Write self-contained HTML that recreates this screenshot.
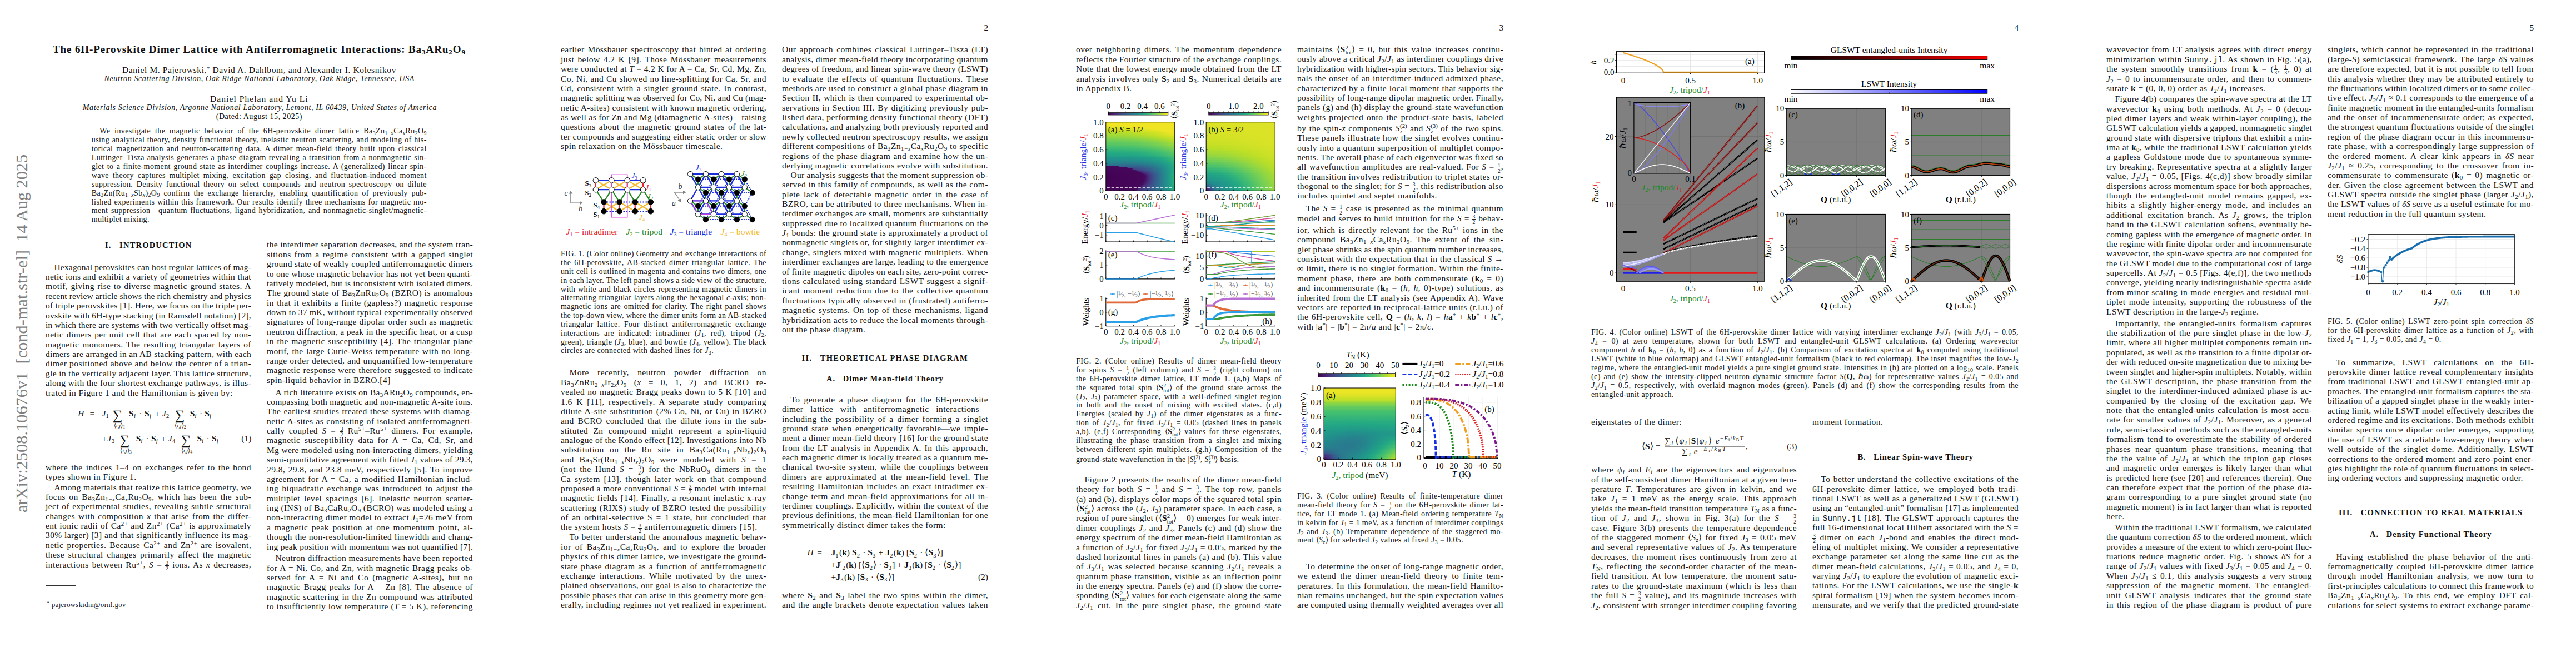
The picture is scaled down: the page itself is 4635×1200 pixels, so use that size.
<!DOCTYPE html>
<html><head><meta charset="utf-8"><title>paper</title><style>
html,body{margin:0;padding:0;background:#fff;}
body{width:4635px;height:1200px;position:relative;overflow:hidden;font-family:"Liberation Serif",serif;color:#111;}
.t{position:absolute;white-space:nowrap;line-height:20px;height:20px;}
.j{text-align:justify;text-align-last:justify;}
.t sub,.t sup{font-size:70%;line-height:0;vertical-align:baseline;position:relative;}
.t sub{top:0.28em;}
.t sup{top:-0.42em;}
.fr{display:inline-block;text-indent:0;font-size:62%;line-height:0.95em;vertical-align:-0.55em;text-align:center;text-align-last:center;letter-spacing:0;}
.fr .fn{display:block;border-bottom:0.07em solid #222;padding:0 0.1em;}
.fr .fd{display:block;}
.ss{display:inline-flex;flex-direction:column;font-size:70%;line-height:0.9;position:relative;top:-0.5em;letter-spacing:0;text-indent:0;vertical-align:baseline;}
.ss span{display:block;}
.tt{font-family:"Liberation Mono",monospace;font-size:92%;letter-spacing:0;}
.pg{position:absolute;top:0;width:927px;height:1200px;}

.c{position:absolute;white-space:nowrap;line-height:20px;height:20px;text-align:center;}
</style></head>
<body>
<div style="position:absolute;left:1989.8px;top:219.70px;width:124.0px;height:2.59px;background:linear-gradient(90deg,#f1e525 0.0%,#f1e525 2.5%,#f1e525 5.0%,#f1e525 7.5%,#f1e525 10.0%,#f1e525 12.5%,#f1e525 15.0%,#f0e525 17.5%,#f0e525 20.0%,#f0e525 22.5%,#f0e525 25.0%,#f0e525 27.5%,#f0e525 30.0%,#f0e525 32.5%,#f0e525 35.0%,#f0e525 37.5%,#f0e525 40.0%,#f0e525 42.5%,#f0e525 45.0%,#f0e525 47.5%,#f0e525 50.0%,#f0e525 52.5%,#f0e525 55.0%,#f0e525 57.5%,#f0e525 60.0%,#f0e525 62.5%,#f0e525 65.0%,#f0e525 67.5%,#f0e525 70.0%,#f0e525 72.5%,#f0e525 75.0%,#f0e525 77.5%,#f0e525 80.0%,#f0e525 82.5%,#f0e525 85.0%,#f0e525 87.5%,#f0e525 90.0%,#f0e525 92.5%,#f0e525 95.0%,#f0e525 97.5%,#f0e525 100.0%)"></div>
<div style="position:absolute;left:1989.8px;top:221.69px;width:124.0px;height:2.59px;background:linear-gradient(90deg,#f1e525 0.0%,#f1e525 2.5%,#f1e525 5.0%,#f1e525 7.5%,#f1e525 10.0%,#f1e525 12.5%,#f1e525 15.0%,#f0e525 17.5%,#f0e525 20.0%,#f0e525 22.5%,#f0e525 25.0%,#f0e525 27.5%,#f0e525 30.0%,#f0e525 32.5%,#f0e525 35.0%,#f0e525 37.5%,#f0e525 40.0%,#f0e525 42.5%,#f0e525 45.0%,#f0e525 47.5%,#f0e525 50.0%,#f0e525 52.5%,#f0e525 55.0%,#f0e525 57.5%,#f0e525 60.0%,#f0e525 62.5%,#f0e525 65.0%,#f0e525 67.5%,#f0e525 70.0%,#f0e525 72.5%,#f0e525 75.0%,#f0e525 77.5%,#f0e525 80.0%,#f0e525 82.5%,#f0e525 85.0%,#f0e525 87.5%,#f0e525 90.0%,#f0e525 92.5%,#f0e525 95.0%,#f0e525 97.5%,#f0e525 100.0%)"></div>
<div style="position:absolute;left:1989.8px;top:223.69px;width:124.0px;height:2.59px;background:linear-gradient(90deg,#f1e525 0.0%,#f1e525 2.5%,#f1e525 5.0%,#f1e525 7.5%,#f1e525 10.0%,#f1e525 12.5%,#f0e525 15.0%,#f0e525 17.5%,#f0e525 20.0%,#f0e525 22.5%,#f0e525 25.0%,#f0e525 27.5%,#f0e525 30.0%,#f0e525 32.5%,#f0e525 35.0%,#f0e525 37.5%,#f0e525 40.0%,#f0e525 42.5%,#f0e525 45.0%,#f0e525 47.5%,#f0e525 50.0%,#f0e525 52.5%,#f0e525 55.0%,#f0e525 57.5%,#f0e525 60.0%,#f0e525 62.5%,#f0e525 65.0%,#f0e525 67.5%,#f0e525 70.0%,#f0e525 72.5%,#f0e525 75.0%,#f0e525 77.5%,#f0e525 80.0%,#f0e525 82.5%,#f0e525 85.0%,#f0e525 87.5%,#f0e525 90.0%,#f0e525 92.5%,#f0e525 95.0%,#f0e525 97.5%,#f0e525 100.0%)"></div>
<div style="position:absolute;left:1989.8px;top:225.68px;width:124.0px;height:2.59px;background:linear-gradient(90deg,#e8e425 0.0%,#e8e425 2.5%,#e8e425 5.0%,#e8e425 7.5%,#e9e425 10.0%,#e9e425 12.5%,#e9e525 15.0%,#eae525 17.5%,#eae525 20.0%,#ebe525 22.5%,#ebe525 25.0%,#ece525 27.5%,#ede525 30.0%,#eee525 32.5%,#efe525 35.0%,#f0e525 37.5%,#f0e525 40.0%,#f0e525 42.5%,#f0e525 45.0%,#f0e525 47.5%,#f0e525 50.0%,#f0e525 52.5%,#f0e525 55.0%,#f0e525 57.5%,#f0e525 60.0%,#f0e525 62.5%,#f0e525 65.0%,#f0e525 67.5%,#f0e525 70.0%,#f0e525 72.5%,#f0e525 75.0%,#f0e525 77.5%,#f0e525 80.0%,#f0e525 82.5%,#f0e525 85.0%,#f0e525 87.5%,#f0e525 90.0%,#f0e525 92.5%,#f0e525 95.0%,#f0e525 97.5%,#f0e525 100.0%)"></div>
<div style="position:absolute;left:1989.8px;top:227.67px;width:124.0px;height:2.59px;background:linear-gradient(90deg,#dfe325 0.0%,#dfe325 2.5%,#dfe325 5.0%,#e0e325 7.5%,#e0e325 10.0%,#e0e325 12.5%,#e1e325 15.0%,#e1e425 17.5%,#e2e425 20.0%,#e2e425 22.5%,#e3e425 25.0%,#e4e425 27.5%,#e4e425 30.0%,#e5e425 32.5%,#e6e425 35.0%,#e7e425 37.5%,#e8e425 40.0%,#eae525 42.5%,#ebe525 45.0%,#ece525 47.5%,#eee525 50.0%,#efe525 52.5%,#f0e525 55.0%,#f0e525 57.5%,#f0e525 60.0%,#f0e525 62.5%,#f0e525 65.0%,#f0e525 67.5%,#f0e525 70.0%,#f0e525 72.5%,#f0e525 75.0%,#f0e525 77.5%,#f0e525 80.0%,#f0e525 82.5%,#f0e525 85.0%,#f0e525 87.5%,#f0e525 90.0%,#f0e525 92.5%,#f0e525 95.0%,#f0e525 97.5%,#f0e525 100.0%)"></div>
<div style="position:absolute;left:1989.8px;top:229.67px;width:124.0px;height:2.59px;background:linear-gradient(90deg,#d7e226 0.0%,#d7e226 2.5%,#d7e226 5.0%,#d7e226 7.5%,#d7e226 10.0%,#d7e226 12.5%,#d8e226 15.0%,#d8e226 17.5%,#d9e226 20.0%,#d9e326 22.5%,#dae326 25.0%,#dbe326 27.5%,#dce326 30.0%,#dde326 32.5%,#dee325 35.0%,#dfe325 37.5%,#e0e325 40.0%,#e1e325 42.5%,#e2e425 45.0%,#e4e425 47.5%,#e5e425 50.0%,#e6e425 52.5%,#e8e425 55.0%,#eae525 57.5%,#ebe525 60.0%,#ede525 62.5%,#efe525 65.0%,#f0e525 67.5%,#f0e525 70.0%,#f0e525 72.5%,#f0e525 75.0%,#f0e525 77.5%,#f0e525 80.0%,#f0e525 82.5%,#f0e525 85.0%,#f0e525 87.5%,#f0e525 90.0%,#f0e525 92.5%,#f0e525 95.0%,#f0e525 97.5%,#f0e525 100.0%)"></div>
<div style="position:absolute;left:1989.8px;top:231.66px;width:124.0px;height:2.59px;background:linear-gradient(90deg,#cee126 0.0%,#cee126 2.5%,#cee126 5.0%,#cee126 7.5%,#cee126 10.0%,#cfe126 12.5%,#cfe126 15.0%,#d0e126 17.5%,#d0e126 20.0%,#d1e126 22.5%,#d1e226 25.0%,#d2e226 27.5%,#d3e226 30.0%,#d4e226 32.5%,#d5e226 35.0%,#d6e226 37.5%,#d7e226 40.0%,#d8e226 42.5%,#dae326 45.0%,#dbe326 47.5%,#dce326 50.0%,#dee325 52.5%,#e0e325 55.0%,#e1e425 57.5%,#e3e425 60.0%,#e5e425 62.5%,#e7e425 65.0%,#e9e425 67.5%,#ebe525 70.0%,#ede525 72.5%,#efe525 75.0%,#f0e525 77.5%,#f0e525 80.0%,#f0e525 82.5%,#f0e525 85.0%,#f0e525 87.5%,#f0e525 90.0%,#f0e525 92.5%,#f0e525 95.0%,#f0e525 97.5%,#f0e525 100.0%)"></div>
<div style="position:absolute;left:1989.8px;top:233.65px;width:124.0px;height:2.59px;background:linear-gradient(90deg,#c5e026 0.0%,#c5e026 2.5%,#c5e026 5.0%,#c5e026 7.5%,#c6e026 10.0%,#c6e026 12.5%,#c6e026 15.0%,#c7e026 17.5%,#c7e026 20.0%,#c8e026 22.5%,#c9e026 25.0%,#c9e126 27.5%,#cae126 30.0%,#cbe126 32.5%,#cce126 35.0%,#cde126 37.5%,#cee126 40.0%,#d0e126 42.5%,#d1e126 45.0%,#d2e226 47.5%,#d4e226 50.0%,#d5e226 52.5%,#d7e226 55.0%,#d9e226 57.5%,#dae326 60.0%,#dce326 62.5%,#dee325 65.0%,#e0e325 67.5%,#e2e425 70.0%,#e5e425 72.5%,#e7e425 75.0%,#e9e525 77.5%,#ece525 80.0%,#efe525 82.5%,#f0e525 85.0%,#f0e525 87.5%,#f0e525 90.0%,#f0e525 92.5%,#f0e525 95.0%,#f0e525 97.5%,#f0e525 100.0%)"></div>
<div style="position:absolute;left:1989.8px;top:235.65px;width:124.0px;height:2.59px;background:linear-gradient(90deg,#bcdf27 0.0%,#bcdf27 2.5%,#bcdf27 5.0%,#bcdf26 7.5%,#bddf26 10.0%,#bddf26 12.5%,#bddf26 15.0%,#bedf26 17.5%,#bedf26 20.0%,#bfdf26 22.5%,#c0df26 25.0%,#c1df26 27.5%,#c1e026 30.0%,#c2e026 32.5%,#c3e026 35.0%,#c4e026 37.5%,#c6e026 40.0%,#c7e026 42.5%,#c8e026 45.0%,#cae126 47.5%,#cbe126 50.0%,#cde126 52.5%,#cee126 55.0%,#d0e126 57.5%,#d2e226 60.0%,#d4e226 62.5%,#d6e226 65.0%,#d8e226 67.5%,#dae326 70.0%,#dce326 72.5%,#dfe325 75.0%,#e1e425 77.5%,#e4e425 80.0%,#e6e425 82.5%,#e9e525 85.0%,#ece525 87.5%,#efe525 90.0%,#f0e525 92.5%,#f0e525 95.0%,#f0e525 97.5%,#f0e525 100.0%)"></div>
<div style="position:absolute;left:1989.8px;top:237.64px;width:124.0px;height:2.59px;background:linear-gradient(90deg,#b3dd2d 0.0%,#b3dd2d 2.5%,#b3dd2d 5.0%,#b3dd2c 7.5%,#b3dd2c 10.0%,#b4dd2c 12.5%,#b4dd2c 15.0%,#b5dd2b 17.5%,#b5dd2b 20.0%,#b6dd2b 22.5%,#b7de2a 25.0%,#b7de2a 27.5%,#b8de29 30.0%,#b9de28 32.5%,#bade28 35.0%,#bbdf27 37.5%,#bddf26 40.0%,#bedf26 42.5%,#bfdf26 45.0%,#c1df26 47.5%,#c2e026 50.0%,#c4e026 52.5%,#c6e026 55.0%,#c7e026 57.5%,#c9e126 60.0%,#cbe126 62.5%,#cde126 65.0%,#cfe126 67.5%,#d2e226 70.0%,#d4e226 72.5%,#d6e226 75.0%,#d9e226 77.5%,#dbe326 80.0%,#dee325 82.5%,#e1e325 85.0%,#e4e425 87.5%,#e7e425 90.0%,#eae525 92.5%,#ede525 95.0%,#f0e525 97.5%,#efe525 100.0%)"></div>
<div style="position:absolute;left:1989.8px;top:239.64px;width:124.0px;height:2.59px;background:linear-gradient(90deg,#a9db33 0.0%,#a9db33 2.5%,#a9db33 5.0%,#aadb32 7.5%,#aadb32 10.0%,#aadb32 12.5%,#abdb32 15.0%,#abdb31 17.5%,#acdb31 20.0%,#acdc31 22.5%,#addc30 25.0%,#aedc30 27.5%,#afdc2f 30.0%,#b0dc2e 32.5%,#b1dc2e 35.0%,#b2dd2d 37.5%,#b3dd2c 40.0%,#b5dd2b 42.5%,#b6de2a 45.0%,#b8de29 47.5%,#b9de28 50.0%,#bbdf27 52.5%,#bddf26 55.0%,#bfdf26 57.5%,#c0df26 60.0%,#c2e026 62.5%,#c5e026 65.0%,#c7e026 67.5%,#c9e026 70.0%,#cbe126 72.5%,#cee126 75.0%,#d0e126 77.5%,#d3e226 80.0%,#d6e226 82.5%,#d9e226 85.0%,#dbe326 87.5%,#dfe325 90.0%,#e2e425 92.5%,#e5e425 95.0%,#e8e425 97.5%,#ece525 100.0%)"></div>
<div style="position:absolute;left:1989.8px;top:241.63px;width:124.0px;height:2.59px;background:linear-gradient(90deg,#a0d939 0.0%,#a0d939 2.5%,#a0d939 5.0%,#a0d939 7.5%,#a0d938 10.0%,#a1d938 12.5%,#a1d938 15.0%,#a2d938 17.5%,#a2d937 20.0%,#a3da37 22.5%,#a4da36 25.0%,#a5da36 27.5%,#a5da35 30.0%,#a6da34 32.5%,#a8db34 35.0%,#a9db33 37.5%,#aadb32 40.0%,#abdb31 42.5%,#addc30 45.0%,#aedc2f 47.5%,#b0dc2e 50.0%,#b2dd2d 52.5%,#b4dd2c 55.0%,#b5dd2b 57.5%,#b7de2a 60.0%,#bade28 62.5%,#bcdf27 65.0%,#bedf26 67.5%,#c0df26 70.0%,#c3e026 72.5%,#c5e026 75.0%,#c8e026 77.5%,#cae126 80.0%,#cde126 82.5%,#d0e126 85.0%,#d3e226 87.5%,#d6e226 90.0%,#dae326 92.5%,#dde326 95.0%,#e0e325 97.5%,#e4e425 100.0%)"></div>
<div style="position:absolute;left:1989.8px;top:243.62px;width:124.0px;height:2.59px;background:linear-gradient(90deg,#96d73f 0.0%,#96d73f 2.5%,#96d73f 5.0%,#97d73f 7.5%,#97d73f 10.0%,#97d73e 12.5%,#98d73e 15.0%,#98d73e 17.5%,#99d73d 20.0%,#99d83d 22.5%,#9ad83c 25.0%,#9bd83c 27.5%,#9cd83b 30.0%,#9dd83b 32.5%,#9ed93a 35.0%,#9fd939 37.5%,#a1d938 40.0%,#a2d937 42.5%,#a3da36 45.0%,#a5da35 47.5%,#a7da34 50.0%,#a8db33 52.5%,#aadb32 55.0%,#acdb31 57.5%,#aedc30 60.0%,#b0dc2e 62.5%,#b3dd2d 65.0%,#b5dd2b 67.5%,#b7de2a 70.0%,#bade28 72.5%,#bddf26 75.0%,#bfdf26 77.5%,#c2e026 80.0%,#c5e026 82.5%,#c8e026 85.0%,#cbe126 87.5%,#cee126 90.0%,#d1e226 92.5%,#d5e226 95.0%,#d8e226 97.5%,#dce326 100.0%)"></div>
<div style="position:absolute;left:1989.8px;top:245.62px;width:124.0px;height:2.59px;background:linear-gradient(90deg,#8dd545 0.0%,#8dd545 2.5%,#8dd545 5.0%,#8dd545 7.5%,#8dd545 10.0%,#8ed544 12.5%,#8ed544 15.0%,#8fd544 17.5%,#8fd543 20.0%,#90d643 22.5%,#91d643 25.0%,#91d642 27.5%,#92d641 30.0%,#93d641 32.5%,#95d740 35.0%,#96d73f 37.5%,#97d73e 40.0%,#98d73d 42.5%,#9ad83d 45.0%,#9bd83c 47.5%,#9dd83a 50.0%,#9fd939 52.5%,#a1d938 55.0%,#a3da37 57.5%,#a5da35 60.0%,#a7da34 62.5%,#a9db33 65.0%,#acdb31 67.5%,#aedc2f 70.0%,#b1dc2e 72.5%,#b4dd2c 75.0%,#b6de2a 77.5%,#b9de28 80.0%,#bcdf26 82.5%,#bfdf26 85.0%,#c3e026 87.5%,#c6e026 90.0%,#c9e126 92.5%,#cde126 95.0%,#d0e126 97.5%,#d4e226 100.0%)"></div>
<div style="position:absolute;left:1989.8px;top:247.61px;width:124.0px;height:2.59px;background:linear-gradient(90deg,#83d34b 0.0%,#83d34b 2.5%,#83d34b 5.0%,#83d34b 7.5%,#83d34b 10.0%,#84d34b 12.5%,#84d34a 15.0%,#85d34a 17.5%,#85d34a 20.0%,#86d449 22.5%,#87d449 25.0%,#88d448 27.5%,#89d448 30.0%,#8ad447 32.5%,#8bd546 35.0%,#8cd545 37.5%,#8dd545 40.0%,#8fd544 42.5%,#90d643 45.0%,#92d642 47.5%,#94d641 50.0%,#95d73f 52.5%,#97d73e 55.0%,#99d83d 57.5%,#9bd83c 60.0%,#9ed83a 62.5%,#a0d939 65.0%,#a2d937 67.5%,#a5da35 70.0%,#a8db34 72.5%,#aadb32 75.0%,#addc30 77.5%,#b0dc2e 80.0%,#b3dd2c 82.5%,#b7de2a 85.0%,#bade28 87.5%,#bddf26 90.0%,#c1df26 92.5%,#c4e026 95.0%,#c8e026 97.5%,#cce126 100.0%)"></div>
<div style="position:absolute;left:1989.8px;top:249.60px;width:124.0px;height:2.59px;background:linear-gradient(90deg,#79d151 0.0%,#79d151 2.5%,#79d151 5.0%,#7ad151 7.5%,#7ad151 10.0%,#7ad151 12.5%,#7bd151 15.0%,#7bd150 17.5%,#7cd150 20.0%,#7cd14f 22.5%,#7dd24f 25.0%,#7ed24e 27.5%,#7fd24e 30.0%,#80d24d 32.5%,#81d24c 35.0%,#82d34c 37.5%,#84d34b 40.0%,#85d34a 42.5%,#87d449 45.0%,#88d448 47.5%,#8ad447 50.0%,#8cd546 52.5%,#8ed544 55.0%,#90d643 57.5%,#92d642 60.0%,#94d640 62.5%,#97d73f 65.0%,#99d73d 67.5%,#9cd83b 70.0%,#9ed93a 72.5%,#a1d938 75.0%,#a4da36 77.5%,#a7da34 80.0%,#aadb32 82.5%,#aedc30 85.0%,#b1dd2e 87.5%,#b5dd2b 90.0%,#b8de29 92.5%,#bcdf26 95.0%,#c0df26 97.5%,#c4e026 100.0%)"></div>
<div style="position:absolute;left:1989.8px;top:251.60px;width:124.0px;height:2.59px;background:linear-gradient(90deg,#71ce56 0.0%,#71ce56 2.5%,#71ce56 5.0%,#72ce56 7.5%,#72ce56 10.0%,#72ce56 12.5%,#72ce55 15.0%,#73cf55 17.5%,#73cf55 20.0%,#74cf54 22.5%,#75cf54 25.0%,#75cf54 27.5%,#76d053 30.0%,#77d053 32.5%,#78d052 35.0%,#79d152 37.5%,#7ad151 40.0%,#7bd150 42.5%,#7dd24f 45.0%,#7fd24e 47.5%,#80d24d 50.0%,#82d34c 52.5%,#84d34b 55.0%,#86d449 57.5%,#88d448 60.0%,#8bd446 62.5%,#8dd545 65.0%,#90d643 67.5%,#92d641 70.0%,#95d740 72.5%,#98d73e 75.0%,#9bd83c 77.5%,#9ed93a 80.0%,#a1d938 82.5%,#a5da36 85.0%,#a8db33 87.5%,#acdb31 90.0%,#b0dc2f 92.5%,#b4dd2c 95.0%,#b8de29 97.5%,#bcdf27 100.0%)"></div>
<div style="position:absolute;left:1989.8px;top:253.59px;width:124.0px;height:2.59px;background:linear-gradient(90deg,#69cb5b 0.0%,#69cb5b 2.5%,#69cb5b 5.0%,#6acc5a 7.5%,#6acc5a 10.0%,#6acc5a 12.5%,#6acc5a 15.0%,#6bcc5a 17.5%,#6bcc59 20.0%,#6ccc59 22.5%,#6dcd59 25.0%,#6dcd58 27.5%,#6ecd58 30.0%,#6fcd57 32.5%,#70ce57 35.0%,#71ce56 37.5%,#72ce56 40.0%,#73cf55 42.5%,#74cf54 45.0%,#76d053 47.5%,#77d053 50.0%,#79d152 52.5%,#7ad151 55.0%,#7cd24f 57.5%,#7fd24e 60.0%,#81d24c 62.5%,#83d34b 65.0%,#86d449 67.5%,#89d448 70.0%,#8cd546 72.5%,#8fd544 75.0%,#92d642 77.5%,#95d740 80.0%,#98d73e 82.5%,#9cd83b 85.0%,#9fd939 87.5%,#a3da37 90.0%,#a7da34 92.5%,#abdb32 95.0%,#afdc2f 97.5%,#b3dd2c 100.0%)"></div>
<div style="position:absolute;left:1989.8px;top:255.58px;width:124.0px;height:2.59px;background:linear-gradient(90deg,#61c95f 0.0%,#61c95f 2.5%,#61c95f 5.0%,#61c95f 7.5%,#62c95f 10.0%,#62c95f 12.5%,#62c95f 15.0%,#63c95e 17.5%,#63c95e 20.0%,#64ca5e 22.5%,#65ca5d 25.0%,#65ca5d 27.5%,#66ca5c 30.0%,#67cb5c 32.5%,#68cb5b 35.0%,#69cb5b 37.5%,#6acc5a 40.0%,#6bcc5a 42.5%,#6ccc59 45.0%,#6ecd58 47.5%,#6fcd57 50.0%,#71ce56 52.5%,#72ce55 55.0%,#74cf54 57.5%,#76d053 60.0%,#78d052 62.5%,#7ad151 65.0%,#7cd24f 67.5%,#7fd24e 70.0%,#82d34c 72.5%,#85d34a 75.0%,#88d448 77.5%,#8cd546 80.0%,#8fd544 82.5%,#93d641 85.0%,#96d73f 87.5%,#9ad83c 90.0%,#9ed93a 92.5%,#a2d937 95.0%,#a7da34 97.5%,#abdb32 100.0%)"></div>
<div style="position:absolute;left:1989.8px;top:257.58px;width:124.0px;height:2.59px;background:linear-gradient(90deg,#59c664 0.0%,#59c664 2.5%,#59c664 5.0%,#59c664 7.5%,#5ac664 10.0%,#5ac663 12.5%,#5ac663 15.0%,#5bc763 17.5%,#5bc763 20.0%,#5cc762 22.5%,#5cc762 25.0%,#5dc762 27.5%,#5ec861 30.0%,#5fc861 32.5%,#60c860 35.0%,#61c960 37.5%,#62c95f 40.0%,#63c95e 42.5%,#64ca5d 45.0%,#66ca5d 47.5%,#67cb5c 50.0%,#69cb5b 52.5%,#6acc5a 55.0%,#6ccc59 57.5%,#6ecd58 60.0%,#70ce57 62.5%,#72ce56 65.0%,#74cf54 67.5%,#76d053 70.0%,#79d152 72.5%,#7cd150 75.0%,#7fd24e 77.5%,#82d34c 80.0%,#86d34a 82.5%,#89d447 85.0%,#8dd545 87.5%,#91d642 90.0%,#95d740 92.5%,#99d83d 95.0%,#9ed93a 97.5%,#a2d937 100.0%)"></div>
<div style="position:absolute;left:1989.8px;top:259.57px;width:124.0px;height:2.59px;background:linear-gradient(90deg,#51c369 0.0%,#51c369 2.5%,#51c369 5.0%,#51c368 7.5%,#51c368 10.0%,#52c468 12.5%,#52c468 15.0%,#52c468 17.5%,#53c467 20.0%,#53c467 22.5%,#54c467 25.0%,#55c566 27.5%,#56c566 30.0%,#56c565 32.5%,#57c565 35.0%,#58c664 37.5%,#5ac664 40.0%,#5bc763 42.5%,#5cc762 45.0%,#5dc761 47.5%,#5fc861 50.0%,#60c860 52.5%,#62c95f 55.0%,#64ca5e 57.5%,#66ca5d 60.0%,#68cb5b 62.5%,#6acc5a 65.0%,#6ccc59 67.5%,#6ecd58 70.0%,#71ce56 72.5%,#73cf55 75.0%,#76d053 77.5%,#79d152 80.0%,#7cd150 82.5%,#80d24d 85.0%,#84d34b 87.5%,#88d448 90.0%,#8cd545 92.5%,#91d642 95.0%,#95d740 97.5%,#9ad83c 100.0%)"></div>
<div style="position:absolute;left:1989.8px;top:261.56px;width:124.0px;height:2.59px;background:linear-gradient(90deg,#48c06d 0.0%,#48c06d 2.5%,#49c16d 5.0%,#49c16d 7.5%,#49c16d 10.0%,#49c16d 12.5%,#4ac16d 15.0%,#4ac16d 17.5%,#4bc16c 20.0%,#4bc16c 22.5%,#4cc26c 25.0%,#4cc26b 27.5%,#4dc26b 30.0%,#4ec26a 32.5%,#4fc36a 35.0%,#50c369 37.5%,#51c368 40.0%,#52c468 42.5%,#54c467 45.0%,#55c566 47.5%,#57c565 50.0%,#58c664 52.5%,#5ac663 55.0%,#5cc762 57.5%,#5ec861 60.0%,#60c860 62.5%,#62c95f 65.0%,#64ca5e 67.5%,#66ca5c 70.0%,#69cb5b 72.5%,#6ccc59 75.0%,#6ecd58 77.5%,#71ce56 80.0%,#74cf54 82.5%,#77d053 85.0%,#7bd151 87.5%,#7fd24e 90.0%,#83d34b 92.5%,#88d448 95.0%,#8dd545 97.5%,#91d642 100.0%)"></div>
<div style="position:absolute;left:1989.8px;top:263.56px;width:124.0px;height:2.59px;background:linear-gradient(90deg,#42bd71 0.0%,#42bd71 2.5%,#42bd71 5.0%,#42bd71 7.5%,#42be71 10.0%,#42be71 12.5%,#42be71 15.0%,#42be71 17.5%,#43be71 20.0%,#43be71 22.5%,#44bf70 25.0%,#44bf70 27.5%,#45bf70 30.0%,#46c06f 32.5%,#47c06f 35.0%,#48c06e 37.5%,#49c16d 40.0%,#4ac16d 42.5%,#4bc16c 45.0%,#4dc26b 47.5%,#4ec26a 50.0%,#50c369 52.5%,#52c468 55.0%,#53c467 57.5%,#55c566 60.0%,#57c565 62.5%,#5ac664 65.0%,#5cc762 67.5%,#5ec861 70.0%,#61c95f 72.5%,#64ca5e 75.0%,#66ca5c 77.5%,#69cb5b 80.0%,#6ccc59 82.5%,#70ce57 85.0%,#73cf55 87.5%,#77d053 90.0%,#7ad151 92.5%,#7fd24e 95.0%,#84d34b 97.5%,#89d447 100.0%)"></div>
<div style="position:absolute;left:1989.8px;top:265.55px;width:124.0px;height:2.59px;background:linear-gradient(90deg,#3cba75 0.0%,#3cba75 2.5%,#3cba75 5.0%,#3cba75 7.5%,#3cba74 10.0%,#3dba74 12.5%,#3dba74 15.0%,#3dba74 17.5%,#3dbb74 20.0%,#3ebb74 22.5%,#3ebb73 25.0%,#3fbb73 27.5%,#3fbc73 30.0%,#40bc73 32.5%,#40bc72 35.0%,#41bd72 37.5%,#42bd71 40.0%,#42be71 42.5%,#43be70 45.0%,#44bf70 47.5%,#46c06f 50.0%,#47c06e 52.5%,#49c16d 55.0%,#4bc16c 57.5%,#4dc26b 60.0%,#4fc36a 62.5%,#51c368 65.0%,#54c467 67.5%,#56c566 70.0%,#59c664 72.5%,#5bc763 75.0%,#5ec861 77.5%,#61c95f 80.0%,#65ca5d 82.5%,#68cb5b 85.0%,#6bcc59 87.5%,#6fcd57 90.0%,#73cf55 92.5%,#77d053 95.0%,#7bd150 97.5%,#80d24d 100.0%)"></div>
<div style="position:absolute;left:1989.8px;top:267.55px;width:124.0px;height:2.59px;background:linear-gradient(90deg,#37b678 0.0%,#37b678 2.5%,#37b678 5.0%,#37b678 7.5%,#37b678 10.0%,#37b678 12.5%,#37b677 15.0%,#38b777 17.5%,#38b777 20.0%,#38b777 22.5%,#39b777 25.0%,#39b876 27.5%,#3ab876 30.0%,#3ab876 32.5%,#3bb975 35.0%,#3bb975 37.5%,#3cba75 40.0%,#3dba74 42.5%,#3ebb74 45.0%,#3fbb73 47.5%,#40bc73 50.0%,#41bd72 52.5%,#42bd71 55.0%,#43be71 57.5%,#44bf70 60.0%,#46c06f 62.5%,#49c16d 65.0%,#4bc16c 67.5%,#4ec26a 70.0%,#50c369 72.5%,#53c467 75.0%,#56c566 77.5%,#59c664 80.0%,#5dc762 82.5%,#60c860 85.0%,#64ca5e 87.5%,#68cb5c 90.0%,#6bcc59 92.5%,#70ce57 95.0%,#74cf55 97.5%,#78d052 100.0%)"></div>
<div style="position:absolute;left:1989.8px;top:269.54px;width:124.0px;height:2.59px;background:linear-gradient(90deg,#31b27b 0.0%,#31b27b 2.5%,#31b27b 5.0%,#31b27b 7.5%,#32b27b 10.0%,#32b37b 12.5%,#32b37b 15.0%,#32b37b 17.5%,#32b37a 20.0%,#33b37a 22.5%,#33b47a 25.0%,#34b47a 27.5%,#34b479 30.0%,#35b579 32.5%,#35b579 35.0%,#36b578 37.5%,#36b678 40.0%,#37b678 42.5%,#38b777 45.0%,#39b877 47.5%,#3ab876 50.0%,#3bb975 52.5%,#3cba75 55.0%,#3dba74 57.5%,#3fbb73 60.0%,#40bc72 62.5%,#41bd71 65.0%,#43be71 67.5%,#45bf6f 70.0%,#48c06e 72.5%,#4bc16c 75.0%,#4ec26a 77.5%,#51c368 80.0%,#55c566 82.5%,#58c664 85.0%,#5cc762 87.5%,#60c860 90.0%,#64ca5e 92.5%,#68cb5b 95.0%,#6dcd59 97.5%,#71ce56 100.0%)"></div>
<div style="position:absolute;left:1989.8px;top:271.53px;width:124.0px;height:2.59px;background:linear-gradient(90deg,#2caf7e 0.0%,#2caf7e 2.5%,#2caf7e 5.0%,#2caf7e 7.5%,#2caf7e 10.0%,#2caf7e 12.5%,#2caf7e 15.0%,#2caf7e 17.5%,#2daf7e 20.0%,#2daf7d 22.5%,#2db07d 25.0%,#2eb07d 27.5%,#2eb07d 30.0%,#2fb17c 32.5%,#2fb17c 35.0%,#30b17c 37.5%,#31b27b 40.0%,#31b27b 42.5%,#32b37a 45.0%,#33b47a 47.5%,#34b479 50.0%,#35b579 52.5%,#36b678 55.0%,#38b777 57.5%,#39b876 60.0%,#3ab976 62.5%,#3cba75 65.0%,#3ebb74 67.5%,#3fbc73 70.0%,#41bd72 72.5%,#43be71 75.0%,#46c06f 77.5%,#49c16d 80.0%,#4dc26b 82.5%,#50c369 85.0%,#54c467 87.5%,#58c664 90.0%,#5dc762 92.5%,#61c95f 95.0%,#66ca5d 97.5%,#6acc5a 100.0%)"></div>
<div style="position:absolute;left:1989.8px;top:273.53px;width:124.0px;height:2.59px;background:linear-gradient(90deg,#26ab82 0.0%,#26ab82 2.5%,#26ab82 5.0%,#26ab82 7.5%,#26ab82 10.0%,#26ab81 12.5%,#27ab81 15.0%,#27ab81 17.5%,#27ab81 20.0%,#27ac81 22.5%,#28ac81 25.0%,#28ac80 27.5%,#28ac80 30.0%,#29ad80 32.5%,#2aad80 35.0%,#2aae7f 37.5%,#2bae7f 40.0%,#2cae7e 42.5%,#2caf7e 45.0%,#2db07d 47.5%,#2eb07d 50.0%,#2fb17c 52.5%,#31b27b 55.0%,#32b37b 57.5%,#33b47a 60.0%,#35b579 62.5%,#36b678 65.0%,#38b777 67.5%,#3ab876 70.0%,#3cb975 72.5%,#3ebb74 75.0%,#40bc73 77.5%,#42be71 80.0%,#44bf70 82.5%,#48c06e 85.0%,#4cc26b 87.5%,#51c369 90.0%,#55c566 92.5%,#5ac664 95.0%,#5ec861 97.5%,#63c95e 100.0%)"></div>
<div style="position:absolute;left:1989.8px;top:275.52px;width:124.0px;height:2.59px;background:linear-gradient(90deg,#22a784 0.0%,#22a784 2.5%,#22a784 5.0%,#22a784 7.5%,#22a784 10.0%,#22a784 12.5%,#22a784 15.0%,#22a784 17.5%,#22a784 20.0%,#22a884 22.5%,#22a884 25.0%,#22a884 27.5%,#23a884 30.0%,#23a983 32.5%,#24a983 35.0%,#24a983 37.5%,#25aa82 40.0%,#26aa82 42.5%,#26ab81 45.0%,#27ac81 47.5%,#28ac80 50.0%,#29ad80 52.5%,#2bae7f 55.0%,#2caf7e 57.5%,#2db07d 60.0%,#2fb17c 62.5%,#30b27c 65.0%,#32b37b 67.5%,#34b479 70.0%,#36b578 72.5%,#38b777 75.0%,#3ab876 77.5%,#3dba74 80.0%,#3fbc73 82.5%,#42bd71 85.0%,#44bf70 87.5%,#49c16d 90.0%,#4dc26b 92.5%,#52c468 95.0%,#57c565 97.5%,#5dc762 100.0%)"></div>
<div style="position:absolute;left:1989.8px;top:277.51px;width:124.0px;height:2.59px;background:linear-gradient(90deg,#22a386 0.0%,#22a386 2.5%,#22a386 5.0%,#22a386 7.5%,#22a386 10.0%,#22a386 12.5%,#22a386 15.0%,#22a386 17.5%,#22a386 20.0%,#22a486 22.5%,#22a485 25.0%,#22a485 27.5%,#22a485 30.0%,#22a585 32.5%,#22a585 35.0%,#22a585 37.5%,#22a685 40.0%,#22a685 42.5%,#22a784 45.0%,#22a784 47.5%,#22a884 50.0%,#23a983 52.5%,#24aa83 55.0%,#26ab82 57.5%,#27ac81 60.0%,#29ad80 62.5%,#2aae7f 65.0%,#2caf7e 67.5%,#2eb07d 70.0%,#30b27c 72.5%,#32b37a 75.0%,#35b579 77.5%,#37b678 80.0%,#3ab876 82.5%,#3cba75 85.0%,#3fbc73 87.5%,#42be71 90.0%,#46c06f 92.5%,#4bc16c 95.0%,#50c369 97.5%,#56c566 100.0%)"></div>
<div style="position:absolute;left:1989.8px;top:279.51px;width:124.0px;height:2.59px;background:linear-gradient(90deg,#229f87 0.0%,#229f87 2.5%,#229f87 5.0%,#229f87 7.5%,#229f87 10.0%,#229f87 12.5%,#229f87 15.0%,#229f87 17.5%,#229f87 20.0%,#229f87 22.5%,#22a087 25.0%,#22a087 27.5%,#22a087 30.0%,#22a087 32.5%,#22a187 35.0%,#22a186 37.5%,#22a186 40.0%,#22a286 42.5%,#22a286 45.0%,#22a386 47.5%,#22a485 50.0%,#22a585 52.5%,#22a585 55.0%,#22a685 57.5%,#22a784 60.0%,#23a884 62.5%,#24aa83 65.0%,#26ab82 67.5%,#28ac80 70.0%,#2aae7f 72.5%,#2daf7e 75.0%,#2fb17c 77.5%,#32b37b 80.0%,#34b479 82.5%,#37b678 85.0%,#3ab876 87.5%,#3dba74 90.0%,#40bd72 92.5%,#44bf70 95.0%,#49c16d 97.5%,#4fc36a 100.0%)"></div>
<div style="position:absolute;left:1989.8px;top:281.50px;width:124.0px;height:2.59px;background:linear-gradient(90deg,#219b89 0.0%,#219b89 2.5%,#219b89 5.0%,#219b89 7.5%,#219b89 10.0%,#219b89 12.5%,#219b89 15.0%,#219b89 17.5%,#219b89 20.0%,#219b88 22.5%,#219b88 25.0%,#219b88 27.5%,#219c88 30.0%,#219c88 32.5%,#219c88 35.0%,#229d88 37.5%,#229d88 40.0%,#229d88 42.5%,#229e87 45.0%,#229f87 47.5%,#229f87 50.0%,#22a087 52.5%,#22a186 55.0%,#22a286 57.5%,#22a386 60.0%,#22a485 62.5%,#22a585 65.0%,#22a784 67.5%,#22a884 70.0%,#24aa83 72.5%,#27ab81 75.0%,#29ad80 77.5%,#2caf7e 80.0%,#2fb17c 82.5%,#32b37b 85.0%,#35b579 87.5%,#38b777 90.0%,#3cb975 92.5%,#3fbc73 95.0%,#43be71 97.5%,#49c16d 100.0%)"></div>
<div style="position:absolute;left:1989.8px;top:283.49px;width:124.0px;height:2.59px;background:linear-gradient(90deg,#21968a 0.0%,#21968a 2.5%,#21968a 5.0%,#21968a 7.5%,#21968a 10.0%,#21968a 12.5%,#21978a 15.0%,#21978a 17.5%,#21978a 20.0%,#21978a 22.5%,#21978a 25.0%,#21978a 27.5%,#21978a 30.0%,#21978a 32.5%,#21988a 35.0%,#21988a 37.5%,#219889 40.0%,#219989 42.5%,#219989 45.0%,#219a89 47.5%,#219b89 50.0%,#219b88 52.5%,#219c88 55.0%,#229d88 57.5%,#229e87 60.0%,#22a087 62.5%,#22a187 65.0%,#22a286 67.5%,#22a485 70.0%,#22a585 72.5%,#22a784 75.0%,#23a983 77.5%,#26ab82 80.0%,#29ad80 82.5%,#2caf7e 85.0%,#30b17c 87.5%,#33b47a 90.0%,#37b678 92.5%,#3bb975 95.0%,#3fbb73 97.5%,#43be71 100.0%)"></div>
<div style="position:absolute;left:1989.8px;top:285.49px;width:124.0px;height:2.59px;background:linear-gradient(90deg,#21928c 0.0%,#21928c 2.5%,#21928c 5.0%,#21928c 7.5%,#21928c 10.0%,#21928c 12.5%,#21928c 15.0%,#21928c 17.5%,#21928c 20.0%,#21928c 22.5%,#21928c 25.0%,#21928c 27.5%,#21928c 30.0%,#21928b 32.5%,#21938b 35.0%,#21938b 37.5%,#21938b 40.0%,#21948b 42.5%,#21948b 45.0%,#21958b 47.5%,#21968a 50.0%,#21968a 52.5%,#21978a 55.0%,#219889 57.5%,#219a89 60.0%,#219b89 62.5%,#219c88 65.0%,#229e88 67.5%,#229f87 70.0%,#22a186 72.5%,#22a386 75.0%,#22a585 77.5%,#22a784 80.0%,#24a983 82.5%,#27ab81 85.0%,#2bae7f 87.5%,#2eb07d 90.0%,#32b37a 92.5%,#36b678 95.0%,#3bb976 97.5%,#3fbc73 100.0%)"></div>
<div style="position:absolute;left:1989.8px;top:287.48px;width:124.0px;height:2.59px;background:linear-gradient(90deg,#228d8c 0.0%,#228d8c 2.5%,#228d8c 5.0%,#228d8c 7.5%,#228d8c 10.0%,#228d8c 12.5%,#228d8c 15.0%,#228d8c 17.5%,#228d8c 20.0%,#228d8c 22.5%,#228d8c 25.0%,#228d8c 27.5%,#228d8c 30.0%,#228d8c 32.5%,#228d8c 35.0%,#228e8c 37.5%,#228e8c 40.0%,#228e8c 42.5%,#228f8c 45.0%,#21908c 47.5%,#21908c 50.0%,#21918c 52.5%,#21928c 55.0%,#21938b 57.5%,#21958b 60.0%,#21968a 62.5%,#21978a 65.0%,#219989 67.5%,#219b89 70.0%,#229d88 72.5%,#229f87 75.0%,#22a187 77.5%,#22a386 80.0%,#22a585 82.5%,#22a884 85.0%,#25aa82 87.5%,#29ad80 90.0%,#2eb07d 92.5%,#32b37b 95.0%,#37b678 97.5%,#3bb975 100.0%)"></div>
<div style="position:absolute;left:1989.8px;top:289.47px;width:124.0px;height:2.59px;background:linear-gradient(90deg,#24888d 0.0%,#24888d 2.5%,#24888d 5.0%,#24888d 7.5%,#24888d 10.0%,#24888d 12.5%,#24888d 15.0%,#24888d 17.5%,#24878d 20.0%,#24878d 22.5%,#25878d 25.0%,#25878d 27.5%,#25878d 30.0%,#25878d 32.5%,#24878d 35.0%,#24888d 37.5%,#24888d 40.0%,#24888d 42.5%,#24898d 45.0%,#248a8d 47.5%,#238a8d 50.0%,#238b8c 52.5%,#238d8c 55.0%,#228e8c 57.5%,#228f8c 60.0%,#21918c 62.5%,#21928c 65.0%,#21948b 67.5%,#21968a 70.0%,#21988a 72.5%,#219a89 75.0%,#219c88 77.5%,#229f87 80.0%,#22a186 82.5%,#22a485 85.0%,#22a784 87.5%,#25aa82 90.0%,#29ad80 92.5%,#2eb07d 95.0%,#33b37a 97.5%,#38b777 100.0%)"></div>
<div style="position:absolute;left:1989.8px;top:291.47px;width:124.0px;height:2.59px;background:linear-gradient(90deg,#26838d 0.0%,#26838d 2.5%,#26838d 5.0%,#26838d 7.5%,#26838d 10.0%,#26828d 12.5%,#26828d 15.0%,#26828d 17.5%,#27828d 20.0%,#27818d 22.5%,#27818d 25.0%,#27818d 27.5%,#27818d 30.0%,#27818d 32.5%,#27818d 35.0%,#27818d 37.5%,#27828d 40.0%,#26828d 42.5%,#26838d 45.0%,#26838d 47.5%,#26848d 50.0%,#25858d 52.5%,#25868d 55.0%,#24888d 57.5%,#24898d 60.0%,#238b8c 62.5%,#228d8c 65.0%,#228f8c 67.5%,#21918c 70.0%,#21938b 72.5%,#21968a 75.0%,#21988a 77.5%,#219b89 80.0%,#229e88 82.5%,#22a087 85.0%,#22a386 87.5%,#22a784 90.0%,#25aa82 92.5%,#2aad7f 95.0%,#2fb17c 97.5%,#34b479 100.0%)"></div>
<div style="position:absolute;left:1989.8px;top:293.46px;width:124.0px;height:2.59px;background:linear-gradient(90deg,#287e8e 0.0%,#287d8e 2.5%,#287d8e 5.0%,#287d8e 7.5%,#287d8e 10.0%,#287d8e 12.5%,#287c8e 15.0%,#297c8e 17.5%,#297b8e 20.0%,#297b8e 22.5%,#297b8e 25.0%,#297a8e 27.5%,#297a8e 30.0%,#297a8e 32.5%,#297a8e 35.0%,#297a8e 37.5%,#297b8e 40.0%,#297b8e 42.5%,#297c8e 45.0%,#287c8e 47.5%,#287d8e 50.0%,#287e8d 52.5%,#27808d 55.0%,#27818d 57.5%,#26838d 60.0%,#25858d 62.5%,#25878d 65.0%,#24898d 67.5%,#238c8c 70.0%,#228e8c 72.5%,#21918c 75.0%,#21948b 77.5%,#21978a 80.0%,#219a89 82.5%,#229d88 85.0%,#22a087 87.5%,#22a486 90.0%,#22a784 92.5%,#26ab82 95.0%,#2caf7e 97.5%,#32b37b 100.0%)"></div>
<div style="position:absolute;left:1989.8px;top:295.45px;width:124.0px;height:2.59px;background:linear-gradient(90deg,#2a778e 0.0%,#2a778e 2.5%,#2a778e 5.0%,#2a778e 7.5%,#2b778e 10.0%,#2b768e 12.5%,#2b768e 15.0%,#2b758e 17.5%,#2c758e 20.0%,#2c748e 22.5%,#2c748e 25.0%,#2c738e 27.5%,#2c738e 30.0%,#2c738e 32.5%,#2c728e 35.0%,#2c738e 37.5%,#2c738e 40.0%,#2c738e 42.5%,#2c748e 45.0%,#2b758e 47.5%,#2b768e 50.0%,#2a778e 52.5%,#2a798e 55.0%,#297a8e 57.5%,#287c8e 60.0%,#287e8d 62.5%,#27818d 65.0%,#26838d 67.5%,#25868d 70.0%,#24898d 72.5%,#238c8c 75.0%,#228f8c 77.5%,#21938b 80.0%,#21968a 82.5%,#219989 85.0%,#229d88 87.5%,#22a187 90.0%,#22a585 92.5%,#23a983 95.0%,#29ad80 97.5%,#2fb17c 100.0%)"></div>
<div style="position:absolute;left:1989.8px;top:297.45px;width:124.0px;height:2.59px;background:linear-gradient(90deg,#2d708e 0.0%,#2d708e 2.5%,#2d708e 5.0%,#2e708e 7.5%,#2e6f8e 10.0%,#2e6f8e 12.5%,#2e6e8e 15.0%,#2f6d8e 17.5%,#2f6d8e 20.0%,#2f6c8e 22.5%,#306b8d 25.0%,#306b8d 27.5%,#306a8d 30.0%,#306a8d 32.5%,#306a8d 35.0%,#306a8d 37.5%,#306a8d 40.0%,#306b8d 42.5%,#306b8d 45.0%,#2f6c8e 47.5%,#2f6e8e 50.0%,#2e6f8e 52.5%,#2d718e 55.0%,#2c738e 57.5%,#2b758e 60.0%,#2a788e 62.5%,#297a8e 65.0%,#287d8e 67.5%,#27808d 70.0%,#26838d 72.5%,#25878d 75.0%,#238b8d 77.5%,#228e8c 80.0%,#21928c 82.5%,#21968a 85.0%,#219a89 87.5%,#229e87 90.0%,#22a286 92.5%,#22a784 95.0%,#27ab81 97.5%,#2db07d 100.0%)"></div>
<div style="position:absolute;left:1989.8px;top:299.44px;width:124.0px;height:2.59px;background:linear-gradient(90deg,#45085a 0.0%,#45085a 2.5%,#45085a 5.0%,#45085a 7.5%,#45085a 10.0%,#45085a 12.5%,#45085a 15.0%,#45085b 17.5%,#34628d 20.0%,#34628d 22.5%,#34618d 25.0%,#34618d 27.5%,#34608d 30.0%,#35608d 32.5%,#35608d 35.0%,#35608d 37.5%,#34608d 40.0%,#34618d 42.5%,#34628d 45.0%,#33638d 47.5%,#32658d 50.0%,#32678d 52.5%,#31698d 55.0%,#306b8d 57.5%,#2f6e8e 60.0%,#2d708e 62.5%,#2c738e 65.0%,#2b778e 67.5%,#297a8e 70.0%,#287e8e 72.5%,#26828d 75.0%,#25868d 77.5%,#238a8d 80.0%,#228f8c 82.5%,#21938b 85.0%,#21978a 87.5%,#219c88 90.0%,#22a087 92.5%,#22a585 95.0%,#25aa82 97.5%,#2caf7e 100.0%)"></div>
<div style="position:absolute;left:1989.8px;top:301.44px;width:124.0px;height:2.59px;background:linear-gradient(90deg,#45075a 0.0%,#45075a 2.5%,#45075a 5.0%,#45075a 7.5%,#45075a 10.0%,#45075a 12.5%,#45075a 15.0%,#45075a 17.5%,#45075a 20.0%,#45085a 22.5%,#45085a 25.0%,#45085a 27.5%,#45085b 30.0%,#3b528a 32.5%,#3b538a 35.0%,#3a538a 37.5%,#3a548b 40.0%,#39558b 42.5%,#39578b 45.0%,#38588c 47.5%,#375a8c 50.0%,#365d8d 52.5%,#35608d 55.0%,#33628d 57.5%,#32668d 60.0%,#31698d 62.5%,#2f6c8e 65.0%,#2d708e 67.5%,#2c748e 70.0%,#2a798e 72.5%,#287d8e 75.0%,#27828d 77.5%,#25868d 80.0%,#238b8c 82.5%,#21908c 85.0%,#21958b 87.5%,#219a89 90.0%,#229f87 92.5%,#22a485 95.0%,#23a983 97.5%,#2bae7f 100.0%)"></div>
<div style="position:absolute;left:1989.8px;top:303.43px;width:124.0px;height:2.59px;background:linear-gradient(90deg,#450659 0.0%,#450659 2.5%,#450659 5.0%,#450659 7.5%,#450659 10.0%,#450659 12.5%,#450759 15.0%,#450759 17.5%,#450759 20.0%,#45075a 22.5%,#45075a 25.0%,#45075a 27.5%,#45075a 30.0%,#45085a 32.5%,#45085a 35.0%,#45085b 37.5%,#414487 40.0%,#404788 42.5%,#3f4988 45.0%,#3e4c89 47.5%,#3c4e89 50.0%,#3b528a 52.5%,#39558b 55.0%,#38598c 57.5%,#365d8d 60.0%,#34618d 62.5%,#32658d 65.0%,#306a8d 67.5%,#2e6e8e 70.0%,#2c738e 72.5%,#2a788e 75.0%,#287d8e 77.5%,#26838d 80.0%,#24888d 82.5%,#228e8c 85.0%,#21938b 87.5%,#219889 90.0%,#229e88 92.5%,#22a386 95.0%,#23a884 97.5%,#2bae7f 100.0%)"></div>
<div style="position:absolute;left:1989.8px;top:305.42px;width:124.0px;height:2.59px;background:linear-gradient(90deg,#450558 0.0%,#450558 2.5%,#450558 5.0%,#450658 7.5%,#450658 10.0%,#450658 12.5%,#450659 15.0%,#450659 17.5%,#450659 20.0%,#450659 22.5%,#450659 25.0%,#450759 27.5%,#450759 30.0%,#45075a 32.5%,#45075a 35.0%,#45075a 37.5%,#45085a 40.0%,#45085b 42.5%,#44367f 45.0%,#433b82 47.5%,#424085 50.0%,#414587 52.5%,#3f4a88 55.0%,#3c4e89 57.5%,#3a538a 60.0%,#38598c 62.5%,#355e8d 65.0%,#33638d 67.5%,#31698d 70.0%,#2e6e8e 72.5%,#2c748e 75.0%,#297a8e 77.5%,#27808d 80.0%,#25868d 82.5%,#238c8c 85.0%,#21928c 87.5%,#21978a 90.0%,#229d88 92.5%,#22a386 95.0%,#23a884 97.5%,#2bae7f 100.0%)"></div>
<div style="position:absolute;left:1989.8px;top:307.42px;width:124.0px;height:2.59px;background:linear-gradient(90deg,#440558 0.0%,#440558 2.5%,#440558 5.0%,#440558 7.5%,#440558 10.0%,#440558 12.5%,#440558 15.0%,#440558 17.5%,#450558 20.0%,#450658 22.5%,#450659 25.0%,#450659 27.5%,#450659 30.0%,#450759 32.5%,#450759 35.0%,#45075a 37.5%,#45075a 40.0%,#45075a 42.5%,#45085a 45.0%,#482475 47.5%,#462d7a 50.0%,#44357e 52.5%,#433c83 55.0%,#414387 57.5%,#3e4a88 60.0%,#3c508a 62.5%,#39578b 65.0%,#365d8d 67.5%,#33638d 70.0%,#306a8d 72.5%,#2d708e 75.0%,#2b768e 77.5%,#287d8e 80.0%,#26838d 82.5%,#248a8d 85.0%,#21918c 87.5%,#21978a 90.0%,#229d88 92.5%,#22a386 95.0%,#23a983 97.5%,#2caf7e 100.0%)"></div>
<div style="position:absolute;left:1989.8px;top:309.41px;width:124.0px;height:2.59px;background:linear-gradient(90deg,#440457 0.0%,#440457 2.5%,#440457 5.0%,#440457 7.5%,#440457 10.0%,#440457 12.5%,#440557 15.0%,#440557 17.5%,#440558 20.0%,#440558 22.5%,#440558 25.0%,#450658 27.5%,#450659 30.0%,#450659 32.5%,#450659 35.0%,#450759 37.5%,#450759 40.0%,#45075a 42.5%,#45075a 45.0%,#45085a 47.5%,#45085b 50.0%,#482273 52.5%,#462d7a 55.0%,#44367f 57.5%,#423f84 60.0%,#3f4888 62.5%,#3c4f8a 65.0%,#39578b 67.5%,#355f8d 70.0%,#32668d 72.5%,#2f6d8e 75.0%,#2c748e 77.5%,#297b8e 80.0%,#26828d 82.5%,#24898d 85.0%,#21908c 87.5%,#21968a 90.0%,#229d88 92.5%,#22a386 95.0%,#24aa83 97.5%,#2eb07d 100.0%)"></div>
<div style="position:absolute;left:1989.8px;top:311.40px;width:124.0px;height:2.59px;background:linear-gradient(90deg,#440356 0.0%,#440356 2.5%,#440356 5.0%,#440356 7.5%,#440456 10.0%,#440457 12.5%,#440457 15.0%,#440457 17.5%,#440457 20.0%,#440557 22.5%,#440558 25.0%,#440558 27.5%,#450558 30.0%,#450658 32.5%,#450659 35.0%,#450659 37.5%,#450659 40.0%,#450759 42.5%,#45075a 45.0%,#45075a 47.5%,#45085a 50.0%,#45085b 52.5%,#471c6e 55.0%,#472978 57.5%,#44357e 60.0%,#423f84 62.5%,#3f4988 65.0%,#3b528a 67.5%,#375a8c 70.0%,#33628d 72.5%,#306a8d 75.0%,#2d728e 77.5%,#29798e 80.0%,#27818d 82.5%,#24888d 85.0%,#21908c 87.5%,#21978a 90.0%,#229d88 92.5%,#22a485 95.0%,#26ab82 97.5%,#2fb17c 100.0%)"></div>
<div style="position:absolute;left:1989.8px;top:313.40px;width:124.0px;height:2.59px;background:linear-gradient(90deg,#440355 0.0%,#440355 2.5%,#440356 5.0%,#440356 7.5%,#440356 10.0%,#440356 12.5%,#440356 15.0%,#440457 17.5%,#440457 20.0%,#440457 22.5%,#440457 25.0%,#440558 27.5%,#440558 30.0%,#440558 32.5%,#450658 35.0%,#450659 37.5%,#450659 40.0%,#450759 42.5%,#450759 45.0%,#45075a 47.5%,#45075a 50.0%,#45085a 52.5%,#450b5d 55.0%,#471d6f 57.5%,#462c79 60.0%,#443880 62.5%,#414487 65.0%,#3d4e89 67.5%,#39578b 70.0%,#35608d 72.5%,#31688d 75.0%,#2d708e 77.5%,#2a788e 80.0%,#27808d 82.5%,#24888d 85.0%,#21908c 87.5%,#21978a 90.0%,#229e88 92.5%,#22a585 95.0%,#27ab81 97.5%,#31b27b 100.0%)"></div>
<div style="position:absolute;left:1989.8px;top:315.39px;width:124.0px;height:2.59px;background:linear-gradient(90deg,#440255 0.0%,#440255 2.5%,#440255 5.0%,#440255 7.5%,#440255 10.0%,#440356 12.5%,#440356 15.0%,#440356 17.5%,#440456 20.0%,#440457 22.5%,#440457 25.0%,#440557 27.5%,#440558 30.0%,#440558 32.5%,#450558 35.0%,#450658 37.5%,#450659 40.0%,#450659 42.5%,#450759 45.0%,#45075a 47.5%,#45075a 50.0%,#45085a 52.5%,#45085b 55.0%,#461466 57.5%,#482576 60.0%,#45337d 62.5%,#424085 65.0%,#3e4b89 67.5%,#3a558b 70.0%,#355e8d 72.5%,#31678d 75.0%,#2e708e 77.5%,#2a788e 80.0%,#27808d 82.5%,#24888d 85.0%,#21908c 87.5%,#21978a 90.0%,#229e87 92.5%,#22a585 95.0%,#28ac80 97.5%,#32b37b 100.0%)"></div>
<div style="position:absolute;left:1989.8px;top:317.38px;width:124.0px;height:2.59px;background:linear-gradient(90deg,#440154 0.0%,#440154 2.5%,#440255 5.0%,#440255 7.5%,#440255 10.0%,#440355 12.5%,#440356 15.0%,#440356 17.5%,#440456 20.0%,#440457 22.5%,#440457 25.0%,#440457 27.5%,#440558 30.0%,#440558 32.5%,#450558 35.0%,#450658 37.5%,#450659 40.0%,#450659 42.5%,#450759 45.0%,#45075a 47.5%,#45075a 50.0%,#45085a 52.5%,#45085a 55.0%,#461062 57.5%,#482273 60.0%,#45317c 62.5%,#423e84 65.0%,#3e4a88 67.5%,#3a548b 70.0%,#355e8d 72.5%,#32678d 75.0%,#2e6f8e 77.5%,#2a788e 80.0%,#27808d 82.5%,#24888d 85.0%,#21908c 87.5%,#21978a 90.0%,#229e87 92.5%,#22a585 95.0%,#28ac80 97.5%,#32b37a 100.0%)"></div>
<div style="position:absolute;left:1989.8px;top:319.38px;width:124.0px;height:2.59px;background:linear-gradient(90deg,#440154 0.0%,#440154 2.5%,#440255 5.0%,#440255 7.5%,#440255 10.0%,#440356 12.5%,#440356 15.0%,#440356 17.5%,#440456 20.0%,#440457 22.5%,#440457 25.0%,#440457 27.5%,#440558 30.0%,#440558 32.5%,#450558 35.0%,#450658 37.5%,#450659 40.0%,#450659 42.5%,#450759 45.0%,#45075a 47.5%,#45075a 50.0%,#45085a 52.5%,#45085a 55.0%,#461163 57.5%,#482374 60.0%,#45317c 62.5%,#423f84 65.0%,#3e4a88 67.5%,#3a548b 70.0%,#355e8d 72.5%,#32678d 75.0%,#2e6f8e 77.5%,#2a788e 80.0%,#27808d 82.5%,#24888d 85.0%,#21908c 87.5%,#21978a 90.0%,#229e87 92.5%,#22a585 95.0%,#28ac80 97.5%,#32b37a 100.0%)"></div>
<div style="position:absolute;left:1989.8px;top:321.37px;width:124.0px;height:2.59px;background:linear-gradient(90deg,#440255 0.0%,#440255 2.5%,#440255 5.0%,#440255 7.5%,#440255 10.0%,#440356 12.5%,#440356 15.0%,#440356 17.5%,#440456 20.0%,#440457 22.5%,#440457 25.0%,#440557 27.5%,#440558 30.0%,#440558 32.5%,#450558 35.0%,#450658 37.5%,#450659 40.0%,#450659 42.5%,#450759 45.0%,#45075a 47.5%,#45075a 50.0%,#45085a 52.5%,#45085b 55.0%,#461365 57.5%,#482475 60.0%,#45327d 62.5%,#423f84 65.0%,#3e4b88 67.5%,#3a558b 70.0%,#355e8d 72.5%,#31678d 75.0%,#2e708e 77.5%,#2a788e 80.0%,#27808d 82.5%,#24888d 85.0%,#21908c 87.5%,#21978a 90.0%,#229e87 92.5%,#22a585 95.0%,#28ac80 97.5%,#32b37b 100.0%)"></div>
<div style="position:absolute;left:1989.8px;top:323.36px;width:124.0px;height:2.59px;background:linear-gradient(90deg,#440255 0.0%,#440255 2.5%,#440255 5.0%,#440255 7.5%,#440356 10.0%,#440356 12.5%,#440356 15.0%,#440356 17.5%,#440457 20.0%,#440457 22.5%,#440457 25.0%,#440557 27.5%,#440558 30.0%,#440558 32.5%,#450558 35.0%,#450659 37.5%,#450659 40.0%,#450659 42.5%,#450759 45.0%,#45075a 47.5%,#45075a 50.0%,#45085a 52.5%,#45085b 55.0%,#461668 57.5%,#472777 60.0%,#44347e 62.5%,#424185 65.0%,#3e4c89 67.5%,#39558b 70.0%,#355f8d 72.5%,#31678d 75.0%,#2e708e 77.5%,#2a788e 80.0%,#27808d 82.5%,#24888d 85.0%,#21908c 87.5%,#21978a 90.0%,#229e87 92.5%,#22a585 95.0%,#28ac81 97.5%,#32b37b 100.0%)"></div>
<div style="position:absolute;left:1989.8px;top:325.36px;width:124.0px;height:2.59px;background:linear-gradient(90deg,#440255 0.0%,#440255 2.5%,#440355 5.0%,#440356 7.5%,#440356 10.0%,#440356 12.5%,#440356 15.0%,#440456 17.5%,#440457 20.0%,#440457 22.5%,#440457 25.0%,#440557 27.5%,#440558 30.0%,#440558 32.5%,#450658 35.0%,#450659 37.5%,#450659 40.0%,#450659 42.5%,#450759 45.0%,#45075a 47.5%,#45075a 50.0%,#45085a 52.5%,#45075a 55.0%,#471b6d 57.5%,#472a78 60.0%,#443780 62.5%,#414386 65.0%,#3d4d89 67.5%,#39568b 70.0%,#35608d 72.5%,#31688d 75.0%,#2d708e 77.5%,#2a788e 80.0%,#27808d 82.5%,#24888d 85.0%,#21908c 87.5%,#21978a 90.0%,#229e88 92.5%,#22a585 95.0%,#27ac81 97.5%,#31b27b 100.0%)"></div>
<div style="position:absolute;left:1989.8px;top:327.35px;width:124.0px;height:2.59px;background:linear-gradient(90deg,#440356 0.0%,#440356 2.5%,#440356 5.0%,#440356 7.5%,#440356 10.0%,#440356 12.5%,#440456 15.0%,#440457 17.5%,#440457 20.0%,#440457 22.5%,#440557 25.0%,#440558 27.5%,#440558 30.0%,#450558 32.5%,#450658 35.0%,#450659 37.5%,#450659 40.0%,#450759 42.5%,#45075a 45.0%,#45075a 47.5%,#45075a 50.0%,#45085a 52.5%,#461062 55.0%,#482072 57.5%,#462e7b 60.0%,#433a81 62.5%,#404587 65.0%,#3c4f89 67.5%,#38588b 70.0%,#34618d 72.5%,#31698d 75.0%,#2d718e 77.5%,#2a798e 80.0%,#27808d 82.5%,#24888d 85.0%,#21908c 87.5%,#21978a 90.0%,#229e88 92.5%,#22a485 95.0%,#27ab81 97.5%,#31b27b 100.0%)"></div>
<div style="position:absolute;left:1989.8px;top:329.35px;width:124.0px;height:2.59px;background:linear-gradient(90deg,#440356 0.0%,#440356 2.5%,#440356 5.0%,#440356 7.5%,#440356 10.0%,#440456 12.5%,#440457 15.0%,#440457 17.5%,#440457 20.0%,#440457 22.5%,#440558 25.0%,#440558 27.5%,#440558 30.0%,#450658 32.5%,#450659 35.0%,#450659 37.5%,#450659 40.0%,#450759 42.5%,#45075a 45.0%,#45075a 47.5%,#45085a 50.0%,#45085a 52.5%,#47186a 55.0%,#472676 57.5%,#45327d 60.0%,#423d83 62.5%,#3f4888 65.0%,#3b518a 67.5%,#37598c 70.0%,#34628d 72.5%,#306a8d 75.0%,#2d718e 77.5%,#2a798e 80.0%,#27818d 82.5%,#24888d 85.0%,#21908c 87.5%,#21978a 90.0%,#229d88 92.5%,#22a485 95.0%,#26ab82 97.5%,#30b17c 100.0%)"></div>
<div style="position:absolute;left:1989.8px;top:331.34px;width:124.0px;height:2.59px;background:linear-gradient(90deg,#440356 0.0%,#440356 2.5%,#440456 5.0%,#440456 7.5%,#440457 10.0%,#440457 12.5%,#440457 15.0%,#440457 17.5%,#440457 20.0%,#440558 22.5%,#440558 25.0%,#440558 27.5%,#450558 30.0%,#450658 32.5%,#450659 35.0%,#450659 37.5%,#450759 40.0%,#45075a 42.5%,#45075a 45.0%,#45075a 47.5%,#45085a 50.0%,#45085b 52.5%,#482072 55.0%,#462c7a 57.5%,#443780 60.0%,#424286 62.5%,#3e4a88 65.0%,#3a538a 67.5%,#375b8c 70.0%,#33638d 72.5%,#306b8d 75.0%,#2d728e 77.5%,#297a8e 80.0%,#27818d 82.5%,#24888d 85.0%,#21908c 87.5%,#21978a 90.0%,#229d88 92.5%,#22a485 95.0%,#25aa82 97.5%,#2fb17c 100.0%)"></div>
<div style="position:absolute;left:1989.8px;top:333.33px;width:124.0px;height:2.59px;background:linear-gradient(90deg,#440457 0.0%,#440457 2.5%,#440457 5.0%,#440457 7.5%,#440457 10.0%,#440457 12.5%,#440457 15.0%,#440557 17.5%,#440558 20.0%,#440558 22.5%,#440558 25.0%,#450558 27.5%,#450658 30.0%,#450659 32.5%,#450659 35.0%,#450659 37.5%,#450759 40.0%,#45075a 42.5%,#45075a 45.0%,#45085a 47.5%,#45085a 50.0%,#471c6e 52.5%,#472877 55.0%,#45337d 57.5%,#433c83 60.0%,#404687 62.5%,#3d4e89 65.0%,#39558b 67.5%,#365d8d 70.0%,#32658d 72.5%,#2f6c8e 75.0%,#2c738e 77.5%,#297a8e 80.0%,#27828d 82.5%,#24898d 85.0%,#21908c 87.5%,#21968a 90.0%,#229d88 92.5%,#22a386 95.0%,#25aa82 97.5%,#2eb07d 100.0%)"></div>
<div style="position:absolute;left:1989.8px;top:335.33px;width:124.0px;height:2.59px;background:linear-gradient(90deg,#440457 0.0%,#440457 2.5%,#440457 5.0%,#440457 7.5%,#440457 10.0%,#440557 12.5%,#440557 15.0%,#440558 17.5%,#440558 20.0%,#440558 22.5%,#450558 25.0%,#450658 27.5%,#450659 30.0%,#450659 32.5%,#450659 35.0%,#450759 37.5%,#45075a 40.0%,#45075a 42.5%,#45075a 45.0%,#45085a 47.5%,#45085b 50.0%,#472776 52.5%,#45307c 55.0%,#433981 57.5%,#414286 60.0%,#3f4988 62.5%,#3b518a 65.0%,#38588c 67.5%,#35608d 70.0%,#32678d 72.5%,#2f6d8e 75.0%,#2c748e 77.5%,#297b8e 80.0%,#26828d 82.5%,#24898d 85.0%,#21908c 87.5%,#21968a 90.0%,#229d88 92.5%,#22a386 95.0%,#24a983 97.5%,#2db07d 100.0%)"></div>
<div style="position:absolute;left:1989.8px;top:337.32px;width:124.0px;height:2.59px;background:linear-gradient(90deg,#440457 0.0%,#440557 2.5%,#440557 5.0%,#440557 7.5%,#440557 10.0%,#440558 12.5%,#440558 15.0%,#440558 17.5%,#440558 20.0%,#450558 22.5%,#450658 25.0%,#450659 27.5%,#450659 30.0%,#450659 32.5%,#450759 35.0%,#45075a 37.5%,#45075a 40.0%,#45075a 42.5%,#45085a 45.0%,#45085a 47.5%,#472777 50.0%,#452f7b 52.5%,#443780 55.0%,#423f84 57.5%,#404788 60.0%,#3d4d89 62.5%,#3a548b 65.0%,#375b8c 67.5%,#34628d 70.0%,#31688d 72.5%,#2e6f8e 75.0%,#2b768e 77.5%,#287c8e 80.0%,#26838d 82.5%,#248a8d 85.0%,#21908c 87.5%,#21978a 90.0%,#229d88 92.5%,#22a386 95.0%,#24a983 97.5%,#2daf7e 100.0%)"></div>
<div style="position:absolute;left:1989.8px;top:339.31px;width:124.0px;height:2.59px;background:linear-gradient(90deg,#440558 0.0%,#440558 2.5%,#440558 5.0%,#440558 7.5%,#440558 10.0%,#440558 12.5%,#440558 15.0%,#450558 17.5%,#450658 20.0%,#450658 22.5%,#450659 25.0%,#450659 27.5%,#450659 30.0%,#450759 32.5%,#450759 35.0%,#45075a 37.5%,#45075a 40.0%,#45085a 42.5%,#45085a 45.0%,#472978 47.5%,#45317c 50.0%,#443880 52.5%,#423f84 55.0%,#404587 57.5%,#3e4b89 60.0%,#3b528a 62.5%,#38588b 65.0%,#355e8d 67.5%,#33648d 70.0%,#306b8d 72.5%,#2d718e 75.0%,#2a778e 77.5%,#287d8e 80.0%,#26848d 82.5%,#238a8d 85.0%,#21918c 87.5%,#21978a 90.0%,#229d88 92.5%,#22a386 95.0%,#23a983 97.5%,#2caf7e 100.0%)"></div>
<div style="position:absolute;left:1989.8px;top:341.31px;width:124.0px;height:2.59px;background:linear-gradient(90deg,#440558 0.0%,#440558 2.5%,#440558 5.0%,#440558 7.5%,#450558 10.0%,#450558 12.5%,#450658 15.0%,#450658 17.5%,#450659 20.0%,#450659 22.5%,#450659 25.0%,#450659 27.5%,#450759 30.0%,#45075a 32.5%,#45075a 35.0%,#45075a 37.5%,#45085a 40.0%,#45085a 42.5%,#462d7a 45.0%,#44347e 47.5%,#433a81 50.0%,#424085 52.5%,#404687 55.0%,#3e4b89 57.5%,#3c508a 60.0%,#39568b 62.5%,#375c8c 65.0%,#34618d 67.5%,#31678d 70.0%,#2f6d8e 72.5%,#2c738e 75.0%,#2a798e 77.5%,#287f8d 80.0%,#25858d 82.5%,#238b8c 85.0%,#21918c 87.5%,#21978a 90.0%,#229d88 92.5%,#22a386 95.0%,#23a983 97.5%,#2cae7e 100.0%)"></div>
<div style="position:absolute;left:2170.2px;top:219.70px;width:124.0px;height:3.69px;background:linear-gradient(90deg,#dce326 0.0%,#dce326 4.2%,#dce326 8.3%,#dce326 12.5%,#dce326 16.7%,#dce326 20.8%,#dce326 25.0%,#dce326 29.2%,#dce326 33.3%,#dce326 37.5%,#dce326 41.7%,#dce326 45.8%,#dce326 50.0%,#dce326 54.2%,#dce326 58.3%,#dce326 62.5%,#dce326 66.7%,#dce326 70.8%,#dce326 75.0%,#dde326 79.2%,#dde326 83.3%,#dde326 87.5%,#dde326 91.7%,#dde326 95.8%,#dde326 100.0%)"></div>
<div style="position:absolute;left:2170.2px;top:222.79px;width:124.0px;height:3.69px;background:linear-gradient(90deg,#dbe326 0.0%,#dbe326 4.2%,#dbe326 8.3%,#dbe326 12.5%,#dbe326 16.7%,#dbe326 20.8%,#dbe326 25.0%,#dce326 29.2%,#dce326 33.3%,#dce326 37.5%,#dce326 41.7%,#dce326 45.8%,#dce326 50.0%,#dce326 54.2%,#dce326 58.3%,#dce326 62.5%,#dce326 66.7%,#dce326 70.8%,#dce326 75.0%,#dce326 79.2%,#dce326 83.3%,#dce326 87.5%,#dde326 91.7%,#dde326 95.8%,#dde326 100.0%)"></div>
<div style="position:absolute;left:2170.2px;top:225.88px;width:124.0px;height:3.69px;background:linear-gradient(90deg,#dbe326 0.0%,#dbe326 4.2%,#dbe326 8.3%,#dbe326 12.5%,#dbe326 16.7%,#dbe326 20.8%,#dbe326 25.0%,#dbe326 29.2%,#dbe326 33.3%,#dbe326 37.5%,#dbe326 41.7%,#dbe326 45.8%,#dce326 50.0%,#dce326 54.2%,#dce326 58.3%,#dce326 62.5%,#dce326 66.7%,#dce326 70.8%,#dce326 75.0%,#dce326 79.2%,#dce326 83.3%,#dce326 87.5%,#dce326 91.7%,#dce326 95.8%,#dde326 100.0%)"></div>
<div style="position:absolute;left:2170.2px;top:228.97px;width:124.0px;height:3.69px;background:linear-gradient(90deg,#dae326 0.0%,#dae326 4.2%,#dae326 8.3%,#dae326 12.5%,#dae326 16.7%,#dae326 20.8%,#dae326 25.0%,#dbe326 29.2%,#dbe326 33.3%,#dbe326 37.5%,#dbe326 41.7%,#dbe326 45.8%,#dbe326 50.0%,#dbe326 54.2%,#dbe326 58.3%,#dbe326 62.5%,#dce326 66.7%,#dce326 70.8%,#dce326 75.0%,#dce326 79.2%,#dce326 83.3%,#dce326 87.5%,#dce326 91.7%,#dce326 95.8%,#dce326 100.0%)"></div>
<div style="position:absolute;left:2170.2px;top:232.06px;width:124.0px;height:3.69px;background:linear-gradient(90deg,#d9e326 0.0%,#d9e326 4.2%,#d9e326 8.3%,#d9e326 12.5%,#d9e326 16.7%,#dae326 20.8%,#dae326 25.0%,#dae326 29.2%,#dae326 33.3%,#dae326 37.5%,#dae326 41.7%,#dae326 45.8%,#dbe326 50.0%,#dbe326 54.2%,#dbe326 58.3%,#dbe326 62.5%,#dbe326 66.7%,#dbe326 70.8%,#dbe326 75.0%,#dce326 79.2%,#dce326 83.3%,#dce326 87.5%,#dce326 91.7%,#dce326 95.8%,#dce326 100.0%)"></div>
<div style="position:absolute;left:2170.2px;top:235.15px;width:124.0px;height:3.69px;background:linear-gradient(90deg,#d8e226 0.0%,#d8e226 4.2%,#d8e226 8.3%,#d8e226 12.5%,#d8e226 16.7%,#d9e226 20.8%,#d9e226 25.0%,#d9e226 29.2%,#d9e326 33.3%,#d9e326 37.5%,#d9e326 41.7%,#dae326 45.8%,#dae326 50.0%,#dae326 54.2%,#dae326 58.3%,#dae326 62.5%,#dbe326 66.7%,#dbe326 70.8%,#dbe326 75.0%,#dbe326 79.2%,#dbe326 83.3%,#dce326 87.5%,#dce326 91.7%,#dce326 95.8%,#dce326 100.0%)"></div>
<div style="position:absolute;left:2170.2px;top:238.24px;width:124.0px;height:3.69px;background:linear-gradient(90deg,#d7e226 0.0%,#d7e226 4.2%,#d7e226 8.3%,#d7e226 12.5%,#d7e226 16.7%,#d7e226 20.8%,#d8e226 25.0%,#d8e226 29.2%,#d8e226 33.3%,#d8e226 37.5%,#d8e226 41.7%,#d9e226 45.8%,#d9e226 50.0%,#d9e326 54.2%,#d9e326 58.3%,#dae326 62.5%,#dae326 66.7%,#dae326 70.8%,#dbe326 75.0%,#dbe326 79.2%,#dbe326 83.3%,#dbe326 87.5%,#dbe326 91.7%,#dce326 95.8%,#dce326 100.0%)"></div>
<div style="position:absolute;left:2170.2px;top:241.33px;width:124.0px;height:3.69px;background:linear-gradient(90deg,#d5e226 0.0%,#d5e226 4.2%,#d5e226 8.3%,#d6e226 12.5%,#d6e226 16.7%,#d6e226 20.8%,#d6e226 25.0%,#d6e226 29.2%,#d7e226 33.3%,#d7e226 37.5%,#d7e226 41.7%,#d8e226 45.8%,#d8e226 50.0%,#d8e226 54.2%,#d9e226 58.3%,#d9e226 62.5%,#d9e326 66.7%,#dae326 70.8%,#dae326 75.0%,#dae326 79.2%,#dae326 83.3%,#dbe326 87.5%,#dbe326 91.7%,#dbe326 95.8%,#dbe326 100.0%)"></div>
<div style="position:absolute;left:2170.2px;top:244.42px;width:124.0px;height:3.69px;background:linear-gradient(90deg,#d3e226 0.0%,#d4e226 4.2%,#d4e226 8.3%,#d4e226 12.5%,#d4e226 16.7%,#d4e226 20.8%,#d4e226 25.0%,#d5e226 29.2%,#d5e226 33.3%,#d5e226 37.5%,#d6e226 41.7%,#d6e226 45.8%,#d7e226 50.0%,#d7e226 54.2%,#d7e226 58.3%,#d8e226 62.5%,#d8e226 66.7%,#d9e226 70.8%,#d9e326 75.0%,#d9e326 79.2%,#dae326 83.3%,#dae326 87.5%,#dae326 91.7%,#dbe326 95.8%,#dbe326 100.0%)"></div>
<div style="position:absolute;left:2170.2px;top:247.51px;width:124.0px;height:3.69px;background:linear-gradient(90deg,#d1e226 0.0%,#d1e226 4.2%,#d1e226 8.3%,#d1e226 12.5%,#d2e226 16.7%,#d2e226 20.8%,#d2e226 25.0%,#d3e226 29.2%,#d3e226 33.3%,#d3e226 37.5%,#d4e226 41.7%,#d4e226 45.8%,#d5e226 50.0%,#d6e226 54.2%,#d6e226 58.3%,#d7e226 62.5%,#d7e226 66.7%,#d8e226 70.8%,#d8e226 75.0%,#d9e226 79.2%,#d9e226 83.3%,#d9e326 87.5%,#dae326 91.7%,#dae326 95.8%,#dbe326 100.0%)"></div>
<div style="position:absolute;left:2170.2px;top:250.60px;width:124.0px;height:3.69px;background:linear-gradient(90deg,#cee126 0.0%,#cee126 4.2%,#cfe126 8.3%,#cfe126 12.5%,#cfe126 16.7%,#cfe126 20.8%,#d0e126 25.0%,#d0e126 29.2%,#d1e126 33.3%,#d1e226 37.5%,#d2e226 41.7%,#d2e226 45.8%,#d3e226 50.0%,#d4e226 54.2%,#d4e226 58.3%,#d5e226 62.5%,#d6e226 66.7%,#d6e226 70.8%,#d7e226 75.0%,#d7e226 79.2%,#d8e226 83.3%,#d9e226 87.5%,#d9e326 91.7%,#dae326 95.8%,#dae326 100.0%)"></div>
<div style="position:absolute;left:2170.2px;top:253.69px;width:124.0px;height:3.69px;background:linear-gradient(90deg,#cbe126 0.0%,#cbe126 4.2%,#cbe126 8.3%,#cbe126 12.5%,#cce126 16.7%,#cce126 20.8%,#cde126 25.0%,#cde126 29.2%,#cee126 33.3%,#cfe126 37.5%,#cfe126 41.7%,#d0e126 45.8%,#d1e126 50.0%,#d2e226 54.2%,#d2e226 58.3%,#d3e226 62.5%,#d4e226 66.7%,#d5e226 70.8%,#d6e226 75.0%,#d6e226 79.2%,#d7e226 83.3%,#d8e226 87.5%,#d8e226 91.7%,#d9e226 95.8%,#d9e326 100.0%)"></div>
<div style="position:absolute;left:2170.2px;top:256.78px;width:124.0px;height:3.69px;background:linear-gradient(90deg,#c7e026 0.0%,#c7e026 4.2%,#c7e026 8.3%,#c8e026 12.5%,#c8e026 16.7%,#c8e026 20.8%,#c9e126 25.0%,#cae126 29.2%,#cbe126 33.3%,#cbe126 37.5%,#cce126 41.7%,#cde126 45.8%,#cee126 50.0%,#cfe126 54.2%,#d0e126 58.3%,#d1e226 62.5%,#d2e226 66.7%,#d3e226 70.8%,#d4e226 75.0%,#d5e226 79.2%,#d6e226 83.3%,#d6e226 87.5%,#d7e226 91.7%,#d8e226 95.8%,#d8e226 100.0%)"></div>
<div style="position:absolute;left:2170.2px;top:259.87px;width:124.0px;height:3.69px;background:linear-gradient(90deg,#c2e026 0.0%,#c2e026 4.2%,#c3e026 8.3%,#c3e026 12.5%,#c4e026 16.7%,#c4e026 20.8%,#c5e026 25.0%,#c6e026 29.2%,#c7e026 33.3%,#c8e026 37.5%,#c9e026 41.7%,#cae126 45.8%,#cbe126 50.0%,#cce126 54.2%,#cde126 58.3%,#cfe126 62.5%,#d0e126 66.7%,#d1e126 70.8%,#d2e226 75.0%,#d3e226 79.2%,#d4e226 83.3%,#d5e226 87.5%,#d6e226 91.7%,#d7e226 95.8%,#d7e226 100.0%)"></div>
<div style="position:absolute;left:2170.2px;top:262.96px;width:124.0px;height:3.69px;background:linear-gradient(90deg,#bddf26 0.0%,#bddf26 4.2%,#bddf26 8.3%,#bedf26 12.5%,#bedf26 16.7%,#bfdf26 20.8%,#c0df26 25.0%,#c1e026 29.2%,#c2e026 33.3%,#c3e026 37.5%,#c5e026 41.7%,#c6e026 45.8%,#c7e026 50.0%,#c9e026 54.2%,#cae126 58.3%,#cce126 62.5%,#cde126 66.7%,#cee126 70.8%,#d0e126 75.0%,#d1e126 79.2%,#d2e226 83.3%,#d3e226 87.5%,#d4e226 91.7%,#d5e226 95.8%,#d6e226 100.0%)"></div>
<div style="position:absolute;left:2170.2px;top:266.05px;width:124.0px;height:3.69px;background:linear-gradient(90deg,#b7de2a 0.0%,#b7de2a 4.2%,#b7de2a 8.3%,#b8de2a 12.5%,#b8de29 16.7%,#b9de28 20.8%,#bade28 25.0%,#bcdf27 29.2%,#bddf26 33.3%,#bedf26 37.5%,#c0df26 41.7%,#c2e026 45.8%,#c3e026 50.0%,#c5e026 54.2%,#c7e026 58.3%,#c8e026 62.5%,#cae126 66.7%,#cce126 70.8%,#cde126 75.0%,#cfe126 79.2%,#d0e126 83.3%,#d1e226 87.5%,#d3e226 91.7%,#d4e226 95.8%,#d5e226 100.0%)"></div>
<div style="position:absolute;left:2170.2px;top:269.14px;width:124.0px;height:3.69px;background:linear-gradient(90deg,#afdc2f 0.0%,#afdc2f 4.2%,#b0dc2f 8.3%,#b0dc2e 12.5%,#b1dd2e 16.7%,#b2dd2d 20.8%,#b4dd2c 25.0%,#b5dd2b 29.2%,#b7de2a 33.3%,#b8de29 37.5%,#bade28 41.7%,#bcdf26 45.8%,#bedf26 50.0%,#c0df26 54.2%,#c2e026 58.3%,#c4e026 62.5%,#c6e026 66.7%,#c8e026 70.8%,#cae126 75.0%,#cce126 79.2%,#cee126 83.3%,#cfe126 87.5%,#d1e126 91.7%,#d2e226 95.8%,#d4e226 100.0%)"></div>
<div style="position:absolute;left:2170.2px;top:272.23px;width:124.0px;height:3.69px;background:linear-gradient(90deg,#a7da34 0.0%,#a7da34 4.2%,#a7da34 8.3%,#a8db33 12.5%,#a9db33 16.7%,#aadb32 20.8%,#acdb31 25.0%,#aedc30 29.2%,#b0dc2f 33.3%,#b2dd2d 37.5%,#b4dd2c 41.7%,#b6de2a 45.8%,#b9de29 50.0%,#bbdf27 54.2%,#bedf26 58.3%,#c0df26 62.5%,#c2e026 66.7%,#c5e026 70.8%,#c7e026 75.0%,#c9e126 79.2%,#cbe126 83.3%,#cde126 87.5%,#cfe126 91.7%,#d0e126 95.8%,#d2e226 100.0%)"></div>
<div style="position:absolute;left:2170.2px;top:275.32px;width:124.0px;height:3.69px;background:linear-gradient(90deg,#9dd83a 0.0%,#9ed83a 4.2%,#9ed93a 8.3%,#9fd939 12.5%,#a0d939 16.7%,#a2d938 20.8%,#a3da36 25.0%,#a5da35 29.2%,#a8db34 33.3%,#aadb32 37.5%,#addc30 41.7%,#b0dc2f 45.8%,#b2dd2d 50.0%,#b5dd2b 54.2%,#b8de29 58.3%,#bbdf27 62.5%,#bedf26 66.7%,#c1df26 70.8%,#c3e026 75.0%,#c6e026 79.2%,#c8e026 83.3%,#cae126 87.5%,#cce126 91.7%,#cee126 95.8%,#d0e126 100.0%)"></div>
<div style="position:absolute;left:2170.2px;top:278.41px;width:124.0px;height:3.69px;background:linear-gradient(90deg,#93d641 0.0%,#93d641 4.2%,#94d640 8.3%,#95d740 12.5%,#96d73f 16.7%,#98d73e 20.8%,#9ad83c 25.0%,#9cd83b 29.2%,#9fd939 33.3%,#a2d937 37.5%,#a5da35 41.7%,#a8db33 45.8%,#abdb31 50.0%,#afdc2f 54.2%,#b2dd2d 58.3%,#b5dd2b 62.5%,#b9de29 66.7%,#bcdf27 70.8%,#bfdf26 75.0%,#c2e026 79.2%,#c5e026 83.3%,#c7e026 87.5%,#cae126 91.7%,#cce126 95.8%,#cee126 100.0%)"></div>
<div style="position:absolute;left:2170.2px;top:281.50px;width:124.0px;height:3.69px;background:linear-gradient(90deg,#87d448 0.0%,#88d448 4.2%,#88d448 8.3%,#8ad447 12.5%,#8bd546 16.7%,#8dd545 20.8%,#90d543 25.0%,#92d641 29.2%,#95d73f 33.3%,#99d73d 37.5%,#9cd83b 41.7%,#a0d939 45.8%,#a4da36 50.0%,#a7da34 54.2%,#abdb31 58.3%,#afdc2f 62.5%,#b3dd2c 66.7%,#b7de2a 70.8%,#bade28 75.0%,#bedf26 79.2%,#c1df26 83.3%,#c4e026 87.5%,#c7e026 91.7%,#c9e126 95.8%,#cce126 100.0%)"></div>
<div style="position:absolute;left:2170.2px;top:284.59px;width:124.0px;height:3.69px;background:linear-gradient(90deg,#7bd150 0.0%,#7bd150 4.2%,#7cd150 8.3%,#7dd24f 12.5%,#7fd24e 16.7%,#81d34c 20.8%,#84d34a 25.0%,#87d448 29.2%,#8bd446 33.3%,#8fd544 37.5%,#93d641 41.7%,#97d73f 45.8%,#9bd83c 50.0%,#a0d939 54.2%,#a4da36 58.3%,#a8db33 62.5%,#addc30 66.7%,#b1dc2e 70.8%,#b5dd2b 75.0%,#b9de29 79.2%,#bddf26 83.3%,#c0df26 87.5%,#c3e026 91.7%,#c6e026 95.8%,#c9e126 100.0%)"></div>
<div style="position:absolute;left:2170.2px;top:287.68px;width:124.0px;height:3.69px;background:linear-gradient(90deg,#70ce57 0.0%,#70ce57 4.2%,#71ce56 8.3%,#72ce56 12.5%,#74cf55 16.7%,#76d053 20.8%,#78d052 25.0%,#7bd150 29.2%,#7fd24e 33.3%,#84d34b 37.5%,#88d448 41.7%,#8dd545 45.8%,#92d642 50.0%,#97d73e 54.2%,#9cd83b 58.3%,#a1d938 62.5%,#a6da35 66.7%,#abdb32 70.8%,#afdc2f 75.0%,#b4dd2c 79.2%,#b8de29 83.3%,#bcdf26 87.5%,#c0df26 91.7%,#c3e026 95.8%,#c6e026 100.0%)"></div>
<div style="position:absolute;left:2170.2px;top:290.77px;width:124.0px;height:3.69px;background:linear-gradient(90deg,#64ca5e 0.0%,#64ca5d 4.2%,#65ca5d 8.3%,#67cb5c 12.5%,#68cb5b 16.7%,#6bcc5a 20.8%,#6ecd58 25.0%,#71ce56 29.2%,#74cf54 33.3%,#78d052 37.5%,#7dd24f 41.7%,#83d34c 45.8%,#88d448 50.0%,#8ed544 54.2%,#93d641 58.3%,#99d83d 62.5%,#9fd939 66.7%,#a4da36 70.8%,#a9db33 75.0%,#afdc2f 79.2%,#b3dd2c 83.3%,#b8de29 87.5%,#bcdf27 91.7%,#c0df26 95.8%,#c3e026 100.0%)"></div>
<div style="position:absolute;left:2170.2px;top:293.86px;width:124.0px;height:3.69px;background:linear-gradient(90deg,#58c665 0.0%,#58c664 4.2%,#59c664 8.3%,#5bc763 12.5%,#5dc762 16.7%,#5fc860 20.8%,#62c95f 25.0%,#66ca5c 29.2%,#6acc5a 33.3%,#6ecd58 37.5%,#73cf55 41.7%,#78d052 45.8%,#7ed24f 50.0%,#84d34b 54.2%,#8ad446 58.3%,#91d642 62.5%,#97d73e 66.7%,#9dd83a 70.8%,#a3da37 75.0%,#a9db33 79.2%,#aedc30 83.3%,#b3dd2c 87.5%,#b8de29 91.7%,#bcdf26 95.8%,#c0df26 100.0%)"></div>
<div style="position:absolute;left:2170.2px;top:296.95px;width:124.0px;height:3.69px;background:linear-gradient(90deg,#4bc16c 0.0%,#4bc16c 4.2%,#4cc26b 8.3%,#4ec26a 12.5%,#50c369 16.7%,#53c467 20.8%,#57c565 25.0%,#5bc763 29.2%,#5fc860 33.3%,#64ca5e 37.5%,#69cb5b 41.7%,#6fcd57 45.8%,#74cf54 50.0%,#7ad151 54.2%,#81d24c 58.3%,#88d448 62.5%,#8fd543 66.7%,#96d73f 70.8%,#9cd83b 75.0%,#a3da37 79.2%,#a9db33 83.3%,#aedc2f 87.5%,#b4dd2c 91.7%,#b9de29 95.8%,#bddf26 100.0%)"></div>
<div style="position:absolute;left:2170.2px;top:300.04px;width:124.0px;height:3.69px;background:linear-gradient(90deg,#40bc72 0.0%,#40bc72 4.2%,#41bd72 8.3%,#42be71 12.5%,#44bf70 16.7%,#47c06e 20.8%,#4bc16c 25.0%,#4fc36a 29.2%,#54c467 33.3%,#59c664 37.5%,#5fc860 41.7%,#65ca5d 45.8%,#6bcc59 50.0%,#71ce56 54.2%,#78d052 58.3%,#7fd24e 62.5%,#87d449 66.7%,#8ed544 70.8%,#96d73f 75.0%,#9dd83b 79.2%,#a3da37 83.3%,#a9db33 87.5%,#afdc2f 91.7%,#b5dd2b 95.8%,#bade28 100.0%)"></div>
<div style="position:absolute;left:2170.2px;top:303.13px;width:124.0px;height:3.69px;background:linear-gradient(90deg,#37b677 0.0%,#38b777 4.2%,#38b777 8.3%,#3ab876 12.5%,#3bb975 16.7%,#3ebb74 20.8%,#40bd72 25.0%,#43bf70 29.2%,#49c16d 33.3%,#4ec26a 37.5%,#55c566 41.7%,#5bc763 45.8%,#62c95f 50.0%,#69cb5b 54.2%,#70ce57 58.3%,#77d053 62.5%,#7ed24e 66.7%,#87d449 70.8%,#8fd544 75.0%,#96d73f 79.2%,#9dd83a 83.3%,#a4da36 87.5%,#abdb32 91.7%,#b1dc2e 95.8%,#b6de2a 100.0%)"></div>
<div style="position:absolute;left:2170.2px;top:306.22px;width:124.0px;height:3.69px;background:linear-gradient(90deg,#2fb17d 0.0%,#2fb17c 4.2%,#30b17c 8.3%,#31b27b 12.5%,#33b47a 16.7%,#36b578 20.8%,#38b777 25.0%,#3cb975 29.2%,#40bc73 33.3%,#44bf70 37.5%,#4ac16c 41.7%,#51c368 45.8%,#59c664 50.0%,#60c860 54.2%,#68cb5c 58.3%,#6fcd57 62.5%,#77d053 66.7%,#7fd24e 70.8%,#87d448 75.0%,#90d643 79.2%,#98d73e 83.3%,#9fd939 87.5%,#a6da35 91.7%,#addc31 95.8%,#b3dd2d 100.0%)"></div>
<div style="position:absolute;left:2170.2px;top:309.31px;width:124.0px;height:3.69px;background:linear-gradient(90deg,#26ab82 0.0%,#26ab81 4.2%,#27ac81 8.3%,#29ad80 12.5%,#2bae7f 16.7%,#2eb07d 20.8%,#31b27b 25.0%,#34b479 29.2%,#38b777 33.3%,#3dba74 37.5%,#41bd72 41.7%,#47c06e 45.8%,#4fc369 50.0%,#57c565 54.2%,#60c860 58.3%,#68cb5b 62.5%,#70ce57 66.7%,#78d052 70.8%,#80d24d 75.0%,#89d447 79.2%,#92d642 83.3%,#9ad83c 87.5%,#a2d938 91.7%,#a9db33 95.8%,#afdc2f 100.0%)"></div>
<div style="position:absolute;left:2170.2px;top:312.40px;width:124.0px;height:3.69px;background:linear-gradient(90deg,#22a585 0.0%,#22a585 4.2%,#22a685 8.3%,#22a784 12.5%,#23a984 16.7%,#26aa82 20.8%,#29ad80 25.0%,#2daf7e 29.2%,#31b27b 33.3%,#36b578 37.5%,#3bb975 41.7%,#40bc72 45.8%,#46c06f 50.0%,#4fc36a 54.2%,#58c665 58.3%,#60c860 62.5%,#69cb5b 66.7%,#71ce56 70.8%,#7ad151 75.0%,#83d34b 79.2%,#8cd545 83.3%,#95d740 87.5%,#9dd83b 91.7%,#a5da36 95.8%,#abdb31 100.0%)"></div>
<div style="position:absolute;left:2170.2px;top:315.49px;width:124.0px;height:3.69px;background:linear-gradient(90deg,#229f87 0.0%,#22a087 4.2%,#22a087 8.3%,#22a286 12.5%,#22a386 16.7%,#22a585 20.8%,#22a884 25.0%,#26ab82 29.2%,#2aae7f 33.3%,#2fb17c 37.5%,#35b579 41.7%,#3ab876 45.8%,#40bc72 50.0%,#47c06e 54.2%,#50c369 58.3%,#59c664 62.5%,#63c95e 66.7%,#6ccc59 70.8%,#74cf54 75.0%,#7dd24f 79.2%,#87d449 83.3%,#90d643 87.5%,#99d73d 91.7%,#a1d938 95.8%,#a8db33 100.0%)"></div>
<div style="position:absolute;left:2170.2px;top:318.58px;width:124.0px;height:3.69px;background:linear-gradient(90deg,#219a89 0.0%,#219a89 4.2%,#219b88 8.3%,#229d88 12.5%,#229e87 16.7%,#22a087 20.8%,#22a386 25.0%,#22a685 29.2%,#24a983 33.3%,#29ad80 37.5%,#2fb17c 41.7%,#35b579 45.8%,#3bb975 50.0%,#41bd72 54.2%,#49c16d 58.3%,#53c467 62.5%,#5dc762 66.7%,#66ca5c 70.8%,#6fcd57 75.0%,#78d052 79.2%,#82d34c 83.3%,#8cd546 87.5%,#95d740 91.7%,#9dd83a 95.8%,#a5da35 100.0%)"></div>
<div style="position:absolute;left:2170.2px;top:321.67px;width:124.0px;height:3.69px;background:linear-gradient(90deg,#21958b 0.0%,#21958a 4.2%,#21968a 8.3%,#21988a 12.5%,#219a89 16.7%,#219c88 20.8%,#229f87 25.0%,#22a286 29.2%,#22a585 33.3%,#24a983 37.5%,#29ad80 41.7%,#30b17c 45.8%,#36b678 50.0%,#3cba74 54.2%,#43be71 58.3%,#4dc26b 62.5%,#57c565 66.7%,#61c95f 70.8%,#6acc5a 75.0%,#74cf55 79.2%,#7dd24f 83.3%,#87d448 87.5%,#91d642 91.7%,#9ad83d 95.8%,#a2d937 100.0%)"></div>
<div style="position:absolute;left:2170.2px;top:324.76px;width:124.0px;height:3.69px;background:linear-gradient(90deg,#228f8c 0.0%,#22908c 4.2%,#21918c 8.3%,#21938b 12.5%,#21958a 16.7%,#21988a 20.8%,#219b89 25.0%,#229e87 29.2%,#22a286 33.3%,#22a685 37.5%,#25aa82 41.7%,#2bae7f 45.8%,#32b37b 50.0%,#38b777 54.2%,#3fbc73 58.3%,#47c06e 62.5%,#52c468 66.7%,#5cc762 70.8%,#66ca5c 75.0%,#70ce57 79.2%,#79d152 83.3%,#84d34b 87.5%,#8ed544 91.7%,#97d73e 95.8%,#9fd939 100.0%)"></div>
<div style="position:absolute;left:2170.2px;top:327.85px;width:124.0px;height:3.69px;background:linear-gradient(90deg,#25858d 0.0%,#25878d 4.2%,#238a8d 8.3%,#228e8c 12.5%,#21928c 16.7%,#21948b 20.8%,#21978a 25.0%,#219b89 29.2%,#229f87 33.3%,#22a386 37.5%,#22a784 41.7%,#27ab81 45.8%,#2eb07d 50.0%,#35b579 54.2%,#3cba75 58.3%,#43be71 62.5%,#4ec26b 66.7%,#58c664 70.8%,#63c95e 75.0%,#6dcd59 79.2%,#76d053 83.3%,#80d24d 87.5%,#8bd446 91.7%,#94d640 95.8%,#9dd83a 100.0%)"></div>
<div style="position:absolute;left:2170.2px;top:330.94px;width:124.0px;height:3.69px;background:linear-gradient(90deg,#2c748e 0.0%,#2a778e 4.2%,#27808d 8.3%,#24888d 12.5%,#228d8c 16.7%,#21918c 20.8%,#21958b 25.0%,#21988a 29.2%,#219c88 33.3%,#22a087 37.5%,#22a585 41.7%,#24a983 45.8%,#2bae7f 50.0%,#32b37b 54.2%,#39b876 58.3%,#41bd72 62.5%,#4ac16d 66.7%,#55c566 70.8%,#60c860 75.0%,#6acc5a 79.2%,#74cf55 83.3%,#7ed24f 87.5%,#88d448 91.7%,#92d642 95.8%,#9bd83c 100.0%)"></div>
<div style="position:absolute;left:2170.2px;top:334.03px;width:124.0px;height:3.69px;background:linear-gradient(90deg,#38588b 0.0%,#34608d 4.2%,#2d718e 8.3%,#27808d 12.5%,#24898d 16.7%,#228f8c 20.8%,#21928c 25.0%,#21968a 29.2%,#219a89 33.3%,#229e87 37.5%,#22a386 41.7%,#22a784 45.8%,#28ac80 50.0%,#30b17c 54.2%,#37b677 58.3%,#3fbb73 62.5%,#47c06e 66.7%,#52c468 70.8%,#5dc761 75.0%,#68cb5b 79.2%,#72ce56 83.3%,#7bd150 87.5%,#86d449 91.7%,#90d643 95.8%,#9ad83d 100.0%)"></div>
<div style="position:absolute;left:2170.2px;top:337.12px;width:124.0px;height:3.69px;background:linear-gradient(90deg,#45337e 0.0%,#414386 4.2%,#35608d 8.3%,#2a788e 12.5%,#25868d 16.7%,#238d8c 20.8%,#21918c 25.0%,#21958b 29.2%,#219989 33.3%,#229d88 37.5%,#22a286 41.7%,#22a685 45.8%,#27ab81 50.0%,#2eb07d 54.2%,#36b578 58.3%,#3dbb74 62.5%,#45bf6f 66.7%,#51c369 70.8%,#5cc762 75.0%,#66ca5c 79.2%,#70ce56 83.3%,#7ad151 87.5%,#85d34a 91.7%,#8fd543 95.8%,#99d73d 100.0%)"></div>
<div style="position:absolute;left:2170.2px;top:340.21px;width:124.0px;height:3.69px;background:linear-gradient(90deg,#461567 0.0%,#472b79 4.2%,#3a538a 8.3%,#2c728e 12.5%,#26848d 16.7%,#238b8c 20.8%,#21908c 25.0%,#21948b 29.2%,#21988a 33.3%,#219c88 37.5%,#22a186 41.7%,#22a685 45.8%,#26ab82 50.0%,#2eb07d 54.2%,#35b579 58.3%,#3dba74 62.5%,#44bf70 66.7%,#50c369 70.8%,#5bc763 75.0%,#66ca5d 79.2%,#70ce57 83.3%,#79d151 87.5%,#84d34a 91.7%,#8fd544 95.8%,#98d73e 100.0%)"></div>
<div style="position:absolute;left:1994.3px;top:202.5px;width:107.5px;height:4.5px;background:linear-gradient(90deg,#440154 0%,#482475 10%,#414487 20%,#355f8d 30%,#2a788e 40%,#21918c 50%,#22a884 60%,#44bf70 70%,#7ad151 80%,#bddf26 90%,#fde725 100%)"></div>
<div style="position:absolute;left:2174.7px;top:202.5px;width:107.5px;height:4.5px;background:linear-gradient(90deg,#440154 0%,#482475 10%,#414487 20%,#355f8d 30%,#2a788e 40%,#21918c 50%,#22a884 60%,#44bf70 70%,#7ad151 80%,#bddf26 90%,#fde725 100%)"></div><div style="position:absolute;left:2382.0px;top:698.00px;width:129.3px;height:2.89px;background:linear-gradient(90deg,#eae525 0.0%,#eae525 2.8%,#eae525 5.6%,#eae525 8.3%,#eae525 11.1%,#eae525 13.9%,#eae525 16.7%,#eae525 19.4%,#eae525 22.2%,#eae525 25.0%,#eae525 27.8%,#eae525 30.6%,#eae525 33.3%,#eae525 36.1%,#eae525 38.9%,#eae525 41.7%,#eae525 44.4%,#eae525 47.2%,#eae525 50.0%,#eae525 52.8%,#eae525 55.6%,#eae525 58.3%,#eae525 61.1%,#eae525 63.9%,#eae525 66.7%,#eae525 69.4%,#eae525 72.2%,#eae525 75.0%,#eae525 77.8%,#eae525 80.6%,#eae525 83.3%,#eae525 86.1%,#eae525 88.9%,#eae525 91.7%,#eae525 94.4%,#eae525 97.2%,#eae525 100.0%)"></div>
<div style="position:absolute;left:2382.0px;top:700.29px;width:129.3px;height:2.89px;background:linear-gradient(90deg,#eae525 0.0%,#eae525 2.8%,#eae525 5.6%,#eae525 8.3%,#eae525 11.1%,#eae525 13.9%,#eae525 16.7%,#eae525 19.4%,#eae525 22.2%,#eae525 25.0%,#eae525 27.8%,#eae525 30.6%,#eae525 33.3%,#eae525 36.1%,#eae525 38.9%,#eae525 41.7%,#eae525 44.4%,#eae525 47.2%,#eae525 50.0%,#eae525 52.8%,#eae525 55.6%,#eae525 58.3%,#eae525 61.1%,#eae525 63.9%,#eae525 66.7%,#eae525 69.4%,#eae525 72.2%,#eae525 75.0%,#eae525 77.8%,#eae525 80.6%,#eae525 83.3%,#eae525 86.1%,#eae525 88.9%,#eae525 91.7%,#eae525 94.4%,#eae525 97.2%,#eae525 100.0%)"></div>
<div style="position:absolute;left:2382.0px;top:702.58px;width:129.3px;height:2.89px;background:linear-gradient(90deg,#eae525 0.0%,#eae525 2.8%,#eae525 5.6%,#eae525 8.3%,#eae525 11.1%,#eae525 13.9%,#eae525 16.7%,#eae525 19.4%,#eae525 22.2%,#eae525 25.0%,#eae525 27.8%,#eae525 30.6%,#eae525 33.3%,#eae525 36.1%,#eae525 38.9%,#eae525 41.7%,#eae525 44.4%,#eae525 47.2%,#eae525 50.0%,#eae525 52.8%,#eae525 55.6%,#eae525 58.3%,#eae525 61.1%,#eae525 63.9%,#eae525 66.7%,#eae525 69.4%,#eae525 72.2%,#eae525 75.0%,#eae525 77.8%,#eae525 80.6%,#eae525 83.3%,#eae525 86.1%,#eae525 88.9%,#eae525 91.7%,#eae525 94.4%,#eae525 97.2%,#eae525 100.0%)"></div>
<div style="position:absolute;left:2382.0px;top:704.86px;width:129.3px;height:2.89px;background:linear-gradient(90deg,#eae525 0.0%,#eae525 2.8%,#eae525 5.6%,#eae525 8.3%,#eae525 11.1%,#eae525 13.9%,#eae525 16.7%,#eae525 19.4%,#eae525 22.2%,#eae525 25.0%,#eae525 27.8%,#eae525 30.6%,#eae525 33.3%,#eae525 36.1%,#eae525 38.9%,#eae525 41.7%,#eae525 44.4%,#eae525 47.2%,#eae525 50.0%,#eae525 52.8%,#eae525 55.6%,#eae525 58.3%,#eae525 61.1%,#eae525 63.9%,#eae525 66.7%,#eae525 69.4%,#eae525 72.2%,#eae525 75.0%,#eae525 77.8%,#eae525 80.6%,#eae525 83.3%,#eae525 86.1%,#eae525 88.9%,#eae525 91.7%,#eae525 94.4%,#eae525 97.2%,#eae525 100.0%)"></div>
<div style="position:absolute;left:2382.0px;top:707.15px;width:129.3px;height:2.89px;background:linear-gradient(90deg,#e6e425 0.0%,#e6e425 2.8%,#e6e425 5.6%,#e6e425 8.3%,#e6e425 11.1%,#e6e425 13.9%,#e6e425 16.7%,#e6e425 19.4%,#e6e425 22.2%,#e6e425 25.0%,#e6e425 27.8%,#e6e425 30.6%,#e6e425 33.3%,#e6e425 36.1%,#e6e425 38.9%,#e6e425 41.7%,#e6e425 44.4%,#e6e425 47.2%,#e6e425 50.0%,#e6e425 52.8%,#e6e425 55.6%,#e6e425 58.3%,#e6e425 61.1%,#e6e425 63.9%,#e6e425 66.7%,#e6e425 69.4%,#e6e425 72.2%,#e6e425 75.0%,#e6e425 77.8%,#e6e425 80.6%,#e6e425 83.3%,#e6e425 86.1%,#e6e425 88.9%,#e6e425 91.7%,#e6e425 94.4%,#e6e425 97.2%,#e6e425 100.0%)"></div>
<div style="position:absolute;left:2382.0px;top:709.44px;width:129.3px;height:2.89px;background:linear-gradient(90deg,#dfe325 0.0%,#dfe325 2.8%,#dfe325 5.6%,#dfe325 8.3%,#dfe325 11.1%,#dfe325 13.9%,#dfe325 16.7%,#dfe325 19.4%,#dfe325 22.2%,#dfe325 25.0%,#dfe325 27.8%,#dfe325 30.6%,#dfe325 33.3%,#dfe325 36.1%,#dfe325 38.9%,#dfe325 41.7%,#dfe325 44.4%,#dfe325 47.2%,#dfe325 50.0%,#dfe325 52.8%,#dfe325 55.6%,#dfe325 58.3%,#dfe325 61.1%,#dfe325 63.9%,#dfe325 66.7%,#dfe325 69.4%,#dfe325 72.2%,#dfe325 75.0%,#dfe325 77.8%,#dfe325 80.6%,#dfe325 83.3%,#dfe325 86.1%,#dfe325 88.9%,#dfe325 91.7%,#dfe325 94.4%,#dfe325 97.2%,#dfe325 100.0%)"></div>
<div style="position:absolute;left:2382.0px;top:711.73px;width:129.3px;height:2.89px;background:linear-gradient(90deg,#d7e226 0.0%,#d7e226 2.8%,#d7e226 5.6%,#d7e226 8.3%,#d7e226 11.1%,#d7e226 13.9%,#d7e226 16.7%,#d7e226 19.4%,#d7e226 22.2%,#d7e226 25.0%,#d7e226 27.8%,#d7e226 30.6%,#d7e226 33.3%,#d7e226 36.1%,#d7e226 38.9%,#d7e226 41.7%,#d7e226 44.4%,#d7e226 47.2%,#d7e226 50.0%,#d7e226 52.8%,#d7e226 55.6%,#d7e226 58.3%,#d7e226 61.1%,#d7e226 63.9%,#d7e226 66.7%,#d7e226 69.4%,#d7e226 72.2%,#d7e226 75.0%,#d7e226 77.8%,#d7e226 80.6%,#d7e226 83.3%,#d7e226 86.1%,#d7e226 88.9%,#d7e226 91.7%,#d7e226 94.4%,#d7e226 97.2%,#d7e226 100.0%)"></div>
<div style="position:absolute;left:2382.0px;top:714.01px;width:129.3px;height:2.89px;background:linear-gradient(90deg,#cfe126 0.0%,#cfe126 2.8%,#cfe126 5.6%,#cfe126 8.3%,#cfe126 11.1%,#cfe126 13.9%,#cfe126 16.7%,#cfe126 19.4%,#cfe126 22.2%,#cfe126 25.0%,#cfe126 27.8%,#cfe126 30.6%,#cfe126 33.3%,#cfe126 36.1%,#cfe126 38.9%,#cfe126 41.7%,#cfe126 44.4%,#cfe126 47.2%,#cfe126 50.0%,#cfe126 52.8%,#cfe126 55.6%,#cfe126 58.3%,#cfe126 61.1%,#cfe126 63.9%,#cfe126 66.7%,#cfe126 69.4%,#cfe126 72.2%,#cfe126 75.0%,#cfe126 77.8%,#cfe126 80.6%,#cfe126 83.3%,#cfe126 86.1%,#cfe126 88.9%,#cfe126 91.7%,#cfe126 94.4%,#cfe126 97.2%,#cfe126 100.0%)"></div>
<div style="position:absolute;left:2382.0px;top:716.30px;width:129.3px;height:2.89px;background:linear-gradient(90deg,#c4e026 0.0%,#c4e026 2.8%,#c4e026 5.6%,#c4e026 8.3%,#c4e026 11.1%,#c4e026 13.9%,#c4e026 16.7%,#c4e026 19.4%,#c4e026 22.2%,#c4e026 25.0%,#c4e026 27.8%,#c4e026 30.6%,#c4e026 33.3%,#c4e026 36.1%,#c4e026 38.9%,#c4e026 41.7%,#c4e026 44.4%,#c4e026 47.2%,#c4e026 50.0%,#c4e026 52.8%,#c4e026 55.6%,#c4e026 58.3%,#c4e026 61.1%,#c4e026 63.9%,#c4e026 66.7%,#c4e026 69.4%,#c4e026 72.2%,#c4e026 75.0%,#c4e026 77.8%,#c4e026 80.6%,#c4e026 83.3%,#c4e026 86.1%,#c4e026 88.9%,#c4e026 91.7%,#c4e026 94.4%,#c4e026 97.2%,#c4e026 100.0%)"></div>
<div style="position:absolute;left:2382.0px;top:718.59px;width:129.3px;height:2.89px;background:linear-gradient(90deg,#b6de2a 0.0%,#b6de2a 2.8%,#b6de2a 5.6%,#b6de2a 8.3%,#b6de2a 11.1%,#b6de2a 13.9%,#b6de2a 16.7%,#b6de2a 19.4%,#b6de2a 22.2%,#b6de2a 25.0%,#b6de2a 27.8%,#b6de2a 30.6%,#b6de2a 33.3%,#b6de2a 36.1%,#b6de2a 38.9%,#b6de2a 41.7%,#b6de2a 44.4%,#b6de2a 47.2%,#b6de2a 50.0%,#b6de2a 52.8%,#b6de2a 55.6%,#b6de2a 58.3%,#b6de2a 61.1%,#b6de2a 63.9%,#b6de2a 66.7%,#b6de2a 69.4%,#b6de2a 72.2%,#b6de2a 75.0%,#b6de2a 77.8%,#b6de2a 80.6%,#b6de2a 83.3%,#b6de2a 86.1%,#b6de2a 88.9%,#b6de2a 91.7%,#b6de2a 94.4%,#b6de2a 97.2%,#b6de2a 100.0%)"></div>
<div style="position:absolute;left:2382.0px;top:720.88px;width:129.3px;height:2.89px;background:linear-gradient(90deg,#a7da34 0.0%,#a7da34 2.8%,#a7da34 5.6%,#a7da34 8.3%,#a7da34 11.1%,#a7da34 13.9%,#a7da34 16.7%,#a7da34 19.4%,#a7da34 22.2%,#a7da34 25.0%,#a7da34 27.8%,#a7da34 30.6%,#a7da34 33.3%,#a7da34 36.1%,#a7da34 38.9%,#a7da34 41.7%,#a7da34 44.4%,#a7da34 47.2%,#a7da34 50.0%,#a7da34 52.8%,#a7da34 55.6%,#a7da34 58.3%,#a7da34 61.1%,#a7da34 63.9%,#a7da34 66.7%,#a7da34 69.4%,#a7da34 72.2%,#a7da34 75.0%,#a7da34 77.8%,#a7da34 80.6%,#a7da34 83.3%,#a7da34 86.1%,#a7da34 88.9%,#a7da34 91.7%,#a7da34 94.4%,#a7da34 97.2%,#a7da34 100.0%)"></div>
<div style="position:absolute;left:2382.0px;top:723.16px;width:129.3px;height:2.89px;background:linear-gradient(90deg,#97d73e 0.0%,#97d73e 2.8%,#97d73e 5.6%,#97d73e 8.3%,#97d73e 11.1%,#97d73e 13.9%,#97d73e 16.7%,#97d73e 19.4%,#97d73e 22.2%,#97d73e 25.0%,#97d73e 27.8%,#97d73e 30.6%,#97d73e 33.3%,#97d73e 36.1%,#97d73e 38.9%,#97d73e 41.7%,#97d73e 44.4%,#97d73e 47.2%,#97d73e 50.0%,#97d73e 52.8%,#97d73e 55.6%,#97d73e 58.3%,#97d73e 61.1%,#97d73e 63.9%,#97d73e 66.7%,#97d73e 69.4%,#97d73e 72.2%,#97d73e 75.0%,#97d73e 77.8%,#97d73e 80.6%,#97d73e 83.3%,#97d73e 86.1%,#97d73e 88.9%,#97d73e 91.7%,#97d73e 94.4%,#97d73e 97.2%,#97d73e 100.0%)"></div>
<div style="position:absolute;left:2382.0px;top:725.45px;width:129.3px;height:2.89px;background:linear-gradient(90deg,#87d449 0.0%,#87d449 2.8%,#86d449 5.6%,#86d449 8.3%,#86d449 11.1%,#86d449 13.9%,#86d449 16.7%,#86d449 19.4%,#86d449 22.2%,#86d449 25.0%,#86d449 27.8%,#86d449 30.6%,#86d449 33.3%,#86d449 36.1%,#86d449 38.9%,#86d449 41.7%,#86d449 44.4%,#86d449 47.2%,#86d449 50.0%,#86d449 52.8%,#86d449 55.6%,#86d449 58.3%,#86d449 61.1%,#86d449 63.9%,#86d449 66.7%,#86d449 69.4%,#86d449 72.2%,#86d449 75.0%,#86d449 77.8%,#86d449 80.6%,#86d449 83.3%,#87d449 86.1%,#87d449 88.9%,#87d449 91.7%,#87d449 94.4%,#87d449 97.2%,#87d449 100.0%)"></div>
<div style="position:absolute;left:2382.0px;top:727.74px;width:129.3px;height:2.89px;background:linear-gradient(90deg,#77d053 0.0%,#77d053 2.8%,#77d053 5.6%,#77d053 8.3%,#77d053 11.1%,#77d053 13.9%,#77d053 16.7%,#77d053 19.4%,#77d053 22.2%,#77d053 25.0%,#77d053 27.8%,#77d053 30.6%,#77d053 33.3%,#77d053 36.1%,#77d053 38.9%,#77d053 41.7%,#77d053 44.4%,#77d053 47.2%,#77d053 50.0%,#77d053 52.8%,#77d053 55.6%,#77d053 58.3%,#77d053 61.1%,#77d053 63.9%,#77d053 66.7%,#77d053 69.4%,#77d053 72.2%,#77d053 75.0%,#77d053 77.8%,#77d053 80.6%,#77d053 83.3%,#77d053 86.1%,#77d053 88.9%,#77d053 91.7%,#77d053 94.4%,#77d053 97.2%,#77d053 100.0%)"></div>
<div style="position:absolute;left:2382.0px;top:730.02px;width:129.3px;height:2.89px;background:linear-gradient(90deg,#6acc5a 0.0%,#6acc5a 2.8%,#6acc5a 5.6%,#6acc5a 8.3%,#6acc5a 11.1%,#6acc5a 13.9%,#6acc5a 16.7%,#6acc5a 19.4%,#6acc5a 22.2%,#6acc5a 25.0%,#6acc5a 27.8%,#6acc5a 30.6%,#6acc5a 33.3%,#6acc5a 36.1%,#6acc5a 38.9%,#6acc5a 41.7%,#6acc5a 44.4%,#6acc5a 47.2%,#6acc5a 50.0%,#6acc5a 52.8%,#6acc5a 55.6%,#6acc5a 58.3%,#6acc5a 61.1%,#6acc5a 63.9%,#6acc5a 66.7%,#6acc5a 69.4%,#6acc5a 72.2%,#6acc5a 75.0%,#6acc5a 77.8%,#6acc5a 80.6%,#6acc5a 83.3%,#6acc5a 86.1%,#6acc5a 88.9%,#6acc5a 91.7%,#6acc5a 94.4%,#6acc5a 97.2%,#6acc5a 100.0%)"></div>
<div style="position:absolute;left:2382.0px;top:732.31px;width:129.3px;height:2.89px;background:linear-gradient(90deg,#5fc861 0.0%,#5fc861 2.8%,#5fc861 5.6%,#5fc861 8.3%,#5fc861 11.1%,#5fc861 13.9%,#5fc861 16.7%,#5fc861 19.4%,#5fc861 22.2%,#5fc861 25.0%,#5fc861 27.8%,#5fc861 30.6%,#5fc861 33.3%,#5fc861 36.1%,#5fc861 38.9%,#5fc861 41.7%,#5fc861 44.4%,#5fc861 47.2%,#5fc861 50.0%,#5fc861 52.8%,#5fc861 55.6%,#5fc861 58.3%,#5fc861 61.1%,#5fc861 63.9%,#5fc861 66.7%,#5fc861 69.4%,#5fc861 72.2%,#5fc861 75.0%,#5fc861 77.8%,#5fc861 80.6%,#5fc861 83.3%,#5fc861 86.1%,#5fc861 88.9%,#5fc861 91.7%,#5fc861 94.4%,#5fc861 97.2%,#5fc861 100.0%)"></div>
<div style="position:absolute;left:2382.0px;top:734.60px;width:129.3px;height:2.89px;background:linear-gradient(90deg,#55c566 0.0%,#55c566 2.8%,#55c566 5.6%,#55c566 8.3%,#55c566 11.1%,#55c566 13.9%,#55c566 16.7%,#55c566 19.4%,#55c566 22.2%,#55c566 25.0%,#55c566 27.8%,#55c566 30.6%,#55c566 33.3%,#55c566 36.1%,#55c566 38.9%,#55c566 41.7%,#55c566 44.4%,#55c566 47.2%,#55c566 50.0%,#55c566 52.8%,#55c566 55.6%,#55c566 58.3%,#55c566 61.1%,#55c566 63.9%,#55c566 66.7%,#55c566 69.4%,#55c566 72.2%,#55c566 75.0%,#55c566 77.8%,#55c566 80.6%,#55c566 83.3%,#55c566 86.1%,#55c566 88.9%,#55c566 91.7%,#55c566 94.4%,#55c566 97.2%,#55c566 100.0%)"></div>
<div style="position:absolute;left:2382.0px;top:736.89px;width:129.3px;height:2.89px;background:linear-gradient(90deg,#4dc26b 0.0%,#4dc26b 2.8%,#4dc26b 5.6%,#4dc26b 8.3%,#4dc26b 11.1%,#4dc26b 13.9%,#4dc26b 16.7%,#4dc26b 19.4%,#4dc26b 22.2%,#4dc26b 25.0%,#4dc26b 27.8%,#4dc26b 30.6%,#4dc26b 33.3%,#4dc26b 36.1%,#4dc26b 38.9%,#4dc26b 41.7%,#4dc26b 44.4%,#4dc26b 47.2%,#4dc26b 50.0%,#4dc26b 52.8%,#4dc26b 55.6%,#4dc26b 58.3%,#4dc26b 61.1%,#4dc26b 63.9%,#4dc26b 66.7%,#4dc26b 69.4%,#4dc26b 72.2%,#4dc26b 75.0%,#4dc26b 77.8%,#4dc26b 80.6%,#4dc26b 83.3%,#4dc26b 86.1%,#4dc26b 88.9%,#4dc26b 91.7%,#4dc26b 94.4%,#4dc26b 97.2%,#4dc26b 100.0%)"></div>
<div style="position:absolute;left:2382.0px;top:739.17px;width:129.3px;height:2.89px;background:linear-gradient(90deg,#47c06e 0.0%,#47c06e 2.8%,#47c06e 5.6%,#47c06e 8.3%,#47c06e 11.1%,#47c06e 13.9%,#47c06e 16.7%,#47c06e 19.4%,#47c06e 22.2%,#47c06e 25.0%,#47c06e 27.8%,#47c06e 30.6%,#47c06e 33.3%,#47c06e 36.1%,#47c06e 38.9%,#47c06e 41.7%,#47c06e 44.4%,#47c06e 47.2%,#47c06e 50.0%,#47c06e 52.8%,#47c06e 55.6%,#47c06e 58.3%,#47c06e 61.1%,#47c06e 63.9%,#47c06e 66.7%,#47c06e 69.4%,#47c06e 72.2%,#47c06e 75.0%,#47c06e 77.8%,#47c06e 80.6%,#47c06e 83.3%,#47c06e 86.1%,#47c06e 88.9%,#47c06e 91.7%,#47c06e 94.4%,#47c06e 97.2%,#47c06e 100.0%)"></div>
<div style="position:absolute;left:2382.0px;top:741.46px;width:129.3px;height:2.89px;background:linear-gradient(90deg,#42be71 0.0%,#42be71 2.8%,#42be71 5.6%,#42be71 8.3%,#42be71 11.1%,#42be71 13.9%,#42be71 16.7%,#42be71 19.4%,#42be71 22.2%,#42be71 25.0%,#42be71 27.8%,#42be71 30.6%,#42be71 33.3%,#42be71 36.1%,#42be71 38.9%,#42be71 41.7%,#42be71 44.4%,#42be71 47.2%,#42be71 50.0%,#42be71 52.8%,#42be71 55.6%,#42be71 58.3%,#42be71 61.1%,#42be71 63.9%,#42be71 66.7%,#42be71 69.4%,#42be71 72.2%,#42be71 75.0%,#42be71 77.8%,#42be71 80.6%,#42be71 83.3%,#42be71 86.1%,#42be71 88.9%,#42be71 91.7%,#42be71 94.4%,#42be71 97.2%,#42be71 100.0%)"></div>
<div style="position:absolute;left:2382.0px;top:743.75px;width:129.3px;height:2.89px;background:linear-gradient(90deg,#3fbb73 0.0%,#3fbb73 2.8%,#3fbb73 5.6%,#3fbb73 8.3%,#3fbb73 11.1%,#3fbb73 13.9%,#3fbb73 16.7%,#3fbb73 19.4%,#3ebb73 22.2%,#3ebb73 25.0%,#3ebb73 27.8%,#3ebb73 30.6%,#3ebb73 33.3%,#3ebb73 36.1%,#3ebb73 38.9%,#3ebb73 41.7%,#3ebb73 44.4%,#3ebb73 47.2%,#3ebb73 50.0%,#3ebb73 52.8%,#3ebb73 55.6%,#3ebb73 58.3%,#3ebb73 61.1%,#3ebb73 63.9%,#3ebb73 66.7%,#3fbb73 69.4%,#3fbb73 72.2%,#3fbb73 75.0%,#3fbb73 77.8%,#3fbb73 80.6%,#3fbb73 83.3%,#3fbb73 86.1%,#3fbb73 88.9%,#3fbb73 91.7%,#3fbb73 94.4%,#3fbb73 97.2%,#3fbb73 100.0%)"></div>
<div style="position:absolute;left:2382.0px;top:746.04px;width:129.3px;height:2.89px;background:linear-gradient(90deg,#3bb975 0.0%,#3bb975 2.8%,#3bb975 5.6%,#3bb975 8.3%,#3bb975 11.1%,#3bb975 13.9%,#3bb975 16.7%,#3bb975 19.4%,#3bb975 22.2%,#3bb975 25.0%,#3bb975 27.8%,#3bb975 30.6%,#3bb975 33.3%,#3bb975 36.1%,#3bb975 38.9%,#3bb975 41.7%,#3bb975 44.4%,#3bb975 47.2%,#3bb975 50.0%,#3bb975 52.8%,#3bb975 55.6%,#3bb975 58.3%,#3bb975 61.1%,#3bb975 63.9%,#3bb975 66.7%,#3bb975 69.4%,#3bb975 72.2%,#3bb975 75.0%,#3bb975 77.8%,#3bb975 80.6%,#3bb975 83.3%,#3bb975 86.1%,#3bb975 88.9%,#3bb975 91.7%,#3bb975 94.4%,#3bb975 97.2%,#3bb975 100.0%)"></div>
<div style="position:absolute;left:2382.0px;top:748.33px;width:129.3px;height:2.89px;background:linear-gradient(90deg,#38b777 0.0%,#38b777 2.8%,#37b777 5.6%,#37b777 8.3%,#37b777 11.1%,#37b677 13.9%,#37b677 16.7%,#37b677 19.4%,#37b677 22.2%,#37b677 25.0%,#37b677 27.8%,#37b677 30.6%,#37b678 33.3%,#37b678 36.1%,#37b678 38.9%,#37b678 41.7%,#37b678 44.4%,#37b678 47.2%,#37b678 50.0%,#37b678 52.8%,#37b678 55.6%,#37b678 58.3%,#37b677 61.1%,#37b677 63.9%,#37b677 66.7%,#37b677 69.4%,#37b677 72.2%,#37b677 75.0%,#37b677 77.8%,#37b777 80.6%,#37b777 83.3%,#37b777 86.1%,#38b777 88.9%,#38b777 91.7%,#38b777 94.4%,#38b777 97.2%,#38b777 100.0%)"></div>
<div style="position:absolute;left:2382.0px;top:750.61px;width:129.3px;height:2.89px;background:linear-gradient(90deg,#34b479 0.0%,#34b479 2.8%,#34b479 5.6%,#34b479 8.3%,#34b479 11.1%,#34b479 13.9%,#34b47a 16.7%,#34b47a 19.4%,#34b47a 22.2%,#34b47a 25.0%,#34b47a 27.8%,#34b47a 30.6%,#34b47a 33.3%,#34b47a 36.1%,#34b47a 38.9%,#34b47a 41.7%,#34b47a 44.4%,#34b47a 47.2%,#34b47a 50.0%,#34b47a 52.8%,#34b47a 55.6%,#34b47a 58.3%,#34b47a 61.1%,#34b47a 63.9%,#34b47a 66.7%,#34b47a 69.4%,#34b47a 72.2%,#34b479 75.0%,#34b479 77.8%,#34b479 80.6%,#34b479 83.3%,#34b479 86.1%,#34b479 88.9%,#34b479 91.7%,#34b479 94.4%,#34b479 97.2%,#34b479 100.0%)"></div>
<div style="position:absolute;left:2382.0px;top:752.90px;width:129.3px;height:2.89px;background:linear-gradient(90deg,#31b27b 0.0%,#31b27b 2.8%,#31b27b 5.6%,#30b27b 8.3%,#30b27c 11.1%,#30b27c 13.9%,#30b27c 16.7%,#30b27c 19.4%,#30b27c 22.2%,#30b27c 25.0%,#30b27c 27.8%,#30b17c 30.6%,#30b17c 33.3%,#30b17c 36.1%,#30b17c 38.9%,#30b17c 41.7%,#30b17c 44.4%,#30b17c 47.2%,#30b17c 50.0%,#30b17c 52.8%,#30b17c 55.6%,#30b17c 58.3%,#30b17c 61.1%,#30b27c 63.9%,#30b27c 66.7%,#30b27c 69.4%,#30b27c 72.2%,#30b27c 75.0%,#30b27c 77.8%,#30b27c 80.6%,#30b27b 83.3%,#31b27b 86.1%,#31b27b 88.9%,#31b27b 91.7%,#31b27b 94.4%,#31b27b 97.2%,#31b27b 100.0%)"></div>
<div style="position:absolute;left:2382.0px;top:755.19px;width:129.3px;height:2.89px;background:linear-gradient(90deg,#2db07d 0.0%,#2db07d 2.8%,#2daf7e 5.6%,#2daf7e 8.3%,#2daf7e 11.1%,#2daf7e 13.9%,#2daf7e 16.7%,#2daf7e 19.4%,#2daf7e 22.2%,#2caf7e 25.0%,#2caf7e 27.8%,#2caf7e 30.6%,#2caf7e 33.3%,#2caf7e 36.1%,#2caf7e 38.9%,#2caf7e 41.7%,#2caf7e 44.4%,#2caf7e 47.2%,#2caf7e 50.0%,#2caf7e 52.8%,#2caf7e 55.6%,#2caf7e 58.3%,#2caf7e 61.1%,#2caf7e 63.9%,#2daf7e 66.7%,#2daf7e 69.4%,#2daf7e 72.2%,#2daf7e 75.0%,#2daf7e 77.8%,#2daf7e 80.6%,#2daf7e 83.3%,#2daf7d 86.1%,#2db07d 88.9%,#2db07d 91.7%,#2db07d 94.4%,#2db07d 97.2%,#2db07d 100.0%)"></div>
<div style="position:absolute;left:2382.0px;top:757.48px;width:129.3px;height:2.89px;background:linear-gradient(90deg,#2aad7f 0.0%,#2aad7f 2.8%,#2aad80 5.6%,#29ad80 8.3%,#29ad80 11.1%,#29ad80 13.9%,#29ad80 16.7%,#29ad80 19.4%,#29ad80 22.2%,#29ad80 25.0%,#29ac80 27.8%,#29ac80 30.6%,#28ac80 33.3%,#28ac80 36.1%,#28ac80 38.9%,#28ac80 41.7%,#28ac80 44.4%,#28ac80 47.2%,#28ac80 50.0%,#28ac80 52.8%,#28ac80 55.6%,#28ac80 58.3%,#29ac80 61.1%,#29ad80 63.9%,#29ad80 66.7%,#29ad80 69.4%,#29ad80 72.2%,#29ad80 75.0%,#29ad80 77.8%,#29ad80 80.6%,#2aad80 83.3%,#2aad80 86.1%,#2aad7f 88.9%,#2aad7f 91.7%,#2aad7f 94.4%,#2aad7f 97.2%,#2aad7f 100.0%)"></div>
<div style="position:absolute;left:2382.0px;top:759.76px;width:129.3px;height:2.89px;background:linear-gradient(90deg,#26ab81 0.0%,#26ab82 2.8%,#26ab82 5.6%,#26ab82 8.3%,#26ab82 11.1%,#26aa82 13.9%,#25aa82 16.7%,#25aa82 19.4%,#25aa82 22.2%,#25aa82 25.0%,#25aa82 27.8%,#25aa82 30.6%,#25aa83 33.3%,#24aa83 36.1%,#24aa83 38.9%,#24aa83 41.7%,#24aa83 44.4%,#24aa83 47.2%,#24aa83 50.0%,#24aa83 52.8%,#24aa83 55.6%,#25aa82 58.3%,#25aa82 61.1%,#25aa82 63.9%,#25aa82 66.7%,#25aa82 69.4%,#25aa82 72.2%,#26aa82 75.0%,#26ab82 77.8%,#26ab82 80.6%,#26ab82 83.3%,#26ab82 86.1%,#26ab81 88.9%,#26ab81 91.7%,#26ab81 94.4%,#27ab81 97.2%,#27ab81 100.0%)"></div>
<div style="position:absolute;left:2382.0px;top:762.05px;width:129.3px;height:2.89px;background:linear-gradient(90deg,#23a983 0.0%,#23a984 2.8%,#23a884 5.6%,#22a884 8.3%,#22a884 11.1%,#22a884 13.9%,#22a884 16.7%,#22a884 19.4%,#22a884 22.2%,#22a784 25.0%,#22a784 27.8%,#22a784 30.6%,#22a784 33.3%,#22a784 36.1%,#22a784 38.9%,#22a784 41.7%,#22a784 44.4%,#22a784 47.2%,#22a784 50.0%,#22a784 52.8%,#22a784 55.6%,#22a784 58.3%,#22a784 61.1%,#22a784 63.9%,#22a784 66.7%,#22a884 69.4%,#22a884 72.2%,#22a884 75.0%,#22a884 77.8%,#22a884 80.6%,#23a884 83.3%,#23a884 86.1%,#23a983 88.9%,#23a983 91.7%,#23a983 94.4%,#23a983 97.2%,#23a983 100.0%)"></div>
<div style="position:absolute;left:2382.0px;top:764.34px;width:129.3px;height:2.89px;background:linear-gradient(90deg,#22a685 0.0%,#22a685 2.8%,#22a685 5.6%,#22a685 8.3%,#22a685 11.1%,#22a685 13.9%,#22a585 16.7%,#22a585 19.4%,#22a585 22.2%,#22a585 25.0%,#22a485 27.8%,#22a485 30.6%,#22a485 33.3%,#22a485 36.1%,#22a485 38.9%,#22a485 41.7%,#22a485 44.4%,#22a485 47.2%,#22a485 50.0%,#22a485 52.8%,#22a485 55.6%,#22a485 58.3%,#22a485 61.1%,#22a585 63.9%,#22a585 66.7%,#22a585 69.4%,#22a585 72.2%,#22a585 75.0%,#22a685 77.8%,#22a685 80.6%,#22a685 83.3%,#22a685 86.1%,#22a685 88.9%,#22a685 91.7%,#22a785 94.4%,#22a784 97.2%,#22a784 100.0%)"></div>
<div style="position:absolute;left:2382.0px;top:766.62px;width:129.3px;height:2.89px;background:linear-gradient(90deg,#22a485 0.0%,#22a485 2.8%,#22a486 5.6%,#22a386 8.3%,#22a386 11.1%,#22a386 13.9%,#22a386 16.7%,#22a286 19.4%,#22a286 22.2%,#22a286 25.0%,#22a286 27.8%,#22a186 30.6%,#22a186 33.3%,#22a186 36.1%,#22a187 38.9%,#22a187 41.7%,#22a187 44.4%,#22a187 47.2%,#22a187 50.0%,#22a186 52.8%,#22a186 55.6%,#22a186 58.3%,#22a186 61.1%,#22a286 63.9%,#22a286 66.7%,#22a286 69.4%,#22a386 72.2%,#22a386 75.0%,#22a386 77.8%,#22a386 80.6%,#22a486 83.3%,#22a485 86.1%,#22a485 88.9%,#22a485 91.7%,#22a485 94.4%,#22a485 97.2%,#22a485 100.0%)"></div>
<div style="position:absolute;left:2382.0px;top:768.91px;width:129.3px;height:2.89px;background:linear-gradient(90deg,#22a286 0.0%,#22a286 2.8%,#22a186 5.6%,#22a186 8.3%,#22a187 11.1%,#22a087 13.9%,#22a087 16.7%,#22a087 19.4%,#229f87 22.2%,#229f87 25.0%,#229f87 27.8%,#229e87 30.6%,#229e87 33.3%,#229e88 36.1%,#229e88 38.9%,#229d88 41.7%,#229d88 44.4%,#229d88 47.2%,#229e88 50.0%,#229e88 52.8%,#229e88 55.6%,#229e87 58.3%,#229e87 61.1%,#229f87 63.9%,#229f87 66.7%,#229f87 69.4%,#22a087 72.2%,#22a087 75.0%,#22a187 77.8%,#22a186 80.6%,#22a186 83.3%,#22a186 86.1%,#22a286 88.9%,#22a286 91.7%,#22a286 94.4%,#22a286 97.2%,#22a286 100.0%)"></div>
<div style="position:absolute;left:2382.0px;top:771.20px;width:129.3px;height:2.89px;background:linear-gradient(90deg,#229f87 0.0%,#229f87 2.8%,#229f87 5.6%,#229e87 8.3%,#229e87 11.1%,#229e88 13.9%,#229d88 16.7%,#229d88 19.4%,#219c88 22.2%,#219c88 25.0%,#219b88 27.8%,#219b89 30.6%,#219b89 33.3%,#219a89 36.1%,#219a89 38.9%,#219a89 41.7%,#219a89 44.4%,#219a89 47.2%,#219a89 50.0%,#219a89 52.8%,#219b89 55.6%,#219b89 58.3%,#219b88 61.1%,#219c88 63.9%,#219c88 66.7%,#229d88 69.4%,#229d88 72.2%,#229d88 75.0%,#229e88 77.8%,#229e87 80.6%,#229f87 83.3%,#229f87 86.1%,#229f87 88.9%,#22a087 91.7%,#22a087 94.4%,#22a087 97.2%,#22a087 100.0%)"></div>
<div style="position:absolute;left:2382.0px;top:773.49px;width:129.3px;height:2.89px;background:linear-gradient(90deg,#229d88 0.0%,#229d88 2.8%,#219c88 5.6%,#219c88 8.3%,#219b88 11.1%,#219b89 13.9%,#219a89 16.7%,#219a89 19.4%,#219989 22.2%,#219989 25.0%,#21988a 27.8%,#21988a 30.6%,#21978a 33.3%,#21978a 36.1%,#21978a 38.9%,#21968a 41.7%,#21968a 44.4%,#21968a 47.2%,#21978a 50.0%,#21978a 52.8%,#21978a 55.6%,#21988a 58.3%,#21988a 61.1%,#219889 63.9%,#219989 66.7%,#219a89 69.4%,#219a89 72.2%,#219b89 75.0%,#219b88 77.8%,#219c88 80.6%,#219c88 83.3%,#229d88 86.1%,#229d88 88.9%,#229d88 91.7%,#229e88 94.4%,#229e88 97.2%,#229e87 100.0%)"></div>
<div style="position:absolute;left:2382.0px;top:775.77px;width:129.3px;height:2.89px;background:linear-gradient(90deg,#219b89 0.0%,#219a89 2.8%,#219a89 5.6%,#219989 8.3%,#219989 11.1%,#21988a 13.9%,#21978a 16.7%,#21978a 19.4%,#21968a 22.2%,#21958a 25.0%,#21958b 27.8%,#21948b 30.6%,#21948b 33.3%,#21938b 36.1%,#21938b 38.9%,#21938b 41.7%,#21938b 44.4%,#21938b 47.2%,#21938b 50.0%,#21938b 52.8%,#21948b 55.6%,#21948b 58.3%,#21958b 61.1%,#21958b 63.9%,#21968a 66.7%,#21978a 69.4%,#21978a 72.2%,#21988a 75.0%,#219989 77.8%,#219989 80.6%,#219a89 83.3%,#219a89 86.1%,#219b89 88.9%,#219b89 91.7%,#219b88 94.4%,#219c88 97.2%,#219c88 100.0%)"></div>
<div style="position:absolute;left:2382.0px;top:778.06px;width:129.3px;height:2.89px;background:linear-gradient(90deg,#219889 0.0%,#21988a 2.8%,#21978a 5.6%,#21978a 8.3%,#21968a 11.1%,#21958a 13.9%,#21958b 16.7%,#21948b 19.4%,#21938b 22.2%,#21928c 25.0%,#21918c 27.8%,#21918c 30.6%,#21908c 33.3%,#228f8c 36.1%,#228f8c 38.9%,#228f8c 41.7%,#228f8c 44.4%,#228f8c 47.2%,#228f8c 50.0%,#228f8c 52.8%,#21908c 55.6%,#21908c 58.3%,#21918c 61.1%,#21928c 63.9%,#21938b 66.7%,#21938b 69.4%,#21948b 72.2%,#21958b 75.0%,#21968a 77.8%,#21978a 80.6%,#21978a 83.3%,#21988a 86.1%,#219889 88.9%,#219989 91.7%,#219989 94.4%,#219989 97.2%,#219a89 100.0%)"></div>
<div style="position:absolute;left:2382.0px;top:780.35px;width:129.3px;height:2.89px;background:linear-gradient(90deg,#21968a 0.0%,#21968a 2.8%,#21958b 5.6%,#21948b 8.3%,#21938b 11.1%,#21938b 13.9%,#21928c 16.7%,#21918c 19.4%,#21908c 22.2%,#228f8c 25.0%,#228e8c 27.8%,#228d8c 30.6%,#238c8c 33.3%,#238c8c 36.1%,#238b8c 38.9%,#238b8d 41.7%,#238b8d 44.4%,#238b8d 47.2%,#238b8c 50.0%,#238b8c 52.8%,#238c8c 55.6%,#238d8c 58.3%,#228e8c 61.1%,#228f8c 63.9%,#22908c 66.7%,#21918c 69.4%,#21928c 72.2%,#21938b 75.0%,#21938b 77.8%,#21948b 80.6%,#21958b 83.3%,#21968a 86.1%,#21968a 88.9%,#21978a 91.7%,#21988a 94.4%,#21988a 97.2%,#219889 100.0%)"></div>
<div style="position:absolute;left:2382.0px;top:782.64px;width:129.3px;height:2.89px;background:linear-gradient(90deg,#21948b 0.0%,#21938b 2.8%,#21938b 5.6%,#21928c 8.3%,#21918c 11.1%,#21908c 13.9%,#228f8c 16.7%,#228e8c 19.4%,#238d8c 22.2%,#238c8c 25.0%,#238b8d 27.8%,#248a8d 30.6%,#24898d 33.3%,#24888d 36.1%,#24888d 38.9%,#24888d 41.7%,#24888d 44.4%,#24888d 47.2%,#24888d 50.0%,#24898d 52.8%,#248a8d 55.6%,#238b8c 58.3%,#238c8c 61.1%,#228e8c 63.9%,#228f8c 66.7%,#21908c 69.4%,#21928c 72.2%,#21938b 75.0%,#21948b 77.8%,#21968a 80.6%,#21978a 83.3%,#21988a 86.1%,#219989 88.9%,#219a89 91.7%,#219b89 94.4%,#219b88 97.2%,#219c88 100.0%)"></div>
<div style="position:absolute;left:2382.0px;top:784.92px;width:129.3px;height:2.89px;background:linear-gradient(90deg,#21928c 0.0%,#21918c 2.8%,#21908c 5.6%,#228f8c 8.3%,#228e8c 11.1%,#228d8c 13.9%,#238c8c 16.7%,#238b8c 19.4%,#248a8d 22.2%,#24898d 25.0%,#24878d 27.8%,#25878d 30.6%,#25868d 33.3%,#25858d 36.1%,#25858d 38.9%,#25858d 41.7%,#25858d 44.4%,#25858d 47.2%,#25868d 50.0%,#25878d 52.8%,#24888d 55.6%,#24898d 58.3%,#238b8c 61.1%,#238d8c 63.9%,#228e8c 66.7%,#21908c 69.4%,#21928c 72.2%,#21948b 75.0%,#21958b 77.8%,#21978a 80.6%,#219889 83.3%,#219a89 86.1%,#219b88 88.9%,#229d88 91.7%,#229e88 94.4%,#229f87 97.2%,#22a087 100.0%)"></div>
<div style="position:absolute;left:2382.0px;top:787.21px;width:129.3px;height:2.89px;background:linear-gradient(90deg,#22908c 0.0%,#228f8c 2.8%,#228e8c 5.6%,#238d8c 8.3%,#238c8c 11.1%,#238a8d 13.9%,#24898d 16.7%,#24888d 19.4%,#25878d 22.2%,#25868d 25.0%,#25858d 27.8%,#26848d 30.6%,#26838d 33.3%,#26828d 36.1%,#26828d 38.9%,#26828d 41.7%,#26828d 44.4%,#26838d 47.2%,#26848d 50.0%,#25858d 52.8%,#25868d 55.6%,#24888d 58.3%,#248a8d 61.1%,#238c8c 63.9%,#228e8c 66.7%,#21908c 69.4%,#21928c 72.2%,#21948b 75.0%,#21968a 77.8%,#219889 80.6%,#219a89 83.3%,#219c88 86.1%,#229e88 88.9%,#229f87 91.7%,#22a186 94.4%,#22a286 97.2%,#22a485 100.0%)"></div>
<div style="position:absolute;left:2382.0px;top:789.50px;width:129.3px;height:2.89px;background:linear-gradient(90deg,#228d8c 0.0%,#238c8c 2.8%,#238b8c 5.6%,#238a8d 8.3%,#24898d 11.1%,#24888d 13.9%,#25878d 16.7%,#25858d 19.4%,#26848d 22.2%,#26838d 25.0%,#26828d 27.8%,#27818d 30.6%,#27808d 33.3%,#27808d 36.1%,#27808d 38.9%,#27808d 41.7%,#27808d 44.4%,#27818d 47.2%,#26828d 50.0%,#26838d 52.8%,#25858d 55.6%,#25878d 58.3%,#24898d 61.1%,#238b8c 63.9%,#228e8c 66.7%,#21908c 69.4%,#21938b 72.2%,#21958b 75.0%,#21988a 77.8%,#219a89 80.6%,#219c88 83.3%,#229e87 86.1%,#22a087 88.9%,#22a286 91.7%,#22a485 94.4%,#22a685 97.2%,#22a884 100.0%)"></div>
<div style="position:absolute;left:2382.0px;top:791.79px;width:129.3px;height:2.89px;background:linear-gradient(90deg,#238b8c 0.0%,#238a8d 2.8%,#24898d 5.6%,#24888d 8.3%,#25878d 11.1%,#25868d 13.9%,#26848d 16.7%,#26838d 19.4%,#26828d 22.2%,#27818d 25.0%,#27808d 27.8%,#287f8d 30.6%,#287e8e 33.3%,#287e8e 36.1%,#287e8e 38.9%,#287e8e 41.7%,#287e8d 44.4%,#277f8d 47.2%,#27818d 50.0%,#26828d 52.8%,#26848d 55.6%,#25868d 58.3%,#24898d 61.1%,#238b8c 63.9%,#228e8c 66.7%,#21918c 69.4%,#21948b 72.2%,#21968a 75.0%,#219989 77.8%,#219c88 80.6%,#229e87 83.3%,#22a187 86.1%,#22a386 88.9%,#22a585 91.7%,#22a884 94.4%,#25aa82 97.2%,#28ac81 100.0%)"></div>
<div style="position:absolute;left:2382.0px;top:794.08px;width:129.3px;height:2.89px;background:linear-gradient(90deg,#24898d 0.0%,#24888d 2.8%,#25878d 5.6%,#25868d 8.3%,#25858d 11.1%,#26848d 13.9%,#26828d 16.7%,#27818d 19.4%,#27808d 22.2%,#287f8d 25.0%,#287e8e 27.8%,#287d8e 30.6%,#287c8e 33.3%,#297c8e 36.1%,#297c8e 38.9%,#287c8e 41.7%,#287d8e 44.4%,#287e8e 47.2%,#27808d 50.0%,#27818d 52.8%,#26848d 55.6%,#25868d 58.3%,#24898d 61.1%,#238c8c 63.9%,#228f8c 66.7%,#21928c 69.4%,#21958b 72.2%,#21988a 75.0%,#219b89 77.8%,#229d88 80.6%,#22a087 83.3%,#22a386 86.1%,#22a685 88.9%,#23a984 91.7%,#27ab81 94.4%,#2aae7f 97.2%,#2eb07d 100.0%)"></div>
<div style="position:absolute;left:2382.0px;top:796.36px;width:129.3px;height:2.89px;background:linear-gradient(90deg,#24878d 0.0%,#25868d 2.8%,#25858d 5.6%,#26848d 8.3%,#26838d 11.1%,#26828d 13.9%,#27818d 16.7%,#277f8d 19.4%,#287e8e 22.2%,#287d8e 25.0%,#287c8e 27.8%,#297b8e 30.6%,#297b8e 33.3%,#297b8e 36.1%,#297b8e 38.9%,#297b8e 41.7%,#287c8e 44.4%,#287e8e 47.2%,#277f8d 50.0%,#27818d 52.8%,#26838d 55.6%,#25868d 58.3%,#24898d 61.1%,#238c8c 63.9%,#228f8c 66.7%,#21938b 69.4%,#21968a 72.2%,#219989 75.0%,#219c88 77.8%,#22a087 80.6%,#22a386 83.3%,#22a685 86.1%,#23a983 88.9%,#28ac81 91.7%,#2caf7e 94.4%,#30b27c 97.2%,#34b479 100.0%)"></div>
<div style="position:absolute;left:2382.0px;top:798.65px;width:129.3px;height:2.89px;background:linear-gradient(90deg,#25858d 0.0%,#26848d 2.8%,#26838d 5.6%,#26828d 8.3%,#27818d 11.1%,#27808d 13.9%,#277f8d 16.7%,#287e8e 19.4%,#287d8e 22.2%,#297c8e 25.0%,#297b8e 27.8%,#297a8e 30.6%,#297a8e 33.3%,#297a8e 36.1%,#297a8e 38.9%,#297b8e 41.7%,#297c8e 44.4%,#287d8e 47.2%,#277f8d 50.0%,#27818d 52.8%,#26848d 55.6%,#25878d 58.3%,#248a8d 61.1%,#228d8c 63.9%,#21918c 66.7%,#21948b 69.4%,#21978a 72.2%,#219b89 75.0%,#229e87 77.8%,#22a286 80.6%,#22a585 83.3%,#23a983 86.1%,#28ac81 88.9%,#2daf7e 91.7%,#31b27b 94.4%,#36b678 97.2%,#3bb975 100.0%)"></div>
<div style="position:absolute;left:2382.0px;top:800.94px;width:129.3px;height:2.89px;background:linear-gradient(90deg,#26838d 0.0%,#26828d 2.8%,#27818d 5.6%,#27808d 8.3%,#277f8d 11.1%,#287f8d 13.9%,#287e8e 16.7%,#287d8e 19.4%,#297c8e 22.2%,#297b8e 25.0%,#297a8e 27.8%,#297a8e 30.6%,#297a8e 33.3%,#297a8e 36.1%,#297a8e 38.9%,#297b8e 41.7%,#287c8e 44.4%,#287e8e 47.2%,#27808d 50.0%,#26828d 52.8%,#25858d 55.6%,#24888d 58.3%,#238b8c 61.1%,#228f8c 63.9%,#21928c 66.7%,#21968a 69.4%,#219989 72.2%,#229d88 75.0%,#22a187 77.8%,#22a485 80.6%,#22a884 83.3%,#27ac81 86.1%,#2daf7e 88.9%,#32b37b 91.7%,#37b678 94.4%,#3cba75 97.2%,#41bd72 100.0%)"></div>
<div style="position:absolute;left:2382.0px;top:803.23px;width:129.3px;height:2.89px;background:linear-gradient(90deg,#27808d 0.0%,#277f8d 2.8%,#287f8d 5.6%,#287e8e 8.3%,#287e8e 11.1%,#287d8e 13.9%,#287c8e 16.7%,#297c8e 19.4%,#297b8e 22.2%,#297b8e 25.0%,#297a8e 27.8%,#297a8e 30.6%,#297a8e 33.3%,#297a8e 36.1%,#297b8e 38.9%,#297c8e 41.7%,#287d8e 44.4%,#287f8d 47.2%,#27818d 50.0%,#26838d 52.8%,#25868d 55.6%,#24898d 58.3%,#238d8c 61.1%,#21908c 63.9%,#21948b 66.7%,#21988a 69.4%,#219b88 72.2%,#229f87 75.0%,#22a386 77.8%,#22a784 80.6%,#26ab81 83.3%,#2caf7e 86.1%,#32b37b 88.9%,#37b677 91.7%,#3dba74 94.4%,#42be71 97.2%,#4ac16c 100.0%)"></div>
<div style="position:absolute;left:2382.0px;top:805.51px;width:129.3px;height:2.89px;background:linear-gradient(90deg,#287c8e 0.0%,#297c8e 2.8%,#297b8e 5.6%,#297b8e 8.3%,#297b8e 11.1%,#297b8e 13.9%,#297b8e 16.7%,#297b8e 19.4%,#297b8e 22.2%,#297a8e 25.0%,#297a8e 27.8%,#297a8e 30.6%,#297a8e 33.3%,#297b8e 36.1%,#297c8e 38.9%,#287d8e 41.7%,#287e8d 44.4%,#27808d 47.2%,#26828d 50.0%,#25858d 52.8%,#24888d 55.6%,#238b8c 58.3%,#228f8c 61.1%,#21938b 63.9%,#21968a 66.7%,#219a89 69.4%,#229e88 72.2%,#22a286 75.0%,#22a685 77.8%,#25aa82 80.6%,#2bae7f 83.3%,#31b27b 86.1%,#37b678 88.9%,#3dba74 91.7%,#43be71 94.4%,#4cc26c 97.2%,#55c566 100.0%)"></div>
<div style="position:absolute;left:2382.0px;top:807.80px;width:129.3px;height:2.89px;background:linear-gradient(90deg,#2b778e 0.0%,#2b768e 2.8%,#2b768e 5.6%,#2b778e 8.3%,#2a788e 11.1%,#2a788e 13.9%,#2a798e 16.7%,#297a8e 19.4%,#297a8e 22.2%,#297a8e 25.0%,#297a8e 27.8%,#297b8e 30.6%,#297b8e 33.3%,#297c8e 36.1%,#287d8e 38.9%,#287e8e 41.7%,#27808d 44.4%,#26828d 47.2%,#26848d 50.0%,#25878d 52.8%,#238a8d 55.6%,#228e8c 58.3%,#21918c 61.1%,#21958b 63.9%,#219989 66.7%,#219c88 69.4%,#22a187 72.2%,#22a585 75.0%,#23a983 77.8%,#29ad80 80.6%,#30b17c 83.3%,#36b678 86.1%,#3cba75 88.9%,#43be71 91.7%,#4cc26c 94.4%,#56c566 97.2%,#60c860 100.0%)"></div>
<div style="position:absolute;left:2382.0px;top:810.09px;width:129.3px;height:2.89px;background:linear-gradient(90deg,#2e6e8e 0.0%,#2e6e8e 2.8%,#2e6f8e 5.6%,#2d718e 8.3%,#2c738e 11.1%,#2b758e 13.9%,#2b768e 16.7%,#2a788e 19.4%,#2a798e 22.2%,#297a8e 25.0%,#297b8e 27.8%,#297b8e 30.6%,#297c8e 33.3%,#287d8e 36.1%,#287e8d 38.9%,#27808d 41.7%,#27828d 44.4%,#26848d 47.2%,#25868d 50.0%,#24898d 52.8%,#238d8c 55.6%,#21908c 58.3%,#21948b 61.1%,#21978a 63.9%,#219b88 66.7%,#229f87 69.4%,#22a386 72.2%,#22a884 75.0%,#28ac81 77.8%,#2eb07d 80.6%,#35b579 83.3%,#3bb975 86.1%,#42be71 88.9%,#4bc16c 91.7%,#56c566 94.4%,#60c860 97.2%,#6bcc59 100.0%)"></div>
<div style="position:absolute;left:2382.0px;top:812.38px;width:129.3px;height:2.89px;background:linear-gradient(90deg,#33638d 0.0%,#33648d 2.8%,#32658d 5.6%,#31688d 8.3%,#2f6c8e 11.1%,#2e708e 13.9%,#2c738e 16.7%,#2b768e 19.4%,#2a788e 22.2%,#297a8e 25.0%,#297b8e 27.8%,#287c8e 30.6%,#287d8e 33.3%,#287f8d 36.1%,#27808d 38.9%,#26828d 41.7%,#26848d 44.4%,#25868d 47.2%,#24898d 50.0%,#238c8c 52.8%,#228f8c 55.6%,#21938b 58.3%,#21968a 61.1%,#219a89 63.9%,#229e88 66.7%,#22a286 69.4%,#22a685 72.2%,#26ab82 75.0%,#2caf7e 77.8%,#33b47a 80.6%,#3ab876 83.3%,#41bd72 86.1%,#4ac16d 88.9%,#55c566 91.7%,#60c860 94.4%,#6bcc5a 97.2%,#77d053 100.0%)"></div>
<div style="position:absolute;left:2382.0px;top:814.66px;width:129.3px;height:2.89px;background:linear-gradient(90deg,#3a558b 0.0%,#39568b 2.8%,#38598c 5.6%,#355e8d 8.3%,#33648d 11.1%,#306a8d 13.9%,#2e6f8e 16.7%,#2c738e 19.4%,#2b778e 22.2%,#2a798e 25.0%,#297b8e 27.8%,#287d8e 30.6%,#287f8d 33.3%,#27808d 36.1%,#26828d 38.9%,#26848d 41.7%,#25868d 44.4%,#24888d 47.2%,#238b8c 50.0%,#228e8c 52.8%,#21928c 55.6%,#21958b 58.3%,#219989 61.1%,#229d88 63.9%,#22a187 66.7%,#22a585 69.4%,#24a983 72.2%,#2bae7f 75.0%,#31b27b 77.8%,#38b777 80.6%,#3fbc73 83.3%,#48c06e 86.1%,#53c467 88.9%,#5fc861 91.7%,#6acc5a 94.4%,#76d053 97.2%,#84d34a 100.0%)"></div>
<div style="position:absolute;left:2382.0px;top:816.95px;width:129.3px;height:2.89px;background:linear-gradient(90deg,#414487 0.0%,#404687 2.8%,#3e4a88 5.6%,#3b528a 8.3%,#375a8c 11.1%,#33638d 13.9%,#306a8d 16.7%,#2d708e 19.4%,#2b758e 22.2%,#2a798e 25.0%,#297c8e 27.8%,#287e8e 30.6%,#27808d 33.3%,#27828d 36.1%,#26848d 38.9%,#25868d 41.7%,#24888d 44.4%,#238b8c 47.2%,#228e8c 50.0%,#21918c 52.8%,#21948b 55.6%,#21988a 58.3%,#219c88 61.1%,#22a087 63.9%,#22a486 66.7%,#22a884 69.4%,#29ac80 72.2%,#2fb17c 75.0%,#36b678 77.8%,#3dba74 80.6%,#45bf70 83.3%,#51c369 86.1%,#5cc762 88.9%,#68cb5b 91.7%,#75cf54 94.4%,#83d34b 97.2%,#93d641 100.0%)"></div>
<div style="position:absolute;left:2382.0px;top:819.24px;width:129.3px;height:2.89px;background:linear-gradient(90deg,#45317c 0.0%,#45337e 2.8%,#433b82 5.6%,#404587 8.3%,#3c508a 11.1%,#375b8c 13.9%,#32658d 16.7%,#2f6d8e 19.4%,#2c738e 22.2%,#2a788e 25.0%,#297c8e 27.8%,#287f8d 30.6%,#27818d 33.3%,#26838d 36.1%,#25868d 38.9%,#24888d 41.7%,#238a8d 44.4%,#228d8c 47.2%,#21908c 50.0%,#21948b 52.8%,#21978a 55.6%,#219b89 58.3%,#229e87 61.1%,#22a286 63.9%,#22a784 66.7%,#26ab81 69.4%,#2db07d 72.2%,#34b479 75.0%,#3bb975 77.8%,#43be71 80.6%,#4ec26b 83.3%,#5ac664 86.1%,#66ca5c 88.9%,#73cf55 91.7%,#81d24d 94.4%,#91d642 97.2%,#a2d937 100.0%)"></div>
<div style="position:absolute;left:2382.0px;top:821.52px;width:129.3px;height:2.89px;background:linear-gradient(90deg,#482173 0.0%,#482575 2.8%,#462d7a 5.6%,#433a81 8.3%,#3f4888 11.1%,#39558b 13.9%,#34618d 16.7%,#306b8d 19.4%,#2d728e 22.2%,#2a788e 25.0%,#287c8e 27.8%,#27808d 30.6%,#26828d 33.3%,#25858d 36.1%,#24878d 38.9%,#248a8d 41.7%,#238d8c 44.4%,#21908c 47.2%,#21938b 50.0%,#21968a 52.8%,#219989 55.6%,#229d88 58.3%,#22a186 61.1%,#22a585 63.9%,#24aa83 66.7%,#2bae7f 69.4%,#32b37b 72.2%,#39b876 75.0%,#40bd72 77.8%,#4ac16c 80.6%,#57c565 83.3%,#63c95e 86.1%,#70ce57 88.9%,#7ed24f 91.7%,#8fd544 94.4%,#a0d939 97.2%,#b1dd2e 100.0%)"></div>
<div style="position:absolute;left:2382.0px;top:823.81px;width:129.3px;height:2.89px;background:linear-gradient(90deg,#47186a 0.0%,#471c6d 2.8%,#482676 5.6%,#45347e 8.3%,#414487 11.1%,#3b528a 13.9%,#355f8d 16.7%,#306a8d 19.4%,#2d728e 22.2%,#2a788e 25.0%,#287d8e 27.8%,#27818d 30.6%,#26848d 33.3%,#25878d 36.1%,#24898d 38.9%,#238c8c 41.7%,#228f8c 44.4%,#21928c 47.2%,#21958b 50.0%,#219889 52.8%,#219c88 55.6%,#22a087 58.3%,#22a485 61.1%,#22a884 63.9%,#29ad80 66.7%,#30b17c 69.4%,#37b678 72.2%,#3ebb73 75.0%,#47c06e 77.8%,#53c467 80.6%,#60c860 83.3%,#6dcd59 86.1%,#7ad151 88.9%,#8bd546 91.7%,#9dd83b 94.4%,#afdc2f 97.2%,#c1df26 100.0%)"></div>
<div style="position:absolute;left:2372px;top:671.7px;width:138.5px;height:6.8px;background:linear-gradient(90deg,#440154 0%,#482475 10%,#414487 20%,#355f8d 30%,#2a788e 40%,#21918c 50%,#22a884 60%,#44bf70 70%,#7ad151 80%,#bddf26 90%,#fde725 100%)"></div><div style="position:absolute;left:3222.5px;top:100.6px;width:353.2px;height:6.8px;background:linear-gradient(90deg,#000 0%,#400000 25%,#800000 50%,#c00000 75%,#ff0000 100%)"></div>
<div style="position:absolute;left:3222.5px;top:161.4px;width:353.2px;height:6.8px;background:linear-gradient(90deg,#fff 0%,#c0c0ff 25%,#8080ff 50%,#4040ff 75%,#0000ff 100%)"></div><svg style="position:absolute;left:0;top:0;overflow:visible" width="4635" height="1200"><line x1="1071.9" y1="324.4" x2="1100.3" y2="341.2" stroke="#f5b82a" stroke-width="2.2" stroke-linecap="butt"/>
<line x1="1071.9" y1="341.2" x2="1100.3" y2="324.4" stroke="#f5b82a" stroke-width="2.2" stroke-linecap="butt"/>
<line x1="1086.5" y1="363.5" x2="1114.6" y2="380.2" stroke="#f5b82a" stroke-width="2.2" stroke-linecap="butt"/>
<line x1="1086.5" y1="380.2" x2="1114.6" y2="363.5" stroke="#f5b82a" stroke-width="2.2" stroke-linecap="butt"/>
<line x1="1100.3" y1="324.4" x2="1128.7" y2="341.2" stroke="#f5b82a" stroke-width="2.2" stroke-linecap="butt"/>
<line x1="1100.3" y1="341.2" x2="1128.7" y2="324.4" stroke="#f5b82a" stroke-width="2.2" stroke-linecap="butt"/>
<line x1="1114.6" y1="363.5" x2="1142.7" y2="380.2" stroke="#f5b82a" stroke-width="2.2" stroke-linecap="butt"/>
<line x1="1114.6" y1="380.2" x2="1142.7" y2="363.5" stroke="#f5b82a" stroke-width="2.2" stroke-linecap="butt"/>
<line x1="1128.7" y1="324.4" x2="1157.1" y2="341.2" stroke="#f5b82a" stroke-width="2.2" stroke-linecap="butt"/>
<line x1="1128.7" y1="341.2" x2="1157.1" y2="324.4" stroke="#f5b82a" stroke-width="2.2" stroke-linecap="butt"/>
<line x1="1142.7" y1="363.5" x2="1170.8" y2="380.2" stroke="#f5b82a" stroke-width="2.2" stroke-linecap="butt"/>
<line x1="1142.7" y1="380.2" x2="1170.8" y2="363.5" stroke="#f5b82a" stroke-width="2.2" stroke-linecap="butt"/>
<line x1="1071.9" y1="324.4" x2="1157.1" y2="324.4" stroke="#1b2be0" stroke-width="2.2" stroke-linecap="butt"/>
<line x1="1071.9" y1="341.2" x2="1157.1" y2="341.2" stroke="#1b2be0" stroke-width="2.2" stroke-linecap="butt"/>
<line x1="1086.5" y1="363.5" x2="1170.8" y2="363.5" stroke="#1b2be0" stroke-width="2.2" stroke-dasharray="2.5,2.5" stroke-linecap="butt"/>
<line x1="1086.5" y1="380.2" x2="1170.8" y2="380.2" stroke="#1b2be0" stroke-width="2.2" stroke-dasharray="2.5,2.5" stroke-linecap="butt"/>
<line x1="1071.9" y1="324.4" x2="1071.9" y2="341.2" stroke="#e8202a" stroke-width="2.2" stroke-linecap="butt"/>
<line x1="1086.5" y1="363.5" x2="1086.5" y2="380.2" stroke="#e8202a" stroke-width="2.2" stroke-linecap="butt"/>
<line x1="1100.3" y1="324.4" x2="1100.3" y2="341.2" stroke="#e8202a" stroke-width="2.2" stroke-linecap="butt"/>
<line x1="1114.6" y1="363.5" x2="1114.6" y2="380.2" stroke="#e8202a" stroke-width="2.2" stroke-linecap="butt"/>
<line x1="1128.7" y1="324.4" x2="1128.7" y2="341.2" stroke="#e8202a" stroke-width="2.2" stroke-linecap="butt"/>
<line x1="1142.7" y1="363.5" x2="1142.7" y2="380.2" stroke="#e8202a" stroke-width="2.2" stroke-linecap="butt"/>
<line x1="1157.1" y1="324.4" x2="1157.1" y2="341.2" stroke="#e8202a" stroke-width="2.2" stroke-linecap="butt"/>
<line x1="1170.8" y1="363.5" x2="1170.8" y2="380.2" stroke="#e8202a" stroke-width="2.2" stroke-linecap="butt"/>
<polyline points="1071.9,341.2 1086.5,363.5 1100.3,341.2 1114.6,363.5 1128.7,341.2 1142.7,363.5 1157.1,341.2 1170.8,363.5" fill="none" stroke="#1e8a1e" stroke-width="2.2" stroke-linecap="butt" stroke-linejoin="round"/>
<rect x="1100.2" y="314.3" width="28.6" height="76.5" fill="none" stroke="#e040e8" stroke-width="1.4"/>
<circle cx="1071.9" cy="324.4" r="4.8" fill="#fff" stroke="#000" stroke-width="1"/>
<circle cx="1071.9" cy="341.2" r="4.8" fill="#fff" stroke="#000" stroke-width="1"/>
<circle cx="1086.5" cy="363.5" r="4.8" fill="#000" stroke="#000" stroke-width="1"/>
<circle cx="1086.5" cy="380.2" r="4.8" fill="#000" stroke="#000" stroke-width="1"/>
<circle cx="1100.3" cy="324.4" r="4.8" fill="#fff" stroke="#000" stroke-width="1"/>
<circle cx="1100.3" cy="341.2" r="4.8" fill="#fff" stroke="#000" stroke-width="1"/>
<circle cx="1114.6" cy="363.5" r="4.8" fill="#000" stroke="#000" stroke-width="1"/>
<circle cx="1114.6" cy="380.2" r="4.8" fill="#000" stroke="#000" stroke-width="1"/>
<circle cx="1128.7" cy="324.4" r="4.8" fill="#fff" stroke="#000" stroke-width="1"/>
<circle cx="1128.7" cy="341.2" r="4.8" fill="#fff" stroke="#000" stroke-width="1"/>
<circle cx="1142.7" cy="363.5" r="4.8" fill="#000" stroke="#000" stroke-width="1"/>
<circle cx="1142.7" cy="380.2" r="4.8" fill="#000" stroke="#000" stroke-width="1"/>
<circle cx="1157.1" cy="324.4" r="4.8" fill="#fff" stroke="#000" stroke-width="1"/>
<circle cx="1157.1" cy="341.2" r="4.8" fill="#fff" stroke="#000" stroke-width="1"/>
<circle cx="1170.8" cy="363.5" r="4.8" fill="#000" stroke="#000" stroke-width="1"/>
<circle cx="1170.8" cy="380.2" r="4.8" fill="#000" stroke="#000" stroke-width="1"/>
<text x="1052.5" y="333.5" font-size="12.5" text-anchor="start" fill="#000" font-family="Liberation Serif"><tspan font-weight="bold">S</tspan><tspan dy="3" font-size="9">3</tspan></text>
<text x="1052.5" y="350.5" font-size="12.5" text-anchor="start" fill="#000" font-family="Liberation Serif"><tspan font-weight="bold">S</tspan><tspan dy="3" font-size="9">2</tspan></text>
<text x="1067.5" y="372.5" font-size="12.5" text-anchor="start" fill="#000" font-family="Liberation Serif"><tspan font-weight="bold">S</tspan><tspan dy="3" font-size="9">4</tspan></text>
<text x="1067.5" y="389.5" font-size="12.5" text-anchor="start" fill="#000" font-family="Liberation Serif"><tspan font-weight="bold">S</tspan><tspan dy="3" font-size="9">1</tspan></text>
<text x="1136.5" y="319.5" font-size="13" text-anchor="start" fill="#1b2be0" font-family="Liberation Serif"><tspan font-style="italic">J</tspan><tspan dy="3" font-size="9">3</tspan></text>
<text x="1161.5" y="341" font-size="13" text-anchor="start" fill="#e8202a" font-family="Liberation Serif"><tspan font-style="italic">J</tspan><tspan dy="3" font-size="9">1</tspan></text>
<text x="1165" y="356.5" font-size="13" text-anchor="start" fill="#1e8a1e" font-family="Liberation Serif"><tspan font-style="italic">J</tspan><tspan dy="3" font-size="9">2</tspan></text>
<text x="1150" y="395" font-size="13" text-anchor="start" fill="#f5b82a" font-family="Liberation Serif"><tspan font-style="italic">J</tspan><tspan dy="3" font-size="9">4</tspan></text>
<line x1="1026.9" y1="365.1" x2="1026.9" y2="347" stroke="#808080" stroke-width="1.3" stroke-linecap="butt"/>
<polygon points="1023.6,348.5 1030.2,348.5 1026.9,343.2" fill="#808080"/>
<line x1="1026.9" y1="365.1" x2="1044.5" y2="365.1" stroke="#808080" stroke-width="1.3" stroke-linecap="butt"/>
<polygon points="1043,361.8 1043,368.4 1048.3,365.1" fill="#808080"/>
<text x="1015.5" y="352" font-size="14" text-anchor="start" fill="#333" font-family="Liberation Serif" style="font-style:italic">c</text>
<text x="1041" y="380" font-size="14" text-anchor="start" fill="#333" font-family="Liberation Serif" style="font-style:italic">b</text>
<line x1="1256" y1="322.6" x2="1339.8" y2="322.6" stroke="#1b2be0" stroke-width="2.0" stroke-dasharray="2,2" stroke-linecap="butt"/>
<line x1="1256" y1="322.6" x2="1269.9" y2="346.7" stroke="#1b2be0" stroke-width="2.0" stroke-dasharray="2,2" stroke-linecap="butt"/>
<line x1="1284" y1="322.6" x2="1297.9" y2="346.7" stroke="#1b2be0" stroke-width="2.0" stroke-dasharray="2,2" stroke-linecap="butt"/>
<line x1="1284" y1="322.6" x2="1269.9" y2="346.7" stroke="#1b2be0" stroke-width="2.0" stroke-dasharray="2,2" stroke-linecap="butt"/>
<line x1="1311.9" y1="322.6" x2="1325.8" y2="346.7" stroke="#1b2be0" stroke-width="2.0" stroke-dasharray="2,2" stroke-linecap="butt"/>
<line x1="1311.9" y1="322.6" x2="1297.9" y2="346.7" stroke="#1b2be0" stroke-width="2.0" stroke-dasharray="2,2" stroke-linecap="butt"/>
<line x1="1339.8" y1="322.6" x2="1353.8" y2="346.7" stroke="#1b2be0" stroke-width="2.0" stroke-dasharray="2,2" stroke-linecap="butt"/>
<line x1="1339.8" y1="322.6" x2="1325.8" y2="346.7" stroke="#1b2be0" stroke-width="2.0" stroke-dasharray="2,2" stroke-linecap="butt"/>
<line x1="1269.9" y1="346.7" x2="1353.8" y2="346.7" stroke="#1b2be0" stroke-width="2.0" stroke-dasharray="2,2" stroke-linecap="butt"/>
<line x1="1269.9" y1="346.7" x2="1256" y2="370.8" stroke="#1b2be0" stroke-width="2.0" stroke-dasharray="2,2" stroke-linecap="butt"/>
<line x1="1269.9" y1="346.7" x2="1284" y2="370.8" stroke="#1b2be0" stroke-width="2.0" stroke-dasharray="2,2" stroke-linecap="butt"/>
<line x1="1297.9" y1="346.7" x2="1284" y2="370.8" stroke="#1b2be0" stroke-width="2.0" stroke-dasharray="2,2" stroke-linecap="butt"/>
<line x1="1297.9" y1="346.7" x2="1311.9" y2="370.8" stroke="#1b2be0" stroke-width="2.0" stroke-dasharray="2,2" stroke-linecap="butt"/>
<line x1="1325.8" y1="346.7" x2="1311.9" y2="370.8" stroke="#1b2be0" stroke-width="2.0" stroke-dasharray="2,2" stroke-linecap="butt"/>
<line x1="1325.8" y1="346.7" x2="1339.8" y2="370.8" stroke="#1b2be0" stroke-width="2.0" stroke-dasharray="2,2" stroke-linecap="butt"/>
<line x1="1353.8" y1="346.7" x2="1339.8" y2="370.8" stroke="#1b2be0" stroke-width="2.0" stroke-dasharray="2,2" stroke-linecap="butt"/>
<line x1="1256" y1="370.8" x2="1339.8" y2="370.8" stroke="#1b2be0" stroke-width="2.0" stroke-dasharray="2,2" stroke-linecap="butt"/>
<line x1="1256" y1="370.8" x2="1269.9" y2="395" stroke="#1b2be0" stroke-width="2.0" stroke-dasharray="2,2" stroke-linecap="butt"/>
<line x1="1284" y1="370.8" x2="1297.9" y2="395" stroke="#1b2be0" stroke-width="2.0" stroke-dasharray="2,2" stroke-linecap="butt"/>
<line x1="1284" y1="370.8" x2="1269.9" y2="395" stroke="#1b2be0" stroke-width="2.0" stroke-dasharray="2,2" stroke-linecap="butt"/>
<line x1="1311.9" y1="370.8" x2="1325.8" y2="395" stroke="#1b2be0" stroke-width="2.0" stroke-dasharray="2,2" stroke-linecap="butt"/>
<line x1="1311.9" y1="370.8" x2="1297.9" y2="395" stroke="#1b2be0" stroke-width="2.0" stroke-dasharray="2,2" stroke-linecap="butt"/>
<line x1="1339.8" y1="370.8" x2="1353.8" y2="395" stroke="#1b2be0" stroke-width="2.0" stroke-dasharray="2,2" stroke-linecap="butt"/>
<line x1="1339.8" y1="370.8" x2="1325.8" y2="395" stroke="#1b2be0" stroke-width="2.0" stroke-dasharray="2,2" stroke-linecap="butt"/>
<line x1="1269.9" y1="395" x2="1353.8" y2="395" stroke="#1b2be0" stroke-width="2.0" stroke-dasharray="2,2" stroke-linecap="butt"/>
<polyline points="1242.0,313.1 1256.0,322.6 1270.0,313.1 1284.0,322.6 1297.9,313.1 1311.9,322.6 1325.8,313.1 1339.8,322.6" fill="none" stroke="#1e8a1e" stroke-width="2.0" stroke-linecap="butt" stroke-linejoin="round"/>
<line x1="1256" y1="322.6" x2="1256" y2="337" stroke="#1e8a1e" stroke-width="2.0" stroke-linecap="butt"/>
<line x1="1284" y1="322.6" x2="1284" y2="337" stroke="#1e8a1e" stroke-width="2.0" stroke-linecap="butt"/>
<line x1="1311.9" y1="322.6" x2="1311.9" y2="337" stroke="#1e8a1e" stroke-width="2.0" stroke-linecap="butt"/>
<line x1="1339.8" y1="322.6" x2="1339.8" y2="337" stroke="#1e8a1e" stroke-width="2.0" stroke-linecap="butt"/>
<polyline points="1256.0,337.0 1269.9,346.7 1284.0,337.0 1297.9,346.7 1311.9,337.0 1325.8,346.7 1339.8,337.0 1353.8,346.7" fill="none" stroke="#1e8a1e" stroke-width="2.0" stroke-linecap="butt" stroke-linejoin="round"/>
<line x1="1269.9" y1="346.7" x2="1269.9" y2="361.4" stroke="#1e8a1e" stroke-width="2.0" stroke-linecap="butt"/>
<line x1="1297.9" y1="346.7" x2="1297.9" y2="361.4" stroke="#1e8a1e" stroke-width="2.0" stroke-linecap="butt"/>
<line x1="1325.8" y1="346.7" x2="1325.8" y2="361.4" stroke="#1e8a1e" stroke-width="2.0" stroke-linecap="butt"/>
<polyline points="1242.0,361.4 1256.0,370.8 1270.0,361.4 1284.0,370.8 1297.9,361.4 1311.9,370.8 1325.8,361.4 1339.8,370.8" fill="none" stroke="#1e8a1e" stroke-width="2.0" stroke-linecap="butt" stroke-linejoin="round"/>
<line x1="1256" y1="370.8" x2="1256" y2="385.5" stroke="#1e8a1e" stroke-width="2.0" stroke-linecap="butt"/>
<line x1="1284" y1="370.8" x2="1284" y2="385.5" stroke="#1e8a1e" stroke-width="2.0" stroke-linecap="butt"/>
<line x1="1311.9" y1="370.8" x2="1311.9" y2="385.5" stroke="#1e8a1e" stroke-width="2.0" stroke-linecap="butt"/>
<line x1="1339.8" y1="370.8" x2="1339.8" y2="385.5" stroke="#1e8a1e" stroke-width="2.0" stroke-linecap="butt"/>
<polyline points="1256.0,385.5 1269.9,395.0 1284.0,385.5 1297.9,395.0 1311.9,385.5 1325.8,395.0 1339.8,385.5 1353.8,395.0" fill="none" stroke="#1e8a1e" stroke-width="2.0" stroke-linecap="butt" stroke-linejoin="round"/>
<line x1="1242" y1="313.1" x2="1325.8" y2="313.1" stroke="#1b2be0" stroke-width="2.4" stroke-linecap="butt"/>
<line x1="1242" y1="313.1" x2="1256" y2="337" stroke="#1b2be0" stroke-width="2.4" stroke-linecap="butt"/>
<line x1="1270" y1="313.1" x2="1284" y2="337" stroke="#1b2be0" stroke-width="2.4" stroke-linecap="butt"/>
<line x1="1270" y1="313.1" x2="1256" y2="337" stroke="#1b2be0" stroke-width="2.4" stroke-linecap="butt"/>
<line x1="1297.9" y1="313.1" x2="1311.9" y2="337" stroke="#1b2be0" stroke-width="2.4" stroke-linecap="butt"/>
<line x1="1297.9" y1="313.1" x2="1284" y2="337" stroke="#1b2be0" stroke-width="2.4" stroke-linecap="butt"/>
<line x1="1325.8" y1="313.1" x2="1339.8" y2="337" stroke="#1b2be0" stroke-width="2.4" stroke-linecap="butt"/>
<line x1="1325.8" y1="313.1" x2="1311.9" y2="337" stroke="#1b2be0" stroke-width="2.4" stroke-linecap="butt"/>
<line x1="1256" y1="337" x2="1339.8" y2="337" stroke="#1b2be0" stroke-width="2.4" stroke-linecap="butt"/>
<line x1="1256" y1="337" x2="1242" y2="361.4" stroke="#1b2be0" stroke-width="2.4" stroke-linecap="butt"/>
<line x1="1256" y1="337" x2="1270" y2="361.4" stroke="#1b2be0" stroke-width="2.4" stroke-linecap="butt"/>
<line x1="1284" y1="337" x2="1270" y2="361.4" stroke="#1b2be0" stroke-width="2.4" stroke-linecap="butt"/>
<line x1="1284" y1="337" x2="1297.9" y2="361.4" stroke="#1b2be0" stroke-width="2.4" stroke-linecap="butt"/>
<line x1="1311.9" y1="337" x2="1297.9" y2="361.4" stroke="#1b2be0" stroke-width="2.4" stroke-linecap="butt"/>
<line x1="1311.9" y1="337" x2="1325.8" y2="361.4" stroke="#1b2be0" stroke-width="2.4" stroke-linecap="butt"/>
<line x1="1339.8" y1="337" x2="1325.8" y2="361.4" stroke="#1b2be0" stroke-width="2.4" stroke-linecap="butt"/>
<line x1="1242" y1="361.4" x2="1325.8" y2="361.4" stroke="#1b2be0" stroke-width="2.4" stroke-linecap="butt"/>
<line x1="1242" y1="361.4" x2="1256" y2="385.5" stroke="#1b2be0" stroke-width="2.4" stroke-linecap="butt"/>
<line x1="1270" y1="361.4" x2="1284" y2="385.5" stroke="#1b2be0" stroke-width="2.4" stroke-linecap="butt"/>
<line x1="1270" y1="361.4" x2="1256" y2="385.5" stroke="#1b2be0" stroke-width="2.4" stroke-linecap="butt"/>
<line x1="1297.9" y1="361.4" x2="1311.9" y2="385.5" stroke="#1b2be0" stroke-width="2.4" stroke-linecap="butt"/>
<line x1="1297.9" y1="361.4" x2="1284" y2="385.5" stroke="#1b2be0" stroke-width="2.4" stroke-linecap="butt"/>
<line x1="1325.8" y1="361.4" x2="1339.8" y2="385.5" stroke="#1b2be0" stroke-width="2.4" stroke-linecap="butt"/>
<line x1="1325.8" y1="361.4" x2="1311.9" y2="385.5" stroke="#1b2be0" stroke-width="2.4" stroke-linecap="butt"/>
<line x1="1256" y1="385.5" x2="1339.8" y2="385.5" stroke="#1b2be0" stroke-width="2.4" stroke-linecap="butt"/>
<polygon points="1242,361.4 1269.9,361.4 1283.9,385.5 1256,385.5" fill="none" stroke="#c040e0" stroke-width="1.6"/>
<circle cx="1256" cy="322.6" r="4.7" fill="#000" stroke="#000" stroke-width="0.8"/>
<circle cx="1284" cy="322.6" r="4.7" fill="#000" stroke="#000" stroke-width="0.8"/>
<circle cx="1311.9" cy="322.6" r="4.7" fill="#000" stroke="#000" stroke-width="0.8"/>
<circle cx="1339.8" cy="322.6" r="4.7" fill="#000" stroke="#000" stroke-width="0.8"/>
<circle cx="1269.9" cy="346.7" r="4.7" fill="#000" stroke="#000" stroke-width="0.8"/>
<circle cx="1297.9" cy="346.7" r="4.7" fill="#000" stroke="#000" stroke-width="0.8"/>
<circle cx="1325.8" cy="346.7" r="4.7" fill="#000" stroke="#000" stroke-width="0.8"/>
<circle cx="1353.8" cy="346.7" r="4.7" fill="#000" stroke="#000" stroke-width="0.8"/>
<circle cx="1256" cy="370.8" r="4.7" fill="#000" stroke="#000" stroke-width="0.8"/>
<circle cx="1284" cy="370.8" r="4.7" fill="#000" stroke="#000" stroke-width="0.8"/>
<circle cx="1311.9" cy="370.8" r="4.7" fill="#000" stroke="#000" stroke-width="0.8"/>
<circle cx="1339.8" cy="370.8" r="4.7" fill="#000" stroke="#000" stroke-width="0.8"/>
<circle cx="1269.9" cy="395" r="4.7" fill="#000" stroke="#000" stroke-width="0.8"/>
<circle cx="1297.9" cy="395" r="4.7" fill="#000" stroke="#000" stroke-width="0.8"/>
<circle cx="1325.8" cy="395" r="4.7" fill="#000" stroke="#000" stroke-width="0.8"/>
<circle cx="1353.8" cy="395" r="4.7" fill="#000" stroke="#000" stroke-width="0.8"/>
<circle cx="1242" cy="313.1" r="4.7" fill="#fff" stroke="#000" stroke-width="0.9"/>
<circle cx="1270" cy="313.1" r="4.7" fill="#fff" stroke="#000" stroke-width="0.9"/>
<circle cx="1297.9" cy="313.1" r="4.7" fill="#fff" stroke="#000" stroke-width="0.9"/>
<circle cx="1325.8" cy="313.1" r="4.7" fill="#fff" stroke="#000" stroke-width="0.9"/>
<circle cx="1256" cy="337" r="4.7" fill="#fff" stroke="#000" stroke-width="0.9"/>
<circle cx="1284" cy="337" r="4.7" fill="#fff" stroke="#000" stroke-width="0.9"/>
<circle cx="1311.9" cy="337" r="4.7" fill="#fff" stroke="#000" stroke-width="0.9"/>
<circle cx="1339.8" cy="337" r="4.7" fill="#fff" stroke="#000" stroke-width="0.9"/>
<circle cx="1242" cy="361.4" r="4.7" fill="#fff" stroke="#000" stroke-width="0.9"/>
<circle cx="1270" cy="361.4" r="4.7" fill="#fff" stroke="#000" stroke-width="0.9"/>
<circle cx="1297.9" cy="361.4" r="4.7" fill="#fff" stroke="#000" stroke-width="0.9"/>
<circle cx="1325.8" cy="361.4" r="4.7" fill="#fff" stroke="#000" stroke-width="0.9"/>
<circle cx="1256" cy="385.5" r="4.7" fill="#fff" stroke="#000" stroke-width="0.9"/>
<circle cx="1284" cy="385.5" r="4.7" fill="#fff" stroke="#000" stroke-width="0.9"/>
<circle cx="1311.9" cy="385.5" r="4.7" fill="#fff" stroke="#000" stroke-width="0.9"/>
<circle cx="1339.8" cy="385.5" r="4.7" fill="#fff" stroke="#000" stroke-width="0.9"/>
<text x="1252" y="305" font-size="13" text-anchor="start" fill="#1b2be0" font-family="Liberation Serif"><tspan font-style="italic">J</tspan><tspan dy="3" font-size="9">3</tspan></text>
<text x="1334" y="315.5" font-size="13" text-anchor="start" fill="#1e8a1e" font-family="Liberation Serif"><tspan font-style="italic">J</tspan><tspan dy="3" font-size="9">2</tspan></text>
<line x1="1213.5" y1="346" x2="1230" y2="346" stroke="#808080" stroke-width="1.3" stroke-linecap="butt"/>
<polygon points="1229,342.8 1229,349.2 1234.5,346" fill="#808080"/>
<line x1="1213.5" y1="346" x2="1223" y2="360" stroke="#808080" stroke-width="1.3" stroke-linecap="butt"/>
<polygon points="1219.5,360.5 1225.5,357.5 1225.5,364.5" fill="#808080"/>
<text x="1220.5" y="340" font-size="14" text-anchor="start" fill="#333" font-family="Liberation Serif" style="font-style:italic">b</text>
<text x="1209" y="369.5" font-size="14" text-anchor="start" fill="#333" font-family="Liberation Serif" style="font-style:italic">a</text>
<text x="1018.5" y="421.5" font-size="15.5" text-anchor="start" fill="#e8202a" font-family="Liberation Serif"><tspan font-style="italic">J</tspan><tspan dy="3" font-size="10">1</tspan><tspan dy="-3"> = intradimer</tspan></text>
<text x="1126.5" y="421.5" font-size="15.5" text-anchor="start" fill="#1e8a1e" font-family="Liberation Serif"><tspan font-style="italic">J</tspan><tspan dy="3" font-size="10">2</tspan><tspan dy="-3"> = tripod</tspan></text>
<text x="1205.5" y="421.5" font-size="15.5" text-anchor="start" fill="#1b2be0" font-family="Liberation Serif"><tspan font-style="italic">J</tspan><tspan dy="3" font-size="10">3</tspan><tspan dy="-3"> = triangle</tspan></text>
<text x="1296.5" y="421.5" font-size="15.5" text-anchor="start" fill="#f5b82a" font-family="Liberation Serif"><tspan font-style="italic">J</tspan><tspan dy="3" font-size="10">4</tspan><tspan dy="-3"> = bowtie</tspan></text><rect x="1989.8" y="219.7" width="124" height="123.6" fill="none" stroke="#000" stroke-width="1.0"/>
<line x1="1991.8" y1="337" x2="2111.8" y2="337" stroke="#fff" stroke-width="1.4" stroke-dasharray="5,3" stroke-linecap="butt"/>
<line x1="1989.8" y1="343.3" x2="1992.3" y2="343.3" stroke="#000" stroke-width="1" stroke-linecap="butt"/>
<text x="1985.8" y="348.3" font-size="15" text-anchor="end" fill="#000" font-family="Liberation Serif">0</text>
<line x1="1989.8" y1="343.3" x2="1989.8" y2="340.8" stroke="#000" stroke-width="1" stroke-linecap="butt"/>
<text x="1989.8" y="358.8" font-size="15" text-anchor="middle" fill="#000" font-family="Liberation Serif">0</text>
<line x1="1989.8" y1="318.6" x2="1992.3" y2="318.6" stroke="#000" stroke-width="1" stroke-linecap="butt"/>
<text x="1985.8" y="323.6" font-size="15" text-anchor="end" fill="#000" font-family="Liberation Serif">0.2</text>
<line x1="2014.6" y1="343.3" x2="2014.6" y2="340.8" stroke="#000" stroke-width="1" stroke-linecap="butt"/>
<text x="2014.6" y="358.8" font-size="15" text-anchor="middle" fill="#000" font-family="Liberation Serif">0.2</text>
<line x1="1989.8" y1="293.9" x2="1992.3" y2="293.9" stroke="#000" stroke-width="1" stroke-linecap="butt"/>
<text x="1985.8" y="298.9" font-size="15" text-anchor="end" fill="#000" font-family="Liberation Serif">0.4</text>
<line x1="2039.4" y1="343.3" x2="2039.4" y2="340.8" stroke="#000" stroke-width="1" stroke-linecap="butt"/>
<text x="2039.4" y="358.8" font-size="15" text-anchor="middle" fill="#000" font-family="Liberation Serif">0.4</text>
<line x1="1989.8" y1="269.1" x2="1992.3" y2="269.1" stroke="#000" stroke-width="1" stroke-linecap="butt"/>
<text x="1985.8" y="274.1" font-size="15" text-anchor="end" fill="#000" font-family="Liberation Serif">0.6</text>
<line x1="2064.2" y1="343.3" x2="2064.2" y2="340.8" stroke="#000" stroke-width="1" stroke-linecap="butt"/>
<text x="2064.2" y="358.8" font-size="15" text-anchor="middle" fill="#000" font-family="Liberation Serif">0.6</text>
<line x1="1989.8" y1="244.4" x2="1992.3" y2="244.4" stroke="#000" stroke-width="1" stroke-linecap="butt"/>
<text x="1985.8" y="249.4" font-size="15" text-anchor="end" fill="#000" font-family="Liberation Serif">0.8</text>
<line x1="2089" y1="343.3" x2="2089" y2="340.8" stroke="#000" stroke-width="1" stroke-linecap="butt"/>
<text x="2089" y="358.8" font-size="15" text-anchor="middle" fill="#000" font-family="Liberation Serif">0.8</text>
<line x1="1989.8" y1="219.7" x2="1992.3" y2="219.7" stroke="#000" stroke-width="1" stroke-linecap="butt"/>
<text x="1985.8" y="224.7" font-size="15" text-anchor="end" fill="#000" font-family="Liberation Serif">1.0</text>
<line x1="2113.8" y1="343.3" x2="2113.8" y2="340.8" stroke="#000" stroke-width="1" stroke-linecap="butt"/>
<text x="2113.8" y="358.8" font-size="15" text-anchor="middle" fill="#000" font-family="Liberation Serif">1.0</text>
<text x="1993.8" y="237.5" font-size="15" text-anchor="start" fill="#000" font-family="Liberation Serif">(a) <tspan font-style="italic">S</tspan> = 1/2</text>
<text x="2051.8" y="372.5" font-size="15.5" text-anchor="middle" fill="#1e8a1e" font-family="Liberation Serif"><tspan font-style="italic">J</tspan><tspan dy="3" font-size="10">2</tspan><tspan dy="-3">, tripod/</tspan><tspan fill="#e8202a" font-style="italic">J</tspan><tspan dy="3" font-size="10" fill="#e8202a">1</tspan></text>
<text x="1953.8" y="282" font-size="15.5" text-anchor="middle" fill="#1b2be0" font-family="Liberation Serif" transform="rotate(-90 1953.8 282)"><tspan font-style="italic">J</tspan><tspan dy="3" font-size="10">3</tspan><tspan dy="-3">, triangle/</tspan><tspan fill="#e8202a" font-style="italic">J</tspan><tspan dy="3" font-size="10" fill="#e8202a">1</tspan></text>
<rect x="1994.3" y="202.5" width="107.5" height="4.5" fill="none" stroke="#000" stroke-width="0.8"/>
<text x="1994.3" y="196" font-size="15" text-anchor="middle" fill="#000" font-family="Liberation Serif">0</text>
<text x="2025" y="196" font-size="15" text-anchor="middle" fill="#000" font-family="Liberation Serif">0.2</text>
<text x="2055.7" y="196" font-size="15" text-anchor="middle" fill="#000" font-family="Liberation Serif">0.4</text>
<text x="2086.4" y="196" font-size="15" text-anchor="middle" fill="#000" font-family="Liberation Serif">0.6</text>
<line x1="1994.3" y1="202.5" x2="1994.3" y2="200.5" stroke="#000" stroke-width="0.8" stroke-linecap="butt"/>
<line x1="2009.7" y1="202.5" x2="2009.7" y2="200.5" stroke="#000" stroke-width="0.8" stroke-linecap="butt"/>
<line x1="2025" y1="202.5" x2="2025" y2="200.5" stroke="#000" stroke-width="0.8" stroke-linecap="butt"/>
<line x1="2040.4" y1="202.5" x2="2040.4" y2="200.5" stroke="#000" stroke-width="0.8" stroke-linecap="butt"/>
<line x1="2055.7" y1="202.5" x2="2055.7" y2="200.5" stroke="#000" stroke-width="0.8" stroke-linecap="butt"/>
<line x1="2071.1" y1="202.5" x2="2071.1" y2="200.5" stroke="#000" stroke-width="0.8" stroke-linecap="butt"/>
<line x1="2086.4" y1="202.5" x2="2086.4" y2="200.5" stroke="#000" stroke-width="0.8" stroke-linecap="butt"/>
<line x1="2101.8" y1="202.5" x2="2101.8" y2="200.5" stroke="#000" stroke-width="0.8" stroke-linecap="butt"/>
<text x="2117.8" y="197" font-size="14.5" text-anchor="middle" fill="#000" font-family="Liberation Serif" transform="rotate(-90 2117.8 197)">⟨<tspan font-weight="bold">S</tspan><tspan dy="3" font-size="9">tot</tspan><tspan dy="-8" font-size="9">2</tspan><tspan dy="5">⟩</tspan></text>
<rect x="2170.2" y="219.7" width="124" height="123.6" fill="none" stroke="#000" stroke-width="1.0"/>
<line x1="2172.2" y1="337" x2="2292.2" y2="337" stroke="#fff" stroke-width="1.4" stroke-dasharray="5,3" stroke-linecap="butt"/>
<line x1="2170.2" y1="343.3" x2="2172.7" y2="343.3" stroke="#000" stroke-width="1" stroke-linecap="butt"/>
<text x="2166.2" y="348.3" font-size="15" text-anchor="end" fill="#000" font-family="Liberation Serif">0</text>
<line x1="2170.2" y1="343.3" x2="2170.2" y2="340.8" stroke="#000" stroke-width="1" stroke-linecap="butt"/>
<text x="2170.2" y="358.8" font-size="15" text-anchor="middle" fill="#000" font-family="Liberation Serif">0</text>
<line x1="2170.2" y1="318.6" x2="2172.7" y2="318.6" stroke="#000" stroke-width="1" stroke-linecap="butt"/>
<text x="2166.2" y="323.6" font-size="15" text-anchor="end" fill="#000" font-family="Liberation Serif">0.2</text>
<line x1="2195" y1="343.3" x2="2195" y2="340.8" stroke="#000" stroke-width="1" stroke-linecap="butt"/>
<text x="2195" y="358.8" font-size="15" text-anchor="middle" fill="#000" font-family="Liberation Serif">0.2</text>
<line x1="2170.2" y1="293.9" x2="2172.7" y2="293.9" stroke="#000" stroke-width="1" stroke-linecap="butt"/>
<text x="2166.2" y="298.9" font-size="15" text-anchor="end" fill="#000" font-family="Liberation Serif">0.4</text>
<line x1="2219.8" y1="343.3" x2="2219.8" y2="340.8" stroke="#000" stroke-width="1" stroke-linecap="butt"/>
<text x="2219.8" y="358.8" font-size="15" text-anchor="middle" fill="#000" font-family="Liberation Serif">0.4</text>
<line x1="2170.2" y1="269.1" x2="2172.7" y2="269.1" stroke="#000" stroke-width="1" stroke-linecap="butt"/>
<text x="2166.2" y="274.1" font-size="15" text-anchor="end" fill="#000" font-family="Liberation Serif">0.6</text>
<line x1="2244.6" y1="343.3" x2="2244.6" y2="340.8" stroke="#000" stroke-width="1" stroke-linecap="butt"/>
<text x="2244.6" y="358.8" font-size="15" text-anchor="middle" fill="#000" font-family="Liberation Serif">0.6</text>
<line x1="2170.2" y1="244.4" x2="2172.7" y2="244.4" stroke="#000" stroke-width="1" stroke-linecap="butt"/>
<text x="2166.2" y="249.4" font-size="15" text-anchor="end" fill="#000" font-family="Liberation Serif">0.8</text>
<line x1="2269.4" y1="343.3" x2="2269.4" y2="340.8" stroke="#000" stroke-width="1" stroke-linecap="butt"/>
<text x="2269.4" y="358.8" font-size="15" text-anchor="middle" fill="#000" font-family="Liberation Serif">0.8</text>
<line x1="2170.2" y1="219.7" x2="2172.7" y2="219.7" stroke="#000" stroke-width="1" stroke-linecap="butt"/>
<text x="2166.2" y="224.7" font-size="15" text-anchor="end" fill="#000" font-family="Liberation Serif">1.0</text>
<line x1="2294.2" y1="343.3" x2="2294.2" y2="340.8" stroke="#000" stroke-width="1" stroke-linecap="butt"/>
<text x="2294.2" y="358.8" font-size="15" text-anchor="middle" fill="#000" font-family="Liberation Serif">1.0</text>
<text x="2174.2" y="237.5" font-size="15" text-anchor="start" fill="#000" font-family="Liberation Serif">(b) <tspan font-style="italic">S</tspan> = 3/2</text>
<text x="2232.2" y="372.5" font-size="15.5" text-anchor="middle" fill="#1e8a1e" font-family="Liberation Serif"><tspan font-style="italic">J</tspan><tspan dy="3" font-size="10">2</tspan><tspan dy="-3">, tripod/</tspan><tspan fill="#e8202a" font-style="italic">J</tspan><tspan dy="3" font-size="10" fill="#e8202a">1</tspan></text>
<text x="2134.2" y="282" font-size="15.5" text-anchor="middle" fill="#1b2be0" font-family="Liberation Serif" transform="rotate(-90 2134.2 282)"><tspan font-style="italic">J</tspan><tspan dy="3" font-size="10">3</tspan><tspan dy="-3">, triangle/</tspan><tspan fill="#e8202a" font-style="italic">J</tspan><tspan dy="3" font-size="10" fill="#e8202a">1</tspan></text>
<rect x="2174.7" y="202.5" width="107.5" height="4.5" fill="none" stroke="#000" stroke-width="0.8"/>
<text x="2174.7" y="196" font-size="15" text-anchor="middle" fill="#000" font-family="Liberation Serif">0</text>
<text x="2219.5" y="196" font-size="15" text-anchor="middle" fill="#000" font-family="Liberation Serif">1.0</text>
<text x="2264.3" y="196" font-size="15" text-anchor="middle" fill="#000" font-family="Liberation Serif">2.0</text>
<line x1="2174.7" y1="202.5" x2="2174.7" y2="200.5" stroke="#000" stroke-width="0.8" stroke-linecap="butt"/>
<line x1="2183.7" y1="202.5" x2="2183.7" y2="200.5" stroke="#000" stroke-width="0.8" stroke-linecap="butt"/>
<line x1="2192.6" y1="202.5" x2="2192.6" y2="200.5" stroke="#000" stroke-width="0.8" stroke-linecap="butt"/>
<line x1="2201.6" y1="202.5" x2="2201.6" y2="200.5" stroke="#000" stroke-width="0.8" stroke-linecap="butt"/>
<line x1="2210.5" y1="202.5" x2="2210.5" y2="200.5" stroke="#000" stroke-width="0.8" stroke-linecap="butt"/>
<line x1="2219.5" y1="202.5" x2="2219.5" y2="200.5" stroke="#000" stroke-width="0.8" stroke-linecap="butt"/>
<line x1="2228.4" y1="202.5" x2="2228.4" y2="200.5" stroke="#000" stroke-width="0.8" stroke-linecap="butt"/>
<line x1="2237.4" y1="202.5" x2="2237.4" y2="200.5" stroke="#000" stroke-width="0.8" stroke-linecap="butt"/>
<line x1="2246.4" y1="202.5" x2="2246.4" y2="200.5" stroke="#000" stroke-width="0.8" stroke-linecap="butt"/>
<line x1="2255.3" y1="202.5" x2="2255.3" y2="200.5" stroke="#000" stroke-width="0.8" stroke-linecap="butt"/>
<line x1="2264.3" y1="202.5" x2="2264.3" y2="200.5" stroke="#000" stroke-width="0.8" stroke-linecap="butt"/>
<line x1="2273.2" y1="202.5" x2="2273.2" y2="200.5" stroke="#000" stroke-width="0.8" stroke-linecap="butt"/>
<line x1="2282.2" y1="202.5" x2="2282.2" y2="200.5" stroke="#000" stroke-width="0.8" stroke-linecap="butt"/>
<text x="2298.2" y="197" font-size="14.5" text-anchor="middle" fill="#000" font-family="Liberation Serif" transform="rotate(-90 2298.2 197)">⟨<tspan font-weight="bold">S</tspan><tspan dy="3" font-size="9">tot</tspan><tspan dy="-8" font-size="9">2</tspan><tspan dy="5">⟩</tspan></text>
<line x1="1989.8" y1="383.6" x2="1989.8" y2="435.1" stroke="#000" stroke-width="1.1" stroke-linecap="butt"/>
<line x1="1989.8" y1="435.1" x2="2113.8" y2="435.1" stroke="#000" stroke-width="1.1" stroke-linecap="butt"/>
<line x1="1989.8" y1="435.1" x2="1989.8" y2="432.6" stroke="#000" stroke-width="1" stroke-linecap="butt"/>
<line x1="2014.6" y1="435.1" x2="2014.6" y2="432.6" stroke="#000" stroke-width="1" stroke-linecap="butt"/>
<line x1="2039.4" y1="435.1" x2="2039.4" y2="432.6" stroke="#000" stroke-width="1" stroke-linecap="butt"/>
<line x1="2064.2" y1="435.1" x2="2064.2" y2="432.6" stroke="#000" stroke-width="1" stroke-linecap="butt"/>
<line x1="2089" y1="435.1" x2="2089" y2="432.6" stroke="#000" stroke-width="1" stroke-linecap="butt"/>
<line x1="2113.8" y1="435.1" x2="2113.8" y2="432.6" stroke="#000" stroke-width="1" stroke-linecap="butt"/>
<line x1="1989.8" y1="388.6" x2="1992.3" y2="388.6" stroke="#000" stroke-width="1" stroke-linecap="butt"/>
<text x="1985.8" y="393.6" font-size="15" text-anchor="end" fill="#000" font-family="Liberation Serif">1</text>
<line x1="1989.8" y1="405.7" x2="1992.3" y2="405.7" stroke="#000" stroke-width="1" stroke-linecap="butt"/>
<text x="1985.8" y="410.7" font-size="15" text-anchor="end" fill="#000" font-family="Liberation Serif">0</text>
<line x1="1989.8" y1="422.8" x2="1992.3" y2="422.8" stroke="#000" stroke-width="1" stroke-linecap="butt"/>
<text x="1985.8" y="427.8" font-size="15" text-anchor="end" fill="#000" font-family="Liberation Serif">−1</text>
<polyline points="1989.8,401.4 1992.9,401.4 1996.0,401.4 1999.1,401.4 2002.2,401.4 2005.3,401.4 2008.4,401.4 2011.5,401.4 2014.6,401.4 2017.7,401.4 2020.8,401.4 2023.9,401.4 2027.0,401.4 2030.1,401.4 2033.2,401.4 2036.3,401.4 2039.4,401.4 2042.5,401.4 2045.6,401.4 2048.7,401.4 2051.8,401.4 2054.9,401.4 2058.0,401.4 2061.1,401.4 2064.2,401.4 2067.3,401.4 2070.4,401.4 2073.5,401.4 2076.6,401.4 2079.7,401.4 2082.8,401.4 2085.9,401.4 2089.0,401.4 2092.1,401.4 2095.2,401.4 2098.3,401.4 2101.4,401.4 2104.5,401.4 2107.6,401.4 2110.7,401.4 2113.8,401.4" fill="none" stroke="#3a9a3a" stroke-width="1.5" stroke-linecap="butt" stroke-linejoin="round"/>
<polyline points="1989.8,401.4 1992.9,401.4 1996.0,401.4 1999.1,401.4 2002.2,401.4 2005.3,401.4 2008.4,401.4 2011.5,401.4 2014.6,401.4 2017.7,401.4 2020.8,401.4 2023.9,401.4 2027.0,401.4 2030.1,401.4 2033.2,401.4 2036.3,401.4 2039.4,401.4 2042.5,401.4 2045.6,401.2 2048.7,400.5 2051.8,399.9 2054.9,399.2 2058.0,398.6 2061.1,397.9 2064.2,397.3 2067.3,396.6 2070.4,396.0 2073.5,395.3 2076.6,394.7 2079.7,394.0 2082.8,393.4 2085.9,392.7 2089.0,392.1 2092.1,391.4 2095.2,390.8 2098.3,390.1 2101.4,389.5 2104.5,388.8 2107.6,388.2 2110.7,387.5 2113.8,386.9" fill="none" stroke="#b86fd6" stroke-width="1.5" stroke-linecap="butt" stroke-linejoin="round"/>
<polyline points="1989.8,418.5 1992.9,418.5 1996.0,418.5 1999.1,418.5 2002.2,418.5 2005.3,418.5 2008.4,418.5 2011.5,418.5 2014.6,418.5 2017.7,418.5 2020.8,418.5 2023.9,418.5 2027.0,418.5 2030.1,418.5 2033.2,418.5 2036.3,418.5 2039.4,418.5 2042.5,418.5 2045.6,418.8 2048.7,419.6 2051.8,420.4 2054.9,421.1 2058.0,421.9 2061.1,422.6 2064.2,423.4 2067.3,424.2 2070.4,424.9 2073.5,425.7 2076.6,426.5 2079.7,427.2 2082.8,428.0 2085.9,428.8 2089.0,429.5 2092.1,430.3 2095.2,431.0 2098.3,431.8 2101.4,432.6 2104.5,433.3 2107.6,434.1 2110.7,434.9 2113.8,435.6" fill="none" stroke="#2aa0e8" stroke-width="1.5" stroke-linecap="butt" stroke-linejoin="round"/>
<text x="1993.8" y="396.6" font-size="15" text-anchor="start" fill="#000" font-family="Liberation Serif">(c)</text>
<line x1="1989.8" y1="450.4" x2="1989.8" y2="501.9" stroke="#000" stroke-width="1.1" stroke-linecap="butt"/>
<line x1="1989.8" y1="501.9" x2="2113.8" y2="501.9" stroke="#000" stroke-width="1.1" stroke-linecap="butt"/>
<line x1="1989.8" y1="501.9" x2="1989.8" y2="499.4" stroke="#000" stroke-width="1" stroke-linecap="butt"/>
<line x1="2014.6" y1="501.9" x2="2014.6" y2="499.4" stroke="#000" stroke-width="1" stroke-linecap="butt"/>
<line x1="2039.4" y1="501.9" x2="2039.4" y2="499.4" stroke="#000" stroke-width="1" stroke-linecap="butt"/>
<line x1="2064.2" y1="501.9" x2="2064.2" y2="499.4" stroke="#000" stroke-width="1" stroke-linecap="butt"/>
<line x1="2089" y1="501.9" x2="2089" y2="499.4" stroke="#000" stroke-width="1" stroke-linecap="butt"/>
<line x1="2113.8" y1="501.9" x2="2113.8" y2="499.4" stroke="#000" stroke-width="1" stroke-linecap="butt"/>
<line x1="1989.8" y1="451.9" x2="1992.3" y2="451.9" stroke="#000" stroke-width="1" stroke-linecap="butt"/>
<text x="1985.8" y="456.9" font-size="15" text-anchor="end" fill="#000" font-family="Liberation Serif">2</text>
<line x1="1989.8" y1="476.9" x2="1992.3" y2="476.9" stroke="#000" stroke-width="1" stroke-linecap="butt"/>
<text x="1985.8" y="481.9" font-size="15" text-anchor="end" fill="#000" font-family="Liberation Serif">1</text>
<line x1="1989.8" y1="501.9" x2="1992.3" y2="501.9" stroke="#000" stroke-width="1" stroke-linecap="butt"/>
<text x="1985.8" y="506.9" font-size="15" text-anchor="end" fill="#000" font-family="Liberation Serif">0</text>
<polyline points="1989.8,451.9 1992.9,451.9 1996.0,451.9 1999.1,451.9 2002.2,451.9 2005.3,451.9 2008.4,451.9 2011.5,451.9 2014.6,451.9 2017.7,451.9 2020.8,451.9 2023.9,451.9 2027.0,451.9 2030.1,451.9 2033.2,451.9 2036.3,451.9 2039.4,451.9 2042.5,451.9 2045.6,451.9 2048.7,451.9 2051.8,451.9 2054.9,451.9 2058.0,451.9 2061.1,451.9 2064.2,451.9 2067.3,451.9 2070.4,451.9 2073.5,451.9 2076.6,451.9 2079.7,451.9 2082.8,451.9 2085.9,451.9 2089.0,451.9 2092.1,451.9 2095.2,451.9 2098.3,451.9 2101.4,451.9 2104.5,451.9 2107.6,451.9 2110.7,451.9 2113.8,451.9" fill="none" stroke="#3a9a3a" stroke-width="1.5" stroke-linecap="butt" stroke-linejoin="round"/>
<polyline points="1989.8,451.9 1992.9,451.9 1996.0,451.9 1999.1,451.9 2002.2,451.9 2005.3,451.9 2008.4,451.9 2011.5,451.9 2014.6,451.9 2017.7,451.9 2020.8,451.9 2023.9,451.9 2027.0,451.9 2030.1,451.9 2033.2,451.9 2036.3,451.9 2039.4,451.9 2042.5,451.9 2045.6,452.6 2048.7,454.3 2051.8,455.8 2054.9,457.1 2058.0,458.3 2061.1,459.4 2064.2,460.3 2067.3,461.1 2070.4,461.9 2073.5,462.6 2076.6,463.2 2079.7,463.7 2082.8,464.2 2085.9,464.6 2089.0,465.0 2092.1,465.3 2095.2,465.6 2098.3,465.9 2101.4,466.1 2104.5,466.4 2107.6,466.6 2110.7,466.7 2113.8,466.9" fill="none" stroke="#b86fd6" stroke-width="1.5" stroke-linecap="butt" stroke-linejoin="round"/>
<polyline points="1989.8,501.9 1992.9,501.9 1996.0,501.9 1999.1,501.9 2002.2,501.9 2005.3,501.9 2008.4,501.9 2011.5,501.9 2014.6,501.9 2017.7,501.9 2020.8,501.9 2023.9,501.9 2027.0,501.9 2030.1,501.9 2033.2,501.9 2036.3,501.9 2039.4,501.9 2042.5,501.9 2045.6,501.3 2048.7,499.8 2051.8,498.5 2054.9,497.3 2058.0,496.1 2061.1,495.1 2064.2,494.1 2067.3,493.3 2070.4,492.5 2073.5,491.7 2076.6,491.0 2079.7,490.4 2082.8,489.8 2085.9,489.3 2089.0,488.8 2092.1,488.3 2095.2,487.9 2098.3,487.5 2101.4,487.2 2104.5,486.9 2107.6,486.6 2110.7,486.3 2113.8,486.0" fill="none" stroke="#2aa0e8" stroke-width="1.5" stroke-linecap="butt" stroke-linejoin="round"/>
<polyline points="1989.8,501.2 2044.3,501.2" fill="none" stroke="#1f6fb0" stroke-width="2.2" stroke-linecap="butt" stroke-linejoin="round"/>
<text x="1993.8" y="463.4" font-size="15" text-anchor="start" fill="#000" font-family="Liberation Serif">(e)</text>
<line x1="1989.8" y1="535.6" x2="1989.8" y2="586.6" stroke="#000" stroke-width="1.1" stroke-linecap="butt"/>
<line x1="1989.8" y1="586.6" x2="2113.8" y2="586.6" stroke="#000" stroke-width="1.1" stroke-linecap="butt"/>
<line x1="1989.8" y1="586.6" x2="1989.8" y2="584.1" stroke="#000" stroke-width="1" stroke-linecap="butt"/>
<line x1="2014.6" y1="586.6" x2="2014.6" y2="584.1" stroke="#000" stroke-width="1" stroke-linecap="butt"/>
<line x1="2039.4" y1="586.6" x2="2039.4" y2="584.1" stroke="#000" stroke-width="1" stroke-linecap="butt"/>
<line x1="2064.2" y1="586.6" x2="2064.2" y2="584.1" stroke="#000" stroke-width="1" stroke-linecap="butt"/>
<line x1="2089" y1="586.6" x2="2089" y2="584.1" stroke="#000" stroke-width="1" stroke-linecap="butt"/>
<line x1="2113.8" y1="586.6" x2="2113.8" y2="584.1" stroke="#000" stroke-width="1" stroke-linecap="butt"/>
<line x1="1989.8" y1="537.3" x2="1992.3" y2="537.3" stroke="#000" stroke-width="1" stroke-linecap="butt"/>
<text x="1985.8" y="542.3" font-size="15" text-anchor="end" fill="#000" font-family="Liberation Serif">1</text>
<line x1="1989.8" y1="561.9" x2="1992.3" y2="561.9" stroke="#000" stroke-width="1" stroke-linecap="butt"/>
<text x="1985.8" y="566.9" font-size="15" text-anchor="end" fill="#000" font-family="Liberation Serif">0</text>
<line x1="1989.8" y1="586.5" x2="1992.3" y2="586.5" stroke="#000" stroke-width="1" stroke-linecap="butt"/>
<text x="1985.8" y="591.5" font-size="15" text-anchor="end" fill="#000" font-family="Liberation Serif">−1</text>
<polyline points="1989.8,544.4 1992.9,544.4 1996.0,544.4 1999.1,544.4 2002.2,544.4 2005.3,544.4 2008.4,544.4 2011.5,544.4 2014.6,544.4 2017.7,544.4 2020.8,544.4 2023.9,544.4 2027.0,544.4 2030.1,544.4 2033.2,544.4 2036.3,544.4 2039.4,544.4 2042.5,544.4 2045.6,543.5 2048.7,541.6 2051.8,540.4 2054.9,539.6 2058.0,539.1 2061.1,538.7 2064.2,538.5 2067.3,538.3 2070.4,538.2 2073.5,538.2 2076.6,538.1 2079.7,538.1 2082.8,538.1 2085.9,538.1 2089.0,538.1 2092.1,538.0 2095.2,538.0 2098.3,538.0 2101.4,538.0 2104.5,538.0 2107.6,538.0 2110.7,538.0 2113.8,538.0" fill="none" stroke="#e06a38" stroke-width="3.6" stroke-linecap="butt" stroke-linejoin="round"/>
<polyline points="1989.8,579.4 1992.9,579.4 1996.0,579.4 1999.1,579.4 2002.2,579.4 2005.3,579.4 2008.4,579.4 2011.5,579.4 2014.6,579.4 2017.7,579.4 2020.8,579.4 2023.9,579.4 2027.0,579.4 2030.1,579.4 2033.2,579.4 2036.3,579.4 2039.4,579.4 2042.5,579.4 2045.6,578.8 2048.7,577.4 2051.8,576.2 2054.9,575.1 2058.0,574.1 2061.1,573.3 2064.2,572.5 2067.3,571.8 2070.4,571.2 2073.5,570.6 2076.6,570.2 2079.7,569.7 2082.8,569.3 2085.9,569.0 2089.0,568.7 2092.1,568.4 2095.2,568.1 2098.3,567.9 2101.4,567.7 2104.5,567.5 2107.6,567.4 2110.7,567.2 2113.8,567.1" fill="none" stroke="#2aa0e8" stroke-width="4.2" stroke-linecap="butt" stroke-linejoin="round"/>
<text x="1993.8" y="566" font-size="15" text-anchor="start" fill="#000" font-family="Liberation Serif">(g)</text>
<text x="1989.8" y="602" font-size="15" text-anchor="middle" fill="#000" font-family="Liberation Serif">0</text>
<text x="2014.6" y="602" font-size="15" text-anchor="middle" fill="#000" font-family="Liberation Serif">0.2</text>
<text x="2039.4" y="602" font-size="15" text-anchor="middle" fill="#000" font-family="Liberation Serif">0.4</text>
<text x="2064.2" y="602" font-size="15" text-anchor="middle" fill="#000" font-family="Liberation Serif">0.6</text>
<text x="2089" y="602" font-size="15" text-anchor="middle" fill="#000" font-family="Liberation Serif">0.8</text>
<text x="2113.8" y="602" font-size="15" text-anchor="middle" fill="#000" font-family="Liberation Serif">1.0</text>
<text x="2051.8" y="617.5" font-size="15.5" text-anchor="middle" fill="#1e8a1e" font-family="Liberation Serif"><tspan font-style="italic">J</tspan><tspan dy="3" font-size="10">2</tspan><tspan dy="-3">, tripod/</tspan><tspan fill="#e8202a" font-style="italic">J</tspan><tspan dy="3" font-size="10" fill="#e8202a">1</tspan></text>
<text x="1956.8" y="409" font-size="15.5" text-anchor="middle" fill="#000" font-family="Liberation Serif" transform="rotate(-90 1956.8 409)">Energy/<tspan fill="#e8202a" font-style="italic">J</tspan><tspan dy="3" font-size="10" fill="#e8202a">1</tspan></text>
<text x="1959.8" y="476" font-size="15" text-anchor="middle" fill="#000" font-family="Liberation Serif" transform="rotate(-90 1959.8 476)">⟨<tspan font-weight="bold">S</tspan><tspan dy="3" font-size="9">tot</tspan><tspan dy="-8" font-size="9">2</tspan><tspan dy="5">⟩</tspan></text>
<text x="1958.8" y="561" font-size="15.5" text-anchor="middle" fill="#000" font-family="Liberation Serif" transform="rotate(-90 1958.8 561)">Weights</text>
<text x="2170.2" y="602" font-size="15" text-anchor="middle" fill="#000" font-family="Liberation Serif">0</text>
<text x="2195" y="602" font-size="15" text-anchor="middle" fill="#000" font-family="Liberation Serif">0.2</text>
<text x="2219.8" y="602" font-size="15" text-anchor="middle" fill="#000" font-family="Liberation Serif">0.4</text>
<text x="2244.6" y="602" font-size="15" text-anchor="middle" fill="#000" font-family="Liberation Serif">0.6</text>
<text x="2269.4" y="602" font-size="15" text-anchor="middle" fill="#000" font-family="Liberation Serif">0.8</text>
<text x="2294.2" y="602" font-size="15" text-anchor="middle" fill="#000" font-family="Liberation Serif">1.0</text>
<text x="2232.2" y="617.5" font-size="15.5" text-anchor="middle" fill="#1e8a1e" font-family="Liberation Serif"><tspan font-style="italic">J</tspan><tspan dy="3" font-size="10">2</tspan><tspan dy="-3">, tripod/</tspan><tspan fill="#e8202a" font-style="italic">J</tspan><tspan dy="3" font-size="10" fill="#e8202a">1</tspan></text>
<text x="2137.2" y="409" font-size="15.5" text-anchor="middle" fill="#000" font-family="Liberation Serif" transform="rotate(-90 2137.2 409)">Energy/<tspan fill="#e8202a" font-style="italic">J</tspan><tspan dy="3" font-size="10" fill="#e8202a">1</tspan></text>
<text x="2140.2" y="476" font-size="15" text-anchor="middle" fill="#000" font-family="Liberation Serif" transform="rotate(-90 2140.2 476)">⟨<tspan font-weight="bold">S</tspan><tspan dy="3" font-size="9">tot</tspan><tspan dy="-8" font-size="9">2</tspan><tspan dy="5">⟩</tspan></text>
<text x="2139.2" y="561" font-size="15.5" text-anchor="middle" fill="#000" font-family="Liberation Serif" transform="rotate(-90 2139.2 561)">Weights</text>
<line x1="1998" y1="529" x2="2006" y2="529" stroke="#2aa0e8" stroke-width="1.3" stroke-linecap="butt"/>
<circle cx="2002" cy="529" r="1.3" fill="#2aa0e8" stroke="#2aa0e8" stroke-width="0.5"/>
<text x="2009" y="533" font-size="12.5" text-anchor="start" fill="#555" font-family="Liberation Serif">|<tspan font-size="9" dy="-3">1</tspan><tspan dy="3">⁄</tspan><tspan font-size="9" dy="2">2</tspan><tspan dy="-2">, −</tspan><tspan font-size="9" dy="-3">1</tspan><tspan dy="3">⁄</tspan><tspan font-size="9" dy="2">2</tspan><tspan dy="-2">⟩</tspan></text>
<line x1="2057" y1="529" x2="2065" y2="529" stroke="#e06a38" stroke-width="1.3" stroke-linecap="butt"/>
<circle cx="2061" cy="529" r="1.3" fill="#e06a38" stroke="#e06a38" stroke-width="0.5"/>
<text x="2069" y="533" font-size="12.5" text-anchor="start" fill="#555" font-family="Liberation Serif">|−<tspan font-size="9" dy="-3">1</tspan><tspan dy="3">⁄</tspan><tspan font-size="9" dy="2">2</tspan><tspan dy="-2">, </tspan><tspan font-size="9" dy="-3">1</tspan><tspan dy="3">⁄</tspan><tspan font-size="9" dy="2">2</tspan><tspan dy="-2">⟩</tspan></text>
<line x1="2170.2" y1="383.6" x2="2170.2" y2="435.1" stroke="#000" stroke-width="1.1" stroke-linecap="butt"/>
<line x1="2170.2" y1="435.1" x2="2294.2" y2="435.1" stroke="#000" stroke-width="1.1" stroke-linecap="butt"/>
<line x1="2170.2" y1="435.1" x2="2170.2" y2="432.6" stroke="#000" stroke-width="1" stroke-linecap="butt"/>
<line x1="2195" y1="435.1" x2="2195" y2="432.6" stroke="#000" stroke-width="1" stroke-linecap="butt"/>
<line x1="2219.8" y1="435.1" x2="2219.8" y2="432.6" stroke="#000" stroke-width="1" stroke-linecap="butt"/>
<line x1="2244.6" y1="435.1" x2="2244.6" y2="432.6" stroke="#000" stroke-width="1" stroke-linecap="butt"/>
<line x1="2269.4" y1="435.1" x2="2269.4" y2="432.6" stroke="#000" stroke-width="1" stroke-linecap="butt"/>
<line x1="2294.2" y1="435.1" x2="2294.2" y2="432.6" stroke="#000" stroke-width="1" stroke-linecap="butt"/>
<line x1="2170.2" y1="388.2" x2="2172.7" y2="388.2" stroke="#000" stroke-width="1" stroke-linecap="butt"/>
<text x="2166.2" y="393.2" font-size="15" text-anchor="end" fill="#000" font-family="Liberation Serif">10</text>
<line x1="2170.2" y1="405.7" x2="2172.7" y2="405.7" stroke="#000" stroke-width="1" stroke-linecap="butt"/>
<text x="2166.2" y="410.7" font-size="15" text-anchor="end" fill="#000" font-family="Liberation Serif">0</text>
<line x1="2170.2" y1="423.2" x2="2172.7" y2="423.2" stroke="#000" stroke-width="1" stroke-linecap="butt"/>
<text x="2166.2" y="428.2" font-size="15" text-anchor="end" fill="#000" font-family="Liberation Serif">−10</text>
<polyline points="2170.2,401.3 2173.3,401.3 2176.4,401.3 2179.5,401.3 2182.6,401.3 2185.7,401.3 2188.8,401.3 2191.9,401.0 2195.0,400.7 2198.1,400.4 2201.2,400.0 2204.3,399.6 2207.4,399.2 2210.5,398.9 2213.6,398.5 2216.7,398.1 2219.8,397.7 2222.9,397.3 2226.0,396.9 2229.1,396.5 2232.2,396.0 2235.3,395.6 2238.4,395.2 2241.5,394.8 2244.6,394.4 2247.7,393.9 2250.8,393.5 2253.9,393.1 2257.0,392.7 2260.1,392.2 2263.2,391.8 2266.3,391.3 2269.4,390.9 2272.5,390.5 2275.6,390.0 2278.7,389.6 2281.8,389.1 2284.9,388.7 2288.0,388.2 2291.1,387.8 2294.2,387.3" fill="none" stroke="#6f9a2a" stroke-width="1.4" stroke-linecap="butt" stroke-linejoin="round"/>
<polyline points="2170.2,401.3 2173.3,401.3 2176.4,401.3 2179.5,401.3 2182.6,401.3 2185.7,401.3 2188.8,401.3 2191.9,401.3 2195.0,401.3 2198.1,401.1 2201.2,400.9 2204.3,400.6 2207.4,400.4 2210.5,400.1 2213.6,399.9 2216.7,399.6 2219.8,399.3 2222.9,399.0 2226.0,398.7 2229.1,398.5 2232.2,398.2 2235.3,397.9 2238.4,397.6 2241.5,397.3 2244.6,397.0 2247.7,396.7 2250.8,396.4 2253.9,396.1 2257.0,395.8 2260.1,395.5 2263.2,395.2 2266.3,394.9 2269.4,394.6 2272.5,394.3 2275.6,393.9 2278.7,393.6 2281.8,393.3 2284.9,393.0 2288.0,392.7 2291.1,392.4 2294.2,392.1" fill="none" stroke="#d04aa0" stroke-width="1.4" stroke-linecap="butt" stroke-linejoin="round"/>
<polyline points="2170.2,401.3 2173.3,401.3 2176.4,401.3 2179.5,401.3 2182.6,401.3 2185.7,401.3 2188.8,401.3 2191.9,401.3 2195.0,401.3 2198.1,401.3 2201.2,401.3 2204.3,401.2 2207.4,401.1 2210.5,400.9 2213.6,400.8 2216.7,400.6 2219.8,400.4 2222.9,400.3 2226.0,400.1 2229.1,399.9 2232.2,399.8 2235.3,399.6 2238.4,399.4 2241.5,399.2 2244.6,399.1 2247.7,398.9 2250.8,398.7 2253.9,398.5 2257.0,398.3 2260.1,398.1 2263.2,398.0 2266.3,397.8 2269.4,397.6 2272.5,397.4 2275.6,397.2 2278.7,397.0 2281.8,396.8 2284.9,396.6 2288.0,396.5 2291.1,396.3 2294.2,396.1" fill="none" stroke="#3b7ad8" stroke-width="1.4" stroke-linecap="butt" stroke-linejoin="round"/>
<polyline points="2170.2,407.4 2173.3,407.4 2176.4,407.4 2179.5,407.4 2182.6,407.4 2185.7,407.3 2188.8,407.0 2191.9,406.8 2195.0,406.6 2198.1,406.4 2201.2,406.1 2204.3,405.9 2207.4,405.6 2210.5,405.4 2213.6,405.1 2216.7,404.8 2219.8,404.6 2222.9,404.3 2226.0,404.0 2229.1,403.8 2232.2,403.5 2235.3,403.2 2238.4,403.0 2241.5,402.7 2244.6,402.4 2247.7,402.1 2250.8,401.9 2253.9,401.6 2257.0,401.3 2260.1,401.0 2263.2,400.7 2266.3,400.4 2269.4,400.1 2272.5,399.9 2275.6,399.6 2278.7,399.3 2281.8,399.0 2284.9,398.7 2288.0,398.4 2291.1,398.1 2294.2,397.8" fill="none" stroke="#1aa09a" stroke-width="1.4" stroke-linecap="butt" stroke-linejoin="round"/>
<polyline points="2170.2,401.3 2173.3,401.3 2176.4,401.3 2179.5,401.3 2182.6,401.3 2185.7,401.3 2188.8,401.3 2191.9,401.3 2195.0,401.3 2198.1,401.3 2201.2,401.3 2204.3,401.3 2207.4,401.3 2210.5,401.3 2213.6,401.3 2216.7,401.3 2219.8,401.3 2222.9,401.3 2226.0,401.3 2229.1,401.3 2232.2,401.3 2235.3,401.3 2238.4,401.3 2241.5,401.3 2244.6,401.3 2247.7,401.3 2250.8,401.3 2253.9,401.3 2257.0,401.3 2260.1,401.3 2263.2,401.3 2266.3,401.3 2269.4,401.3 2272.5,401.3 2275.6,401.3 2278.7,401.3 2281.8,401.3 2284.9,401.3 2288.0,401.3 2291.1,401.3 2294.2,401.3" fill="none" stroke="#3a9a3a" stroke-width="1.4" stroke-linecap="butt" stroke-linejoin="round"/>
<polyline points="2170.2,407.4 2173.3,407.3 2176.4,407.1 2179.5,406.9 2182.6,406.8 2185.7,406.6 2188.8,406.4 2191.9,406.2 2195.0,406.1 2198.1,405.9 2201.2,405.7 2204.3,405.7 2207.4,405.7 2210.5,405.7 2213.6,405.7 2216.7,405.7 2219.8,405.7 2222.9,405.7 2226.0,405.7 2229.1,405.7 2232.2,405.7 2235.3,405.7 2238.4,405.7 2241.5,405.7 2244.6,405.7 2247.7,405.7 2250.8,405.7 2253.9,405.7 2257.0,405.7 2260.1,405.7 2263.2,405.7 2266.3,405.7 2269.4,405.7 2272.5,405.7 2275.6,405.7 2278.7,405.7 2281.8,405.7 2284.9,405.7 2288.0,405.7 2291.1,405.7 2294.2,405.7" fill="none" stroke="#d8902a" stroke-width="1.6" stroke-linecap="butt" stroke-linejoin="round"/>
<polyline points="2170.2,407.4 2173.3,407.4 2176.4,407.4 2179.5,407.4 2182.6,407.4 2185.7,407.5 2188.8,407.6 2191.9,407.7 2195.0,407.8 2198.1,407.9 2201.2,408.1 2204.3,408.2 2207.4,408.3 2210.5,408.4 2213.6,408.5 2216.7,408.6 2219.8,408.8 2222.9,408.9 2226.0,409.0 2229.1,409.1 2232.2,409.2 2235.3,409.4 2238.4,409.5 2241.5,409.6 2244.6,409.7 2247.7,409.9 2250.8,410.0 2253.9,410.1 2257.0,410.3 2260.1,410.4 2263.2,410.5 2266.3,410.6 2269.4,410.8 2272.5,410.9 2275.6,411.0 2278.7,411.2 2281.8,411.3 2284.9,411.4 2288.0,411.6 2291.1,411.7 2294.2,411.8" fill="none" stroke="#1aa09a" stroke-width="1.4" stroke-linecap="butt" stroke-linejoin="round"/>
<polyline points="2170.2,410.1 2173.3,410.1 2176.4,410.1 2179.5,410.1 2182.6,410.1 2185.7,410.1 2188.8,410.1 2191.9,410.1 2195.0,410.1 2198.1,410.1 2201.2,410.2 2204.3,410.3 2207.4,410.4 2210.5,410.5 2213.6,410.5 2216.7,410.6 2219.8,410.7 2222.9,410.8 2226.0,410.9 2229.1,411.0 2232.2,411.1 2235.3,411.2 2238.4,411.3 2241.5,411.4 2244.6,411.5 2247.7,411.6 2250.8,411.7 2253.9,411.8 2257.0,411.8 2260.1,411.9 2263.2,412.0 2266.3,412.1 2269.4,412.2 2272.5,412.3 2275.6,412.4 2278.7,412.5 2281.8,412.6 2284.9,412.7 2288.0,412.8 2291.1,412.9 2294.2,413.1" fill="none" stroke="#b86fd6" stroke-width="1.4" stroke-linecap="butt" stroke-linejoin="round"/>
<polyline points="2170.2,410.1 2173.3,410.1 2176.4,410.1 2179.5,410.1 2182.6,410.1 2185.7,410.3 2188.8,410.5 2191.9,410.8 2195.0,411.1 2198.1,411.4 2201.2,411.7 2204.3,412.0 2207.4,412.2 2210.5,412.6 2213.6,412.9 2216.7,413.2 2219.8,413.5 2222.9,413.8 2226.0,414.1 2229.1,414.4 2232.2,414.7 2235.3,415.1 2238.4,415.4 2241.5,415.7 2244.6,416.0 2247.7,416.4 2250.8,416.7 2253.9,417.0 2257.0,417.4 2260.1,417.7 2263.2,418.0 2266.3,418.4 2269.4,418.7 2272.5,419.0 2275.6,419.4 2278.7,419.7 2281.8,420.1 2284.9,420.4 2288.0,420.8 2291.1,421.1 2294.2,421.4" fill="none" stroke="#3a9a3a" stroke-width="1.4" stroke-linecap="butt" stroke-linejoin="round"/>
<polyline points="2170.2,411.8 2173.3,411.8 2176.4,411.8 2179.5,411.8 2182.6,412.2 2185.7,412.7 2188.8,413.2 2191.9,413.7 2195.0,414.2 2198.1,414.7 2201.2,415.2 2204.3,415.8 2207.4,416.3 2210.5,416.8 2213.6,417.4 2216.7,417.9 2219.8,418.5 2222.9,419.0 2226.0,419.6 2229.1,420.1 2232.2,420.7 2235.3,421.2 2238.4,421.8 2241.5,422.3 2244.6,422.9 2247.7,423.4 2250.8,424.0 2253.9,424.6 2257.0,425.1 2260.1,425.7 2263.2,426.3 2266.3,426.8 2269.4,427.4 2272.5,428.0 2275.6,428.5 2278.7,429.1 2281.8,429.7 2284.9,430.2 2288.0,430.8 2291.1,431.4 2294.2,431.9" fill="none" stroke="#2aa0e8" stroke-width="1.5" stroke-linecap="butt" stroke-linejoin="round"/>
<text x="2174.2" y="396.6" font-size="15" text-anchor="start" fill="#000" font-family="Liberation Serif">(d)</text>
<line x1="2170.2" y1="450.4" x2="2170.2" y2="501.9" stroke="#000" stroke-width="1.1" stroke-linecap="butt"/>
<line x1="2170.2" y1="501.9" x2="2294.2" y2="501.9" stroke="#000" stroke-width="1.1" stroke-linecap="butt"/>
<line x1="2170.2" y1="501.9" x2="2170.2" y2="499.4" stroke="#000" stroke-width="1" stroke-linecap="butt"/>
<line x1="2195" y1="501.9" x2="2195" y2="499.4" stroke="#000" stroke-width="1" stroke-linecap="butt"/>
<line x1="2219.8" y1="501.9" x2="2219.8" y2="499.4" stroke="#000" stroke-width="1" stroke-linecap="butt"/>
<line x1="2244.6" y1="501.9" x2="2244.6" y2="499.4" stroke="#000" stroke-width="1" stroke-linecap="butt"/>
<line x1="2269.4" y1="501.9" x2="2269.4" y2="499.4" stroke="#000" stroke-width="1" stroke-linecap="butt"/>
<line x1="2294.2" y1="501.9" x2="2294.2" y2="499.4" stroke="#000" stroke-width="1" stroke-linecap="butt"/>
<line x1="2170.2" y1="460.7" x2="2172.7" y2="460.7" stroke="#000" stroke-width="1" stroke-linecap="butt"/>
<text x="2166.2" y="465.7" font-size="15" text-anchor="end" fill="#000" font-family="Liberation Serif">10</text>
<line x1="2170.2" y1="481.3" x2="2172.7" y2="481.3" stroke="#000" stroke-width="1" stroke-linecap="butt"/>
<text x="2166.2" y="486.3" font-size="15" text-anchor="end" fill="#000" font-family="Liberation Serif">5</text>
<line x1="2170.2" y1="501.9" x2="2172.7" y2="501.9" stroke="#000" stroke-width="1" stroke-linecap="butt"/>
<text x="2166.2" y="506.9" font-size="15" text-anchor="end" fill="#000" font-family="Liberation Serif">0</text>
<polyline points="2170.2,452.5 2252.0,452.5 2252.0,473.1 2253.3,472.2 2294.2,471.0" fill="none" stroke="#2aa0e8" stroke-width="1.5" stroke-linecap="butt" stroke-linejoin="round"/>
<polyline points="2252.0,452.5 2294.2,452.5" fill="none" stroke="#a8c820" stroke-width="1.5" stroke-linecap="butt" stroke-linejoin="round"/>
<polyline points="2170.2,452.5 2173.3,452.5 2176.4,452.5 2179.5,452.5 2182.6,452.5 2185.7,452.5 2188.8,452.5 2191.9,452.5 2195.0,452.5 2198.1,452.5 2201.2,452.5 2204.3,452.5 2207.4,452.5 2210.5,453.0 2213.6,453.5 2216.7,453.8 2219.8,454.2 2222.9,454.5 2226.0,454.9 2229.1,455.2 2232.2,455.5 2235.3,455.8 2238.4,456.1 2241.5,456.4 2244.6,456.6 2247.7,456.9 2250.8,457.2 2253.9,457.5 2257.0,457.7 2260.1,458.0 2263.2,458.2 2266.3,458.5 2269.4,458.8 2272.5,459.0 2275.6,459.3 2278.7,459.5 2281.8,459.7 2284.9,460.0 2288.0,460.2 2291.1,460.5 2294.2,460.7" fill="none" stroke="#3b7ad8" stroke-width="1.4" stroke-linecap="butt" stroke-linejoin="round"/>
<polyline points="2170.2,452.5 2173.3,452.5 2176.4,452.5 2179.5,452.5 2182.6,452.5 2185.7,452.5 2188.8,452.5 2191.9,452.5 2195.0,452.5 2198.1,452.5 2201.2,452.5 2204.3,452.5 2207.4,452.5 2210.5,454.8 2213.6,456.0 2216.7,457.0 2219.8,457.8 2222.9,458.6 2226.0,459.3 2229.1,460.0 2232.2,460.6 2235.3,461.2 2238.4,461.8 2241.5,462.3 2244.6,462.9 2247.7,463.4 2250.8,463.9 2253.9,464.4 2257.0,464.8 2260.1,465.3 2263.2,465.7 2266.3,466.2 2269.4,466.6 2272.5,467.0 2275.6,467.4 2278.7,467.8 2281.8,468.2 2284.9,468.6 2288.0,469.0 2291.1,469.4 2294.2,469.8" fill="none" stroke="#d04aa0" stroke-width="1.4" stroke-linecap="butt" stroke-linejoin="round"/>
<polyline points="2170.2,452.7 2173.3,452.8 2176.4,452.9 2179.5,453.0 2182.6,453.1 2185.7,453.3 2188.8,453.5 2191.9,453.8 2195.0,454.2 2198.1,454.7 2201.2,455.2 2204.3,455.9 2207.4,456.8 2210.5,457.8 2213.6,459.0 2216.7,460.4 2219.8,461.9 2222.9,463.6 2226.0,465.4 2229.1,467.3 2232.2,469.2 2235.3,471.1 2238.4,472.8 2241.5,474.4 2244.6,475.9 2247.7,477.2 2250.8,478.2 2253.9,479.2 2257.0,479.9 2260.1,480.5 2263.2,481.0 2266.3,481.4 2269.4,481.8 2272.5,482.0 2275.6,482.2 2278.7,482.4 2281.8,482.5 2284.9,482.6 2288.0,482.7 2291.1,482.7 2294.2,482.8" fill="none" stroke="#6f9a2a" stroke-width="1.4" stroke-linecap="butt" stroke-linejoin="round"/>
<polyline points="2170.2,477.2 2173.3,477.2 2176.4,477.3 2179.5,477.4 2182.6,477.5 2185.7,477.7 2188.8,478.1 2191.9,478.6 2195.0,479.2 2198.1,479.9 2201.2,480.6 2204.3,481.4 2207.4,482.0 2210.5,482.3 2213.6,482.3 2216.7,482.0 2219.8,481.4 2222.9,480.7 2226.0,479.8 2229.1,478.9 2232.2,478.1 2235.3,477.3 2238.4,476.7 2241.5,476.3 2244.6,475.9 2247.7,475.6 2250.8,475.4 2253.9,475.2 2257.0,475.1 2260.1,474.9 2263.2,474.8 2266.3,474.6 2269.4,474.5 2272.5,474.4 2275.6,474.2 2278.7,474.1 2281.8,474.0 2284.9,473.8 2288.0,473.7 2291.1,473.6 2294.2,473.4" fill="none" stroke="#1aa09a" stroke-width="1.4" stroke-linecap="butt" stroke-linejoin="round"/>
<polyline points="2170.2,477.2 2173.3,477.2 2176.4,477.2 2179.5,477.2 2182.6,477.2 2185.7,477.3 2188.8,477.3 2191.9,477.4 2195.0,477.5 2198.1,477.7 2201.2,477.9 2204.3,478.2 2207.4,478.5 2210.5,478.8 2213.6,479.0 2216.7,479.0 2219.8,478.9 2222.9,478.7 2226.0,478.4 2229.1,478.0 2232.2,477.6 2235.3,477.1 2238.4,476.7 2241.5,476.3 2244.6,476.0 2247.7,475.7 2250.8,475.5 2253.9,475.2 2257.0,475.1 2260.1,474.9 2263.2,474.7 2266.3,474.6 2269.4,474.4 2272.5,474.2 2275.6,474.1 2278.7,473.9 2281.8,473.8 2284.9,473.6 2288.0,473.5 2291.1,473.3 2294.2,473.2" fill="none" stroke="#d8902a" stroke-width="1.4" stroke-linecap="butt" stroke-linejoin="round"/>
<polyline points="2170.2,477.2 2173.3,477.0 2176.4,476.9 2179.5,476.7 2182.6,476.6 2185.7,476.4 2188.8,476.3 2191.9,476.1 2195.0,475.9 2198.1,475.8 2201.2,475.6 2204.3,475.5 2207.4,475.3 2210.5,475.2 2213.6,475.0 2216.7,474.9 2219.8,474.7 2222.9,474.6 2226.0,474.4 2229.1,474.2 2232.2,474.1 2235.3,473.9 2238.4,473.8 2241.5,473.6 2244.6,473.5 2247.7,473.3 2250.8,473.2 2253.9,473.0 2257.0,472.9 2260.1,472.7 2263.2,472.5 2266.3,472.4 2269.4,472.2 2272.5,472.1 2275.6,471.9 2278.7,471.8 2281.8,471.6 2284.9,471.5 2288.0,471.3 2291.1,471.2 2294.2,471.0" fill="none" stroke="#3a9a3a" stroke-width="1.4" stroke-linecap="butt" stroke-linejoin="round"/>
<polyline points="2170.2,493.7 2173.3,493.7 2176.4,493.7 2179.5,493.7 2182.6,493.7 2185.7,492.6 2188.8,491.6 2191.9,490.6 2195.0,489.8 2198.1,489.0 2201.2,488.2 2204.3,487.5 2207.4,486.8 2210.5,486.2 2213.6,485.7 2216.7,485.1 2219.8,484.6 2222.9,484.2 2226.0,483.8 2229.1,483.4 2232.2,483.0 2235.3,482.7 2238.4,482.3 2241.5,482.0 2244.6,481.8 2247.7,481.5 2250.8,481.3 2253.9,481.0 2257.0,480.8 2260.1,480.6 2263.2,480.4 2266.3,480.3 2269.4,480.1 2272.5,480.0 2275.6,479.8 2278.7,479.7 2281.8,479.6 2284.9,479.5 2288.0,479.4 2291.1,479.3 2294.2,479.2" fill="none" stroke="#b86fd6" stroke-width="1.4" stroke-linecap="butt" stroke-linejoin="round"/>
<polyline points="2170.2,493.7 2173.3,493.7 2176.4,493.7 2179.5,493.7 2182.6,493.7 2185.7,493.7 2188.8,493.7 2191.9,492.9 2195.0,492.2 2198.1,491.6 2201.2,491.0 2204.3,490.4 2207.4,489.9 2210.5,489.4 2213.6,489.0 2216.7,488.6 2219.8,488.2 2222.9,487.8 2226.0,487.5 2229.1,487.2 2232.2,486.9 2235.3,486.6 2238.4,486.4 2241.5,486.1 2244.6,485.9 2247.7,485.7 2250.8,485.5 2253.9,485.3 2257.0,485.2 2260.1,485.0 2263.2,484.9 2266.3,484.7 2269.4,484.6 2272.5,484.5 2275.6,484.4 2278.7,484.3 2281.8,484.2 2284.9,484.1 2288.0,484.0 2291.1,484.0 2294.2,483.9" fill="none" stroke="#3a9a3a" stroke-width="1.4" stroke-linecap="butt" stroke-linejoin="round"/>
<polyline points="2170.2,501.9 2173.3,501.9 2176.4,501.9 2179.5,501.1 2182.6,500.4 2185.7,499.8 2188.8,499.2 2191.9,498.7 2195.0,498.2 2198.1,497.7 2201.2,497.3 2204.3,496.9 2207.4,496.5 2210.5,496.2 2213.6,495.9 2216.7,495.6 2219.8,495.4 2222.9,495.1 2226.0,494.9 2229.1,494.7 2232.2,494.5 2235.3,494.4 2238.4,494.2 2241.5,494.1 2244.6,493.9 2247.7,493.8 2250.8,493.7 2253.9,493.6 2257.0,493.5 2260.1,493.4 2263.2,493.3 2266.3,493.3 2269.4,493.2 2272.5,493.1 2275.6,493.1 2278.7,493.0 2281.8,493.0 2284.9,492.9 2288.0,492.9 2291.1,492.9 2294.2,492.8" fill="none" stroke="#2aa0e8" stroke-width="1.4" stroke-linecap="butt" stroke-linejoin="round"/>
<text x="2174.2" y="463.4" font-size="15" text-anchor="start" fill="#000" font-family="Liberation Serif">(f)</text>
<line x1="2170.2" y1="535.6" x2="2170.2" y2="586.6" stroke="#000" stroke-width="1.1" stroke-linecap="butt"/>
<line x1="2170.2" y1="586.6" x2="2294.2" y2="586.6" stroke="#000" stroke-width="1.1" stroke-linecap="butt"/>
<line x1="2170.2" y1="586.6" x2="2170.2" y2="584.1" stroke="#000" stroke-width="1" stroke-linecap="butt"/>
<line x1="2195" y1="586.6" x2="2195" y2="584.1" stroke="#000" stroke-width="1" stroke-linecap="butt"/>
<line x1="2219.8" y1="586.6" x2="2219.8" y2="584.1" stroke="#000" stroke-width="1" stroke-linecap="butt"/>
<line x1="2244.6" y1="586.6" x2="2244.6" y2="584.1" stroke="#000" stroke-width="1" stroke-linecap="butt"/>
<line x1="2269.4" y1="586.6" x2="2269.4" y2="584.1" stroke="#000" stroke-width="1" stroke-linecap="butt"/>
<line x1="2294.2" y1="586.6" x2="2294.2" y2="584.1" stroke="#000" stroke-width="1" stroke-linecap="butt"/>
<line x1="2170.2" y1="537.3" x2="2172.7" y2="537.3" stroke="#000" stroke-width="1" stroke-linecap="butt"/>
<text x="2166.2" y="542.3" font-size="15" text-anchor="end" fill="#000" font-family="Liberation Serif">1</text>
<line x1="2170.2" y1="561.9" x2="2172.7" y2="561.9" stroke="#000" stroke-width="1" stroke-linecap="butt"/>
<text x="2166.2" y="566.9" font-size="15" text-anchor="end" fill="#000" font-family="Liberation Serif">0</text>
<line x1="2170.2" y1="586.5" x2="2172.7" y2="586.5" stroke="#000" stroke-width="1" stroke-linecap="butt"/>
<text x="2166.2" y="591.5" font-size="15" text-anchor="end" fill="#000" font-family="Liberation Serif">−1</text>
<polyline points="2170.2,549.6 2173.3,549.6 2176.4,549.6 2179.5,549.6 2182.6,549.6 2185.7,551.1 2188.8,552.5 2191.9,553.6 2195.0,554.6 2198.1,555.5 2201.2,556.3 2204.3,556.9 2207.4,557.5 2210.5,558.0 2213.6,558.5 2216.7,558.8 2219.8,559.2 2222.9,559.5 2226.0,559.7 2229.1,559.9 2232.2,560.1 2235.3,560.3 2238.4,560.4 2241.5,560.6 2244.6,560.7 2247.7,560.8 2250.8,560.9 2253.9,560.9 2257.0,561.0 2260.1,561.0 2263.2,561.1 2266.3,561.1 2269.4,561.2 2272.5,561.2 2275.6,561.2 2278.7,561.2 2281.8,561.3 2284.9,561.3 2288.0,561.3 2291.1,561.3 2294.2,561.3" fill="none" stroke="#e06a38" stroke-width="3.8" stroke-linecap="butt" stroke-linejoin="round"/>
<polyline points="2170.2,574.2 2173.3,574.2 2176.4,574.2 2179.5,574.2 2182.6,574.2 2185.7,574.2 2188.8,574.2 2191.9,573.5 2195.0,572.9 2198.1,572.3 2201.2,571.8 2204.3,571.3 2207.4,570.8 2210.5,570.4 2213.6,570.0 2216.7,569.7 2219.8,569.3 2222.9,569.0 2226.0,568.8 2229.1,568.5 2232.2,568.3 2235.3,568.1 2238.4,567.9 2241.5,567.7 2244.6,567.5 2247.7,567.4 2250.8,567.2 2253.9,567.1 2257.0,567.0 2260.1,566.9 2263.2,566.8 2266.3,566.7 2269.4,566.6 2272.5,566.5 2275.6,566.4 2278.7,566.4 2281.8,566.3 2284.9,566.2 2288.0,566.2 2291.1,566.1 2294.2,566.1" fill="none" stroke="#3a9a3a" stroke-width="3.8" stroke-linecap="butt" stroke-linejoin="round"/>
<polyline points="2170.2,574.2 2173.3,574.2 2176.4,574.2 2179.5,574.2 2182.6,574.2 2185.7,570.0 2188.8,567.2 2191.9,565.4 2195.0,564.2 2198.1,563.4 2201.2,562.9 2204.3,562.6 2207.4,562.3 2210.5,562.2 2213.6,562.1 2216.7,562.0 2219.8,562.0 2222.9,562.0 2226.0,561.9 2229.1,561.9 2232.2,561.9 2235.3,561.9 2238.4,561.9 2241.5,561.9 2244.6,561.9 2247.7,561.9 2250.8,561.9 2253.9,561.9 2257.0,561.9 2260.1,561.9 2263.2,561.9 2266.3,561.9 2269.4,561.9 2272.5,561.9 2275.6,561.9 2278.7,561.9 2281.8,561.9 2284.9,561.9 2288.0,561.9 2291.1,561.9 2294.2,561.9" fill="none" stroke="#2aa0e8" stroke-width="3.8" stroke-linecap="butt" stroke-linejoin="round"/>
<polyline points="2170.2,549.6 2173.3,549.6 2176.4,549.6 2179.5,549.6 2182.6,549.6 2185.7,545.9 2188.8,543.3 2191.9,541.5 2195.0,540.2 2198.1,539.4 2201.2,538.7 2204.3,538.3 2207.4,538.0 2210.5,537.8 2213.6,537.6 2216.7,537.5 2219.8,537.5 2222.9,537.4 2226.0,537.4 2229.1,537.4 2232.2,537.3 2235.3,537.3 2238.4,537.3 2241.5,537.3 2244.6,537.3 2247.7,537.3 2250.8,537.3 2253.9,537.3 2257.0,537.3 2260.1,537.3 2263.2,537.3 2266.3,537.3 2269.4,537.3 2272.5,537.3 2275.6,537.3 2278.7,537.3 2281.8,537.3 2284.9,537.3 2288.0,537.3 2291.1,537.3 2294.2,537.3" fill="none" stroke="#b86fd6" stroke-width="3.8" stroke-linecap="butt" stroke-linejoin="round"/>
<text x="2271.2" y="583" font-size="15" text-anchor="start" fill="#000" font-family="Liberation Serif">(h)</text>
<line x1="2174" y1="513" x2="2182" y2="513" stroke="#2aa0e8" stroke-width="1.3" stroke-linecap="butt"/>
<circle cx="2178" cy="513" r="1.3" fill="#2aa0e8" stroke="#2aa0e8" stroke-width="0.5"/>
<text x="2185" y="517" font-size="12.5" text-anchor="start" fill="#555" font-family="Liberation Serif">|<tspan font-size="9" dy="-3">3</tspan><tspan dy="3">⁄</tspan><tspan font-size="9" dy="2">2</tspan><tspan dy="-2">, −</tspan><tspan font-size="9" dy="-3">3</tspan><tspan dy="3">⁄</tspan><tspan font-size="9" dy="2">2</tspan><tspan dy="-2">⟩</tspan></text>
<line x1="2237" y1="513" x2="2245" y2="513" stroke="#e06a38" stroke-width="1.3" stroke-linecap="butt"/>
<circle cx="2241" cy="513" r="1.3" fill="#e06a38" stroke="#e06a38" stroke-width="0.5"/>
<text x="2248" y="517" font-size="12.5" text-anchor="start" fill="#555" font-family="Liberation Serif">|<tspan font-size="9" dy="-3">1</tspan><tspan dy="3">⁄</tspan><tspan font-size="9" dy="2">2</tspan><tspan dy="-2">, −</tspan><tspan font-size="9" dy="-3">1</tspan><tspan dy="3">⁄</tspan><tspan font-size="9" dy="2">2</tspan><tspan dy="-2">⟩</tspan></text>
<line x1="2174" y1="529" x2="2182" y2="529" stroke="#3a9a3a" stroke-width="1.3" stroke-linecap="butt"/>
<circle cx="2178" cy="529" r="1.3" fill="#3a9a3a" stroke="#3a9a3a" stroke-width="0.5"/>
<text x="2185" y="533" font-size="12.5" text-anchor="start" fill="#555" font-family="Liberation Serif">|−<tspan font-size="9" dy="-3">1</tspan><tspan dy="3">⁄</tspan><tspan font-size="9" dy="2">2</tspan><tspan dy="-2">, </tspan><tspan font-size="9" dy="-3">1</tspan><tspan dy="3">⁄</tspan><tspan font-size="9" dy="2">2</tspan><tspan dy="-2">⟩</tspan></text>
<line x1="2237" y1="529" x2="2245" y2="529" stroke="#b86fd6" stroke-width="1.3" stroke-linecap="butt"/>
<circle cx="2241" cy="529" r="1.3" fill="#b86fd6" stroke="#b86fd6" stroke-width="0.5"/>
<text x="2248" y="533" font-size="12.5" text-anchor="start" fill="#555" font-family="Liberation Serif">|−<tspan font-size="9" dy="-3">3</tspan><tspan dy="3">⁄</tspan><tspan font-size="9" dy="2">2</tspan><tspan dy="-2">, </tspan><tspan font-size="9" dy="-3">3</tspan><tspan dy="3">⁄</tspan><tspan font-size="9" dy="2">2</tspan><tspan dy="-2">⟩</tspan></text><rect x="2382" y="698" width="129.3" height="128.1" fill="none" stroke="#000" stroke-width="1"/>
<line x1="2382" y1="826.1" x2="2384.5" y2="826.1" stroke="#000" stroke-width="1" stroke-linecap="butt"/>
<text x="2377" y="831.1" font-size="15" text-anchor="end" fill="#000" font-family="Liberation Serif">0</text>
<line x1="2382" y1="826.1" x2="2382" y2="823.6" stroke="#000" stroke-width="1" stroke-linecap="butt"/>
<text x="2382" y="840.5" font-size="15" text-anchor="middle" fill="#000" font-family="Liberation Serif">0</text>
<line x1="2382" y1="800.5" x2="2384.5" y2="800.5" stroke="#000" stroke-width="1" stroke-linecap="butt"/>
<text x="2377" y="805.5" font-size="15" text-anchor="end" fill="#000" font-family="Liberation Serif">0.2</text>
<line x1="2407.9" y1="826.1" x2="2407.9" y2="823.6" stroke="#000" stroke-width="1" stroke-linecap="butt"/>
<text x="2407.9" y="840.5" font-size="15" text-anchor="middle" fill="#000" font-family="Liberation Serif">0.2</text>
<line x1="2382" y1="774.9" x2="2384.5" y2="774.9" stroke="#000" stroke-width="1" stroke-linecap="butt"/>
<text x="2377" y="779.9" font-size="15" text-anchor="end" fill="#000" font-family="Liberation Serif">0.4</text>
<line x1="2433.7" y1="826.1" x2="2433.7" y2="823.6" stroke="#000" stroke-width="1" stroke-linecap="butt"/>
<text x="2433.7" y="840.5" font-size="15" text-anchor="middle" fill="#000" font-family="Liberation Serif">0.4</text>
<line x1="2382" y1="749.2" x2="2384.5" y2="749.2" stroke="#000" stroke-width="1" stroke-linecap="butt"/>
<text x="2377" y="754.2" font-size="15" text-anchor="end" fill="#000" font-family="Liberation Serif">0.6</text>
<line x1="2459.6" y1="826.1" x2="2459.6" y2="823.6" stroke="#000" stroke-width="1" stroke-linecap="butt"/>
<text x="2459.6" y="840.5" font-size="15" text-anchor="middle" fill="#000" font-family="Liberation Serif">0.6</text>
<line x1="2382" y1="723.6" x2="2384.5" y2="723.6" stroke="#000" stroke-width="1" stroke-linecap="butt"/>
<text x="2377" y="728.6" font-size="15" text-anchor="end" fill="#000" font-family="Liberation Serif">0.8</text>
<line x1="2485.4" y1="826.1" x2="2485.4" y2="823.6" stroke="#000" stroke-width="1" stroke-linecap="butt"/>
<text x="2485.4" y="840.5" font-size="15" text-anchor="middle" fill="#000" font-family="Liberation Serif">0.8</text>
<line x1="2382" y1="698" x2="2384.5" y2="698" stroke="#000" stroke-width="1" stroke-linecap="butt"/>
<text x="2377" y="703" font-size="15" text-anchor="end" fill="#000" font-family="Liberation Serif">1.0</text>
<line x1="2511.3" y1="826.1" x2="2511.3" y2="823.6" stroke="#000" stroke-width="1" stroke-linecap="butt"/>
<text x="2511.3" y="840.5" font-size="15" text-anchor="middle" fill="#000" font-family="Liberation Serif">1.0</text>
<text x="2386" y="716" font-size="15" text-anchor="start" fill="#000" font-family="Liberation Serif">(a)</text>
<text x="2447" y="860" font-size="15.5" text-anchor="middle" fill="#1e8a1e" font-family="Liberation Serif"><tspan font-style="italic">J</tspan><tspan dy="3" font-size="10">2</tspan><tspan dy="-3">, tripod </tspan><tspan fill="#000">(meV)</tspan></text>
<text x="2350" y="762" font-size="15.5" text-anchor="middle" fill="#1b2be0" font-family="Liberation Serif" transform="rotate(-90 2350 762)"><tspan font-style="italic">J</tspan><tspan dy="3" font-size="10">3</tspan><tspan dy="-3">, triangle </tspan><tspan fill="#000">(meV)</tspan></text>
<rect x="2372" y="671.7" width="138.5" height="6.8" fill="none" stroke="#000" stroke-width="0.8"/>
<text x="2372" y="662" font-size="15" text-anchor="middle" fill="#000" font-family="Liberation Serif">0</text>
<text x="2399.7" y="662" font-size="15" text-anchor="middle" fill="#000" font-family="Liberation Serif">10</text>
<text x="2427.4" y="662" font-size="15" text-anchor="middle" fill="#000" font-family="Liberation Serif">20</text>
<text x="2455.1" y="662" font-size="15" text-anchor="middle" fill="#000" font-family="Liberation Serif">30</text>
<text x="2482.8" y="662" font-size="15" text-anchor="middle" fill="#000" font-family="Liberation Serif">40</text>
<text x="2510.5" y="662" font-size="15" text-anchor="middle" fill="#000" font-family="Liberation Serif">50</text>
<line x1="2372" y1="671.7" x2="2372" y2="669.2" stroke="#000" stroke-width="0.8" stroke-linecap="butt"/>
<line x1="2385.8" y1="671.7" x2="2385.8" y2="669.2" stroke="#000" stroke-width="0.8" stroke-linecap="butt"/>
<line x1="2399.7" y1="671.7" x2="2399.7" y2="669.2" stroke="#000" stroke-width="0.8" stroke-linecap="butt"/>
<line x1="2413.6" y1="671.7" x2="2413.6" y2="669.2" stroke="#000" stroke-width="0.8" stroke-linecap="butt"/>
<line x1="2427.4" y1="671.7" x2="2427.4" y2="669.2" stroke="#000" stroke-width="0.8" stroke-linecap="butt"/>
<line x1="2441.2" y1="671.7" x2="2441.2" y2="669.2" stroke="#000" stroke-width="0.8" stroke-linecap="butt"/>
<line x1="2455.1" y1="671.7" x2="2455.1" y2="669.2" stroke="#000" stroke-width="0.8" stroke-linecap="butt"/>
<line x1="2468.9" y1="671.7" x2="2468.9" y2="669.2" stroke="#000" stroke-width="0.8" stroke-linecap="butt"/>
<line x1="2482.8" y1="671.7" x2="2482.8" y2="669.2" stroke="#000" stroke-width="0.8" stroke-linecap="butt"/>
<line x1="2496.7" y1="671.7" x2="2496.7" y2="669.2" stroke="#000" stroke-width="0.8" stroke-linecap="butt"/>
<line x1="2510.5" y1="671.7" x2="2510.5" y2="669.2" stroke="#000" stroke-width="0.8" stroke-linecap="butt"/>
<text x="2443" y="642.5" font-size="15.5" text-anchor="middle" fill="#000" font-family="Liberation Serif"><tspan font-style="italic">T</tspan><tspan dy="3" font-size="10">N</tspan><tspan dy="-3"> (K)</tspan></text>
<line x1="2590.1" y1="714.1" x2="2590.1" y2="824.5" stroke="#e4e4e4" stroke-width="0.8" stroke-linecap="butt"/>
<line x1="2616.1" y1="714.1" x2="2616.1" y2="824.5" stroke="#e4e4e4" stroke-width="0.8" stroke-linecap="butt"/>
<line x1="2642.1" y1="714.1" x2="2642.1" y2="824.5" stroke="#e4e4e4" stroke-width="0.8" stroke-linecap="butt"/>
<line x1="2668.1" y1="714.1" x2="2668.1" y2="824.5" stroke="#e4e4e4" stroke-width="0.8" stroke-linecap="butt"/>
<line x1="2694.1" y1="714.1" x2="2694.1" y2="824.5" stroke="#e4e4e4" stroke-width="0.8" stroke-linecap="butt"/>
<line x1="2562" y1="798.5" x2="2695.9" y2="798.5" stroke="#e4e4e4" stroke-width="0.8" stroke-linecap="butt"/>
<line x1="2562" y1="773.6" x2="2695.9" y2="773.6" stroke="#e4e4e4" stroke-width="0.8" stroke-linecap="butt"/>
<line x1="2562" y1="748.7" x2="2695.9" y2="748.7" stroke="#e4e4e4" stroke-width="0.8" stroke-linecap="butt"/>
<line x1="2562" y1="723.8" x2="2695.9" y2="723.8" stroke="#e4e4e4" stroke-width="0.8" stroke-linecap="butt"/>
<line x1="2562" y1="714.1" x2="2562" y2="824.5" stroke="#000" stroke-width="1.1" stroke-linecap="butt"/>
<line x1="2562" y1="824.5" x2="2695.9" y2="824.5" stroke="#000" stroke-width="1.1" stroke-linecap="butt"/>
<line x1="2562" y1="823.4" x2="2564.5" y2="823.4" stroke="#000" stroke-width="1" stroke-linecap="butt"/>
<text x="2557" y="828.4" font-size="15" text-anchor="end" fill="#000" font-family="Liberation Serif">0</text>
<line x1="2562" y1="798.5" x2="2564.5" y2="798.5" stroke="#000" stroke-width="1" stroke-linecap="butt"/>
<text x="2557" y="803.5" font-size="15" text-anchor="end" fill="#000" font-family="Liberation Serif">0.2</text>
<line x1="2562" y1="773.6" x2="2564.5" y2="773.6" stroke="#000" stroke-width="1" stroke-linecap="butt"/>
<text x="2557" y="778.6" font-size="15" text-anchor="end" fill="#000" font-family="Liberation Serif">0.4</text>
<line x1="2562" y1="748.7" x2="2564.5" y2="748.7" stroke="#000" stroke-width="1" stroke-linecap="butt"/>
<text x="2557" y="753.7" font-size="15" text-anchor="end" fill="#000" font-family="Liberation Serif">0.6</text>
<line x1="2562" y1="723.8" x2="2564.5" y2="723.8" stroke="#000" stroke-width="1" stroke-linecap="butt"/>
<text x="2557" y="728.8" font-size="15" text-anchor="end" fill="#000" font-family="Liberation Serif">0.8</text>
<line x1="2564.1" y1="824.5" x2="2564.1" y2="822" stroke="#000" stroke-width="1" stroke-linecap="butt"/>
<text x="2564.1" y="843.4" font-size="15" text-anchor="middle" fill="#000" font-family="Liberation Serif">0</text>
<line x1="2590.1" y1="824.5" x2="2590.1" y2="822" stroke="#000" stroke-width="1" stroke-linecap="butt"/>
<text x="2590.1" y="843.4" font-size="15" text-anchor="middle" fill="#000" font-family="Liberation Serif">10</text>
<line x1="2616.1" y1="824.5" x2="2616.1" y2="822" stroke="#000" stroke-width="1" stroke-linecap="butt"/>
<text x="2616.1" y="843.4" font-size="15" text-anchor="middle" fill="#000" font-family="Liberation Serif">20</text>
<line x1="2642.1" y1="824.5" x2="2642.1" y2="822" stroke="#000" stroke-width="1" stroke-linecap="butt"/>
<text x="2642.1" y="843.4" font-size="15" text-anchor="middle" fill="#000" font-family="Liberation Serif">30</text>
<line x1="2668.1" y1="824.5" x2="2668.1" y2="822" stroke="#000" stroke-width="1" stroke-linecap="butt"/>
<text x="2668.1" y="843.4" font-size="15" text-anchor="middle" fill="#000" font-family="Liberation Serif">40</text>
<line x1="2694.1" y1="824.5" x2="2694.1" y2="822" stroke="#000" stroke-width="1" stroke-linecap="butt"/>
<text x="2694.1" y="843.4" font-size="15" text-anchor="middle" fill="#000" font-family="Liberation Serif">50</text>
<text x="2629.5" y="857.5" font-size="15.5" text-anchor="middle" fill="#000" font-family="Liberation Serif"><tspan font-style="italic">T</tspan> (K)</text>
<text x="2532" y="770" font-size="15.5" text-anchor="middle" fill="#000" font-family="Liberation Serif" transform="rotate(-90 2532 770)">⟨<tspan font-style="italic">S</tspan><tspan dy="3" font-size="10" font-style="italic">z</tspan><tspan dy="-3">⟩</tspan></text>
<text x="2680" y="741" font-size="15" text-anchor="middle" fill="#000" font-family="Liberation Serif">(b)</text>
<line x1="2564.9" y1="822.4" x2="2694.1" y2="822.4" stroke="#000" stroke-width="3.2" stroke-linecap="butt"/>
<polyline points="2564.9,746.2 2565.3,746.2 2565.6,746.2 2566.0,746.2 2566.4,746.3 2566.8,746.3 2567.1,746.4 2567.5,746.4 2567.9,746.5 2568.2,746.6 2568.6,746.7 2569.0,746.8 2569.4,747.0 2569.7,747.2 2570.1,747.4 2570.5,747.6 2570.9,747.8 2571.2,748.1 2571.6,748.5 2572.0,748.8 2572.4,749.2 2572.7,749.6 2573.1,750.1 2573.5,750.6 2573.9,751.2 2574.2,751.8 2574.6,752.5 2575.0,753.3 2575.4,754.0 2575.7,754.9 2576.1,755.8 2576.5,756.8 2576.9,757.9 2577.2,759.1 2577.6,760.3 2578.0,761.7 2578.4,763.2 2578.7,764.7 2579.1,766.5 2579.5,768.3 2579.9,770.3 2580.2,772.5 2580.6,775.0 2581.0,777.6 2581.4,780.6 2581.7,783.9 2582.1,787.8 2582.5,792.2 2582.9,797.7 2583.2,805.1 2583.6,823.4 2583.6,822.4 2694.1,822.4" fill="none" stroke="#1530e0" stroke-width="3.8" stroke-dasharray="7,3.5" stroke-linecap="butt" stroke-linejoin="round"/>
<polyline points="2564.9,723.8 2565.9,723.8 2566.9,723.8 2567.9,723.8 2568.9,723.8 2569.9,723.9 2570.9,723.9 2571.9,724.0 2572.9,724.1 2573.9,724.2 2574.9,724.3 2575.9,724.4 2576.9,724.6 2577.9,724.8 2578.9,725.0 2579.9,725.3 2580.9,725.6 2581.9,726.0 2582.9,726.4 2583.8,726.8 2584.8,727.3 2585.8,727.8 2586.8,728.4 2587.8,729.1 2588.8,729.8 2589.8,730.5 2590.8,731.4 2591.8,732.3 2592.8,733.3 2593.8,734.4 2594.8,735.6 2595.8,736.9 2596.8,738.2 2597.8,739.7 2598.8,741.3 2599.8,743.1 2600.8,745.0 2601.8,747.0 2602.8,749.2 2603.8,751.6 2604.8,754.2 2605.8,757.1 2606.8,760.2 2607.8,763.7 2608.8,767.6 2609.8,771.9 2610.8,776.9 2611.8,782.7 2612.8,789.8 2613.8,799.4 2614.8,823.4 2614.8,822.4 2694.1,822.4" fill="none" stroke="#1a8a1a" stroke-width="3.8" stroke-dasharray="3,2.6" stroke-linecap="butt" stroke-linejoin="round"/>
<polyline points="2564.9,718.8 2566.5,718.8 2568.0,718.8 2569.6,718.8 2571.2,718.9 2572.7,718.9 2574.3,718.9 2575.9,719.0 2577.4,719.1 2579.0,719.2 2580.6,719.3 2582.2,719.4 2583.7,719.6 2585.3,719.8 2586.9,720.1 2588.4,720.3 2590.0,720.7 2591.6,721.0 2593.1,721.4 2594.7,721.9 2596.3,722.4 2597.9,722.9 2599.4,723.6 2601.0,724.2 2602.6,725.0 2604.1,725.8 2605.7,726.7 2607.3,727.6 2608.9,728.7 2610.4,729.8 2612.0,731.1 2613.6,732.4 2615.1,733.8 2616.7,735.4 2618.3,737.1 2619.8,738.9 2621.4,740.9 2623.0,743.0 2624.6,745.4 2626.1,747.9 2627.7,750.6 2629.3,753.6 2630.8,756.9 2632.4,760.6 2634.0,764.6 2635.5,769.2 2637.1,774.4 2638.7,780.6 2640.3,788.1 2641.8,798.2 2643.4,823.4 2643.4,822.4 2694.1,822.4" fill="none" stroke="#f0a020" stroke-width="3.8" stroke-dasharray="10,3,3,3" stroke-linecap="butt" stroke-linejoin="round"/>
<polyline points="2564.9,717.6 2567.0,717.6 2569.1,717.6 2571.2,717.6 2573.2,717.6 2575.3,717.6 2577.4,717.7 2579.5,717.7 2581.6,717.8 2583.7,717.9 2585.8,718.0 2587.9,718.2 2590.0,718.4 2592.1,718.6 2594.1,718.8 2596.2,719.1 2598.3,719.4 2600.4,719.8 2602.5,720.2 2604.6,720.6 2606.7,721.1 2608.8,721.7 2610.9,722.3 2613.0,723.0 2615.0,723.7 2617.1,724.6 2619.2,725.5 2621.3,726.4 2623.4,727.5 2625.5,728.6 2627.6,729.9 2629.7,731.2 2631.8,732.7 2633.9,734.3 2636.0,736.0 2638.0,737.8 2640.1,739.8 2642.2,742.0 2644.3,744.4 2646.4,746.9 2648.5,749.7 2650.6,752.7 2652.7,756.1 2654.8,759.8 2656.9,763.9 2658.9,768.5 2661.0,773.8 2663.1,780.0 2665.2,787.6 2667.3,797.8 2669.4,823.4 2669.4,822.4 2694.1,822.4" fill="none" stroke="#e02020" stroke-width="3.8" stroke-dasharray="2.2,2" stroke-linecap="butt" stroke-linejoin="round"/>
<polyline points="2564.9,717.6 2567.5,717.6 2570.0,717.6 2572.6,717.6 2575.2,717.6 2577.8,717.6 2580.4,717.7 2583.0,717.7 2585.6,717.8 2588.1,717.9 2590.7,718.0 2593.3,718.2 2595.9,718.4 2598.5,718.6 2601.1,718.8 2603.6,719.1 2606.2,719.4 2608.8,719.8 2611.4,720.2 2614.0,720.6 2616.6,721.1 2619.2,721.7 2621.7,722.3 2624.3,723.0 2626.9,723.7 2629.5,724.5 2632.1,725.4 2634.7,726.4 2637.2,727.5 2639.8,728.6 2642.4,729.9 2645.0,731.2 2647.6,732.7 2650.2,734.2 2652.7,735.9 2655.3,737.8 2657.9,739.8 2660.5,742.0 2663.1,744.3 2665.7,746.9 2668.3,749.6 2670.8,752.7 2673.4,756.0 2676.0,759.7 2678.6,763.8 2681.2,768.5 2683.8,773.8 2686.3,780.0 2688.9,787.6 2691.5,797.8 2694.1,823.4 2694.1,822.4 2694.1,822.4" fill="none" stroke="#7a1a8a" stroke-width="3.8" stroke-dasharray="7,3,3,3" stroke-linecap="butt" stroke-linejoin="round"/>
<line x1="2523.4" y1="654.5" x2="2550.4" y2="654.5" stroke="#000" stroke-width="3.2" stroke-linecap="butt"/>
<text x="2552.8" y="659" font-size="15.5" text-anchor="start" fill="#000" font-family="Liberation Serif"><tspan font-style="italic">J</tspan><tspan dy="3" font-size="10">2</tspan><tspan dy="-3">/</tspan><tspan font-style="italic">J</tspan><tspan dy="3" font-size="10">1</tspan><tspan dy="-3">=0</tspan></text>
<line x1="2523.4" y1="673.5" x2="2550.4" y2="673.5" stroke="#1530e0" stroke-width="3.2" stroke-dasharray="7,3.5" stroke-linecap="butt"/>
<text x="2552.8" y="678" font-size="15.5" text-anchor="start" fill="#000" font-family="Liberation Serif"><tspan font-style="italic">J</tspan><tspan dy="3" font-size="10">2</tspan><tspan dy="-3">/</tspan><tspan font-style="italic">J</tspan><tspan dy="3" font-size="10">1</tspan><tspan dy="-3">=0.2</tspan></text>
<line x1="2523.4" y1="692.5" x2="2550.4" y2="692.5" stroke="#1a8a1a" stroke-width="3.2" stroke-dasharray="3,2.6" stroke-linecap="butt"/>
<text x="2552.8" y="697" font-size="15.5" text-anchor="start" fill="#000" font-family="Liberation Serif"><tspan font-style="italic">J</tspan><tspan dy="3" font-size="10">2</tspan><tspan dy="-3">/</tspan><tspan font-style="italic">J</tspan><tspan dy="3" font-size="10">1</tspan><tspan dy="-3">=0.4</tspan></text>
<line x1="2618.3" y1="654.5" x2="2645.3" y2="654.5" stroke="#f0a020" stroke-width="3.2" stroke-dasharray="10,3,3,3" stroke-linecap="butt"/>
<text x="2649.3" y="659" font-size="15.5" text-anchor="start" fill="#000" font-family="Liberation Serif"><tspan font-style="italic">J</tspan><tspan dy="3" font-size="10">2</tspan><tspan dy="-3">/</tspan><tspan font-style="italic">J</tspan><tspan dy="3" font-size="10">1</tspan><tspan dy="-3">=0.6</tspan></text>
<line x1="2618.3" y1="673.5" x2="2645.3" y2="673.5" stroke="#e02020" stroke-width="3.2" stroke-dasharray="2.2,2" stroke-linecap="butt"/>
<text x="2649.3" y="678" font-size="15.5" text-anchor="start" fill="#000" font-family="Liberation Serif"><tspan font-style="italic">J</tspan><tspan dy="3" font-size="10">2</tspan><tspan dy="-3">/</tspan><tspan font-style="italic">J</tspan><tspan dy="3" font-size="10">1</tspan><tspan dy="-3">=0.8</tspan></text>
<line x1="2618.3" y1="692.5" x2="2645.3" y2="692.5" stroke="#7a1a8a" stroke-width="3.2" stroke-dasharray="7,3,3,3" stroke-linecap="butt"/>
<text x="2649.3" y="697" font-size="15.5" text-anchor="start" fill="#000" font-family="Liberation Serif"><tspan font-style="italic">J</tspan><tspan dy="3" font-size="10">2</tspan><tspan dy="-3">/</tspan><tspan font-style="italic">J</tspan><tspan dy="3" font-size="10">1</tspan><tspan dy="-3">=1.0</tspan></text><rect x="2908.5" y="92.7" width="266.1" height="38.6" fill="#fff"/>
<line x1="2908.5" y1="98.3" x2="3174.6" y2="98.3" stroke="#e2e2e2" stroke-width="0.9" stroke-linecap="butt"/>
<line x1="2908.5" y1="108.8" x2="3174.6" y2="108.8" stroke="#e2e2e2" stroke-width="0.9" stroke-linecap="butt"/>
<line x1="2908.5" y1="119.3" x2="3174.6" y2="119.3" stroke="#e2e2e2" stroke-width="0.9" stroke-linecap="butt"/>
<line x1="2908.5" y1="129.8" x2="3174.6" y2="129.8" stroke="#e2e2e2" stroke-width="0.9" stroke-linecap="butt"/>
<line x1="2920.5" y1="92.7" x2="2920.5" y2="131.3" stroke="#e2e2e2" stroke-width="0.9" stroke-linecap="butt"/>
<line x1="3041.6" y1="92.7" x2="3041.6" y2="131.3" stroke="#e2e2e2" stroke-width="0.9" stroke-linecap="butt"/>
<line x1="3162.6" y1="92.7" x2="3162.6" y2="131.3" stroke="#e2e2e2" stroke-width="0.9" stroke-linecap="butt"/>
<polyline points="2920.5,94.8 2922.3,95.4 2924.1,95.9 2925.9,96.4 2927.8,97.0 2929.6,97.5 2931.4,98.1 2933.2,98.6 2935.0,99.2 2936.8,99.8 2938.7,100.4 2940.5,101.0 2942.3,101.6 2944.1,102.2 2945.9,102.8 2947.7,103.4 2949.6,104.1 2951.4,104.7 2953.2,105.4 2955.0,106.0 2956.8,106.7 2958.6,107.4 2960.4,108.1 2962.3,108.9 2964.1,109.6 2965.9,110.4 2967.7,111.2 2969.5,112.0 2971.3,112.8 2973.2,113.7 2975.0,114.6 2976.8,115.5 2978.6,116.5 2980.4,117.5 2982.2,118.6 2984.1,119.8 2985.9,121.0 2987.7,122.4 2989.5,124.0 2991.3,126.0 2993.1,129.8 3162.6,129.8" fill="none" stroke="#f0a21e" stroke-width="2.2" stroke-linecap="butt" stroke-linejoin="round"/>
<rect x="2908.5" y="92.7" width="266.1" height="38.6" fill="none" stroke="#000" stroke-width="1.1"/>
<line x1="2906" y1="108.8" x2="2908.5" y2="108.8" stroke="#000" stroke-width="1" stroke-linecap="butt"/>
<text x="2904.5" y="113.8" font-size="15" text-anchor="end" fill="#000" font-family="Liberation Serif">0.2</text>
<line x1="2906" y1="129.8" x2="2908.5" y2="129.8" stroke="#000" stroke-width="1" stroke-linecap="butt"/>
<text x="2904.5" y="134.8" font-size="15" text-anchor="end" fill="#000" font-family="Liberation Serif">0.0</text>
<line x1="2906.5" y1="98.3" x2="2908.5" y2="98.3" stroke="#000" stroke-width="0.8" stroke-linecap="butt"/>
<line x1="2906.5" y1="119.3" x2="2908.5" y2="119.3" stroke="#000" stroke-width="0.8" stroke-linecap="butt"/>
<line x1="2920.5" y1="131.3" x2="2920.5" y2="133.8" stroke="#000" stroke-width="1" stroke-linecap="butt"/>
<text x="2920.5" y="149.7" font-size="15" text-anchor="middle" fill="#000" font-family="Liberation Serif">0</text>
<line x1="3041.6" y1="131.3" x2="3041.6" y2="133.8" stroke="#000" stroke-width="1" stroke-linecap="butt"/>
<text x="3041.6" y="149.7" font-size="15" text-anchor="middle" fill="#000" font-family="Liberation Serif">0.5</text>
<line x1="3162.6" y1="131.3" x2="3162.6" y2="133.8" stroke="#000" stroke-width="1" stroke-linecap="butt"/>
<text x="3162.6" y="149.7" font-size="15" text-anchor="middle" fill="#000" font-family="Liberation Serif">1.0</text>
<text x="3148.4" y="114.5" font-size="15" text-anchor="middle" fill="#000" font-family="Liberation Serif">(a)</text>
<text x="2872" y="112" font-size="15.5" text-anchor="middle" fill="#000" font-family="Liberation Serif" transform="rotate(-90 2872 112)"><tspan font-style="italic">h</tspan></text>
<text x="3040.4" y="167" font-size="15.5" text-anchor="middle" fill="#1e8a1e" font-family="Liberation Serif"><tspan font-style="italic">J</tspan><tspan dy="3" font-size="10">2</tspan><tspan dy="-3">, tripod/</tspan><tspan fill="#e8202a" font-style="italic">J</tspan><tspan dy="3" font-size="10" fill="#e8202a">1</tspan></text>
<rect x="3222.5" y="100.6" width="353.2" height="6.8" fill="none" stroke="#000" stroke-width="1"/>
<line x1="3399.1" y1="107.4" x2="3399.1" y2="105.4" stroke="#000" stroke-width="0.9" stroke-linecap="butt"/>
<text x="3399.1" y="94.8" font-size="15.5" text-anchor="middle" fill="#000" font-family="Liberation Serif">GLSWT entangled-units Intensity</text>
<text x="3222.5" y="122.6" font-size="15.5" text-anchor="middle" fill="#000" font-family="Liberation Serif">min</text>
<text x="3575.7" y="122.6" font-size="15.5" text-anchor="middle" fill="#000" font-family="Liberation Serif">max</text>
<rect x="3222.5" y="161.4" width="353.2" height="6.8" fill="none" stroke="#000" stroke-width="1"/>
<line x1="3399.1" y1="168.2" x2="3399.1" y2="166.2" stroke="#000" stroke-width="0.9" stroke-linecap="butt"/>
<text x="3399.1" y="155.6" font-size="15.5" text-anchor="middle" fill="#000" font-family="Liberation Serif">LSWT Intensity</text>
<text x="3222.5" y="183.4" font-size="15.5" text-anchor="middle" fill="#000" font-family="Liberation Serif">min</text>
<text x="3575.7" y="183.4" font-size="15.5" text-anchor="middle" fill="#000" font-family="Liberation Serif">max</text>
<rect x="2908.6" y="175.1" width="266.3" height="331.1" fill="#808080"/>
<line x1="2920.5" y1="175.1" x2="2920.5" y2="506.2" stroke="#707070" stroke-width="0.8" stroke-linecap="butt"/>
<line x1="3041.4" y1="175.1" x2="3041.4" y2="506.2" stroke="#707070" stroke-width="0.8" stroke-linecap="butt"/>
<line x1="3162.3" y1="175.1" x2="3162.3" y2="506.2" stroke="#707070" stroke-width="0.8" stroke-linecap="butt"/>
<line x1="2908.6" y1="491.1" x2="3174.9" y2="491.1" stroke="#707070" stroke-width="0.8" stroke-linecap="butt"/>
<line x1="2908.6" y1="368.3" x2="3174.9" y2="368.3" stroke="#707070" stroke-width="0.8" stroke-linecap="butt"/>
<line x1="2908.6" y1="245.5" x2="3174.9" y2="245.5" stroke="#707070" stroke-width="0.8" stroke-linecap="butt"/>
<polyline points="2993.0,396.5 2998.7,389.7 3004.3,382.8 3010.0,375.9 3015.6,369.0 3021.2,362.2 3026.9,355.3 3032.5,348.4 3038.2,341.5 3043.8,334.7 3049.5,327.8 3055.1,320.9 3060.7,314.0 3066.4,307.1 3072.0,300.3 3077.7,293.4 3083.3,286.5 3089.0,279.6 3094.6,272.8 3100.2,265.9 3105.9,259.0 3111.5,252.1 3117.2,245.3 3122.8,238.4 3128.4,231.5 3134.1,224.6 3139.7,217.7 3145.4,210.9 3151.0,204.0 3156.7,197.1 3162.3,190.2" fill="none" stroke="#8a0f0f" stroke-width="3.0" stroke-dasharray="2.2,0.6" stroke-linecap="butt" stroke-linejoin="round"/>
<polyline points="2993.0,397.8 2998.7,391.9 3004.3,386.0 3010.0,380.1 3015.6,374.2 3021.2,368.3 3026.9,362.4 3032.5,356.5 3038.2,350.6 3043.8,344.7 3049.5,338.8 3055.1,332.9 3060.7,327.0 3066.4,321.1 3072.0,315.3 3077.7,309.4 3083.3,303.5 3089.0,297.6 3094.6,291.7 3100.2,285.8 3105.9,279.9 3111.5,274.0 3117.2,268.1 3122.8,262.2 3128.4,256.3 3134.1,250.4 3139.7,244.5 3145.4,238.6 3151.0,232.7 3156.7,226.8 3162.3,220.9" fill="none" stroke="#8a0f0f" stroke-width="3.0" stroke-dasharray="2.2,0.6" stroke-linecap="butt" stroke-linejoin="round"/>
<polyline points="2993.0,399.0 2998.7,394.1 3004.3,389.2 3010.0,384.3 3015.6,379.4 3021.2,374.4 3026.9,369.5 3032.5,364.6 3038.2,359.7 3043.8,354.8 3049.5,349.9 3055.1,345.0 3060.7,340.1 3066.4,335.1 3072.0,330.2 3077.7,325.3 3083.3,320.4 3089.0,315.5 3094.6,310.6 3100.2,305.7 3105.9,300.8 3111.5,295.8 3117.2,290.9 3122.8,286.0 3128.4,281.1 3134.1,276.2 3139.7,271.3 3145.4,266.4 3151.0,261.5 3156.7,256.6 3162.3,251.6" fill="none" stroke="#000" stroke-width="3.0" stroke-dasharray="2.2,0.6" stroke-linecap="butt" stroke-linejoin="round"/>
<polyline points="2993.0,400.2 2998.7,396.4 3004.3,392.5 3010.0,388.7 3015.6,384.8 3021.2,381.0 3026.9,377.1 3032.5,373.3 3038.2,369.4 3043.8,365.6 3049.5,361.8 3055.1,357.9 3060.7,354.1 3066.4,350.2 3072.0,346.4 3077.7,342.5 3083.3,338.7 3089.0,334.8 3094.6,331.0 3100.2,327.1 3105.9,323.3 3111.5,319.4 3117.2,315.6 3122.8,311.7 3128.4,307.9 3134.1,304.0 3139.7,300.2 3145.4,296.3 3151.0,292.5 3156.7,288.6 3162.3,284.8" fill="none" stroke="#000" stroke-width="3.0" stroke-dasharray="2.2,0.6" stroke-linecap="butt" stroke-linejoin="round"/>
<polyline points="2993.0,428.5 2998.7,423.1 3004.3,417.7 3010.0,412.3 3015.6,406.9 3021.2,401.5 3026.9,396.1 3032.5,390.6 3038.2,385.2 3043.8,379.8 3049.5,374.4 3055.1,369.0 3060.7,363.6 3066.4,358.2 3072.0,352.8 3077.7,347.4 3083.3,342.0 3089.0,336.6 3094.6,331.2 3100.2,325.8 3105.9,320.4 3111.5,315.0 3117.2,309.6 3122.8,304.2 3128.4,298.8 3134.1,293.4 3139.7,288.0 3145.4,282.6 3151.0,277.2 3156.7,271.8 3162.3,266.4" fill="none" stroke="#c81414" stroke-width="3.0" stroke-dasharray="2.2,0.6" stroke-linecap="butt" stroke-linejoin="round"/>
<polyline points="2993.0,432.2 2998.7,428.2 3004.3,424.2 3010.0,420.2 3015.6,416.3 3021.2,412.3 3026.9,408.3 3032.5,404.4 3038.2,400.4 3043.8,396.4 3049.5,392.5 3055.1,388.5 3060.7,384.5 3066.4,380.5 3072.0,376.6 3077.7,372.6 3083.3,368.6 3089.0,364.7 3094.6,360.7 3100.2,356.7 3105.9,352.7 3111.5,348.8 3117.2,344.8 3122.8,340.8 3128.4,336.9 3134.1,332.9 3139.7,328.9 3145.4,325.0 3151.0,321.0 3156.7,317.0 3162.3,313.0" fill="none" stroke="#c81414" stroke-width="3.0" stroke-dasharray="2.2,0.6" stroke-linecap="butt" stroke-linejoin="round"/>
<polyline points="2993.0,438.9 2998.7,436.2 3004.3,433.5 3010.0,430.7 3015.6,428.0 3021.2,425.3 3026.9,422.6 3032.5,419.9 3038.2,417.1 3043.8,414.4 3049.5,411.7 3055.1,409.0 3060.7,406.2 3066.4,403.5 3072.0,400.8 3077.7,398.1 3083.3,395.4 3089.0,392.6 3094.6,389.9 3100.2,387.2 3105.9,384.5 3111.5,381.7 3117.2,379.0 3122.8,376.3 3128.4,373.6 3134.1,370.9 3139.7,368.1 3145.4,365.4 3151.0,362.7 3156.7,360.0 3162.3,357.2" fill="none" stroke="#000" stroke-width="3.0" stroke-dasharray="2.2,0.6" stroke-linecap="butt" stroke-linejoin="round"/>
<polyline points="2993.0,448.1 2998.7,445.4 3004.3,442.7 3010.0,440.0 3015.6,437.3 3021.2,434.6 3026.9,431.9 3032.5,429.2 3038.2,426.5 3043.8,423.8 3049.5,421.1 3055.1,418.4 3060.7,415.7 3066.4,413.0 3072.0,410.3 3077.7,407.6 3083.3,404.9 3089.0,402.2 3094.6,399.5 3100.2,396.8 3105.9,394.1 3111.5,391.4 3117.2,388.7 3122.8,386.0 3128.4,383.3 3134.1,380.6 3139.7,377.9 3145.4,375.2 3151.0,372.5 3156.7,369.8 3162.3,367.1" fill="none" stroke="#000" stroke-width="3.0" stroke-dasharray="2.2,0.6" stroke-linecap="butt" stroke-linejoin="round"/>
<polyline points="2993.0,455.5 2998.7,452.7 3004.3,449.8 3010.0,447.0 3015.6,444.2 3021.2,441.4 3026.9,438.5 3032.5,435.7 3038.2,432.9 3043.8,430.1 3049.5,427.2 3055.1,424.4 3060.7,421.6 3066.4,418.8 3072.0,415.9 3077.7,413.1 3083.3,410.3 3089.0,407.5 3094.6,404.6 3100.2,401.8 3105.9,399.0 3111.5,396.2 3117.2,393.4 3122.8,390.5 3128.4,387.7 3134.1,384.9 3139.7,382.1 3145.4,379.2 3151.0,376.4 3156.7,373.6 3162.3,370.8" fill="none" stroke="#c81414" stroke-width="3.0" stroke-dasharray="2.2,0.6" stroke-linecap="butt" stroke-linejoin="round"/>
<polyline points="2993.0,456.7 2998.7,453.7 3004.3,451.8 3010.0,450.2 3015.6,448.8 3021.2,447.4 3026.9,446.2 3032.5,445.0 3038.2,443.8 3043.8,442.7 3049.5,441.6 3055.1,440.6 3060.7,439.6 3066.4,438.6 3072.0,437.6 3077.7,436.7 3083.3,435.8 3089.0,434.8 3094.6,434.0 3100.2,433.1 3105.9,432.2 3111.5,431.4 3117.2,430.5 3122.8,429.7 3128.4,428.9 3134.1,428.1 3139.7,427.3 3145.4,426.5 3151.0,425.7 3156.7,424.9 3162.3,424.2" fill="none" stroke="#000" stroke-width="3.0" stroke-dasharray="2.2,0.6" stroke-linecap="butt" stroke-linejoin="round"/>
<polyline points="2993.0,457.3 2998.7,454.5 3004.3,452.8 3010.0,451.3 3015.6,450.0 3021.2,448.7 3026.9,447.6 3032.5,446.5 3038.2,445.4 3043.8,444.4 3049.5,443.4 3055.1,442.4 3060.7,441.5 3066.4,440.6 3072.0,439.7 3077.7,438.8 3083.3,438.0 3089.0,437.1 3094.6,436.3 3100.2,435.5 3105.9,434.7 3111.5,433.9 3117.2,433.1 3122.8,432.4 3128.4,431.6 3134.1,430.8 3139.7,430.1 3145.4,429.4 3151.0,428.7 3156.7,427.9 3162.3,427.2" fill="none" stroke="#f4f4f4" stroke-width="2.6" stroke-dasharray="2.2,0.6" stroke-linecap="butt" stroke-linejoin="round"/>
<line x1="2920.5" y1="417.4" x2="2944.7" y2="417.4" stroke="#000" stroke-width="3.2" stroke-linecap="butt"/>
<line x1="2920.5" y1="454.3" x2="2944.7" y2="454.3" stroke="#000" stroke-width="3.2" stroke-linecap="butt"/>
<line x1="2993" y1="491.1" x2="3162.3" y2="491.1" stroke="#e81818" stroke-width="3.4" stroke-linecap="butt"/>
<line x1="2920.5" y1="491.1" x2="2993" y2="491.1" stroke="#2020e8" stroke-width="3.4" stroke-linecap="butt"/>
<polyline points="2944.7,491.1 2947.1,489.2 2949.5,487.3 2951.9,485.5 2954.4,483.9 2956.8,482.4 2959.2,481.2 2961.6,480.2 2964.0,479.4 2966.4,479.0 2968.9,478.8 2971.3,479.0 2973.7,479.4 2976.1,480.2 2978.5,481.2 2980.9,482.4 2983.4,483.9 2985.8,485.5 2988.2,487.3 2990.6,489.2 2993.0,491.1" fill="none" stroke="#5a5af0" stroke-width="2.2" stroke-linecap="butt" stroke-linejoin="round"/>
<polyline points="2944.7,491.1 2947.1,489.6 2949.5,488.1 2951.9,486.6 2954.4,485.3 2956.8,484.2 2959.2,483.2 2961.6,482.3 2964.0,481.8 2966.4,481.4 2968.9,481.3 2971.3,481.4 2973.7,481.8 2976.1,482.3 2978.5,483.2 2980.9,484.2 2983.4,485.3 2985.8,486.6 2988.2,488.1 2990.6,489.6 2993.0,491.1" fill="none" stroke="#7a7af5" stroke-width="2.2" stroke-linecap="butt" stroke-linejoin="round"/>
<polyline points="2949.5,491.1 2951.7,489.9 2953.9,488.8 2956.0,487.8 2958.2,486.8 2960.4,485.9 2962.6,485.1 2964.7,484.5 2966.9,484.1 2969.1,483.8 2971.3,483.7 2973.5,483.8 2975.6,484.1 2977.8,484.5 2980.0,485.1 2982.2,485.9 2984.3,486.8 2986.5,487.8 2988.7,488.8 2990.9,489.9 2993.0,491.1" fill="none" stroke="#9a9af8" stroke-width="2.2" stroke-linecap="butt" stroke-linejoin="round"/>
<polyline points="2920.5,472.7 2924.1,472.5 2927.8,472.3 2931.4,471.9 2935.0,471.5 2938.6,470.9 2942.3,470.4 2945.9,469.7 2949.5,469.0 2953.1,468.2 2956.8,467.4 2960.4,466.5 2964.0,465.6 2967.7,464.7 2971.3,463.7 2974.9,462.6 2978.5,461.5 2982.2,460.4 2985.8,459.2 2989.4,458.0 2993.0,456.7" fill="none" stroke="#d8d8ff" stroke-width="2.2" stroke-linecap="butt" stroke-linejoin="round"/>
<polyline points="2920.5,475.1 2924.1,475.0 2927.8,474.7 2931.4,474.3 2935.0,473.7 2938.6,473.1 2942.3,472.5 2945.9,471.7 2949.5,470.9 2953.1,470.0 2956.8,469.1 2960.4,468.1 2964.0,467.0 2967.7,465.9 2971.3,464.7 2974.9,463.5 2978.5,462.2 2982.2,460.9 2985.8,459.6 2989.4,458.2 2993.0,456.7" fill="none" stroke="#c0c0f8" stroke-width="2.2" stroke-linecap="butt" stroke-linejoin="round"/>
<polyline points="2920.5,477.6 2924.1,477.4 2927.8,477.1 2931.4,476.6 2935.0,476.0 2938.6,475.3 2942.3,474.6 2945.9,473.7 2949.5,472.8 2953.1,471.8 2956.8,470.7 2960.4,469.6 2964.0,468.4 2967.7,467.1 2971.3,465.8 2974.9,464.4 2978.5,463.0 2982.2,461.5 2985.8,460.0 2989.4,458.4 2993.0,456.7" fill="none" stroke="#e8e8ff" stroke-width="2.2" stroke-linecap="butt" stroke-linejoin="round"/>
<polyline points="2920.5,480.0 2924.1,479.9 2927.8,479.5 2931.4,478.9 2935.0,478.3 2938.6,477.5 2942.3,476.6 2945.9,475.7 2949.5,474.7 2953.1,473.5 2956.8,472.4 2960.4,471.1 2964.0,469.7 2967.7,468.3 2971.3,466.9 2974.9,465.3 2978.5,463.7 2982.2,462.1 2985.8,460.3 2989.4,458.6 2993.0,456.7" fill="none" stroke="#a8a8f0" stroke-width="2.2" stroke-linecap="butt" stroke-linejoin="round"/>
<line x1="2920.5" y1="484.3" x2="2944.7" y2="484.3" stroke="#e81818" stroke-width="2.6" stroke-linecap="butt"/>
<polyline points="2927.8,480.0 2944.7,488.6" fill="none" stroke="#8a0f0f" stroke-width="2.2" stroke-linecap="butt" stroke-linejoin="round"/>
<polyline points="2920.5,477.6 2944.7,483.7" fill="none" stroke="#6a6af0" stroke-width="2.2" stroke-linecap="butt" stroke-linejoin="round"/>
<rect x="2939.9" y="184.5" width="101.8" height="127.4" fill="#808080"/>
<line x1="2960.3" y1="184.5" x2="2960.3" y2="311.9" stroke="#707070" stroke-width="0.7" stroke-linecap="butt"/>
<line x1="2980.6" y1="184.5" x2="2980.6" y2="311.9" stroke="#707070" stroke-width="0.7" stroke-linecap="butt"/>
<line x1="3001" y1="184.5" x2="3001" y2="311.9" stroke="#707070" stroke-width="0.7" stroke-linecap="butt"/>
<line x1="3021.3" y1="184.5" x2="3021.3" y2="311.9" stroke="#707070" stroke-width="0.7" stroke-linecap="butt"/>
<polyline points="2939.9,184.5 2942.4,185.6 2945.0,187.1 2947.5,188.9 2950.1,190.9 2952.6,193.0 2955.2,195.3 2957.7,197.7 2960.3,200.2 2962.8,202.8 2965.3,205.5 2967.9,208.3 2970.4,211.1 2973.0,214.1 2975.5,217.0 2978.1,220.1 2980.6,223.2 2983.2,226.4 2985.7,229.6 2988.3,232.9 2990.8,236.2 2993.3,239.6 2995.9,243.1 2998.4,246.5 3001.0,250.1 3003.5,253.7 3006.1,257.3 3008.6,260.9 3011.2,264.6 3013.7,268.4 3016.2,272.1 3018.8,276.0 3021.3,279.8 3023.9,283.7 3026.4,287.6 3029.0,291.6 3031.5,295.6 3034.1,299.6 3036.6,303.7 3039.2,307.8 3041.7,311.9" fill="none" stroke="#4a4ae8" stroke-width="1.5" stroke-linecap="butt" stroke-linejoin="round"/>
<polyline points="2939.9,311.9 2942.4,311.2 2945.0,310.0 2947.5,308.5 2950.1,306.8 2952.6,305.0 2955.2,303.0 2957.7,300.8 2960.3,298.5 2962.8,296.1 2965.3,293.6 2967.9,291.0 2970.4,288.3 2973.0,285.5 2975.5,282.6 2978.1,279.6 2980.6,276.6 2983.2,273.4 2985.7,270.2 2988.3,267.0 2990.8,263.6 2993.3,260.2 2995.9,256.7 2998.4,253.2 3001.0,249.6 3003.5,245.9 3006.1,242.2 3008.6,238.4 3011.2,234.6 3013.7,230.7 3016.2,226.7 3018.8,222.7 3021.3,218.7 3023.9,214.6 3026.4,210.4 3029.0,206.2 3031.5,202.0 3034.1,197.7 3036.6,193.3 3039.2,188.9 3041.7,184.5" fill="none" stroke="#7a7af0" stroke-width="1.5" stroke-linecap="butt" stroke-linejoin="round"/>
<polyline points="2939.9,185.8 2942.4,187.6 2945.0,188.3 2947.5,188.9 2950.1,189.3 2952.6,189.7 2955.2,190.1 2957.7,190.4 2960.3,190.7 2962.8,190.9 2965.3,191.1 2967.9,191.3 2970.4,191.5 2973.0,191.7 2975.5,191.8 2978.1,191.9 2980.6,192.0 2983.2,192.1 2985.7,192.1 2988.3,192.1 2990.8,192.1 2993.3,192.1 2995.9,192.1 2998.4,192.1 3001.0,192.0 3003.5,191.9 3006.1,191.8 3008.6,191.7 3011.2,191.5 3013.7,191.3 3016.2,191.1 3018.8,190.9 3021.3,190.7 3023.9,190.4 3026.4,190.1 3029.0,189.7 3031.5,189.3 3034.1,188.9 3036.6,188.3 3039.2,187.6 3041.7,185.8" fill="none" stroke="#8a8af5" stroke-width="1.5" stroke-linecap="butt" stroke-linejoin="round"/>
<polyline points="2939.9,248.2 2942.4,248.0 2945.0,247.7 2947.5,247.2 2950.1,246.6 2952.6,245.9 2955.2,245.1 2957.7,244.3 2960.3,243.3 2962.8,242.3 2965.3,241.3 2967.9,240.1 2970.4,238.9 2973.0,237.7 2975.5,236.3 2978.1,234.9 2980.6,233.5 2983.2,232.0 2985.7,230.4 2988.3,228.8 2990.8,227.2 2993.3,225.5 2995.9,223.7 2998.4,221.9 3001.0,220.1 3003.5,218.2 3006.1,216.2 3008.6,214.2 3011.2,212.2 3013.7,210.1 3016.2,208.0 3018.8,205.8 3021.3,203.6 3023.9,201.4 3026.4,199.1 3029.0,196.8 3031.5,194.4 3034.1,192.0 3036.6,189.5 3039.2,187.0 3041.7,184.5" fill="none" stroke="#8a0f0f" stroke-width="1.5" stroke-linecap="butt" stroke-linejoin="round"/>
<polyline points="2939.9,248.2 2942.4,248.3 2945.0,248.5 2947.5,248.7 2950.1,249.1 2952.6,249.5 2955.2,250.0 2957.7,250.6 2960.3,251.3 2962.8,252.0 2965.3,252.8 2967.9,253.7 2970.4,254.6 2973.0,255.6 2975.5,256.7 2978.1,257.8 2980.6,259.0 2983.2,260.2 2985.7,261.5 2988.3,262.9 2990.8,264.3 2993.3,265.8 2995.9,267.3 2998.4,268.9 3001.0,270.6 3003.5,272.3 3006.1,274.0 3008.6,275.8 3011.2,277.7 3013.7,279.6 3016.2,281.6 3018.8,283.6 3021.3,285.7 3023.9,287.8 3026.4,290.0 3029.0,292.3 3031.5,294.6 3034.1,297.4 3036.6,301.2 3039.2,306.1 3041.7,311.9" fill="none" stroke="#e02020" stroke-width="1.5" stroke-linecap="butt" stroke-linejoin="round"/>
<polyline points="2939.9,311.9 2942.4,308.7 2945.0,305.5 2947.5,302.3 2950.1,299.2 2952.6,296.0 2955.2,292.8 2957.7,289.6 2960.3,286.4 2962.8,283.2 2965.3,280.0 2967.9,276.9 2970.4,273.7 2973.0,270.5 2975.5,267.3 2978.1,264.1 2980.6,260.9 2983.2,257.8 2985.7,254.6 2988.3,251.4 2990.8,248.2 2993.3,245.0 2995.9,241.8 2998.4,238.6 3001.0,235.5 3003.5,232.3 3006.1,229.1 3008.6,225.9 3011.2,222.7 3013.7,219.5 3016.2,216.3 3018.8,213.2 3021.3,210.0 3023.9,206.8 3026.4,203.6 3029.0,200.4 3031.5,197.2 3034.1,194.1 3036.6,190.9 3039.2,187.7 3041.7,184.5" fill="none" stroke="#e8e8f8" stroke-width="1.5" stroke-linecap="butt" stroke-linejoin="round"/>
<polyline points="2939.9,311.9 2942.4,310.7 2945.0,309.4 2947.5,308.2 2950.1,307.0 2952.6,305.8 2955.2,304.7 2957.7,303.6 2960.3,302.5 2962.8,301.6 2965.3,300.6 2967.9,299.8 2970.4,299.0 2973.0,298.3 2975.5,297.7 2978.1,297.2 2980.6,296.8 2983.2,296.4 2985.7,296.2 2988.3,296.0 2990.8,296.0 2993.3,296.0 2995.9,296.2 2998.4,296.4 3001.0,296.8 3003.5,297.2 3006.1,297.7 3008.6,298.3 3011.2,299.0 3013.7,299.8 3016.2,300.6 3018.8,301.6 3021.3,302.5 3023.9,303.6 3026.4,304.7 3029.0,305.8 3031.5,307.0 3034.1,308.2 3036.6,309.4 3039.2,310.7 3041.7,311.9" fill="none" stroke="#fff" stroke-width="1.5" stroke-linecap="butt" stroke-linejoin="round"/>
<rect x="2939.9" y="184.5" width="101.8" height="127.4" fill="none" stroke="#000" stroke-width="1.2"/>
<text x="2935.9" y="190.5" font-size="15" text-anchor="end" fill="#000" font-family="Liberation Serif">1</text>
<text x="2935.9" y="315.9" font-size="15" text-anchor="end" fill="#000" font-family="Liberation Serif">0</text>
<text x="2939.9" y="327" font-size="15" text-anchor="middle" fill="#000" font-family="Liberation Serif">0</text>
<text x="3041.7" y="327" font-size="15" text-anchor="middle" fill="#000" font-family="Liberation Serif">0.1</text>
<text x="2925" y="248" font-size="15.5" text-anchor="middle" fill="#000" font-family="Liberation Serif" transform="rotate(-90 2925 248)">ℏ<tspan font-style="italic">ω</tspan>/<tspan font-style="italic">J</tspan><tspan dy="3" font-size="10">1</tspan></text>
<text x="2990" y="341.5" font-size="15.5" text-anchor="middle" fill="#1e8a1e" font-family="Liberation Serif"><tspan font-style="italic">J</tspan><tspan dy="3" font-size="10">2</tspan><tspan dy="-3">, tripod/</tspan><tspan fill="#e8202a" font-style="italic">J</tspan><tspan dy="3" font-size="10" fill="#e8202a">1</tspan></text>
<rect x="2908.6" y="175.1" width="266.3" height="331.1" fill="none" stroke="#000" stroke-width="1.2"/>
<line x1="2906.1" y1="491.1" x2="2908.6" y2="491.1" stroke="#000" stroke-width="1" stroke-linecap="butt"/>
<text x="2903.6" y="496.1" font-size="15" text-anchor="end" fill="#000" font-family="Liberation Serif">0</text>
<line x1="2906.1" y1="368.3" x2="2908.6" y2="368.3" stroke="#000" stroke-width="1" stroke-linecap="butt"/>
<text x="2903.6" y="373.3" font-size="15" text-anchor="end" fill="#000" font-family="Liberation Serif">10</text>
<line x1="2906.1" y1="245.5" x2="2908.6" y2="245.5" stroke="#000" stroke-width="1" stroke-linecap="butt"/>
<text x="2903.6" y="250.5" font-size="15" text-anchor="end" fill="#000" font-family="Liberation Serif">20</text>
<line x1="2920.5" y1="506.2" x2="2920.5" y2="508.7" stroke="#000" stroke-width="1" stroke-linecap="butt"/>
<text x="2920.5" y="523.5" font-size="15" text-anchor="middle" fill="#000" font-family="Liberation Serif">0</text>
<line x1="3041.4" y1="506.2" x2="3041.4" y2="508.7" stroke="#000" stroke-width="1" stroke-linecap="butt"/>
<text x="3041.4" y="523.5" font-size="15" text-anchor="middle" fill="#000" font-family="Liberation Serif">0.5</text>
<line x1="3162.3" y1="506.2" x2="3162.3" y2="508.7" stroke="#000" stroke-width="1" stroke-linecap="butt"/>
<text x="3162.3" y="523.5" font-size="15" text-anchor="middle" fill="#000" font-family="Liberation Serif">1.0</text>
<text x="3130.5" y="194.5" font-size="15" text-anchor="middle" fill="#000" font-family="Liberation Serif">(b)</text>
<text x="2876" y="345" font-size="15.5" text-anchor="middle" fill="#000" font-family="Liberation Serif" transform="rotate(-90 2876 345)">ℏ<tspan font-style="italic">ω</tspan>/<tspan fill="#e8202a" font-style="italic">J</tspan><tspan dy="3" font-size="10" fill="#e8202a">1</tspan></text>
<text x="3040.4" y="541.5" font-size="15.5" text-anchor="middle" fill="#1e8a1e" font-family="Liberation Serif"><tspan font-style="italic">J</tspan><tspan dy="3" font-size="10">2</tspan><tspan dy="-3">, tripod/</tspan><tspan fill="#e8202a" font-style="italic">J</tspan><tspan dy="3" font-size="10" fill="#e8202a">1</tspan></text>
<rect x="3214.2" y="195.2" width="178.1" height="120.5" fill="#808080"/>
<line x1="3340.8" y1="195.2" x2="3340.8" y2="315.7" stroke="#707070" stroke-width="0.8" stroke-linecap="butt"/>
<line x1="3214.2" y1="255.4" x2="3392.3" y2="255.4" stroke="#707070" stroke-width="0.8" stroke-linecap="butt"/>
<polyline points="3214.2,304.9 3216.4,303.2 3218.7,301.7 3220.9,300.4 3223.1,299.5 3225.3,298.9 3227.6,298.8 3229.8,299.2 3232.0,300.0 3234.2,301.1 3236.5,302.5 3238.7,304.1 3240.9,305.8 3243.1,307.4 3245.4,308.8 3247.6,309.9 3249.8,310.6 3252.0,310.9 3254.3,310.7 3256.5,310.1 3258.7,309.1 3261.0,307.8 3263.2,306.3 3265.4,304.6 3267.6,303.0 3269.9,301.5 3272.1,300.3 3274.3,299.4 3276.5,298.9 3278.8,298.9 3281.0,299.3 3283.2,300.1 3285.4,301.3 3287.7,302.8 3289.9,304.4 3292.1,306.0 3294.3,307.6 3296.6,308.9 3298.8,310.0 3301.0,310.7 3303.2,310.9 3305.5,310.7 3307.7,310.0 3309.9,308.9 3312.2,307.6 3314.4,306.0 3316.6,304.4 3318.8,302.8 3321.1,301.3 3323.3,300.1 3325.5,299.3 3327.7,298.9 3330.0,298.9 3332.2,299.4 3334.4,300.3 3336.6,301.5 3338.9,303.0 3341.1,304.6 3343.3,306.3 3345.5,307.8 3347.8,309.1 3350.0,310.1 3352.2,310.7 3354.5,310.9 3356.7,310.6 3358.9,309.9 3361.1,308.8 3363.4,307.4 3365.6,305.8 3367.8,304.1 3370.0,302.5 3372.3,301.1 3374.5,300.0 3376.7,299.2 3378.9,298.8 3381.2,298.9 3383.4,299.5 3385.6,300.4 3387.8,301.7 3390.1,303.2 3392.3,304.9" fill="none" stroke="#fff" stroke-width="2.2" stroke-linecap="butt" stroke-linejoin="round"/>
<polyline points="3214.2,303.6 3216.4,305.0 3218.7,306.2 3220.9,307.2 3223.1,307.9 3225.3,308.4 3227.6,308.5 3229.8,308.2 3232.0,307.5 3234.2,306.6 3236.5,305.5 3238.7,304.2 3240.9,302.9 3243.1,301.6 3245.4,300.5 3247.6,299.6 3249.8,299.1 3252.0,298.8 3254.3,299.0 3256.5,299.4 3258.7,300.2 3261.0,301.3 3263.2,302.5 3265.4,303.8 3267.6,305.1 3269.9,306.3 3272.1,307.3 3274.3,308.0 3276.5,308.4 3278.8,308.4 3281.0,308.1 3283.2,307.4 3285.4,306.5 3287.7,305.3 3289.9,304.0 3292.1,302.7 3294.3,301.5 3296.6,300.4 3298.8,299.5 3301.0,299.0 3303.2,298.8 3305.5,299.0 3307.7,299.5 3309.9,300.4 3312.2,301.5 3314.4,302.7 3316.6,304.0 3318.8,305.3 3321.1,306.5 3323.3,307.4 3325.5,308.1 3327.7,308.4 3330.0,308.4 3332.2,308.0 3334.4,307.3 3336.6,306.3 3338.9,305.1 3341.1,303.8 3343.3,302.5 3345.5,301.3 3347.8,300.2 3350.0,299.4 3352.2,299.0 3354.5,298.8 3356.7,299.1 3358.9,299.6 3361.1,300.5 3363.4,301.6 3365.6,302.9 3367.8,304.2 3370.0,305.5 3372.3,306.6 3374.5,307.5 3376.7,308.2 3378.9,308.5 3381.2,308.4 3383.4,307.9 3385.6,307.2 3387.8,306.2 3390.1,305.0 3392.3,303.6" fill="none" stroke="#fff" stroke-width="2.2" stroke-linecap="butt" stroke-linejoin="round"/>
<polyline points="3214.2,297.6 3216.4,297.8 3218.7,298.2 3220.9,298.8 3223.1,299.6 3225.3,300.5 3227.6,301.5 3229.8,302.5 3232.0,303.4 3234.2,304.1 3236.5,304.6 3238.7,304.8 3240.9,304.8 3243.1,304.5 3245.4,304.0 3247.6,303.2 3249.8,302.4 3252.0,301.4 3254.3,300.4 3256.5,299.5 3258.7,298.7 3261.0,298.1 3263.2,297.7 3265.4,297.6 3267.6,297.8 3269.9,298.2 3272.1,298.9 3274.3,299.7 3276.5,300.7 3278.8,301.7 3281.0,302.6 3283.2,303.5 3285.4,304.2 3287.7,304.6 3289.9,304.8 3292.1,304.8 3294.3,304.5 3296.6,303.9 3298.8,303.1 3301.0,302.2 3303.2,301.2 3305.5,300.3 3307.7,299.4 3309.9,298.6 3312.2,298.0 3314.4,297.7 3316.6,297.6 3318.8,297.8 3321.1,298.3 3323.3,299.0 3325.5,299.9 3327.7,300.8 3330.0,301.8 3332.2,302.8 3334.4,303.6 3336.6,304.2 3338.9,304.7 3341.1,304.9 3343.3,304.8 3345.5,304.4 3347.8,303.8 3350.0,303.0 3352.2,302.1 3354.5,301.1 3356.7,300.1 3358.9,299.2 3361.1,298.5 3363.4,298.0 3365.6,297.7 3367.8,297.7 3370.0,297.9 3372.3,298.4 3374.5,299.1 3376.7,300.0 3378.9,301.0 3381.2,301.9 3383.4,302.9 3385.6,303.7 3387.8,304.3 3390.1,304.7 3392.3,304.9" fill="none" stroke="#eee" stroke-width="1.8" stroke-linecap="butt" stroke-linejoin="round"/>
<polyline points="3214.2,306.1 3216.4,304.0 3218.7,302.0 3220.9,300.2 3223.1,298.6 3225.3,297.5 3227.6,296.7 3229.8,296.4 3232.0,296.6 3234.2,297.2 3236.5,298.3 3238.7,299.7 3240.9,301.4 3243.1,303.4 3245.4,305.5 3247.6,307.6 3249.8,309.6 3252.0,311.5 3254.3,313.1 3256.5,314.4 3258.7,315.2 3261.0,315.7 3263.2,315.6 3265.4,315.1 3267.6,314.2 3269.9,312.9 3272.1,311.2 3274.3,309.3 3276.5,307.3 3278.8,305.2 3281.0,303.1 3283.2,301.2 3285.4,299.5 3287.7,298.1 3289.9,297.1 3292.1,296.5 3294.3,296.4 3296.6,296.8 3298.8,297.6 3301.0,298.8 3303.2,300.4 3305.5,302.2 3307.7,304.3 3309.9,306.4 3312.2,308.5 3314.4,310.4 3316.6,312.2 3318.8,313.7 3321.1,314.8 3323.3,315.5 3325.5,315.7 3327.7,315.5 3330.0,314.8 3332.2,313.7 3334.4,312.2 3336.6,310.4 3338.9,308.5 3341.1,306.4 3343.3,304.3 3345.5,302.2 3347.8,300.4 3350.0,298.8 3352.2,297.6 3354.5,296.8 3356.7,296.4 3358.9,296.5 3361.1,297.1 3363.4,298.1 3365.6,299.5 3367.8,301.2 3370.0,303.1 3372.3,305.2 3374.5,307.3 3376.7,309.3 3378.9,311.2 3381.2,312.9 3383.4,314.2 3385.6,315.1 3387.8,315.6 3390.1,315.7 3392.3,315.2" fill="none" stroke="#2a7e2a" stroke-width="1.0" stroke-linecap="butt" stroke-linejoin="round"/>
<polyline points="3214.2,297.7 3216.4,296.9 3218.7,296.5 3220.9,296.5 3223.1,297.0 3225.3,298.0 3227.6,299.3 3229.8,301.0 3232.0,302.9 3234.2,305.0 3236.5,307.1 3238.7,309.1 3240.9,311.1 3243.1,312.7 3245.4,314.1 3247.6,315.1 3249.8,315.6 3252.0,315.7 3254.3,315.3 3256.5,314.5 3258.7,313.2 3261.0,311.6 3263.2,309.8 3265.4,307.8 3267.6,305.7 3269.9,303.6 3272.1,301.6 3274.3,299.8 3276.5,298.4 3278.8,297.3 3281.0,296.6 3283.2,296.4 3285.4,296.7 3287.7,297.4 3289.9,298.5 3292.1,300.0 3294.3,301.8 3296.6,303.8 3298.8,305.9 3301.0,308.0 3303.2,310.0 3305.5,311.8 3307.7,313.4 3309.9,314.6 3312.2,315.3 3314.4,315.7 3316.6,315.6 3318.8,315.0 3321.1,314.0 3323.3,312.6 3325.5,310.9 3327.7,308.9 3330.0,306.9 3332.2,304.8 3334.4,302.7 3336.6,300.8 3338.9,299.2 3341.1,297.9 3343.3,297.0 3345.5,296.5 3347.8,296.5 3350.0,296.9 3352.2,297.8 3354.5,299.1 3356.7,300.7 3358.9,302.6 3361.1,304.7 3363.4,306.8 3365.6,308.8 3367.8,310.8 3370.0,312.5 3372.3,313.9 3374.5,314.9 3376.7,315.5 3378.9,315.7 3381.2,315.4 3383.4,314.6 3385.6,313.4 3387.8,311.9 3390.1,310.1 3392.3,308.1" fill="none" stroke="#2a7e2a" stroke-width="1.0" stroke-linecap="butt" stroke-linejoin="round"/>
<polyline points="3214.2,297.7 3216.4,299.0 3218.7,300.6 3220.9,302.4 3223.1,304.5 3225.3,306.6 3227.6,308.7 3229.8,310.6 3232.0,312.4 3234.2,313.8 3236.5,314.9 3238.7,315.5 3240.9,315.7 3243.1,315.4 3245.4,314.7 3247.6,313.6 3249.8,312.0 3252.0,310.3 3254.3,308.3 3256.5,306.2 3258.7,304.1 3261.0,302.0 3263.2,300.2 3265.4,298.7 3267.6,297.5 3269.9,296.7 3272.1,296.4 3274.3,296.6 3276.5,297.2 3278.8,298.2 3281.0,299.6 3283.2,301.3 3285.4,303.3 3287.7,305.4 3289.9,307.5 3292.1,309.5 3294.3,311.4 3296.6,313.0 3298.8,314.3 3301.0,315.2 3303.2,315.6 3305.5,315.6 3307.7,315.2 3309.9,314.3 3312.2,312.9 3314.4,311.3 3316.6,309.4 3318.8,307.4 3321.1,305.3 3323.3,303.2 3325.5,301.2 3327.7,299.5 3330.0,298.1 3332.2,297.1 3334.4,296.6 3336.6,296.4 3338.9,296.8 3341.1,297.6 3343.3,298.8 3345.5,300.3 3347.8,302.1 3350.0,304.2 3352.2,306.3 3354.5,308.4 3356.7,310.3 3358.9,312.1 3361.1,313.6 3363.4,314.7 3365.6,315.4 3367.8,315.7 3370.0,315.5 3372.3,314.8 3374.5,313.7 3376.7,312.3 3378.9,310.5 3381.2,308.6 3383.4,306.5 3385.6,304.4 3387.8,302.3 3390.1,300.5 3392.3,298.9" fill="none" stroke="#2a7e2a" stroke-width="1.0" stroke-linecap="butt" stroke-linejoin="round"/>
<polyline points="3214.2,306.1 3216.4,308.2 3218.7,310.2 3220.9,312.0 3223.1,313.5 3225.3,314.6 3227.6,315.4 3229.8,315.7 3232.0,315.5 3234.2,314.9 3236.5,313.9 3238.7,312.4 3240.9,310.7 3243.1,308.7 3245.4,306.7 3247.6,304.6 3249.8,302.5 3252.0,300.6 3254.3,299.0 3256.5,297.8 3258.7,296.9 3261.0,296.5 3263.2,296.5 3265.4,297.0 3267.6,297.9 3269.9,299.2 3272.1,300.9 3274.3,302.8 3276.5,304.9 3278.8,307.0 3281.0,309.0 3283.2,311.0 3285.4,312.7 3287.7,314.0 3289.9,315.0 3292.1,315.6 3294.3,315.7 3296.6,315.3 3298.8,314.5 3301.0,313.3 3303.2,311.7 3305.5,309.9 3307.7,307.9 3309.9,305.8 3312.2,303.7 3314.4,301.7 3316.6,299.9 3318.8,298.4 3321.1,297.3 3323.3,296.7 3325.5,296.4 3327.7,296.7 3330.0,297.3 3332.2,298.4 3334.4,299.9 3336.6,301.7 3338.9,303.7 3341.1,305.8 3343.3,307.9 3345.5,309.9 3347.8,311.7 3350.0,313.3 3352.2,314.5 3354.5,315.3 3356.7,315.7 3358.9,315.6 3361.1,315.0 3363.4,314.0 3365.6,312.7 3367.8,311.0 3370.0,309.0 3372.3,307.0 3374.5,304.9 3376.7,302.8 3378.9,300.9 3381.2,299.2 3383.4,297.9 3385.6,297.0 3387.8,296.5 3390.1,296.5 3392.3,296.9" fill="none" stroke="#2a7e2a" stroke-width="1.0" stroke-linecap="butt" stroke-linejoin="round"/>
<polyline points="3214.2,314.4 3216.4,315.3 3218.7,315.7 3220.9,315.6 3223.1,315.1 3225.3,314.1 3227.6,312.8 3229.8,311.1 3232.0,309.2 3234.2,307.2 3236.5,305.1 3238.7,303.0 3240.9,301.1 3243.1,299.4 3245.4,298.0 3247.6,297.1 3249.8,296.5 3252.0,296.4 3254.3,296.8 3256.5,297.7 3258.7,298.9 3261.0,300.5 3263.2,302.3 3265.4,304.4 3267.6,306.5 3269.9,308.6 3272.1,310.5 3274.3,312.3 3276.5,313.7 3278.8,314.8 3281.0,315.5 3283.2,315.7 3285.4,315.4 3287.7,314.7 3289.9,313.6 3292.1,312.1 3294.3,310.3 3296.6,308.4 3298.8,306.3 3301.0,304.2 3303.2,302.1 3305.5,300.3 3307.7,298.8 3309.9,297.6 3312.2,296.8 3314.4,296.4 3316.6,296.6 3318.8,297.1 3321.1,298.1 3323.3,299.5 3325.5,301.2 3327.7,303.2 3330.0,305.3 3332.2,307.4 3334.4,309.4 3336.6,311.3 3338.9,312.9 3341.1,314.3 3343.3,315.2 3345.5,315.6 3347.8,315.6 3350.0,315.2 3352.2,314.3 3354.5,313.0 3356.7,311.4 3358.9,309.5 3361.1,307.5 3363.4,305.4 3365.6,303.3 3367.8,301.3 3370.0,299.6 3372.3,298.2 3374.5,297.2 3376.7,296.6 3378.9,296.4 3381.2,296.7 3383.4,297.5 3385.6,298.7 3387.8,300.2 3390.1,302.0 3392.3,304.1" fill="none" stroke="#2a7e2a" stroke-width="1.0" stroke-linecap="butt" stroke-linejoin="round"/>
<polyline points="3214.2,314.4 3216.4,313.2 3218.7,311.6 3220.9,309.7 3223.1,307.7 3225.3,305.6 3227.6,303.5 3229.8,301.5 3232.0,299.8 3234.2,298.3 3236.5,297.3 3238.7,296.6 3240.9,296.4 3243.1,296.7 3245.4,297.4 3247.6,298.6 3249.8,300.1 3252.0,301.9 3254.3,303.9 3256.5,306.0 3258.7,308.1 3261.0,310.1 3263.2,311.9 3265.4,313.4 3267.6,314.6 3269.9,315.4 3272.1,315.7 3274.3,315.5 3276.5,314.9 3278.8,313.9 3281.0,312.5 3283.2,310.8 3285.4,308.8 3287.7,306.8 3289.9,304.7 3292.1,302.6 3294.3,300.7 3296.6,299.1 3298.8,297.8 3301.0,296.9 3303.2,296.5 3305.5,296.5 3307.7,297.0 3309.9,297.9 3312.2,299.2 3314.4,300.8 3316.6,302.7 3318.8,304.8 3321.1,306.9 3323.3,308.9 3325.5,310.9 3327.7,312.6 3330.0,314.0 3332.2,315.0 3334.4,315.6 3336.6,315.7 3338.9,315.3 3341.1,314.6 3343.3,313.4 3345.5,311.8 3347.8,310.0 3350.0,308.0 3352.2,305.9 3354.5,303.8 3356.7,301.8 3358.9,300.0 3361.1,298.5 3363.4,297.4 3365.6,296.7 3367.8,296.4 3370.0,296.6 3372.3,297.3 3374.5,298.4 3376.7,299.8 3378.9,301.6 3381.2,303.6 3383.4,305.7 3385.6,307.8 3387.8,309.8 3390.1,311.6 3392.3,313.2" fill="none" stroke="#2a7e2a" stroke-width="1.0" stroke-linecap="butt" stroke-linejoin="round"/>
<polyline points="3246.3,312.1 3253.4,315.7 3260.5,312.1" fill="none" stroke="#2040d0" stroke-width="2.2" stroke-linecap="butt" stroke-linejoin="round"/>
<polyline points="3296.1,312.1 3303.2,315.7 3310.4,312.1" fill="none" stroke="#2040d0" stroke-width="2.2" stroke-linecap="butt" stroke-linejoin="round"/>
<rect x="3214.2" y="195.2" width="178.1" height="120.5" fill="none" stroke="#000" stroke-width="1.2"/>
<line x1="3211.7" y1="315.7" x2="3214.2" y2="315.7" stroke="#000" stroke-width="1" stroke-linecap="butt"/>
<text x="3210.2" y="320.7" font-size="15" text-anchor="end" fill="#000" font-family="Liberation Serif">0</text>
<line x1="3211.7" y1="255.4" x2="3214.2" y2="255.4" stroke="#000" stroke-width="1" stroke-linecap="butt"/>
<text x="3210.2" y="260.4" font-size="15" text-anchor="end" fill="#000" font-family="Liberation Serif">5</text>
<line x1="3211.7" y1="195.2" x2="3214.2" y2="195.2" stroke="#000" stroke-width="1" stroke-linecap="butt"/>
<text x="3210.2" y="200.2" font-size="15" text-anchor="end" fill="#000" font-family="Liberation Serif">10</text>
<line x1="3214.2" y1="315.7" x2="3214.2" y2="318.2" stroke="#000" stroke-width="1" stroke-linecap="butt"/>
<line x1="3340.8" y1="315.7" x2="3340.8" y2="318.2" stroke="#000" stroke-width="1" stroke-linecap="butt"/>
<line x1="3392.3" y1="315.7" x2="3392.3" y2="318.2" stroke="#000" stroke-width="1" stroke-linecap="butt"/>
<text x="3218.2" y="211.2" font-size="15" text-anchor="start" fill="#000" font-family="Liberation Serif">(c)</text>
<text x="3225.7" y="329.7" font-size="16" text-anchor="end" fill="#000" font-family="Liberation Serif" transform="rotate(-36 3225.7 329.7)">[1,1,2]</text>
<text x="3352.3" y="329.7" font-size="16" text-anchor="end" fill="#000" font-family="Liberation Serif" transform="rotate(-36 3352.3 329.7)">[0,0,2]</text>
<text x="3403.8" y="329.7" font-size="16" text-anchor="end" fill="#000" font-family="Liberation Serif" transform="rotate(-36 3403.8 329.7)">[0,0,0]</text>
<text x="3303.2" y="364.2" font-size="15.5" text-anchor="middle" fill="#000" font-family="Liberation Serif"><tspan font-weight="bold">Q</tspan> (r.l.u.)</text>
<text x="3187.2" y="255.4" font-size="15.5" text-anchor="middle" fill="#000" font-family="Liberation Serif" transform="rotate(-90 3187.2 255.4)">ℏ<tspan font-style="italic">ω</tspan>/<tspan fill="#e8202a" font-style="italic">J</tspan><tspan dy="3" font-size="10" fill="#e8202a">1</tspan></text>
<rect x="3439" y="195.2" width="177.5" height="120.5" fill="#808080"/>
<line x1="3565.2" y1="195.2" x2="3565.2" y2="315.7" stroke="#707070" stroke-width="0.8" stroke-linecap="butt"/>
<line x1="3439" y1="255.4" x2="3616.5" y2="255.4" stroke="#707070" stroke-width="0.8" stroke-linecap="butt"/>
<line x1="3439" y1="243.4" x2="3616.5" y2="243.4" stroke="#2a7e2a" stroke-width="1.2" stroke-linecap="butt"/>
<line x1="3439" y1="278.9" x2="3616.5" y2="278.9" stroke="#2a7e2a" stroke-width="1.2" stroke-linecap="butt"/>
<polyline points="3439.0,300.0 3441.2,300.2 3443.4,300.6 3445.7,301.4 3447.9,302.3 3450.1,303.4 3452.3,304.6 3454.5,305.7 3456.8,306.8 3459.0,307.7 3461.2,308.5 3463.4,308.9 3465.6,309.1 3467.8,309.0 3470.1,308.7 3472.3,308.3 3474.5,307.7 3476.7,307.1 3478.9,306.4 3481.2,305.7 3483.4,305.0 3485.6,304.4 3487.8,304.0 3490.0,303.7 3492.2,303.6 3494.5,303.8 3496.7,304.3 3498.9,305.0 3501.1,305.9 3503.3,306.9 3505.6,307.8 3507.8,308.6 3510.0,309.3 3512.2,309.6 3514.4,309.7 3516.7,309.4 3518.9,308.9 3521.1,308.3 3523.3,307.4 3525.5,306.3 3527.8,305.2 3530.0,304.0 3532.2,302.8 3534.4,301.7 3536.6,300.8 3538.8,300.0 3541.1,299.3 3543.3,299.0 3545.5,298.8 3547.7,298.8 3549.9,298.5 3552.2,298.2 3554.4,297.8 3556.6,297.2 3558.8,296.7 3561.0,296.1 3563.2,295.5 3565.5,295.0 3567.7,294.6 3569.9,294.2 3572.1,294.1 3574.3,294.0 3576.6,294.1 3578.8,294.2 3581.0,294.5 3583.2,294.8 3585.4,295.1 3587.7,295.4 3589.9,295.7 3592.1,296.0 3594.3,296.2 3596.5,296.4 3598.8,296.4 3601.0,296.5 3603.2,296.9 3605.4,297.3 3607.6,297.9 3609.8,298.5 3612.1,299.0 3614.3,299.3 3616.5,299.4" fill="none" stroke="#000" stroke-width="5.0" stroke-linecap="butt" stroke-linejoin="round"/>
<polyline points="3439.0,300.0 3441.2,300.2 3443.4,300.6 3445.7,301.4 3447.9,302.3 3450.1,303.4 3452.3,304.6 3454.5,305.7 3456.8,306.8 3459.0,307.7 3461.2,308.5 3463.4,308.9 3465.6,309.1 3467.8,309.0 3470.1,308.7 3472.3,308.3 3474.5,307.7 3476.7,307.1 3478.9,306.4 3481.2,305.7 3483.4,305.0 3485.6,304.4 3487.8,304.0 3490.0,303.7 3492.2,303.6 3494.5,303.8 3496.7,304.3 3498.9,305.0 3501.1,305.9 3503.3,306.9 3505.6,307.8 3507.8,308.6 3510.0,309.3 3512.2,309.6 3514.4,309.7 3516.7,309.4 3518.9,308.9 3521.1,308.3 3523.3,307.4 3525.5,306.3 3527.8,305.2 3530.0,304.0 3532.2,302.8 3534.4,301.7 3536.6,300.8 3538.8,300.0 3541.1,299.3 3543.3,299.0 3545.5,298.8 3547.7,298.8 3549.9,298.5 3552.2,298.2 3554.4,297.8 3556.6,297.2 3558.8,296.7 3561.0,296.1 3563.2,295.5 3565.5,295.0 3567.7,294.6 3569.9,294.2 3572.1,294.1 3574.3,294.0 3576.6,294.1 3578.8,294.2 3581.0,294.5 3583.2,294.8 3585.4,295.1 3587.7,295.4 3589.9,295.7 3592.1,296.0 3594.3,296.2 3596.5,296.4 3598.8,296.4 3601.0,296.5 3603.2,296.9 3605.4,297.3 3607.6,297.9 3609.8,298.5 3612.1,299.0 3614.3,299.3 3616.5,299.4" fill="none" stroke="#b84010" stroke-width="1.8" stroke-linecap="butt" stroke-linejoin="round"/>
<polyline points="3439.0,297.0 3441.2,297.2 3443.4,297.6 3445.7,298.3 3447.9,299.3 3450.1,300.4 3452.3,301.5 3454.5,302.7 3456.8,303.8 3459.0,304.7 3461.2,305.5 3463.4,305.9 3465.6,306.1 3467.8,306.0 3470.1,305.7 3472.3,305.3 3474.5,304.7 3476.7,304.1 3478.9,303.3 3481.2,302.6 3483.4,302.0 3485.6,301.4 3487.8,301.0 3490.0,300.7 3492.2,300.6 3494.5,300.8 3496.7,301.3 3498.9,302.0 3501.1,302.9 3503.3,303.8 3505.6,304.8 3507.8,305.6 3510.0,306.3 3512.2,306.6 3514.4,306.6 3516.7,306.4 3518.9,305.9 3521.1,305.2 3523.3,304.4 3525.5,303.3 3527.8,302.2 3530.0,301.0 3532.2,299.8 3534.4,298.7 3536.6,297.8 3538.8,296.9 3541.1,296.3 3543.3,295.9 3545.5,295.8 3547.7,295.7 3549.9,295.5 3552.2,295.2 3554.4,294.7 3556.6,294.2 3558.8,293.6 3561.0,293.1 3563.2,292.5 3565.5,292.0 3567.7,291.5 3569.9,291.2 3572.1,291.0 3574.3,291.0 3576.6,291.1 3578.8,291.2 3581.0,291.5 3583.2,291.7 3585.4,292.1 3587.7,292.4 3589.9,292.7 3592.1,293.0 3594.3,293.2 3596.5,293.4 3598.8,293.4 3601.0,293.5 3603.2,293.8 3605.4,294.3 3607.6,294.9 3609.8,295.5 3612.1,296.0 3614.3,296.3 3616.5,296.4" fill="none" stroke="#2a7e2a" stroke-width="1.0" stroke-linecap="butt" stroke-linejoin="round"/>
<rect x="3439" y="195.2" width="177.5" height="120.5" fill="none" stroke="#000" stroke-width="1.2"/>
<line x1="3436.5" y1="315.7" x2="3439" y2="315.7" stroke="#000" stroke-width="1" stroke-linecap="butt"/>
<text x="3435" y="320.7" font-size="15" text-anchor="end" fill="#000" font-family="Liberation Serif">0</text>
<line x1="3436.5" y1="255.4" x2="3439" y2="255.4" stroke="#000" stroke-width="1" stroke-linecap="butt"/>
<text x="3435" y="260.4" font-size="15" text-anchor="end" fill="#000" font-family="Liberation Serif">5</text>
<line x1="3436.5" y1="195.2" x2="3439" y2="195.2" stroke="#000" stroke-width="1" stroke-linecap="butt"/>
<text x="3435" y="200.2" font-size="15" text-anchor="end" fill="#000" font-family="Liberation Serif">10</text>
<line x1="3439" y1="315.7" x2="3439" y2="318.2" stroke="#000" stroke-width="1" stroke-linecap="butt"/>
<line x1="3565.2" y1="315.7" x2="3565.2" y2="318.2" stroke="#000" stroke-width="1" stroke-linecap="butt"/>
<line x1="3616.5" y1="315.7" x2="3616.5" y2="318.2" stroke="#000" stroke-width="1" stroke-linecap="butt"/>
<text x="3443" y="211.2" font-size="15" text-anchor="start" fill="#000" font-family="Liberation Serif">(d)</text>
<text x="3450.5" y="329.7" font-size="16" text-anchor="end" fill="#000" font-family="Liberation Serif" transform="rotate(-36 3450.5 329.7)">[1,1,2]</text>
<text x="3576.7" y="329.7" font-size="16" text-anchor="end" fill="#000" font-family="Liberation Serif" transform="rotate(-36 3576.7 329.7)">[0,0,2]</text>
<text x="3628" y="329.7" font-size="16" text-anchor="end" fill="#000" font-family="Liberation Serif" transform="rotate(-36 3628 329.7)">[0,0,0]</text>
<text x="3527.8" y="364.2" font-size="15.5" text-anchor="middle" fill="#000" font-family="Liberation Serif"><tspan font-weight="bold">Q</tspan> (r.l.u.)</text>
<text x="3412" y="255.4" font-size="15.5" text-anchor="middle" fill="#000" font-family="Liberation Serif" transform="rotate(-90 3412 255.4)">ℏ<tspan font-style="italic">ω</tspan>/<tspan fill="#e8202a" font-style="italic">J</tspan><tspan dy="3" font-size="10" fill="#e8202a">1</tspan></text>
<rect x="3214.2" y="385.5" width="178.1" height="120.5" fill="#808080"/>
<line x1="3340.8" y1="385.5" x2="3340.8" y2="506" stroke="#707070" stroke-width="0.8" stroke-linecap="butt"/>
<line x1="3214.2" y1="445.8" x2="3392.3" y2="445.8" stroke="#707070" stroke-width="0.8" stroke-linecap="butt"/>
<polyline points="3214.2,461.4 3217.2,462.7 3220.1,464.1 3223.1,465.4 3226.1,466.7 3229.0,467.9 3232.0,469.1 3235.0,470.3 3237.9,471.5 3240.9,472.5 3243.9,473.6 3246.9,474.5 3249.8,475.4 3252.8,476.2 3255.8,476.9 3258.7,477.6 3261.7,478.1 3264.7,478.6 3267.6,478.9 3270.6,479.2 3273.6,479.4 3276.5,479.5 3279.5,479.5 3282.5,479.4 3285.4,479.1 3288.4,478.8 3291.4,478.4 3294.3,477.9 3297.3,477.4 3300.3,476.7 3303.2,475.9 3306.2,475.1 3309.2,474.2 3312.2,473.2 3315.1,472.2 3318.1,471.1 3321.1,469.9 3324.0,468.7 3327.0,467.5 3330.0,466.2 3332.9,464.9 3335.9,463.6 3338.9,462.3 3341.8,461.5 3344.8,462.7 3347.8,465.4 3350.7,469.3 3353.7,474.5 3356.7,480.7 3359.6,487.7 3362.6,495.4 3365.6,503.3 3368.6,500.6 3371.5,492.7 3374.5,485.3 3377.5,478.5 3380.4,472.6 3383.4,467.8 3386.4,464.3 3389.3,462.1 3392.3,461.4" fill="none" stroke="#2a7e2a" stroke-width="1.1" stroke-linecap="butt" stroke-linejoin="round"/>
<polyline points="3214.2,506.0 3218.4,502.1 3222.6,498.2 3226.9,494.5 3231.1,490.8 3235.3,487.3 3239.5,484.0 3243.7,481.0 3248.0,478.2 3252.2,475.8 3256.4,473.6 3260.6,471.9 3264.9,470.5 3269.1,469.5 3273.3,468.8 3277.5,468.6 3281.7,468.8 3286.0,469.5 3290.2,470.5 3294.4,471.9 3298.6,473.6 3302.8,475.8 3307.1,478.2 3311.3,481.0 3315.5,484.0 3319.7,487.3 3323.9,490.8 3328.2,494.5 3332.4,498.2 3336.6,502.1 3340.8,506.0" fill="none" stroke="#fff" stroke-width="4.5" stroke-linecap="butt" stroke-linejoin="round"/>
<polyline points="3214.2,506.0 3218.4,502.1 3222.6,498.2 3226.9,494.5 3231.1,490.8 3235.3,487.3 3239.5,484.0 3243.7,481.0 3248.0,478.2 3252.2,475.8 3256.4,473.6 3260.6,471.9 3264.9,470.5 3269.1,469.5 3273.3,468.8 3277.5,468.6 3281.7,468.8 3286.0,469.5 3290.2,470.5 3294.4,471.9 3298.6,473.6 3302.8,475.8 3307.1,478.2 3311.3,481.0 3315.5,484.0 3319.7,487.3 3323.9,490.8 3328.2,494.5 3332.4,498.2 3336.6,502.1 3340.8,506.0" fill="none" stroke="#2a7e2a" stroke-width="1.0" stroke-linecap="butt" stroke-linejoin="round"/>
<polyline points="3340.8,506.0 3342.5,501.3 3344.3,496.7 3346.0,492.2 3347.7,487.9 3349.4,483.7 3351.1,479.8 3352.8,476.2 3354.6,472.9 3356.3,469.9 3358.0,467.4 3359.7,465.3 3361.4,463.6 3363.1,462.4 3364.8,461.7 3366.6,461.4 3368.3,461.7 3370.0,462.4 3371.7,463.6 3373.4,465.3 3375.1,467.4 3376.9,469.9 3378.6,472.9 3380.3,476.2 3382.0,479.8 3383.7,483.7 3385.4,487.9 3387.2,492.2 3388.9,496.7 3390.6,501.3 3392.3,506.0" fill="none" stroke="#fff" stroke-width="4.5" stroke-linecap="butt" stroke-linejoin="round"/>
<polyline points="3340.8,506.0 3342.5,501.3 3344.3,496.7 3346.0,492.2 3347.7,487.9 3349.4,483.7 3351.1,479.8 3352.8,476.2 3354.6,472.9 3356.3,469.9 3358.0,467.4 3359.7,465.3 3361.4,463.6 3363.1,462.4 3364.8,461.7 3366.6,461.4 3368.3,461.7 3370.0,462.4 3371.7,463.6 3373.4,465.3 3375.1,467.4 3376.9,469.9 3378.6,472.9 3380.3,476.2 3382.0,479.8 3383.7,483.7 3385.4,487.9 3387.2,492.2 3388.9,496.7 3390.6,501.3 3392.3,506.0" fill="none" stroke="#2a7e2a" stroke-width="1.0" stroke-linecap="butt" stroke-linejoin="round"/>
<polyline points="3340.8,461.4 3365.6,506.0 3392.3,461.4" fill="none" stroke="#2a7e2a" stroke-width="1.0" stroke-linecap="butt" stroke-linejoin="round"/>
<polyline points="3214.2,506.0 3214.5,505.6 3214.8,505.2 3215.1,504.9 3215.4,504.5 3215.7,504.2 3216.0,503.9 3216.3,503.6 3216.6,503.3 3216.9,503.1 3217.2,502.9 3217.5,502.7 3217.8,502.6 3218.1,502.5 3218.4,502.4 3218.7,502.4 3218.9,502.4 3219.2,502.5 3219.5,502.6 3219.8,502.7 3220.1,502.9 3220.4,503.1 3220.7,503.3 3221.0,503.6 3221.3,503.9 3221.6,504.2 3221.9,504.5 3222.2,504.9 3222.5,505.2 3222.8,505.6 3223.1,506.0" fill="none" stroke="#2040c0" stroke-width="3" stroke-linecap="butt" stroke-linejoin="round"/>
<rect x="3214.2" y="385.5" width="178.1" height="120.5" fill="none" stroke="#000" stroke-width="1.2"/>
<line x1="3211.7" y1="506" x2="3214.2" y2="506" stroke="#000" stroke-width="1" stroke-linecap="butt"/>
<text x="3210.2" y="511" font-size="15" text-anchor="end" fill="#000" font-family="Liberation Serif">0</text>
<line x1="3211.7" y1="445.8" x2="3214.2" y2="445.8" stroke="#000" stroke-width="1" stroke-linecap="butt"/>
<text x="3210.2" y="450.8" font-size="15" text-anchor="end" fill="#000" font-family="Liberation Serif">5</text>
<line x1="3211.7" y1="385.5" x2="3214.2" y2="385.5" stroke="#000" stroke-width="1" stroke-linecap="butt"/>
<text x="3210.2" y="390.5" font-size="15" text-anchor="end" fill="#000" font-family="Liberation Serif">10</text>
<line x1="3214.2" y1="506" x2="3214.2" y2="508.5" stroke="#000" stroke-width="1" stroke-linecap="butt"/>
<line x1="3340.8" y1="506" x2="3340.8" y2="508.5" stroke="#000" stroke-width="1" stroke-linecap="butt"/>
<line x1="3392.3" y1="506" x2="3392.3" y2="508.5" stroke="#000" stroke-width="1" stroke-linecap="butt"/>
<text x="3218.2" y="401.5" font-size="15" text-anchor="start" fill="#000" font-family="Liberation Serif">(e)</text>
<text x="3225.7" y="520" font-size="16" text-anchor="end" fill="#000" font-family="Liberation Serif" transform="rotate(-36 3225.7 520)">[1,1,2]</text>
<text x="3352.3" y="520" font-size="16" text-anchor="end" fill="#000" font-family="Liberation Serif" transform="rotate(-36 3352.3 520)">[0,0,2]</text>
<text x="3403.8" y="520" font-size="16" text-anchor="end" fill="#000" font-family="Liberation Serif" transform="rotate(-36 3403.8 520)">[0,0,0]</text>
<text x="3303.2" y="554.5" font-size="15.5" text-anchor="middle" fill="#000" font-family="Liberation Serif"><tspan font-weight="bold">Q</tspan> (r.l.u.)</text>
<text x="3187.2" y="445.8" font-size="15.5" text-anchor="middle" fill="#000" font-family="Liberation Serif" transform="rotate(-90 3187.2 445.8)">ℏ<tspan font-style="italic">ω</tspan>/<tspan fill="#e8202a" font-style="italic">J</tspan><tspan dy="3" font-size="10" fill="#e8202a">1</tspan></text>
<rect x="3439" y="385.5" width="177.5" height="120.5" fill="#808080"/>
<line x1="3565.2" y1="385.5" x2="3565.2" y2="506" stroke="#707070" stroke-width="0.8" stroke-linecap="butt"/>
<line x1="3439" y1="445.8" x2="3616.5" y2="445.8" stroke="#707070" stroke-width="0.8" stroke-linecap="butt"/>
<line x1="3439" y1="396.3" x2="3616.5" y2="396.3" stroke="#2a7e2a" stroke-width="1.2" stroke-linecap="butt"/>
<line x1="3439" y1="413.2" x2="3616.5" y2="413.2" stroke="#2a7e2a" stroke-width="1.2" stroke-linecap="butt"/>
<line x1="3439" y1="430.7" x2="3616.5" y2="430.7" stroke="#2a7e2a" stroke-width="1.2" stroke-linecap="butt"/>
<polyline points="3439.0,444.8 3442.0,444.6 3444.9,444.3 3447.9,444.1 3450.8,443.9 3453.8,443.7 3456.8,443.5 3459.7,443.3 3462.7,443.1 3465.6,442.9 3468.6,442.8 3471.5,442.6 3474.5,442.5 3477.5,442.3 3480.4,442.2 3483.4,442.1 3486.3,442.0 3489.3,441.9 3492.2,441.9 3495.2,441.8 3498.2,441.8 3501.1,441.8 3504.1,441.8 3507.0,441.8 3510.0,441.8 3513.0,441.9 3515.9,441.9 3518.9,442.0 3521.8,442.1 3524.8,442.2 3527.8,442.4 3530.7,442.5 3533.7,442.7 3536.6,442.8 3539.6,443.0 3542.5,443.2 3545.5,443.4 3548.5,443.6 3551.4,443.8 3554.4,444.0 3557.3,444.2 3560.3,444.4 3563.2,444.6" fill="none" stroke="#000" stroke-width="3.5" stroke-linecap="butt" stroke-linejoin="round"/>
<polyline points="3439.0,444.8 3442.0,444.6 3444.9,444.3 3447.9,444.1 3450.8,443.9 3453.8,443.7 3456.8,443.5 3459.7,443.3 3462.7,443.1 3465.6,442.9 3468.6,442.8 3471.5,442.6 3474.5,442.5 3477.5,442.3 3480.4,442.2 3483.4,442.1 3486.3,442.0 3489.3,441.9 3492.2,441.9 3495.2,441.8 3498.2,441.8 3501.1,441.8 3504.1,441.8 3507.0,441.8 3510.0,441.8 3513.0,441.9 3515.9,441.9 3518.9,442.0 3521.8,442.1 3524.8,442.2 3527.8,442.4 3530.7,442.5 3533.7,442.7 3536.6,442.8 3539.6,443.0 3542.5,443.2 3545.5,443.4 3548.5,443.6 3551.4,443.8 3554.4,444.0 3557.3,444.2 3560.3,444.4 3563.2,444.6" fill="none" stroke="#2a7e2a" stroke-width="0.9" stroke-linecap="butt" stroke-linejoin="round"/>
<polyline points="3565.2,443.3 3566.9,442.2 3568.6,441.2 3570.3,440.4 3572.0,439.9 3573.8,439.7 3575.5,439.9 3577.2,440.4 3578.9,441.2 3580.6,442.2 3582.3,443.3 3584.0,444.5 3585.7,445.5 3587.4,446.3 3589.1,446.8 3590.9,447.0 3592.6,446.8 3594.3,446.3 3596.0,445.5 3597.7,444.5 3599.4,443.3 3601.1,442.2 3602.8,441.2 3604.5,440.4 3606.2,439.9 3608.0,439.7 3609.7,439.9 3611.4,440.4 3613.1,441.2 3614.8,442.2 3616.5,443.3" fill="none" stroke="#2a7e2a" stroke-width="1.0" stroke-linecap="butt" stroke-linejoin="round"/>
<polyline points="3565.2,443.3 3566.9,444.5 3568.6,445.5 3570.3,446.3 3572.0,446.8 3573.8,447.0 3575.5,446.8 3577.2,446.3 3578.9,445.5 3580.6,444.5 3582.3,443.3 3584.0,442.2 3585.7,441.2 3587.4,440.4 3589.1,439.9 3590.9,439.7 3592.6,439.9 3594.3,440.4 3596.0,441.2 3597.7,442.2 3599.4,443.3 3601.1,444.5 3602.8,445.5 3604.5,446.3 3606.2,446.8 3608.0,447.0 3609.7,446.8 3611.4,446.3 3613.1,445.5 3614.8,444.5 3616.5,443.3" fill="none" stroke="#2a7e2a" stroke-width="1.0" stroke-linecap="butt" stroke-linejoin="round"/>
<polyline points="3439.0,461.4 3442.0,462.7 3444.9,464.1 3447.9,465.4 3450.8,466.7 3453.8,467.9 3456.8,469.1 3459.7,470.3 3462.7,471.5 3465.6,472.5 3468.6,473.6 3471.5,474.5 3474.5,475.4 3477.5,476.2 3480.4,476.9 3483.4,477.6 3486.3,478.1 3489.3,478.6 3492.2,478.9 3495.2,479.2 3498.2,479.4 3501.1,479.5 3504.1,479.5 3507.0,479.4 3510.0,479.1 3513.0,478.8 3515.9,478.4 3518.9,477.9 3521.8,477.4 3524.8,476.7 3527.8,475.9 3530.7,475.1 3533.7,474.2 3536.6,473.2 3539.6,472.2 3542.5,471.1 3545.5,469.9 3548.5,468.7 3551.4,467.5 3554.4,466.2 3557.3,464.9 3560.3,463.6 3563.2,462.3 3566.2,461.5 3569.2,462.7 3572.1,465.4 3575.1,469.3 3578.0,474.5 3581.0,480.7 3584.0,487.7 3586.9,495.4 3589.9,503.3 3592.8,500.6 3595.8,492.7 3598.8,485.3 3601.7,478.5 3604.7,472.6 3607.6,467.8 3610.6,464.3 3613.5,462.1 3616.5,461.4" fill="none" stroke="#2a7e2a" stroke-width="1.1" stroke-linecap="butt" stroke-linejoin="round"/>
<polyline points="3439.0,506.0 3443.2,502.1 3447.4,498.2 3451.6,494.5 3455.8,490.8 3460.0,487.3 3464.2,484.0 3468.4,481.0 3472.7,478.2 3476.9,475.8 3481.1,473.6 3485.3,471.9 3489.5,470.5 3493.7,469.5 3497.9,468.8 3502.1,468.6 3506.3,468.8 3510.5,469.5 3514.7,470.5 3518.9,471.9 3523.1,473.6 3527.3,475.8 3531.5,478.2 3535.8,481.0 3540.0,484.0 3544.2,487.3 3548.4,490.8 3552.6,494.5 3556.8,498.2 3561.0,502.1 3565.2,506.0" fill="none" stroke="#000" stroke-width="4.8" stroke-linecap="butt" stroke-linejoin="round"/>
<polyline points="3439.0,506.0 3443.2,502.1 3447.4,498.2 3451.6,494.5 3455.8,490.8 3460.0,487.3 3464.2,484.0 3468.4,481.0 3472.7,478.2 3476.9,475.8 3481.1,473.6 3485.3,471.9 3489.5,470.5 3493.7,469.5 3497.9,468.8 3502.1,468.6 3506.3,468.8 3510.5,469.5 3514.7,470.5 3518.9,471.9 3523.1,473.6 3527.3,475.8 3531.5,478.2 3535.8,481.0 3540.0,484.0 3544.2,487.3 3548.4,490.8 3552.6,494.5 3556.8,498.2 3561.0,502.1 3565.2,506.0" fill="none" stroke="#7a3010" stroke-width="1.2" stroke-linecap="butt" stroke-linejoin="round"/>
<polyline points="3565.2,506.0 3566.9,501.2 3568.6,496.5 3570.3,491.9 3572.0,487.4 3573.8,483.1 3575.5,479.1 3577.2,475.4 3578.9,472.0 3580.6,469.0 3582.3,466.3 3584.0,464.2 3585.7,462.5 3587.4,461.2 3589.1,460.5 3590.9,460.2 3592.6,460.5 3594.3,461.2 3596.0,462.5 3597.7,464.2 3599.4,466.3 3601.1,469.0 3602.8,472.0 3604.5,475.4 3606.2,479.1 3608.0,483.1 3609.7,487.4 3611.4,491.9 3613.1,496.5 3614.8,501.2 3616.5,506.0" fill="none" stroke="#000" stroke-width="4.8" stroke-linecap="butt" stroke-linejoin="round"/>
<polyline points="3565.2,506.0 3566.9,501.2 3568.6,496.5 3570.3,491.9 3572.0,487.4 3573.8,483.1 3575.5,479.1 3577.2,475.4 3578.9,472.0 3580.6,469.0 3582.3,466.3 3584.0,464.2 3585.7,462.5 3587.4,461.2 3589.1,460.5 3590.9,460.2 3592.6,460.5 3594.3,461.2 3596.0,462.5 3597.7,464.2 3599.4,466.3 3601.1,469.0 3602.8,472.0 3604.5,475.4 3606.2,479.1 3608.0,483.1 3609.7,487.4 3611.4,491.9 3613.1,496.5 3614.8,501.2 3616.5,506.0" fill="none" stroke="#7a3010" stroke-width="1.2" stroke-linecap="butt" stroke-linejoin="round"/>
<polyline points="3565.2,461.4 3589.9,506.0 3616.5,461.4" fill="none" stroke="#2a7e2a" stroke-width="1.0" stroke-linecap="butt" stroke-linejoin="round"/>
<polyline points="3561.5,506.0 3561.7,505.4 3561.9,504.7 3562.2,504.1 3562.4,503.5 3562.7,503.0 3562.9,502.5 3563.1,502.0 3563.4,501.5 3563.6,501.1 3563.8,500.8 3564.1,500.5 3564.3,500.3 3564.6,500.1 3564.8,500.0 3565.0,500.0 3565.3,500.0 3565.5,500.1 3565.7,500.3 3566.0,500.5 3566.2,500.8 3566.4,501.1 3566.7,501.5 3566.9,502.0 3567.2,502.5 3567.4,503.0 3567.6,503.5 3567.9,504.1 3568.1,504.7 3568.3,505.4 3568.6,506.0" fill="none" stroke="#d05010" stroke-width="3" stroke-linecap="butt" stroke-linejoin="round"/>
<polyline points="3439.0,506.0 3439.2,505.5 3439.5,505.0 3439.7,504.5 3439.9,504.0 3440.2,503.6 3440.4,503.2 3440.7,502.8 3440.9,502.4 3441.1,502.1 3441.4,501.8 3441.6,501.6 3441.8,501.4 3442.1,501.3 3442.3,501.2 3442.6,501.2 3442.8,501.2 3443.0,501.3 3443.3,501.4 3443.5,501.6 3443.7,501.8 3444.0,502.1 3444.2,502.4 3444.4,502.8 3444.7,503.2 3444.9,503.6 3445.2,504.0 3445.4,504.5 3445.6,505.0 3445.9,505.5 3446.1,506.0" fill="none" stroke="#d05010" stroke-width="3" stroke-linecap="butt" stroke-linejoin="round"/>
<rect x="3439" y="385.5" width="177.5" height="120.5" fill="none" stroke="#000" stroke-width="1.2"/>
<line x1="3436.5" y1="506" x2="3439" y2="506" stroke="#000" stroke-width="1" stroke-linecap="butt"/>
<text x="3435" y="511" font-size="15" text-anchor="end" fill="#000" font-family="Liberation Serif">0</text>
<line x1="3436.5" y1="445.8" x2="3439" y2="445.8" stroke="#000" stroke-width="1" stroke-linecap="butt"/>
<text x="3435" y="450.8" font-size="15" text-anchor="end" fill="#000" font-family="Liberation Serif">5</text>
<line x1="3436.5" y1="385.5" x2="3439" y2="385.5" stroke="#000" stroke-width="1" stroke-linecap="butt"/>
<text x="3435" y="390.5" font-size="15" text-anchor="end" fill="#000" font-family="Liberation Serif">10</text>
<line x1="3439" y1="506" x2="3439" y2="508.5" stroke="#000" stroke-width="1" stroke-linecap="butt"/>
<line x1="3565.2" y1="506" x2="3565.2" y2="508.5" stroke="#000" stroke-width="1" stroke-linecap="butt"/>
<line x1="3616.5" y1="506" x2="3616.5" y2="508.5" stroke="#000" stroke-width="1" stroke-linecap="butt"/>
<text x="3443" y="401.5" font-size="15" text-anchor="start" fill="#000" font-family="Liberation Serif">(f)</text>
<text x="3450.5" y="520" font-size="16" text-anchor="end" fill="#000" font-family="Liberation Serif" transform="rotate(-36 3450.5 520)">[1,1,2]</text>
<text x="3576.7" y="520" font-size="16" text-anchor="end" fill="#000" font-family="Liberation Serif" transform="rotate(-36 3576.7 520)">[0,0,2]</text>
<text x="3628" y="520" font-size="16" text-anchor="end" fill="#000" font-family="Liberation Serif" transform="rotate(-36 3628 520)">[0,0,0]</text>
<text x="3527.8" y="554.5" font-size="15.5" text-anchor="middle" fill="#000" font-family="Liberation Serif"><tspan font-weight="bold">Q</tspan> (r.l.u.)</text>
<text x="3412" y="445.8" font-size="15.5" text-anchor="middle" fill="#000" font-family="Liberation Serif" transform="rotate(-90 3412 445.8)">ℏ<tspan font-style="italic">ω</tspan>/<tspan fill="#e8202a" font-style="italic">J</tspan><tspan dy="3" font-size="10" fill="#e8202a">1</tspan></text><line x1="4313.7" y1="421.6" x2="4313.7" y2="510.5" stroke="#e6e6e6" stroke-width="0.8" stroke-linecap="butt"/>
<line x1="4366.4" y1="421.6" x2="4366.4" y2="510.5" stroke="#e6e6e6" stroke-width="0.8" stroke-linecap="butt"/>
<line x1="4419" y1="421.6" x2="4419" y2="510.5" stroke="#e6e6e6" stroke-width="0.8" stroke-linecap="butt"/>
<line x1="4471.7" y1="421.6" x2="4471.7" y2="510.5" stroke="#e6e6e6" stroke-width="0.8" stroke-linecap="butt"/>
<line x1="4261" y1="430.6" x2="4524.4" y2="430.6" stroke="#e6e6e6" stroke-width="0.8" stroke-linecap="butt"/>
<line x1="4261" y1="447.4" x2="4524.4" y2="447.4" stroke="#e6e6e6" stroke-width="0.8" stroke-linecap="butt"/>
<line x1="4261" y1="464.2" x2="4524.4" y2="464.2" stroke="#e6e6e6" stroke-width="0.8" stroke-linecap="butt"/>
<line x1="4261" y1="481.1" x2="4524.4" y2="481.1" stroke="#e6e6e6" stroke-width="0.8" stroke-linecap="butt"/>
<line x1="4261" y1="497.9" x2="4524.4" y2="497.9" stroke="#e6e6e6" stroke-width="0.8" stroke-linecap="butt"/>
<polyline points="4261.0,489.5 4262.3,488.9 4263.6,488.3 4265.0,487.8 4266.3,487.3 4267.6,486.9 4268.9,486.6 4270.2,486.3 4271.5,486.2 4272.9,486.1 4274.2,486.2 4275.5,486.3 4276.8,486.6 4278.1,486.9 4279.4,487.3 4280.8,487.8 4282.1,488.3 4283.4,488.9 4284.7,489.5 4286.0,506.3 4287.3,506.3 4288.7,483.6 4290.0,481.4 4291.3,479.3 4292.6,477.1 4293.9,475.0 4295.2,472.8 4296.6,470.7 4297.9,468.5 4299.2,466.4 4300.5,462.6 4301.8,462.6 4303.1,466.8 4304.5,465.6 4305.8,464.4 4307.1,463.3 4308.4,462.3 4309.7,461.3 4311.0,460.3 4312.4,459.3 4313.7,458.5 4315.0,457.6 4316.3,456.8 4317.6,456.0 4318.9,455.2 4320.3,454.5 4321.6,453.8 4322.9,453.1 4324.2,452.5 4325.5,451.9 4326.9,451.3 4328.2,450.7 4329.5,450.2 4330.8,449.7 4332.1,449.2 4333.4,448.7 4334.8,448.2 4336.1,447.8 4337.4,447.4 4338.7,447.0 4340.0,446.6 4341.3,445.4 4342.7,444.4 4344.0,443.4 4345.3,442.4 4346.6,441.5 4347.9,440.6 4349.2,439.8 4350.6,439.0 4351.9,438.3 4353.2,437.6 4354.5,437.0 4355.8,436.3 4357.1,435.8 4358.5,435.2 4359.8,434.7 4361.1,434.2 4362.4,433.7 4363.7,433.3 4365.0,432.9 4366.4,432.5 4367.7,432.1 4369.0,431.7 4370.3,431.4 4371.6,431.1 4372.9,430.8 4374.3,430.5 4375.6,430.2 4376.9,430.0 4378.2,429.8 4379.5,429.5 4380.8,429.3 4382.2,429.1 4383.5,428.9 4384.8,428.7 4386.1,428.6 4387.4,428.4 4388.7,428.2 4390.1,428.1 4391.4,428.0 4392.7,427.8 4394.0,427.7 4395.3,427.6 4396.7,427.5 4398.0,427.4 4399.3,427.3 4400.6,427.2 4401.9,427.1 4403.2,427.0 4404.6,426.9 4405.9,426.9 4407.2,426.8 4408.5,426.7 4409.8,426.7 4411.1,426.6 4412.5,426.5 4413.8,426.5 4415.1,426.4 4416.4,426.4 4417.7,426.3 4419.0,426.3 4420.4,426.3 4421.7,426.2 4423.0,426.2 4424.3,426.2 4425.6,426.1 4426.9,426.1 4428.3,426.1 4429.6,426.0 4430.9,426.0 4432.2,426.0 4433.5,426.0 4434.8,425.9 4436.2,425.9 4437.5,425.9 4438.8,425.9 4440.1,425.9 4441.4,425.8 4442.7,425.8 4444.1,425.8 4445.4,425.8 4446.7,425.8 4448.0,425.8 4449.3,425.8 4450.6,425.8 4452.0,425.7 4453.3,425.7 4454.6,425.7 4455.9,425.7 4457.2,425.7 4458.5,425.7 4459.9,425.7 4461.2,425.7 4462.5,425.7 4463.8,425.7 4465.1,425.7 4466.5,425.7 4467.8,425.7 4469.1,425.6 4470.4,425.6 4471.7,425.6 4473.0,425.6 4474.4,425.6 4475.7,425.6 4477.0,425.6 4478.3,425.6 4479.6,425.6 4480.9,425.6 4482.3,425.6 4483.6,425.6 4484.9,425.6 4486.2,425.6 4487.5,425.6 4488.8,425.6 4490.2,425.6 4491.5,425.6 4492.8,425.6 4494.1,425.6 4495.4,425.6 4496.7,425.6 4498.1,425.6 4499.4,425.6 4500.7,425.6 4502.0,425.6 4503.3,425.6 4504.6,425.6 4506.0,425.6 4507.3,425.6 4508.6,425.6 4509.9,425.6 4511.2,425.6 4512.5,425.6 4513.9,425.6 4515.2,425.6 4516.5,425.6 4517.8,425.6 4519.1,425.6 4520.4,425.6 4521.8,425.6 4523.1,425.6 4524.4,425.6" fill="none" stroke="#1a6fae" stroke-width="1.3" stroke-linecap="butt" stroke-linejoin="round"/>
<polyline points="4303.1,466.8 4304.3,465.8 4305.4,464.8 4306.5,463.8 4307.6,462.9 4308.7,462.1 4309.8,461.2 4310.9,460.4 4312.0,459.6 4313.1,458.8 4314.2,458.1 4315.3,457.4 4316.4,456.7 4317.5,456.0 4318.6,455.4 4319.7,454.8 4320.8,454.2 4322.0,453.6 4323.1,453.1 4324.2,452.5 4325.3,452.0 4326.4,451.5 4327.5,451.0 4328.6,450.6 4329.7,450.1 4330.8,449.7 4331.9,449.2 4333.0,448.8 4334.1,448.5 4335.2,448.1 4336.3,447.7 4337.4,447.4 4338.5,447.0 4339.7,446.7 4340.8,445.9 4341.9,445.0 4343.0,444.1 4344.1,443.3 4345.2,442.5 4346.3,441.7 4347.4,441.0 4348.5,440.3 4349.6,439.6 4350.7,438.9 4351.8,438.3 4352.9,437.8 4354.0,437.2 4355.1,436.7 4356.2,436.2 4357.4,435.7 4358.5,435.2 4359.6,434.8 4360.7,434.4 4361.8,434.0 4362.9,433.6 4364.0,433.2 4365.1,432.9 4366.2,432.5 4367.3,432.2 4368.4,431.9 4369.5,431.6 4370.6,431.3 4371.7,431.1 4372.8,430.8 4373.9,430.6 4375.1,430.4 4376.2,430.1 4377.3,429.9 4378.4,429.7 4379.5,429.5 4380.6,429.4 4381.7,429.2 4382.8,429.0 4383.9,428.9 4385.0,428.7 4386.1,428.6 4387.2,428.4 4388.3,428.3 4389.4,428.2 4390.5,428.0 4391.6,427.9 4392.8,427.8 4393.9,427.7 4395.0,427.6 4396.1,427.5 4397.2,427.4 4398.3,427.4 4399.4,427.3 4400.5,427.2 4401.6,427.1 4402.7,427.0 4403.8,427.0 4404.9,426.9 4406.0,426.9 4407.1,426.8 4408.2,426.7 4409.3,426.7 4410.5,426.6 4411.6,426.6 4412.7,426.5 4413.8,426.5 4414.9,426.4 4416.0,426.4 4417.1,426.4 4418.2,426.3 4419.3,426.3 4420.4,426.3 4421.5,426.2 4422.6,426.2 4423.7,426.2 4424.8,426.1 4425.9,426.1 4427.0,426.1 4428.2,426.1 4429.3,426.0 4430.4,426.0 4431.5,426.0 4432.6,426.0 4433.7,426.0 4434.8,425.9 4435.9,425.9 4437.0,425.9 4438.1,425.9 4439.2,425.9 4440.3,425.9 4441.4,425.8 4442.5,425.8 4443.6,425.8 4444.7,425.8 4445.9,425.8 4447.0,425.8 4448.1,425.8 4449.2,425.8 4450.3,425.8 4451.4,425.7 4452.5,425.7 4453.6,425.7 4454.7,425.7 4455.8,425.7 4456.9,425.7 4458.0,425.7 4459.1,425.7 4460.2,425.7 4461.3,425.7 4462.4,425.7 4463.6,425.7 4464.7,425.7 4465.8,425.7 4466.9,425.7 4468.0,425.6 4469.1,425.6 4470.2,425.6 4471.3,425.6 4472.4,425.6 4473.5,425.6 4474.6,425.6 4475.7,425.6 4476.8,425.6 4477.9,425.6 4479.0,425.6 4480.1,425.6 4481.3,425.6 4482.4,425.6 4483.5,425.6 4484.6,425.6 4485.7,425.6 4486.8,425.6 4487.9,425.6 4489.0,425.6 4490.1,425.6 4491.2,425.6 4492.3,425.6 4493.4,425.6 4494.5,425.6 4495.6,425.6 4496.7,425.6 4497.8,425.6 4499.0,425.6 4500.1,425.6 4501.2,425.6 4502.3,425.6 4503.4,425.6 4504.5,425.6 4505.6,425.6 4506.7,425.6 4507.8,425.6 4508.9,425.6 4510.0,425.6 4511.1,425.6 4512.2,425.6 4513.3,425.6 4514.4,425.6 4515.5,425.6 4516.7,425.6 4517.8,425.6 4518.9,425.6 4520.0,425.6 4521.1,425.6 4522.2,425.6 4523.3,425.6 4524.4,425.6" fill="none" stroke="#1a6fae" stroke-width="3.6" stroke-linecap="round" stroke-linejoin="round"/>
<circle cx="4261" cy="489.5" r="1.8" fill="#1a6fae" stroke="#1a6fae" stroke-width="0"/>
<circle cx="4262.3" cy="488.9" r="1.8" fill="#1a6fae" stroke="#1a6fae" stroke-width="0"/>
<circle cx="4263.6" cy="488.3" r="1.8" fill="#1a6fae" stroke="#1a6fae" stroke-width="0"/>
<circle cx="4265" cy="487.8" r="1.8" fill="#1a6fae" stroke="#1a6fae" stroke-width="0"/>
<circle cx="4266.3" cy="487.3" r="1.8" fill="#1a6fae" stroke="#1a6fae" stroke-width="0"/>
<circle cx="4267.6" cy="486.9" r="1.8" fill="#1a6fae" stroke="#1a6fae" stroke-width="0"/>
<circle cx="4268.9" cy="486.6" r="1.8" fill="#1a6fae" stroke="#1a6fae" stroke-width="0"/>
<circle cx="4270.2" cy="486.3" r="1.8" fill="#1a6fae" stroke="#1a6fae" stroke-width="0"/>
<circle cx="4271.5" cy="486.2" r="1.8" fill="#1a6fae" stroke="#1a6fae" stroke-width="0"/>
<circle cx="4272.9" cy="486.1" r="1.8" fill="#1a6fae" stroke="#1a6fae" stroke-width="0"/>
<circle cx="4274.2" cy="486.2" r="1.8" fill="#1a6fae" stroke="#1a6fae" stroke-width="0"/>
<circle cx="4275.5" cy="486.3" r="1.8" fill="#1a6fae" stroke="#1a6fae" stroke-width="0"/>
<circle cx="4276.8" cy="486.6" r="1.8" fill="#1a6fae" stroke="#1a6fae" stroke-width="0"/>
<circle cx="4278.1" cy="486.9" r="1.8" fill="#1a6fae" stroke="#1a6fae" stroke-width="0"/>
<circle cx="4279.4" cy="487.3" r="1.8" fill="#1a6fae" stroke="#1a6fae" stroke-width="0"/>
<circle cx="4280.8" cy="487.8" r="1.8" fill="#1a6fae" stroke="#1a6fae" stroke-width="0"/>
<circle cx="4282.1" cy="488.3" r="1.8" fill="#1a6fae" stroke="#1a6fae" stroke-width="0"/>
<circle cx="4283.4" cy="488.9" r="1.8" fill="#1a6fae" stroke="#1a6fae" stroke-width="0"/>
<circle cx="4284.7" cy="489.5" r="1.8" fill="#1a6fae" stroke="#1a6fae" stroke-width="0"/>
<circle cx="4287.3" cy="506.3" r="2.2" fill="#1a6fae" stroke="#1a6fae" stroke-width="0"/>
<circle cx="4290" cy="481.4" r="2.2" fill="#1a6fae" stroke="#1a6fae" stroke-width="0"/>
<circle cx="4292.6" cy="477.1" r="2.2" fill="#1a6fae" stroke="#1a6fae" stroke-width="0"/>
<circle cx="4295.2" cy="472.8" r="2.2" fill="#1a6fae" stroke="#1a6fae" stroke-width="0"/>
<circle cx="4297.9" cy="468.5" r="2.2" fill="#1a6fae" stroke="#1a6fae" stroke-width="0"/>
<circle cx="4300.5" cy="462.6" r="2.2" fill="#1a6fae" stroke="#1a6fae" stroke-width="0"/>
<circle cx="4303.1" cy="466.8" r="2.2" fill="#1a6fae" stroke="#1a6fae" stroke-width="0"/>
<rect x="4261" y="421.6" width="263.4" height="88.9" fill="none" stroke="#333" stroke-width="1.1"/>
<line x1="4258.5" y1="430.6" x2="4261" y2="430.6" stroke="#333" stroke-width="1" stroke-linecap="butt"/>
<text x="4256" y="435.6" font-size="15" text-anchor="end" fill="#000" font-family="Liberation Serif">−0.2</text>
<line x1="4258.5" y1="447.4" x2="4261" y2="447.4" stroke="#333" stroke-width="1" stroke-linecap="butt"/>
<text x="4256" y="452.4" font-size="15" text-anchor="end" fill="#000" font-family="Liberation Serif">−0.4</text>
<line x1="4258.5" y1="464.2" x2="4261" y2="464.2" stroke="#333" stroke-width="1" stroke-linecap="butt"/>
<text x="4256" y="469.2" font-size="15" text-anchor="end" fill="#000" font-family="Liberation Serif">−0.6</text>
<line x1="4258.5" y1="481.1" x2="4261" y2="481.1" stroke="#333" stroke-width="1" stroke-linecap="butt"/>
<text x="4256" y="486.1" font-size="15" text-anchor="end" fill="#000" font-family="Liberation Serif">−0.8</text>
<line x1="4258.5" y1="497.9" x2="4261" y2="497.9" stroke="#333" stroke-width="1" stroke-linecap="butt"/>
<text x="4256" y="502.9" font-size="15" text-anchor="end" fill="#000" font-family="Liberation Serif">−1.0</text>
<line x1="4261" y1="510.5" x2="4261" y2="513" stroke="#333" stroke-width="1" stroke-linecap="butt"/>
<text x="4261" y="531.3" font-size="15" text-anchor="middle" fill="#000" font-family="Liberation Serif">0</text>
<line x1="4313.7" y1="510.5" x2="4313.7" y2="513" stroke="#333" stroke-width="1" stroke-linecap="butt"/>
<text x="4313.7" y="531.3" font-size="15" text-anchor="middle" fill="#000" font-family="Liberation Serif">0.2</text>
<line x1="4366.4" y1="510.5" x2="4366.4" y2="513" stroke="#333" stroke-width="1" stroke-linecap="butt"/>
<text x="4366.4" y="531.3" font-size="15" text-anchor="middle" fill="#000" font-family="Liberation Serif">0.4</text>
<line x1="4419" y1="510.5" x2="4419" y2="513" stroke="#333" stroke-width="1" stroke-linecap="butt"/>
<text x="4419" y="531.3" font-size="15" text-anchor="middle" fill="#000" font-family="Liberation Serif">0.6</text>
<line x1="4471.7" y1="510.5" x2="4471.7" y2="513" stroke="#333" stroke-width="1" stroke-linecap="butt"/>
<text x="4471.7" y="531.3" font-size="15" text-anchor="middle" fill="#000" font-family="Liberation Serif">0.8</text>
<line x1="4524.4" y1="510.5" x2="4524.4" y2="513" stroke="#333" stroke-width="1" stroke-linecap="butt"/>
<text x="4524.4" y="531.3" font-size="15" text-anchor="middle" fill="#000" font-family="Liberation Serif">1.0</text>
<text x="4392.7" y="548" font-size="15.5" text-anchor="middle" fill="#000" font-family="Liberation Serif"><tspan font-style="italic">J</tspan><tspan dy="3" font-size="10">2</tspan><tspan dy="-3">/</tspan><tspan font-style="italic">J</tspan><tspan dy="3" font-size="10">1</tspan></text>
<text x="4215" y="466" font-size="15.5" text-anchor="middle" fill="#000" font-family="Liberation Serif" transform="rotate(-90 4215 466)"><tspan font-style="italic">δS</tspan></text><g fill="#111"><text x="140.3" y="748.7" font-size="15.5" text-anchor="start" font-family="Liberation Serif"><tspan font-style="italic">H</tspan></text>
<text x="161.5" y="748.7" font-size="15.5" text-anchor="start" font-family="Liberation Serif">=</text>
<text x="183.5" y="748.7" font-size="15.5" text-anchor="start" font-family="Liberation Serif"><tspan font-style="italic">J</tspan><tspan dy="3.5" font-size="10.5">1</tspan><tspan dy="-3.5"> </tspan></text>
<text x="202.5" y="754.7" font-size="25" text-anchor="start" font-family="Liberation Serif">∑</text>
<text x="215.5" y="768.7" font-size="10.5" text-anchor="middle" font-family="Liberation Serif">⟨<tspan font-style="italic">i</tspan>,<tspan font-style="italic">j</tspan>⟩<tspan dy="2.5" font-size="8">1</tspan><tspan dy="-2.5"> </tspan></text>
<text x="232.0" y="748.7" font-size="15.5" text-anchor="start" font-family="Liberation Serif" textLength="74" lengthAdjust="spacing"><tspan font-weight="bold">S</tspan><tspan dy="3.5" font-size="10.5"><tspan font-style="italic">i</tspan></tspan><tspan dy="-3.5"> </tspan> · <tspan font-weight="bold">S</tspan><tspan dy="3.5" font-size="10.5"><tspan font-style="italic">j</tspan></tspan><tspan dy="-3.5"> </tspan> + <tspan font-style="italic">J</tspan><tspan dy="3.5" font-size="10.5">2</tspan><tspan dy="-3.5"> </tspan></text>
<text x="314.5" y="754.7" font-size="25" text-anchor="start" font-family="Liberation Serif">∑</text>
<text x="325.0" y="768.7" font-size="10.5" text-anchor="middle" font-family="Liberation Serif">⟨<tspan font-style="italic">i</tspan>,<tspan font-style="italic">j</tspan>⟩<tspan dy="2.5" font-size="8">2</tspan><tspan dy="-2.5"> </tspan></text>
<text x="341.8" y="748.7" font-size="15.5" text-anchor="start" font-family="Liberation Serif" textLength="39.6" lengthAdjust="spacing"><tspan font-weight="bold">S</tspan><tspan dy="3.5" font-size="10.5"><tspan font-style="italic">i</tspan></tspan><tspan dy="-3.5"> </tspan> · <tspan font-weight="bold">S</tspan><tspan dy="3.5" font-size="10.5"><tspan font-style="italic">j</tspan></tspan><tspan dy="-3.5"> </tspan></text>
<text x="183.5" y="793.7" font-size="15.5" text-anchor="start" font-family="Liberation Serif" textLength="25" lengthAdjust="spacing">+<tspan font-style="italic">J</tspan><tspan dy="3.5" font-size="10.5">3</tspan><tspan dy="-3.5"> </tspan></text>
<text x="215.5" y="799.7" font-size="25" text-anchor="start" font-family="Liberation Serif">∑</text>
<text x="227.0" y="813.7" font-size="10.5" text-anchor="middle" font-family="Liberation Serif">⟨<tspan font-style="italic">i</tspan>,<tspan font-style="italic">j</tspan>⟩<tspan dy="2.5" font-size="8">3</tspan><tspan dy="-2.5"> </tspan></text>
<text x="244.7" y="793.7" font-size="15.5" text-anchor="start" font-family="Liberation Serif" textLength="72" lengthAdjust="spacing"><tspan font-weight="bold">S</tspan><tspan dy="3.5" font-size="10.5"><tspan font-style="italic">i</tspan></tspan><tspan dy="-3.5"> </tspan> · <tspan font-weight="bold">S</tspan><tspan dy="3.5" font-size="10.5"><tspan font-style="italic">j</tspan></tspan><tspan dy="-3.5"> </tspan> + <tspan font-style="italic">J</tspan><tspan dy="3.5" font-size="10.5">4</tspan><tspan dy="-3.5"> </tspan></text>
<text x="325.5" y="799.7" font-size="25" text-anchor="start" font-family="Liberation Serif">∑</text>
<text x="336.5" y="813.7" font-size="10.5" text-anchor="middle" font-family="Liberation Serif">⟨<tspan font-style="italic">i</tspan>,<tspan font-style="italic">j</tspan>⟩<tspan dy="2.5" font-size="8">4</tspan><tspan dy="-2.5"> </tspan></text>
<text x="354.4" y="793.7" font-size="15.5" text-anchor="start" font-family="Liberation Serif" textLength="39.6" lengthAdjust="spacing"><tspan font-weight="bold">S</tspan><tspan dy="3.5" font-size="10.5"><tspan font-style="italic">i</tspan></tspan><tspan dy="-3.5"> </tspan> · <tspan font-weight="bold">S</tspan><tspan dy="3.5" font-size="10.5"><tspan font-style="italic">j</tspan></tspan><tspan dy="-3.5"> </tspan></text>
<text x="452.3" y="793.7" font-size="15.5" text-anchor="end" font-family="Liberation Serif">(1)</text>
<text x="1452.4" y="999.0" font-size="15.5" text-anchor="start" font-family="Liberation Serif"><tspan font-style="italic">H</tspan></text>
<text x="1470.2" y="999.0" font-size="15.5" text-anchor="start" font-family="Liberation Serif">=</text>
<text x="1495.5" y="999.0" font-size="15.5" text-anchor="start" font-family="Liberation Serif" textLength="201.5" lengthAdjust="spacing"><tspan font-weight="bold">J</tspan><tspan dy="3.5" font-size="10.5">1</tspan><tspan dy="-3.5"> </tspan>(<tspan font-weight="bold">k</tspan>) <tspan font-weight="bold">S</tspan><tspan dy="3.5" font-size="10.5">2</tspan><tspan dy="-3.5"> </tspan> · <tspan font-weight="bold">S</tspan><tspan dy="3.5" font-size="10.5">3</tspan><tspan dy="-3.5"> </tspan> + <tspan font-weight="bold">J</tspan><tspan dy="3.5" font-size="10.5">2</tspan><tspan dy="-3.5"> </tspan>(<tspan font-weight="bold">k</tspan>) [<tspan font-weight="bold">S</tspan><tspan dy="3.5" font-size="10.5">2</tspan><tspan dy="-3.5"> </tspan> · ⟨<tspan font-weight="bold">S</tspan><tspan dy="3.5" font-size="10.5">3</tspan><tspan dy="-3.5"> </tspan>⟩]</text>
<text x="1495.5" y="1021.3" font-size="15.5" text-anchor="start" font-family="Liberation Serif" textLength="234" lengthAdjust="spacing">+<tspan font-weight="bold">J</tspan><tspan dy="-4" font-size="11">′</tspan><tspan dy="4"> </tspan><tspan dy="3.5" font-size="10.5">2</tspan><tspan dy="-3.5"> </tspan>(<tspan font-weight="bold">k</tspan>) [⟨<tspan font-weight="bold">S</tspan><tspan dy="3.5" font-size="10.5">2</tspan><tspan dy="-3.5"> </tspan>⟩ · <tspan font-weight="bold">S</tspan><tspan dy="3.5" font-size="10.5">3</tspan><tspan dy="-3.5"> </tspan>] + <tspan font-weight="bold">J</tspan><tspan dy="3.5" font-size="10.5">3</tspan><tspan dy="-3.5"> </tspan>(<tspan font-weight="bold">k</tspan>) [<tspan font-weight="bold">S</tspan><tspan dy="3.5" font-size="10.5">2</tspan><tspan dy="-3.5"> </tspan> · ⟨<tspan font-weight="bold">S</tspan><tspan dy="3.5" font-size="10.5">2</tspan><tspan dy="-3.5"> </tspan>⟩]</text>
<text x="1495.5" y="1042.9" font-size="15.5" text-anchor="start" font-family="Liberation Serif" textLength="113.5" lengthAdjust="spacing">+<tspan font-weight="bold">J</tspan><tspan dy="3.5" font-size="10.5">3</tspan><tspan dy="-3.5"> </tspan>(<tspan font-weight="bold">k</tspan>) [<tspan font-weight="bold">S</tspan><tspan dy="3.5" font-size="10.5">3</tspan><tspan dy="-3.5"> </tspan> · ⟨<tspan font-weight="bold">S</tspan><tspan dy="3.5" font-size="10.5">3</tspan><tspan dy="-3.5"> </tspan>⟩]</text>
<text x="1778.0" y="1042.9" font-size="15.5" text-anchor="end" font-family="Liberation Serif">(2)</text>
<text x="2953.7" y="808.4" font-size="15.5" text-anchor="start" font-family="Liberation Serif" textLength="34" lengthAdjust="spacing">⟨<tspan font-weight="bold">S</tspan>⟩ =</text>
<text x="2995.0" y="797.6" font-size="15.5" text-anchor="start" font-family="Liberation Serif" textLength="144" lengthAdjust="spacing">∑<tspan dy="3.5" font-size="10.5"><tspan font-style="italic">i</tspan></tspan><tspan dy="-3.5"> </tspan>⟨<tspan font-style="italic">ψ</tspan><tspan dy="3.5" font-size="10.5"><tspan font-style="italic">i</tspan></tspan><tspan dy="-3.5"> </tspan>|<tspan font-weight="bold">S</tspan>|<tspan font-style="italic">ψ</tspan><tspan dy="3.5" font-size="10.5"><tspan font-style="italic">i</tspan></tspan><tspan dy="-3.5"> </tspan>⟩ <tspan font-style="italic">e</tspan><tspan dy="-6" font-size="11">−<tspan font-style="italic">E</tspan><tspan font-size="8" dy="2">i</tspan><tspan dy="-2">/</tspan><tspan font-style="italic">k</tspan><tspan font-size="8" dy="2">B</tspan><tspan dy="-2"><tspan font-style="italic">T</tspan></tspan></tspan><tspan dy="6"> </tspan></text>
<line x1="2995" y1="804" x2="3139" y2="804" stroke="#111" stroke-width="0.9" stroke-linecap="butt"/>
<text x="3025.7" y="816.5" font-size="15.5" text-anchor="start" font-family="Liberation Serif" textLength="83" lengthAdjust="spacing">∑<tspan dy="3.5" font-size="10.5"><tspan font-style="italic">i</tspan></tspan><tspan dy="-3.5"> </tspan><tspan font-style="italic">e</tspan><tspan dy="-6" font-size="11">−<tspan font-style="italic">E</tspan><tspan font-size="8" dy="2">i</tspan><tspan dy="-2">/</tspan><tspan font-style="italic">k</tspan><tspan font-size="8" dy="2">B</tspan><tspan dy="-2"><tspan font-style="italic">T</tspan></tspan></tspan><tspan dy="6"> </tspan></text>
<text x="3141.0" y="808.4" font-size="15.5" text-anchor="start" font-family="Liberation Serif">,</text>
<text x="3233.3" y="808.4" font-size="15.5" text-anchor="end" font-family="Liberation Serif">(3)</text></g></svg>
<div class="t" style="left:1770.5px;top:39.7px;width:8.0px;font-size:15.5px;text-align:left;">2</div>
<div class="t" style="left:2697.5px;top:39.7px;width:8.0px;font-size:15.5px;text-align:left;">3</div>
<div class="t" style="left:3624.5px;top:39.7px;width:8.0px;font-size:15.5px;text-align:left;">4</div>
<div class="t" style="left:4551.5px;top:39.7px;width:8.0px;font-size:15.5px;text-align:left;">5</div>
<div style="position:absolute;left:82px;top:1052.5px;width:54px;height:0;border-top:0.8px solid #333"></div>
<div style="position:absolute;left:46.6px;top:922px;transform-origin:0 0;transform:rotate(-90deg);white-space:nowrap;font-size:30.4px;line-height:30px;color:#7f7f7f;font-family:'Liberation Serif',serif;"><span style="position:relative;top:-23px">arXiv:2508.10676v1&nbsp;&nbsp;[cond-mat.str-el]&nbsp;&nbsp;14 Aug 2025</span></div>
<div class="t" style="left:95.0px;top:78.7px;width:743.0px;font-size:19.0px;letter-spacing:0.887px"><b>The 6H-Perovskite Dimer Lattice with Antiferromagnetic Interactions: Ba<sub>3</sub>ARu<sub>2</sub>O<sub>9</sub></b></div><div class="t" style="left:220.0px;top:116.4px;width:493.0px;font-size:15.5px;letter-spacing:0.599px">Daniel M. Pajerowski,<sup>*</sup> David A. Dahlbom, and Alexander I. Kolesnikov</div><div class="t" style="left:187.5px;top:131.7px;width:558.5px;font-size:14.0px;letter-spacing:0.626px"><i>Neutron Scattering Division, Oak Ridge National Laboratory, Oak Ridge, Tennessee, USA</i></div><div class="t" style="left:378.0px;top:167.9px;width:176.6px;font-size:15.5px;letter-spacing:1.078px">Daniel Phelan and Yu Li</div><div class="t" style="left:148.8px;top:184.1px;width:637.2px;font-size:14.0px;letter-spacing:0.589px"><i>Materials Science Division, Argonne National Laboratory, Lemont, IL 60439, United States of America</i></div><div class="t" style="left:388.7px;top:199.6px;width:155.3px;font-size:14.0px;letter-spacing:0.540px">(Dated: August 15, 2025)</div><div class="t" style="left:189.0px;top:430.9px;width:156.5px;font-size:14.5px;letter-spacing:1.196px"><b>I.   INTRODUCTION</b></div><div class="t" style="left:1442.6px;top:633.7px;width:299.4px;font-size:14.5px;letter-spacing:1.237px"><b>II.   THEORETICAL PHASE DIAGRAM</b></div><div class="t" style="left:1487.0px;top:670.8px;width:211.0px;font-size:14.5px;letter-spacing:0.968px"><b>A.   Dimer Mean-field Theory</b></div><div class="t" style="left:3342.4px;top:812.3px;width:208.6px;font-size:14.5px;letter-spacing:0.937px"><b>B.   Linear Spin-wave Theory</b></div><div class="t" style="left:4208.0px;top:911.8px;width:331.0px;font-size:14.5px;letter-spacing:1.204px"><b>III.   CONNECTION TO REAL MATERIALS</b></div><div class="t" style="left:4264.0px;top:951.4px;width:219.5px;font-size:14.5px;letter-spacing:0.961px"><b>A.   Density Functional Theory</b></div><div class="t" style="left:84.6px;top:1078.0px;width:142.0px;font-size:12.5px;letter-spacing:0.442px"><sup>*</sup> pajerowskidm@ornl.gov</div><div class="t j" style="left:164.8px;top:226.3px;width:603.0px;font-size:14.0px;letter-spacing:0.406px;text-indent:14.4px">We investigate the magnetic behavior of the 6H-perovskite dimer lattice Ba<sub>3</sub>Zn<sub>1−<i>x</i></sub>Ca<sub><i>x</i></sub>Ru<sub>2</sub>O<sub>9</sub></div><div class="t j" style="left:164.8px;top:242.2px;width:603.0px;font-size:14.0px;letter-spacing:0.406px">using analytical theory, density functional theory, inelastic neutron scattering, and modeling of his-</div><div class="t j" style="left:164.8px;top:258.1px;width:603.0px;font-size:14.0px;letter-spacing:0.406px">torical magnetization and neutron-scattering data. A dimer mean-field theory built upon classical</div><div class="t j" style="left:164.8px;top:274.0px;width:603.0px;font-size:14.0px;letter-spacing:0.406px">Luttinger–Tisza analysis generates a phase diagram revealing a transition from a nonmagnetic sin-</div><div class="t j" style="left:164.8px;top:289.9px;width:603.0px;font-size:14.0px;letter-spacing:0.406px">glet to a finite-moment ground state as interdimer couplings increase. A (generalized) linear spin-</div><div class="t j" style="left:164.8px;top:305.8px;width:603.0px;font-size:14.0px;letter-spacing:0.406px">wave theory captures multiplet mixing, excitation gap closing, and fluctuation-induced moment</div><div class="t j" style="left:164.8px;top:321.7px;width:603.0px;font-size:14.0px;letter-spacing:0.406px">suppression. Density functional theory on select compounds and neutron spectroscopy on dilute</div><div class="t j" style="left:164.8px;top:337.6px;width:603.0px;font-size:14.0px;letter-spacing:0.406px">Ba<sub>3</sub>Zn(Ru<sub>1−<i>x</i></sub>Sb<sub><i>x</i></sub>)<sub>2</sub>O<sub>9</sub> confirm the exchange hierarchy, enabling quantification of previously pub-</div><div class="t j" style="left:164.8px;top:353.5px;width:603.0px;font-size:14.0px;letter-spacing:0.406px">lished experiments within this framework. Our results identify three mechanisms for magnetic mo-</div><div class="t j" style="left:164.8px;top:369.4px;width:603.0px;font-size:14.0px;letter-spacing:0.406px">ment suppression—quantum fluctuations, ligand hybridization, and nonmagnetic-singlet/magnetic-</div><div class="t" style="left:164.8px;top:385.3px;width:603.0px;font-size:14.0px;letter-spacing:0.406px">multiplet mixing.</div><div class="t j" style="left:82.0px;top:470.6px;width:370.0px;font-size:15.5px;letter-spacing:0.177px;text-indent:15.5px">Hexagonal perovskites can host regular lattices of mag-</div><div class="t j" style="left:82.0px;top:487.9px;width:370.0px;font-size:15.5px;letter-spacing:0.346px">netic ions and exhibit a variety of geometries within that</div><div class="t j" style="left:82.0px;top:505.3px;width:370.0px;font-size:15.5px;letter-spacing:0.450px">motif, giving rise to diverse magnetic ground states. A</div><div class="t j" style="left:82.0px;top:522.7px;width:370.0px;font-size:15.5px;letter-spacing:0.146px">recent review article shows the rich chemistry and physics</div><div class="t j" style="left:82.0px;top:540.1px;width:370.0px;font-size:15.5px;letter-spacing:0.261px">of triple perovskites [1]. Here, we focus on the triple per-</div><div class="t j" style="left:82.0px;top:557.5px;width:370.0px;font-size:15.5px;letter-spacing:0.253px">ovskite with 6H-type stacking (in Ramsdell notation) [2],</div><div class="t j" style="left:82.0px;top:574.8px;width:370.0px;font-size:15.5px;letter-spacing:0.172px">in which there are systems with two vertically offset mag-</div><div class="t j" style="left:82.0px;top:592.2px;width:370.0px;font-size:15.5px;letter-spacing:0.450px">netic dimers per unit cell that are each spaced by non-</div><div class="t j" style="left:82.0px;top:609.6px;width:370.0px;font-size:15.5px;letter-spacing:0.450px">magnetic monomers. The resulting triangular layers of</div><div class="t j" style="left:82.0px;top:627.0px;width:370.0px;font-size:15.5px;letter-spacing:0.320px">dimers are arranged in an AB stacking pattern, with each</div><div class="t j" style="left:82.0px;top:644.4px;width:370.0px;font-size:15.5px;letter-spacing:0.450px">dimer positioned above and below the center of a trian-</div><div class="t j" style="left:82.0px;top:661.7px;width:370.0px;font-size:15.5px;letter-spacing:0.355px">gle in the vertically adjacent layer. This lattice structure,</div><div class="t j" style="left:82.0px;top:679.1px;width:370.0px;font-size:15.5px;letter-spacing:0.367px">along with the four shortest exchange pathways, is illus-</div><div class="t" style="left:82.0px;top:696.5px;width:370.0px;font-size:15.5px;letter-spacing:0.450px">trated in Figure 1 and the Hamiltonian is given by:</div><div class="t j" style="left:82.0px;top:830.6px;width:370.0px;font-size:15.5px;letter-spacing:0.450px">where the indices 1–4 on exchanges refer to the bond</div><div class="t" style="left:82.0px;top:847.9px;width:370.0px;font-size:15.5px;letter-spacing:0.450px">types shown in Figure 1.</div><div class="t j" style="left:82.0px;top:866.5px;width:370.0px;font-size:15.5px;letter-spacing:0.367px;text-indent:15.5px">Among materials that realize this lattice geometry, we</div><div class="t j" style="left:82.0px;top:883.8px;width:370.0px;font-size:15.5px;letter-spacing:0.450px">focus on Ba<sub>3</sub>Zn<sub>1−<i>x</i></sub>Ca<sub><i>x</i></sub>Ru<sub>2</sub>O<sub>9</sub>, which has been the sub-</div><div class="t j" style="left:82.0px;top:901.2px;width:370.0px;font-size:15.5px;letter-spacing:0.450px">ject of experimental studies, revealing subtle structural</div><div class="t j" style="left:82.0px;top:918.6px;width:370.0px;font-size:15.5px;letter-spacing:0.450px">changes with composition <i>x</i> that arise from the differ-</div><div class="t j" style="left:82.0px;top:936.0px;width:370.0px;font-size:15.5px;letter-spacing:0.450px">ent ionic radii of Ca<sup>2+</sup> and Zn<sup>2+</sup> (Ca<sup>2+</sup> is approximately</div><div class="t j" style="left:82.0px;top:953.4px;width:370.0px;font-size:15.5px;letter-spacing:0.425px">30% larger) [3] and that significantly influence its mag-</div><div class="t j" style="left:82.0px;top:970.7px;width:370.0px;font-size:15.5px;letter-spacing:0.450px">netic properties. Because Ca<sup>2+</sup> and Zn<sup>2+</sup> are isovalent,</div><div class="t j" style="left:82.0px;top:988.1px;width:370.0px;font-size:15.5px;letter-spacing:0.450px">these structural changes primarily affect the magnetic</div><div class="t j" style="left:82.0px;top:1005.5px;width:370.0px;font-size:15.5px;letter-spacing:0.450px">interactions between Ru<sup>5+</sup>, <i>S</i> = <span class="fr"><span class="fn">3</span><span class="fd">2</span></span> ions. As <i>x</i> decreases,</div><div class="t j" style="left:480.0px;top:430.4px;width:371.0px;font-size:15.5px;letter-spacing:0.347px">the interdimer separation decreases, and the system tran-</div><div class="t j" style="left:480.0px;top:447.7px;width:371.0px;font-size:15.5px;letter-spacing:0.450px">sitions from a regime consistent with a gapped singlet</div><div class="t j" style="left:480.0px;top:465.1px;width:371.0px;font-size:15.5px;letter-spacing:0.297px">ground state of weakly coupled antiferromagnetic dimers</div><div class="t j" style="left:480.0px;top:482.5px;width:371.0px;font-size:15.5px;letter-spacing:0.336px">to one whose magnetic behavior has not yet been quanti-</div><div class="t j" style="left:480.0px;top:499.9px;width:371.0px;font-size:15.5px;letter-spacing:0.239px">tatively modeled, but is inconsistent with isolated dimers.</div><div class="t j" style="left:480.0px;top:517.3px;width:371.0px;font-size:15.5px;letter-spacing:0.450px">The ground state of Ba<sub>3</sub>ZnRu<sub>2</sub>O<sub>9</sub> (BZRO) is anomalous</div><div class="t j" style="left:480.0px;top:534.6px;width:371.0px;font-size:15.5px;letter-spacing:0.450px">in that it exhibits a finite (gapless?) magnetic response</div><div class="t j" style="left:480.0px;top:552.0px;width:371.0px;font-size:15.5px;letter-spacing:0.302px">down to 37 mK, without typical experimentally observed</div><div class="t j" style="left:480.0px;top:569.4px;width:371.0px;font-size:15.5px;letter-spacing:0.450px">signatures of long-range dipolar order such as magnetic</div><div class="t j" style="left:480.0px;top:586.8px;width:371.0px;font-size:15.5px;letter-spacing:0.384px">neutron diffraction, a peak in the specific heat, or a cusp</div><div class="t j" style="left:480.0px;top:604.2px;width:371.0px;font-size:15.5px;letter-spacing:0.450px">in the magnetic susceptibility [4]. The triangular plane</div><div class="t j" style="left:480.0px;top:621.5px;width:371.0px;font-size:15.5px;letter-spacing:0.450px">motif, the large Curie-Weiss temperature with no long-</div><div class="t j" style="left:480.0px;top:638.9px;width:371.0px;font-size:15.5px;letter-spacing:0.450px">range order detected, and unquantified low-temperature</div><div class="t j" style="left:480.0px;top:656.3px;width:371.0px;font-size:15.5px;letter-spacing:0.450px">magnetic response were therefore suggested to indicate</div><div class="t" style="left:480.0px;top:673.7px;width:371.0px;font-size:15.5px;letter-spacing:0.450px">spin-liquid behavior in BZRO.[4]</div><div class="t j" style="left:480.0px;top:695.5px;width:371.0px;font-size:15.5px;letter-spacing:0.347px;text-indent:15.5px">A rich literature exists on Ba<sub>3</sub>ARu<sub>2</sub>O<sub>9</sub> compounds, en-</div><div class="t j" style="left:480.0px;top:712.8px;width:371.0px;font-size:15.5px;letter-spacing:0.294px">compassing both magnetic and non-magnetic A-site ions.</div><div class="t j" style="left:480.0px;top:730.2px;width:371.0px;font-size:15.5px;letter-spacing:0.450px">The earliest studies treated these systems with diamag-</div><div class="t j" style="left:480.0px;top:747.6px;width:371.0px;font-size:15.5px;letter-spacing:0.450px">netic A-sites as consisting of isolated antiferromagneti-</div><div class="t j" style="left:480.0px;top:765.0px;width:371.0px;font-size:15.5px;letter-spacing:0.450px">cally coupled <i>S</i> = <span class="fr"><span class="fn">3</span><span class="fd">2</span></span> Ru<sup>5+</sup>–Ru<sup>5+</sup> dimers. For example,</div><div class="t j" style="left:480.0px;top:782.4px;width:371.0px;font-size:15.5px;letter-spacing:0.450px">magnetic susceptibility data for A = Ca, Cd, Sr, and</div><div class="t j" style="left:480.0px;top:799.7px;width:371.0px;font-size:15.5px;letter-spacing:0.326px">Mg were modeled using non-interacting dimers, yielding</div><div class="t j" style="left:480.0px;top:817.1px;width:371.0px;font-size:15.5px;letter-spacing:0.269px">semi-quantitative agreement with fitted <i>J</i><sub>1</sub> values of 29.3,</div><div class="t j" style="left:480.0px;top:834.5px;width:371.0px;font-size:15.5px;letter-spacing:0.450px">29.8, 29.8, and 23.8 meV, respectively [5]. To improve</div><div class="t j" style="left:480.0px;top:851.9px;width:371.0px;font-size:15.5px;letter-spacing:0.450px">agreement for A = Ca, a modified Hamiltonian includ-</div><div class="t j" style="left:480.0px;top:869.3px;width:371.0px;font-size:15.5px;letter-spacing:0.450px">ing biquadratic exchange was introduced to adjust the</div><div class="t j" style="left:480.0px;top:886.6px;width:371.0px;font-size:15.5px;letter-spacing:0.450px">multiplet level spacings [6]. Inelastic neutron scatter-</div><div class="t j" style="left:480.0px;top:904.0px;width:371.0px;font-size:15.5px;letter-spacing:0.430px">ing (INS) of Ba<sub>3</sub>CaRu<sub>2</sub>O<sub>9</sub> (BCRO) was modeled using a</div><div class="t j" style="left:480.0px;top:921.4px;width:371.0px;font-size:15.5px;letter-spacing:0.444px">non-interacting dimer model to extract <i>J</i><sub>1</sub>=26 meV from</div><div class="t j" style="left:480.0px;top:938.8px;width:371.0px;font-size:15.5px;letter-spacing:0.450px">a magnetic peak position at one momentum point, al-</div><div class="t j" style="left:480.0px;top:956.2px;width:371.0px;font-size:15.5px;letter-spacing:0.450px">though the non-resolution-limited linewidth and chang-</div><div class="t j" style="left:480.0px;top:973.5px;width:371.0px;font-size:15.5px;letter-spacing:0.257px">ing peak position with momentum was not quantified [7].</div><div class="t j" style="left:480.0px;top:994.2px;width:371.0px;font-size:15.5px;letter-spacing:0.419px;text-indent:15.5px">Neutron diffraction measurements have been reported</div><div class="t j" style="left:480.0px;top:1011.5px;width:371.0px;font-size:15.5px;letter-spacing:0.450px">for A = Ni, Co, and Zn, with magnetic Bragg peaks ob-</div><div class="t j" style="left:480.0px;top:1028.9px;width:371.0px;font-size:15.5px;letter-spacing:0.450px">served for A = Ni and Co (magnetic A-sites), but no</div><div class="t j" style="left:480.0px;top:1046.3px;width:371.0px;font-size:15.5px;letter-spacing:0.450px">magnetic Bragg peaks for A = Zn [8]. The absence of</div><div class="t j" style="left:480.0px;top:1063.7px;width:371.0px;font-size:15.5px;letter-spacing:0.450px">magnetic scattering in the Zn compound was attributed</div><div class="t j" style="left:480.0px;top:1081.1px;width:371.0px;font-size:15.5px;letter-spacing:0.450px">to insufficiently low temperature (<i>T</i> = 5 K), referencing</div><div class="t j" style="left:1009.0px;top:79.4px;width:370.0px;font-size:15.5px;letter-spacing:0.450px">earlier Mössbauer spectroscopy that hinted at ordering</div><div class="t j" style="left:1009.0px;top:96.7px;width:370.0px;font-size:15.5px;letter-spacing:0.450px">just below 4.2 K [9]. Those Mössbauer measurements</div><div class="t j" style="left:1009.0px;top:114.1px;width:370.0px;font-size:15.5px;letter-spacing:0.362px">were conducted at <i>T</i> = 4.2 K for A = Ca, Sr, Cd, Mg, Zn,</div><div class="t j" style="left:1009.0px;top:131.5px;width:370.0px;font-size:15.5px;letter-spacing:0.450px">Co, Ni, and Cu showed no line-splitting for Ca, Sr, and</div><div class="t j" style="left:1009.0px;top:148.9px;width:370.0px;font-size:15.5px;letter-spacing:0.450px">Cd, consistent with a singlet ground state. In contrast,</div><div class="t j" style="left:1009.0px;top:166.3px;width:370.0px;font-size:15.5px;letter-spacing:0.188px">magnetic splitting was observed for Co, Ni, and Cu (mag-</div><div class="t j" style="left:1009.0px;top:183.6px;width:370.0px;font-size:15.5px;letter-spacing:0.427px">netic A-sites) consistent with known magnetic ordering,</div><div class="t j" style="left:1009.0px;top:201.0px;width:370.0px;font-size:15.5px;letter-spacing:0.379px">as well as for Zn and Mg (diamagnetic A-sites)—raising</div><div class="t j" style="left:1009.0px;top:218.4px;width:370.0px;font-size:15.5px;letter-spacing:0.450px">questions about the magnetic ground states of the lat-</div><div class="t j" style="left:1009.0px;top:235.8px;width:370.0px;font-size:15.5px;letter-spacing:0.350px">ter compounds and suggesting either static order or slow</div><div class="t" style="left:1009.0px;top:253.2px;width:370.0px;font-size:15.5px;letter-spacing:0.450px">spin relaxation on the Mössbauer timescale.</div><div class="t j" style="left:1009.0px;top:447.3px;width:370.0px;font-size:14.0px;letter-spacing:0.387px">FIG. 1. (Color online) Geometry and exchange interactions of</div><div class="t j" style="left:1009.0px;top:463.1px;width:370.0px;font-size:14.0px;letter-spacing:0.406px">the 6H-perovskite, AB-stacked dimer triangular lattice. The</div><div class="t j" style="left:1009.0px;top:478.9px;width:370.0px;font-size:14.0px;letter-spacing:0.406px">unit cell is outlined in magenta and contains two dimers, one</div><div class="t j" style="left:1009.0px;top:494.8px;width:370.0px;font-size:14.0px;letter-spacing:0.277px">in each layer. The left panel shows a side view of the structure,</div><div class="t j" style="left:1009.0px;top:510.6px;width:370.0px;font-size:14.0px;letter-spacing:0.406px">with white and black circles representing magnetic dimers in</div><div class="t j" style="left:1009.0px;top:526.4px;width:370.0px;font-size:14.0px;letter-spacing:0.406px">alternating triangular layers along the hexagonal <i>c</i>-axis; non-</div><div class="t j" style="left:1009.0px;top:542.3px;width:370.0px;font-size:14.0px;letter-spacing:0.406px">magnetic ions are omitted for clarity. The right panel shows</div><div class="t j" style="left:1009.0px;top:558.1px;width:370.0px;font-size:14.0px;letter-spacing:0.356px">the top-down view, where the dimer units form an AB-stacked</div><div class="t j" style="left:1009.0px;top:573.9px;width:370.0px;font-size:14.0px;letter-spacing:0.406px">triangular lattice. Four distinct antiferromagnetic exchange</div><div class="t j" style="left:1009.0px;top:589.7px;width:370.0px;font-size:14.0px;letter-spacing:0.406px">interactions are indicated: intradimer (<i>J</i><sub>1</sub>, red), tripod (<i>J</i><sub>2</sub>,</div><div class="t j" style="left:1009.0px;top:605.6px;width:370.0px;font-size:14.0px;letter-spacing:0.406px">green), triangle (<i>J</i><sub>3</sub>, blue), and bowtie (<i>J</i><sub>4</sub>, yellow). The black</div><div class="t" style="left:1009.0px;top:621.4px;width:370.0px;font-size:14.0px;letter-spacing:0.406px">circles are connected with dashed lines for <i>J</i><sub>3</sub>.</div><div class="t j" style="left:1009.0px;top:660.4px;width:370.0px;font-size:15.5px;letter-spacing:0.450px;text-indent:15.5px">More recently, neutron powder diffraction on</div><div class="t j" style="left:1009.0px;top:677.7px;width:370.0px;font-size:15.5px;letter-spacing:0.450px">Ba<sub>3</sub>ZnRu<sub>2−<i>x</i></sub>Ir<sub>2<i>x</i></sub>O<sub>9</sub> (<i>x</i> = 0, 1, 2) and BCRO re-</div><div class="t j" style="left:1009.0px;top:695.1px;width:370.0px;font-size:15.5px;letter-spacing:0.450px">vealed no magnetic Bragg peaks down to 5 K [10] and</div><div class="t j" style="left:1009.0px;top:712.5px;width:370.0px;font-size:15.5px;letter-spacing:0.450px">1.6 K [11], respectively. A separate study comparing</div><div class="t j" style="left:1009.0px;top:729.9px;width:370.0px;font-size:15.5px;letter-spacing:0.450px">dilute A-site substitution (2% Co, Ni, or Cu) in BZRO</div><div class="t j" style="left:1009.0px;top:747.3px;width:370.0px;font-size:15.5px;letter-spacing:0.450px">and BCRO concluded that the dilute ions in the sub-</div><div class="t j" style="left:1009.0px;top:764.6px;width:370.0px;font-size:15.5px;letter-spacing:0.450px">stituted Zn compound might represent a spin-liquid</div><div class="t j" style="left:1009.0px;top:782.0px;width:370.0px;font-size:15.5px;letter-spacing:0.251px">analogue of the Kondo effect [12]. Investigations into Nb</div><div class="t j" style="left:1009.0px;top:799.4px;width:370.0px;font-size:15.5px;letter-spacing:0.450px">substitution on the Ru site in Ba<sub>3</sub>Ca(Ru<sub>1−<i>x</i></sub>Nb<sub><i>x</i></sub>)<sub>2</sub>O<sub>9</sub></div><div class="t j" style="left:1009.0px;top:816.8px;width:370.0px;font-size:15.5px;letter-spacing:0.450px">and Ba<sub>3</sub>Sr(Ru<sub>1−<i>x</i></sub>Nb<sub><i>x</i></sub>)<sub>2</sub>O<sub>9</sub> were modeled with <i>S</i> = 1</div><div class="t j" style="left:1009.0px;top:834.2px;width:370.0px;font-size:15.5px;letter-spacing:0.450px">(not the Hund <i>S</i> = <span class="fr"><span class="fn">3</span><span class="fd">2</span></span>) for the NbRuO<sub>9</sub> dimers in the</div><div class="t j" style="left:1009.0px;top:851.5px;width:370.0px;font-size:15.5px;letter-spacing:0.450px">Ca system [13], though later work on that compound</div><div class="t j" style="left:1009.0px;top:868.9px;width:370.0px;font-size:15.5px;letter-spacing:0.412px">proposed a more conventional <i>S</i> = <span class="fr"><span class="fn">3</span><span class="fd">2</span></span> model with internal</div><div class="t j" style="left:1009.0px;top:886.3px;width:370.0px;font-size:15.5px;letter-spacing:0.450px">magnetic fields [14]. Finally, a resonant inelastic x-ray</div><div class="t j" style="left:1009.0px;top:903.7px;width:370.0px;font-size:15.5px;letter-spacing:0.450px">scattering (RIXS) study of BZRO tested the possibility</div><div class="t j" style="left:1009.0px;top:921.1px;width:370.0px;font-size:15.5px;letter-spacing:0.450px">of an orbital-selective S = 1 state, but concluded that</div><div class="t" style="left:1009.0px;top:938.4px;width:370.0px;font-size:15.5px;letter-spacing:0.450px">the system hosts <i>S</i> = <span class="fr"><span class="fn">3</span><span class="fd">2</span></span> antiferromagnetic dimers [15].</div><div class="t j" style="left:1009.0px;top:956.4px;width:370.0px;font-size:15.5px;letter-spacing:0.450px;text-indent:15.5px">To better understand the anomalous magnetic behav-</div><div class="t j" style="left:1009.0px;top:973.7px;width:370.0px;font-size:15.5px;letter-spacing:0.450px">ior of Ba<sub>3</sub>Zn<sub>1−<i>x</i></sub>Ca<sub><i>x</i></sub>Ru<sub>2</sub>O<sub>9</sub>, and to explore the broader</div><div class="t j" style="left:1009.0px;top:991.1px;width:370.0px;font-size:15.5px;letter-spacing:0.450px">physics of this dimer lattice, we investigate the ground-</div><div class="t j" style="left:1009.0px;top:1008.5px;width:370.0px;font-size:15.5px;letter-spacing:0.450px">state phase diagram as a function of antiferromagnetic</div><div class="t j" style="left:1009.0px;top:1025.9px;width:370.0px;font-size:15.5px;letter-spacing:0.450px">exchange interactions. While motivated by the unex-</div><div class="t j" style="left:1009.0px;top:1043.3px;width:370.0px;font-size:15.5px;letter-spacing:0.391px">plained observations, our goal is also to characterize the</div><div class="t j" style="left:1009.0px;top:1060.6px;width:370.0px;font-size:15.5px;letter-spacing:0.291px">possible phases that can arise in this geometry more gen-</div><div class="t j" style="left:1009.0px;top:1078.0px;width:370.0px;font-size:15.5px;letter-spacing:0.415px">erally, including regimes not yet realized in experiment.</div><div class="t j" style="left:1407.0px;top:79.4px;width:371.0px;font-size:15.5px;letter-spacing:0.450px">Our approach combines classical Luttinger–Tisza (LT)</div><div class="t j" style="left:1407.0px;top:96.7px;width:371.0px;font-size:15.5px;letter-spacing:0.312px">analysis, dimer mean-field theory incorporating quantum</div><div class="t j" style="left:1407.0px;top:114.1px;width:371.0px;font-size:15.5px;letter-spacing:0.271px">degrees of freedom, and linear spin-wave theory (LSWT)</div><div class="t j" style="left:1407.0px;top:131.5px;width:371.0px;font-size:15.5px;letter-spacing:0.450px">to evaluate the effects of quantum fluctuations. These</div><div class="t j" style="left:1407.0px;top:148.9px;width:371.0px;font-size:15.5px;letter-spacing:0.430px">methods are used to construct a global phase diagram in</div><div class="t j" style="left:1407.0px;top:166.3px;width:371.0px;font-size:15.5px;letter-spacing:0.450px">Section II, which is then compared to experimental ob-</div><div class="t j" style="left:1407.0px;top:183.6px;width:371.0px;font-size:15.5px;letter-spacing:0.450px">servations in Section III. By digitizing previously pub-</div><div class="t j" style="left:1407.0px;top:201.0px;width:371.0px;font-size:15.5px;letter-spacing:0.445px">lished data, performing density functional theory (DFT)</div><div class="t j" style="left:1407.0px;top:218.4px;width:371.0px;font-size:15.5px;letter-spacing:0.361px">calculations, and analyzing both previously reported and</div><div class="t j" style="left:1407.0px;top:235.8px;width:371.0px;font-size:15.5px;letter-spacing:0.445px">newly collected neutron spectroscopy results, we assign</div><div class="t j" style="left:1407.0px;top:253.2px;width:371.0px;font-size:15.5px;letter-spacing:0.449px">different compositions of Ba<sub>3</sub>Zn<sub>1−<i>x</i></sub>Ca<sub><i>x</i></sub>Ru<sub>2</sub>O<sub>9</sub> to specific</div><div class="t j" style="left:1407.0px;top:270.5px;width:371.0px;font-size:15.5px;letter-spacing:0.450px">regions of the phase diagram and examine how the un-</div><div class="t" style="left:1407.0px;top:287.9px;width:371.0px;font-size:15.5px;letter-spacing:0.445px">derlying magnetic correlations evolve with substitution.</div><div class="t j" style="left:1407.0px;top:304.8px;width:371.0px;font-size:15.5px;letter-spacing:0.282px;text-indent:15.5px">Our analysis suggests that the moment suppression ob-</div><div class="t j" style="left:1407.0px;top:322.1px;width:371.0px;font-size:15.5px;letter-spacing:0.450px">served in this family of compounds, as well as the com-</div><div class="t j" style="left:1407.0px;top:339.5px;width:371.0px;font-size:15.5px;letter-spacing:0.450px">plete lack of detectable magnetic order in the case of</div><div class="t j" style="left:1407.0px;top:356.9px;width:371.0px;font-size:15.5px;letter-spacing:0.411px">BZRO, can be attributed to three mechanisms. When in-</div><div class="t j" style="left:1407.0px;top:374.3px;width:371.0px;font-size:15.5px;letter-spacing:0.367px">terdimer exchanges are small, moments are substantially</div><div class="t j" style="left:1407.0px;top:391.7px;width:371.0px;font-size:15.5px;letter-spacing:0.430px">suppressed due to localized quantum fluctuations on the</div><div class="t j" style="left:1407.0px;top:409.0px;width:371.0px;font-size:15.5px;letter-spacing:0.432px"><i>J</i><sub>1</sub> bonds: the ground state is approximately a product of</div><div class="t j" style="left:1407.0px;top:426.4px;width:371.0px;font-size:15.5px;letter-spacing:0.262px">nonmagnetic singlets or, for slightly larger interdimer ex-</div><div class="t j" style="left:1407.0px;top:443.8px;width:371.0px;font-size:15.5px;letter-spacing:0.450px">change, singlets mixed with magnetic multiplets. When</div><div class="t j" style="left:1407.0px;top:461.2px;width:371.0px;font-size:15.5px;letter-spacing:0.318px">interdimer exchanges are large, leading to the emergence</div><div class="t j" style="left:1407.0px;top:478.6px;width:371.0px;font-size:15.5px;letter-spacing:0.270px">of finite magnetic dipoles on each site, zero-point correc-</div><div class="t j" style="left:1407.0px;top:495.9px;width:371.0px;font-size:15.5px;letter-spacing:0.450px">tions calculated using standard LSWT suggest a signif-</div><div class="t j" style="left:1407.0px;top:513.3px;width:371.0px;font-size:15.5px;letter-spacing:0.450px">icant moment reduction due to the collective quantum</div><div class="t j" style="left:1407.0px;top:530.7px;width:371.0px;font-size:15.5px;letter-spacing:0.450px">fluctuations typically observed in (frustrated) antiferro-</div><div class="t j" style="left:1407.0px;top:548.1px;width:371.0px;font-size:15.5px;letter-spacing:0.450px">magnetic systems. On top of these mechanisms, ligand</div><div class="t j" style="left:1407.0px;top:565.5px;width:371.0px;font-size:15.5px;letter-spacing:0.445px">hybridization acts to reduce the local moments through-</div><div class="t" style="left:1407.0px;top:582.8px;width:371.0px;font-size:15.5px;letter-spacing:0.450px">out the phase diagram.</div><div class="t j" style="left:1407.0px;top:708.8px;width:371.0px;font-size:15.5px;letter-spacing:0.450px;text-indent:15.5px">To generate a phase diagram for the 6H-perovskite</div><div class="t j" style="left:1407.0px;top:726.1px;width:371.0px;font-size:15.5px;letter-spacing:0.450px">dimer lattice with antiferromagnetic interactions—</div><div class="t j" style="left:1407.0px;top:743.5px;width:371.0px;font-size:15.5px;letter-spacing:0.450px">including the possibility of a dimer forming a singlet</div><div class="t j" style="left:1407.0px;top:760.9px;width:371.0px;font-size:15.5px;letter-spacing:0.450px">ground state when energetically favorable—we imple-</div><div class="t j" style="left:1407.0px;top:778.3px;width:371.0px;font-size:15.5px;letter-spacing:0.361px">ment a dimer mean-field theory [16] for the ground state</div><div class="t j" style="left:1407.0px;top:795.7px;width:371.0px;font-size:15.5px;letter-spacing:0.450px">from the LT analysis in Appendix A. In this approach,</div><div class="t j" style="left:1407.0px;top:813.0px;width:371.0px;font-size:15.5px;letter-spacing:0.399px">each magnetic dimer is locally treated as a quantum me-</div><div class="t j" style="left:1407.0px;top:830.4px;width:371.0px;font-size:15.5px;letter-spacing:0.450px">chanical two-site system, while the couplings between</div><div class="t j" style="left:1407.0px;top:847.8px;width:371.0px;font-size:15.5px;letter-spacing:0.450px">dimers are approximated at the mean-field level. The</div><div class="t j" style="left:1407.0px;top:865.2px;width:371.0px;font-size:15.5px;letter-spacing:0.450px">resulting Hamiltonian includes an exact intradimer ex-</div><div class="t j" style="left:1407.0px;top:882.6px;width:371.0px;font-size:15.5px;letter-spacing:0.450px">change term and mean-field approximations for all in-</div><div class="t j" style="left:1407.0px;top:899.9px;width:371.0px;font-size:15.5px;letter-spacing:0.450px">terdimer couplings. Explicitly, within the context of the</div><div class="t j" style="left:1407.0px;top:917.3px;width:371.0px;font-size:15.5px;letter-spacing:0.360px">previous definitions, the mean-field Hamiltonian for one</div><div class="t" style="left:1407.0px;top:934.7px;width:371.0px;font-size:15.5px;letter-spacing:0.450px">symmetrically distinct dimer takes the form:</div><div class="t j" style="left:1407.0px;top:1060.8px;width:371.0px;font-size:15.5px;letter-spacing:0.450px">where <b>S</b><sub>2</sub> and <b>S</b><sub>3</sub> label the two spins within the dimer,</div><div class="t j" style="left:1407.0px;top:1078.1px;width:371.0px;font-size:15.5px;letter-spacing:0.450px">and the angle brackets denote expectation values taken</div><div class="t j" style="left:1936.0px;top:79.4px;width:370.0px;font-size:15.5px;letter-spacing:0.450px">over neighboring dimers. The momentum dependence</div><div class="t j" style="left:1936.0px;top:96.7px;width:370.0px;font-size:15.5px;letter-spacing:0.420px">reflects the Fourier structure of the exchange couplings.</div><div class="t j" style="left:1936.0px;top:114.1px;width:370.0px;font-size:15.5px;letter-spacing:0.450px">Note that the lowest energy mode obtained from the LT</div><div class="t j" style="left:1936.0px;top:131.5px;width:370.0px;font-size:15.5px;letter-spacing:0.450px">analysis involves only <b>S</b><sub>2</sub> and <b>S</b><sub>3</sub>. Numerical details are</div><div class="t" style="left:1936.0px;top:148.9px;width:370.0px;font-size:15.5px;letter-spacing:0.450px">in Appendix B.</div><div class="t j" style="left:1936.0px;top:640.1px;width:370.0px;font-size:14.0px;letter-spacing:0.406px">FIG. 2. (Color online) Results of dimer mean-field theory</div><div class="t j" style="left:1936.0px;top:655.9px;width:370.0px;font-size:14.0px;letter-spacing:0.406px">for spins <i>S</i> = <span class="fr"><span class="fn">1</span><span class="fd">2</span></span> (left column) and <i>S</i> = <span class="fr"><span class="fn">3</span><span class="fd">2</span></span> (right column) on</div><div class="t j" style="left:1936.0px;top:671.8px;width:370.0px;font-size:14.0px;letter-spacing:0.406px">the 6H-perovskite dimer lattice, LT mode 1. (a,b) Maps of</div><div class="t j" style="left:1936.0px;top:687.6px;width:370.0px;font-size:14.0px;letter-spacing:0.406px">the squared total spin ⟨<b>S</b><span class="ss"><span>2</span><span>tot</span></span>⟩ of the ground state across the</div><div class="t j" style="left:1936.0px;top:703.5px;width:370.0px;font-size:14.0px;letter-spacing:0.406px">(<i>J</i><sub>2</sub>, <i>J</i><sub>3</sub>) parameter space, with a well-defined singlet region</div><div class="t j" style="left:1936.0px;top:719.3px;width:370.0px;font-size:14.0px;letter-spacing:0.406px">in both and the onset of mixing with excited states. (c,d)</div><div class="t j" style="left:1936.0px;top:735.2px;width:370.0px;font-size:14.0px;letter-spacing:0.406px">Energies (scaled by <i>J</i><sub>1</sub>) of the dimer eigenstates as a func-</div><div class="t j" style="left:1936.0px;top:751.0px;width:370.0px;font-size:14.0px;letter-spacing:0.406px">tion of <i>J</i><sub>2</sub>/<i>J</i><sub>1</sub>, for fixed <i>J</i><sub>3</sub>/<i>J</i><sub>1</sub> = 0.05 (dashed lines in panels</div><div class="t j" style="left:1936.0px;top:766.9px;width:370.0px;font-size:14.0px;letter-spacing:0.406px">a,b). (e,f) Corresponding ⟨<b>S</b><span class="ss"><span>2</span><span>tot</span></span>⟩ values for these eigenstates,</div><div class="t j" style="left:1936.0px;top:782.7px;width:370.0px;font-size:14.0px;letter-spacing:0.406px">illustrating the phase transition from a singlet and mixing</div><div class="t j" style="left:1936.0px;top:798.6px;width:370.0px;font-size:14.0px;letter-spacing:0.406px">between different spin multiplets. (g,h) Composition of the</div><div class="t" style="left:1936.0px;top:816.7px;width:370.0px;font-size:14.0px;letter-spacing:0.406px">ground-state wavefunction in the |<i>S</i><span class="ss"><span>(2)</span><span><i>z</i></span></span>, <i>S</i><span class="ss"><span>(3)</span><span><i>z</i></span></span>⟩ basis.</div><div class="t j" style="left:1936.0px;top:852.9px;width:370.0px;font-size:15.5px;letter-spacing:0.450px;text-indent:15.5px">Figure 2 presents the results of the dimer mean-field</div><div class="t j" style="left:1936.0px;top:870.2px;width:370.0px;font-size:15.5px;letter-spacing:0.450px">theory for both <i>S</i> = <span class="fr"><span class="fn">1</span><span class="fd">2</span></span> and <i>S</i> = <span class="fr"><span class="fn">3</span><span class="fd">2</span></span>. The top row, panels</div><div class="t j" style="left:1936.0px;top:887.6px;width:370.0px;font-size:15.5px;letter-spacing:0.360px">(a) and (b), displays color maps of the squared total spin</div><div class="t j" style="left:1936.0px;top:905.0px;width:370.0px;font-size:15.5px;letter-spacing:0.395px">⟨<b>S</b><span class="ss"><span>2</span><span>tot</span></span>⟩ across the (<i>J</i><sub>2</sub>, <i>J</i><sub>3</sub>) parameter space. In each case, a</div><div class="t j" style="left:1936.0px;top:922.4px;width:370.0px;font-size:15.5px;letter-spacing:0.260px">region of pure singlet (⟨<b>S</b><span class="ss"><span>2</span><span>tot</span></span>⟩ = 0) emerges for weak inter-</div><div class="t j" style="left:1936.0px;top:939.8px;width:370.0px;font-size:15.5px;letter-spacing:0.450px">dimer couplings <i>J</i><sub>2</sub> and <i>J</i><sub>3</sub>. Panels (c) and (d) show the</div><div class="t j" style="left:1936.0px;top:957.1px;width:370.0px;font-size:15.5px;letter-spacing:0.345px">energy spectrum of the dimer mean-field Hamiltonian as</div><div class="t j" style="left:1936.0px;top:974.5px;width:370.0px;font-size:15.5px;letter-spacing:0.450px">a function of <i>J</i><sub>2</sub>/<i>J</i><sub>1</sub> for fixed <i>J</i><sub>3</sub>/<i>J</i><sub>1</sub> = 0.05, marked by the</div><div class="t j" style="left:1936.0px;top:991.9px;width:370.0px;font-size:15.5px;letter-spacing:0.450px">dashed horizontal lines in panels (a) and (b). This value</div><div class="t j" style="left:1936.0px;top:1009.3px;width:370.0px;font-size:15.5px;letter-spacing:0.450px">of <i>J</i><sub>3</sub>/<i>J</i><sub>1</sub> was selected because scanning <i>J</i><sub>2</sub>/<i>J</i><sub>1</sub> reveals a</div><div class="t j" style="left:1936.0px;top:1026.7px;width:370.0px;font-size:15.5px;letter-spacing:0.450px">quantum phase transition, visible as an inflection point</div><div class="t j" style="left:1936.0px;top:1044.0px;width:370.0px;font-size:15.5px;letter-spacing:0.450px">in the energy spectra. Panels (e) and (f) show the corre-</div><div class="t j" style="left:1936.0px;top:1061.4px;width:370.0px;font-size:15.5px;letter-spacing:0.290px">sponding ⟨<b>S</b><span class="ss"><span>2</span><span>tot</span></span>⟩ values for each eigenstate along the same</div><div class="t j" style="left:1936.0px;top:1078.8px;width:370.0px;font-size:15.5px;letter-spacing:0.450px"><i>J</i><sub>2</sub>/<i>J</i><sub>1</sub> cut. In the pure singlet phase, the ground state</div><div class="t j" style="left:2334.0px;top:79.1px;width:371.0px;font-size:15.5px;letter-spacing:0.450px">maintains ⟨<b>S</b><span class="ss"><span>2</span><span>tot</span></span>⟩ = 0, but this value increases continu-</div><div class="t j" style="left:2334.0px;top:96.4px;width:371.0px;font-size:15.5px;letter-spacing:0.361px">ously above a critical <i>J</i><sub>2</sub>/<i>J</i><sub>1</sub> as interdimer couplings drive</div><div class="t j" style="left:2334.0px;top:113.8px;width:371.0px;font-size:15.5px;letter-spacing:0.269px">hybridization with higher-spin sectors. This behavior sig-</div><div class="t j" style="left:2334.0px;top:131.2px;width:371.0px;font-size:15.5px;letter-spacing:0.450px">nals the onset of an interdimer-induced admixed phase,</div><div class="t j" style="left:2334.0px;top:148.6px;width:371.0px;font-size:15.5px;letter-spacing:0.450px">characterized by a finite local moment that supports the</div><div class="t j" style="left:2334.0px;top:166.0px;width:371.0px;font-size:15.5px;letter-spacing:0.343px">possibility of long-range dipolar magnetic order. Finally,</div><div class="t j" style="left:2334.0px;top:183.3px;width:371.0px;font-size:15.5px;letter-spacing:0.361px">panels (g) and (h) display the ground-state wavefunction</div><div class="t j" style="left:2334.0px;top:200.7px;width:371.0px;font-size:15.5px;letter-spacing:0.450px">weights projected onto the product-state basis, labeled</div><div class="t j" style="left:2334.0px;top:220.9px;width:371.0px;font-size:15.5px;letter-spacing:0.450px">by the spin-<i>z</i> components <i>S</i><span class="ss"><span>(2)</span><span><i>z</i></span></span> and <i>S</i><span class="ss"><span>(3)</span><span><i>z</i></span></span> of the two spins.</div><div class="t j" style="left:2334.0px;top:238.2px;width:371.0px;font-size:15.5px;letter-spacing:0.450px">These panels illustrate how the singlet evolves continu-</div><div class="t j" style="left:2334.0px;top:255.6px;width:371.0px;font-size:15.5px;letter-spacing:0.450px">ously into a quantum superposition of multiplet compo-</div><div class="t j" style="left:2334.0px;top:273.0px;width:371.0px;font-size:15.5px;letter-spacing:0.246px">nents. The overall phase of each eigenvector was fixed so</div><div class="t j" style="left:2334.0px;top:290.4px;width:371.0px;font-size:15.5px;letter-spacing:0.450px">all wavefunction amplitudes are real-valued. For <i>S</i> = <span class="fr"><span class="fn">1</span><span class="fd">2</span></span>,</div><div class="t j" style="left:2334.0px;top:307.6px;width:371.0px;font-size:15.5px;letter-spacing:0.450px">the transition involves redistribution to triplet states or-</div><div class="t j" style="left:2334.0px;top:324.9px;width:371.0px;font-size:15.5px;letter-spacing:0.415px">thogonal to the singlet; for <i>S</i> = <span class="fr"><span class="fn">3</span><span class="fd">2</span></span>, this redistribution also</div><div class="t" style="left:2334.0px;top:342.3px;width:371.0px;font-size:15.5px;letter-spacing:0.450px">includes quintet and septet manifolds.</div><div class="t j" style="left:2334.0px;top:365.4px;width:371.0px;font-size:15.5px;letter-spacing:0.450px;text-indent:15.5px">The <i>S</i> = <span class="fr"><span class="fn">1</span><span class="fd">2</span></span> case is presented as the minimal quantum</div><div class="t j" style="left:2334.0px;top:382.7px;width:371.0px;font-size:15.5px;letter-spacing:0.450px">model and serves to build intuition for the <i>S</i> = <span class="fr"><span class="fn">3</span><span class="fd">2</span></span> behav-</div><div class="t j" style="left:2334.0px;top:403.9px;width:371.0px;font-size:15.5px;letter-spacing:0.450px">ior, which is directly relevant for the Ru<sup>5+</sup> ions in the</div><div class="t j" style="left:2334.0px;top:421.2px;width:371.0px;font-size:15.5px;letter-spacing:0.450px">compound Ba<sub>3</sub>Zn<sub>1−<i>x</i></sub>Ca<sub><i>x</i></sub>Ru<sub>2</sub>O<sub>9</sub>. The extent of the sin-</div><div class="t j" style="left:2334.0px;top:438.6px;width:371.0px;font-size:15.5px;letter-spacing:0.299px">glet phase shrinks as the spin quantum number increases,</div><div class="t j" style="left:2334.0px;top:456.0px;width:371.0px;font-size:15.5px;letter-spacing:0.450px">consistent with the expectation that in the classical <i>S</i> →</div><div class="t j" style="left:2334.0px;top:473.4px;width:371.0px;font-size:15.5px;letter-spacing:0.450px">∞ limit, there is no singlet formation. Within the finite-</div><div class="t j" style="left:2334.0px;top:490.8px;width:371.0px;font-size:15.5px;letter-spacing:0.450px">moment phase, there are both commensurate (<b>k</b><sub>0</sub> = 0)</div><div class="t j" style="left:2334.0px;top:508.1px;width:371.0px;font-size:15.5px;letter-spacing:0.450px">and incommensurate (<b>k</b><sub>0</sub> = (<i>h</i>, <i>h</i>, 0)-type) solutions, as</div><div class="t j" style="left:2334.0px;top:525.5px;width:371.0px;font-size:15.5px;letter-spacing:0.450px">inherited from the LT analysis (see Appendix A). Wave</div><div class="t j" style="left:2334.0px;top:542.9px;width:371.0px;font-size:15.5px;letter-spacing:0.450px">vectors are reported in reciprocal-lattice units (r.l.u.) of</div><div class="t j" style="left:2334.0px;top:560.3px;width:371.0px;font-size:15.5px;letter-spacing:0.450px">the 6H-perovskite cell, <b>Q</b> = (<i>h</i>, <i>k</i>, <i>l</i>) = <i>h</i><b>a</b><sup>*</sup> + <i>k</i><b>b</b><sup>*</sup> + <i>l</i><b>c</b><sup>*</sup>,</div><div class="t" style="left:2334.0px;top:577.7px;width:371.0px;font-size:15.5px;letter-spacing:0.450px">with |<b>a</b><sup>*</sup>| = |<b>b</b><sup>*</sup>| = 2π/<i>a</i> and |<b>c</b><sup>*</sup>| = 2π/<i>c</i>.</div><div class="t j" style="left:2334.0px;top:883.2px;width:371.0px;font-size:14.0px;letter-spacing:0.406px">FIG. 3. (Color online) Results of finite-temperature dimer</div><div class="t j" style="left:2334.0px;top:899.0px;width:371.0px;font-size:14.0px;letter-spacing:0.406px">mean-field theory for <i>S</i> = <span class="fr"><span class="fn">3</span><span class="fd">2</span></span> on the 6H-perovskite dimer lat-</div><div class="t j" style="left:2334.0px;top:914.9px;width:371.0px;font-size:14.0px;letter-spacing:0.406px">tice, for LT mode 1. (a) Mean-field ordering temperature <i>T</i><sub>N</sub></div><div class="t j" style="left:2334.0px;top:930.7px;width:371.0px;font-size:14.0px;letter-spacing:0.364px">in kelvin for <i>J</i><sub>1</sub> = 1 meV, as a function of interdimer couplings</div><div class="t j" style="left:2334.0px;top:946.5px;width:371.0px;font-size:14.0px;letter-spacing:0.406px"><i>J</i><sub>2</sub> and <i>J</i><sub>3</sub>. (b) Temperature dependence of the staggered mo-</div><div class="t" style="left:2334.0px;top:962.4px;width:371.0px;font-size:14.0px;letter-spacing:0.406px">ment ⟨<i>S</i><sub><i>z</i></sub>⟩ for selected <i>J</i><sub>2</sub> values at fixed <i>J</i><sub>3</sub> = 0.05.</div><div class="t j" style="left:2334.0px;top:1008.9px;width:371.0px;font-size:15.5px;letter-spacing:0.450px;text-indent:15.5px">To determine the onset of long-range magnetic order,</div><div class="t j" style="left:2334.0px;top:1026.2px;width:371.0px;font-size:15.5px;letter-spacing:0.450px">we extend the dimer mean-field theory to finite tem-</div><div class="t j" style="left:2334.0px;top:1043.6px;width:371.0px;font-size:15.5px;letter-spacing:0.450px">peratures. In this formulation, the mean-field Hamilto-</div><div class="t j" style="left:2334.0px;top:1061.0px;width:371.0px;font-size:15.5px;letter-spacing:0.391px">nian remains unchanged, but the spin expectation values</div><div class="t j" style="left:2334.0px;top:1078.4px;width:371.0px;font-size:15.5px;letter-spacing:0.305px">are computed using thermally weighted averages over all</div><div class="t j" style="left:2863.0px;top:588.3px;width:769.0px;font-size:14.0px;letter-spacing:0.406px">FIG. 4. (Color online) LSWT of the 6H-perovskite dimer lattice with varying interdimer exchange <i>J</i><sub>2</sub>/<i>J</i><sub>1</sub> (with <i>J</i><sub>3</sub>/<i>J</i><sub>1</sub> = 0.05,</div><div class="t j" style="left:2863.0px;top:604.2px;width:769.0px;font-size:14.0px;letter-spacing:0.406px"><i>J</i><sub>4</sub> = 0) at zero temperature, shown for both LSWT and entangled-unit GLSWT calculations. (a) Ordering wavevector</div><div class="t j" style="left:2863.0px;top:620.2px;width:769.0px;font-size:14.0px;letter-spacing:0.406px">component <i>h</i> of <b>k</b><sub>0</sub> = (<i>h</i>, <i>h</i>, 0) as a function of <i>J</i><sub>2</sub>/<i>J</i><sub>1</sub>. (b) Comparison of excitation spectra at <b>k</b><sub>0</sub> computed using traditional</div><div class="t j" style="left:2863.0px;top:636.1px;width:769.0px;font-size:14.0px;letter-spacing:0.406px">LSWT (white to blue colormap) and GLSWT entangled-unit formalism (black to red colormap). The inset magnifies the low-<i>J</i><sub>2</sub></div><div class="t j" style="left:2863.0px;top:652.0px;width:769.0px;font-size:14.0px;letter-spacing:0.406px">regime, where the entangled-unit model yields a pure singlet ground state. Intensities in (b) are plotted on a log<sub>10</sub> scale. Panels</div><div class="t j" style="left:2863.0px;top:668.0px;width:769.0px;font-size:14.0px;letter-spacing:0.406px">(c) and (e) show the intensity-clipped neutron dynamic structure factor <i>S</i>(<b>Q</b>, ℏω) for representative values <i>J</i><sub>2</sub>/<i>J</i><sub>1</sub> = 0.05 and</div><div class="t j" style="left:2863.0px;top:683.9px;width:769.0px;font-size:14.0px;letter-spacing:0.406px"><i>J</i><sub>2</sub>/<i>J</i><sub>1</sub> = 0.5, respectively, with overlaid magnon modes (green). Panels (d) and (f) show the corresponding results from the</div><div class="t" style="left:2863.0px;top:699.9px;width:769.0px;font-size:14.0px;letter-spacing:0.406px">entangled-unit approach.</div><div class="t" style="left:2863.0px;top:748.9px;width:370.0px;font-size:15.5px;letter-spacing:0.450px">eigenstates of the dimer:</div><div class="t j" style="left:2863.0px;top:835.3px;width:370.0px;font-size:15.5px;letter-spacing:0.450px">where <i>ψ</i><sub><i>i</i></sub> and <i>E</i><sub><i>i</i></sub> are the eigenvectors and eigenvalues</div><div class="t j" style="left:2863.0px;top:852.6px;width:370.0px;font-size:15.5px;letter-spacing:0.412px">of the self-consistent dimer Hamiltonian at a given tem-</div><div class="t j" style="left:2863.0px;top:870.0px;width:370.0px;font-size:15.5px;letter-spacing:0.450px">perature <i>T</i>. Temperatures are given in kelvin, and we</div><div class="t j" style="left:2863.0px;top:887.4px;width:370.0px;font-size:15.5px;letter-spacing:0.450px">take <i>J</i><sub>1</sub> = 1 meV as the energy scale. This approach</div><div class="t j" style="left:2863.0px;top:904.8px;width:370.0px;font-size:15.5px;letter-spacing:0.248px">yields the mean-field transition temperature <i>T</i><sub>N</sub> as a func-</div><div class="t j" style="left:2863.0px;top:922.2px;width:370.0px;font-size:15.5px;letter-spacing:0.450px">tion of <i>J</i><sub>2</sub> and <i>J</i><sub>3</sub>, shown in Fig. 3(a) for the <i>S</i> = <span class="fr"><span class="fn">3</span><span class="fd">2</span></span></div><div class="t j" style="left:2863.0px;top:939.5px;width:370.0px;font-size:15.5px;letter-spacing:0.450px">case. Figure 3(b) presents the temperature dependence</div><div class="t j" style="left:2863.0px;top:956.9px;width:370.0px;font-size:15.5px;letter-spacing:0.450px">of the staggered moment ⟨<i>S</i><sub><i>z</i></sub>⟩ for fixed <i>J</i><sub>3</sub> = 0.05 meV</div><div class="t j" style="left:2863.0px;top:974.3px;width:370.0px;font-size:15.5px;letter-spacing:0.450px">and several representative values of <i>J</i><sub>2</sub>. As temperature</div><div class="t j" style="left:2863.0px;top:991.7px;width:370.0px;font-size:15.5px;letter-spacing:0.450px">decreases, the moment rises continuously from zero at</div><div class="t j" style="left:2863.0px;top:1009.1px;width:370.0px;font-size:15.5px;letter-spacing:0.450px"><i>T</i><sub>N</sub>, reflecting the second-order character of the mean-</div><div class="t j" style="left:2863.0px;top:1026.4px;width:370.0px;font-size:15.5px;letter-spacing:0.450px">field transition. At low temperature, the moment satu-</div><div class="t j" style="left:2863.0px;top:1043.8px;width:370.0px;font-size:15.5px;letter-spacing:0.450px">rates to the ground-state maximum (which is less than</div><div class="t j" style="left:2863.0px;top:1061.2px;width:370.0px;font-size:15.5px;letter-spacing:0.450px">the full <i>S</i> = <span class="fr"><span class="fn">3</span><span class="fd">2</span></span> value), and its magnitude increases with</div><div class="t j" style="left:2863.0px;top:1078.6px;width:370.0px;font-size:15.5px;letter-spacing:0.332px"><i>J</i><sub>2</sub>, consistent with stronger interdimer coupling favoring</div><div class="t" style="left:3261.0px;top:748.9px;width:371.0px;font-size:15.5px;letter-spacing:0.450px">moment formation.</div><div class="t j" style="left:3261.0px;top:852.3px;width:371.0px;font-size:15.5px;letter-spacing:0.450px;text-indent:15.5px">To better understand the collective excitations of the</div><div class="t j" style="left:3261.0px;top:869.6px;width:371.0px;font-size:15.5px;letter-spacing:0.450px">6H-perovskite dimer lattice, we employed both tradi-</div><div class="t j" style="left:3261.0px;top:887.0px;width:371.0px;font-size:15.5px;letter-spacing:0.450px">tional LSWT as well as a generalized LSWT (GLSWT)</div><div class="t j" style="left:3261.0px;top:904.4px;width:371.0px;font-size:15.5px;letter-spacing:0.234px">using an “entangled-unit” formalism [17] as implemented</div><div class="t j" style="left:3261.0px;top:921.8px;width:371.0px;font-size:15.5px;letter-spacing:0.450px">in <span class="tt">Sunny.jl</span> [18]. The GLSWT approach captures the</div><div class="t j" style="left:3261.0px;top:939.2px;width:371.0px;font-size:15.5px;letter-spacing:0.374px">full 16-dimensional local Hilbert associated with the <i>S</i> =</div><div class="t j" style="left:3261.0px;top:956.5px;width:371.0px;font-size:15.5px;letter-spacing:0.450px"><span class="fr"><span class="fn">3</span><span class="fd">2</span></span> dimer on each <i>J</i><sub>1</sub>-bond and enables the direct mod-</div><div class="t j" style="left:3261.0px;top:973.9px;width:371.0px;font-size:15.5px;letter-spacing:0.450px">eling of multiplet mixing. We consider a representative</div><div class="t j" style="left:3261.0px;top:991.3px;width:371.0px;font-size:15.5px;letter-spacing:0.450px">exchange parameter set along the same line cut as the</div><div class="t j" style="left:3261.0px;top:1008.7px;width:371.0px;font-size:15.5px;letter-spacing:0.450px">dimer mean-field calculations, <i>J</i><sub>3</sub>/<i>J</i><sub>1</sub> = 0.05, and <i>J</i><sub>4</sub> = 0,</div><div class="t j" style="left:3261.0px;top:1026.1px;width:371.0px;font-size:15.5px;letter-spacing:0.450px">varying <i>J</i><sub>2</sub>/<i>J</i><sub>1</sub> to explore the evolution of magnetic exci-</div><div class="t j" style="left:3261.0px;top:1043.4px;width:371.0px;font-size:15.5px;letter-spacing:0.450px">tations. For the LSWT calculations, we use the single-<b>k</b></div><div class="t j" style="left:3261.0px;top:1060.8px;width:371.0px;font-size:15.5px;letter-spacing:0.450px">spiral formalism [19] when the system becomes incom-</div><div class="t j" style="left:3261.0px;top:1078.2px;width:371.0px;font-size:15.5px;letter-spacing:0.384px">mensurate, and we verify that the predicted ground-state</div><div class="t j" style="left:3790.0px;top:79.4px;width:370.0px;font-size:15.5px;letter-spacing:0.450px">wavevector from LT analysis agrees with direct energy</div><div class="t j" style="left:3790.0px;top:96.7px;width:370.0px;font-size:15.5px;letter-spacing:0.450px">minimization within <span class="tt">Sunny.jl</span>. As shown in Fig. 5(a),</div><div class="t j" style="left:3790.0px;top:114.1px;width:370.0px;font-size:15.5px;letter-spacing:0.450px">the system smoothly transitions from <b>k</b> = (<span class="fr"><span class="fn">1</span><span class="fd">3</span></span>, <span class="fr"><span class="fn">1</span><span class="fd">3</span></span>, 0) at</div><div class="t j" style="left:3790.0px;top:131.5px;width:370.0px;font-size:15.5px;letter-spacing:0.450px"><i>J</i><sub>2</sub> = 0 to incommensurate order, and then to commen-</div><div class="t" style="left:3790.0px;top:148.9px;width:370.0px;font-size:15.5px;letter-spacing:0.450px">surate <b>k</b> = (0, 0, 0) order as <i>J</i><sub>2</sub>/<i>J</i><sub>1</sub> increases.</div><div class="t j" style="left:3790.0px;top:168.2px;width:370.0px;font-size:15.5px;letter-spacing:0.450px;text-indent:15.5px">Figure 4(b) compares the spin-wave spectra at the LT</div><div class="t j" style="left:3790.0px;top:185.5px;width:370.0px;font-size:15.5px;letter-spacing:0.450px">wavevector <b>k</b><sub>0</sub> using both methods. At <i>J</i><sub>2</sub> = 0 (decou-</div><div class="t j" style="left:3790.0px;top:202.9px;width:370.0px;font-size:15.5px;letter-spacing:0.450px">pled dimer layers and weak within-layer coupling), the</div><div class="t j" style="left:3790.0px;top:220.3px;width:370.0px;font-size:15.5px;letter-spacing:0.217px">GLSWT calculation yields a gapped, nonmagnetic singlet</div><div class="t j" style="left:3790.0px;top:237.7px;width:370.0px;font-size:15.5px;letter-spacing:0.450px">ground state with dispersive triplons that exhibit a min-</div><div class="t j" style="left:3790.0px;top:255.1px;width:370.0px;font-size:15.5px;letter-spacing:0.404px">ima at <b>k</b><sub>0</sub>, while the traditional LSWT calculation yields</div><div class="t j" style="left:3790.0px;top:272.4px;width:370.0px;font-size:15.5px;letter-spacing:0.450px">a gapless Goldstone mode due to spontaneous symme-</div><div class="t j" style="left:3790.0px;top:289.8px;width:370.0px;font-size:15.5px;letter-spacing:0.450px">try breaking. Representative spectra at a slightly larger</div><div class="t j" style="left:3790.0px;top:307.2px;width:370.0px;font-size:15.5px;letter-spacing:0.450px">value, <i>J</i><sub>2</sub>/<i>J</i><sub>1</sub> = 0.05, [Figs. 4(c,d)] show broadly similar</div><div class="t j" style="left:3790.0px;top:324.6px;width:370.0px;font-size:15.5px;letter-spacing:0.260px">dispersions across momentum space for both approaches,</div><div class="t j" style="left:3790.0px;top:342.0px;width:370.0px;font-size:15.5px;letter-spacing:0.450px">though the entangled-unit model remains gapped, ex-</div><div class="t j" style="left:3790.0px;top:359.3px;width:370.0px;font-size:15.5px;letter-spacing:0.450px">hibits a slightly higher-energy mode, and includes an</div><div class="t j" style="left:3790.0px;top:376.7px;width:370.0px;font-size:15.5px;letter-spacing:0.450px">additional excitation branch. As <i>J</i><sub>2</sub> grows, the triplon</div><div class="t j" style="left:3790.0px;top:394.1px;width:370.0px;font-size:15.5px;letter-spacing:0.450px">band in the GLSWT calculation softens, eventually be-</div><div class="t j" style="left:3790.0px;top:411.5px;width:370.0px;font-size:15.5px;letter-spacing:0.276px">coming gapless with the emergence of magnetic order. In</div><div class="t j" style="left:3790.0px;top:428.9px;width:370.0px;font-size:15.5px;letter-spacing:0.349px">the regime with finite dipolar order and incommensurate</div><div class="t j" style="left:3790.0px;top:446.2px;width:370.0px;font-size:15.5px;letter-spacing:0.440px">wavevector, the spin-wave spectra are not computed for</div><div class="t j" style="left:3790.0px;top:463.6px;width:370.0px;font-size:15.5px;letter-spacing:0.254px">the GLSWT model due to the computational cost of large</div><div class="t j" style="left:3790.0px;top:481.0px;width:370.0px;font-size:15.5px;letter-spacing:0.415px">supercells. At <i>J</i><sub>2</sub>/<i>J</i><sub>1</sub> = 0.5 [Figs. 4(e,f)], the two methods</div><div class="t j" style="left:3790.0px;top:498.4px;width:370.0px;font-size:15.5px;letter-spacing:0.334px">converge, yielding nearly indistinguishable spectra aside</div><div class="t j" style="left:3790.0px;top:515.8px;width:370.0px;font-size:15.5px;letter-spacing:0.450px">from minor scaling in mode energies and residual mul-</div><div class="t j" style="left:3790.0px;top:533.1px;width:370.0px;font-size:15.5px;letter-spacing:0.450px">tiplet mode intensity, supporting the robustness of the</div><div class="t" style="left:3790.0px;top:550.5px;width:370.0px;font-size:15.5px;letter-spacing:0.450px">LSWT description in the large-<i>J</i><sub>2</sub> regime.</div><div class="t j" style="left:3790.0px;top:571.6px;width:370.0px;font-size:15.5px;letter-spacing:0.450px;text-indent:15.5px">Importantly, the entangled-units formalism captures</div><div class="t j" style="left:3790.0px;top:588.9px;width:370.0px;font-size:15.5px;letter-spacing:0.450px">the stabilization of the pure singlet phase in the low-<i>J</i><sub>2</sub></div><div class="t j" style="left:3790.0px;top:606.3px;width:370.0px;font-size:15.5px;letter-spacing:0.403px">limit, where all higher multiplet components remain un-</div><div class="t j" style="left:3790.0px;top:623.7px;width:370.0px;font-size:15.5px;letter-spacing:0.382px">populated, as well as the transition to a finite dipolar or-</div><div class="t j" style="left:3790.0px;top:641.1px;width:370.0px;font-size:15.5px;letter-spacing:0.258px">der with reduced on-site magnetization due to mixing be-</div><div class="t j" style="left:3790.0px;top:658.5px;width:370.0px;font-size:15.5px;letter-spacing:0.306px">tween singlet and higher-spin multiplets. Notably, within</div><div class="t j" style="left:3790.0px;top:675.8px;width:370.0px;font-size:15.5px;letter-spacing:0.450px">the GLSWT description, the phase transition from the</div><div class="t j" style="left:3790.0px;top:693.2px;width:370.0px;font-size:15.5px;letter-spacing:0.450px">singlet to the interdimer-induced admixed phase is ac-</div><div class="t j" style="left:3790.0px;top:710.6px;width:370.0px;font-size:15.5px;letter-spacing:0.450px">companied by the closing of the excitation gap. We</div><div class="t j" style="left:3790.0px;top:728.0px;width:370.0px;font-size:15.5px;letter-spacing:0.450px">note that the entangled-units calculation is most accu-</div><div class="t j" style="left:3790.0px;top:745.4px;width:370.0px;font-size:15.5px;letter-spacing:0.450px">rate for smaller values of <i>J</i><sub>2</sub>/<i>J</i><sub>1</sub>. Moreover, as a general</div><div class="t j" style="left:3790.0px;top:762.7px;width:370.0px;font-size:15.5px;letter-spacing:0.419px">rule, semi-classical methods such as the entangled-units</div><div class="t j" style="left:3790.0px;top:780.1px;width:370.0px;font-size:15.5px;letter-spacing:0.450px">formalism tend to overestimate the stability of ordered</div><div class="t j" style="left:3790.0px;top:797.5px;width:370.0px;font-size:15.5px;letter-spacing:0.450px">phases near quantum phase transitions, meaning that</div><div class="t j" style="left:3790.0px;top:814.9px;width:370.0px;font-size:15.5px;letter-spacing:0.450px">the the value of <i>J</i><sub>2</sub>/<i>J</i><sub>1</sub> at which the triplon gap closes</div><div class="t j" style="left:3790.0px;top:832.3px;width:370.0px;font-size:15.5px;letter-spacing:0.450px">and magnetic order emerges is likely larger than what</div><div class="t j" style="left:3790.0px;top:849.6px;width:370.0px;font-size:15.5px;letter-spacing:0.450px">is predicted here (see [20] and references therein). One</div><div class="t j" style="left:3790.0px;top:867.0px;width:370.0px;font-size:15.5px;letter-spacing:0.450px">can therefore expect that the portion of the phase dia-</div><div class="t j" style="left:3790.0px;top:884.4px;width:370.0px;font-size:15.5px;letter-spacing:0.450px">gram corresponding to a pure singlet ground state (no</div><div class="t j" style="left:3790.0px;top:901.8px;width:370.0px;font-size:15.5px;letter-spacing:0.394px">magnetic moment) is in fact larger than what is reported</div><div class="t" style="left:3790.0px;top:919.2px;width:370.0px;font-size:15.5px;letter-spacing:0.450px">here.</div><div class="t j" style="left:3790.0px;top:938.9px;width:370.0px;font-size:15.5px;letter-spacing:0.304px;text-indent:15.5px">Within the traditional LSWT formalism, we calculated</div><div class="t j" style="left:3790.0px;top:956.2px;width:370.0px;font-size:15.5px;letter-spacing:0.317px">the quantum correction <i>δS</i> to the ordered moment, which</div><div class="t j" style="left:3790.0px;top:973.6px;width:370.0px;font-size:15.5px;letter-spacing:0.183px">provides a measure of the extent to which zero-point fluc-</div><div class="t j" style="left:3790.0px;top:991.0px;width:370.0px;font-size:15.5px;letter-spacing:0.450px">tuations reduce magnetic order. Fig. 5 shows <i>δS</i> for a</div><div class="t j" style="left:3790.0px;top:1008.4px;width:370.0px;font-size:15.5px;letter-spacing:0.450px">range of <i>J</i><sub>2</sub>/<i>J</i><sub>1</sub> values with fixed <i>J</i><sub>3</sub>/<i>J</i><sub>1</sub> = 0.05 and <i>J</i><sub>4</sub> = 0.</div><div class="t j" style="left:3790.0px;top:1025.8px;width:370.0px;font-size:15.5px;letter-spacing:0.450px">When <i>J</i><sub>2</sub>/<i>J</i><sub>1</sub> ≤ 0.1, this analysis suggests a very strong</div><div class="t j" style="left:3790.0px;top:1043.1px;width:370.0px;font-size:15.5px;letter-spacing:0.450px">suppression of the magnetic moment. The entangled-</div><div class="t j" style="left:3790.0px;top:1060.5px;width:370.0px;font-size:15.5px;letter-spacing:0.450px">unit GLSWT analysis indicates that the ground state</div><div class="t j" style="left:3790.0px;top:1077.9px;width:370.0px;font-size:15.5px;letter-spacing:0.450px">in this region of the phase diagram is product of pure</div><div class="t j" style="left:4188.0px;top:79.4px;width:371.0px;font-size:15.5px;letter-spacing:0.450px">singlets, which cannot be represented in the traditional</div><div class="t j" style="left:4188.0px;top:96.7px;width:371.0px;font-size:15.5px;letter-spacing:0.450px">(large-<i>S</i>) semiclassical framework. The large <i>δS</i> values</div><div class="t j" style="left:4188.0px;top:114.1px;width:371.0px;font-size:15.5px;letter-spacing:0.450px">are therefore expected, but it is not possible to tell from</div><div class="t j" style="left:4188.0px;top:131.5px;width:371.0px;font-size:15.5px;letter-spacing:0.450px">this analysis whether they may be attributed entirely to</div><div class="t j" style="left:4188.0px;top:148.9px;width:371.0px;font-size:15.5px;letter-spacing:0.175px">the fluctuations within localized dimers or to some collec-</div><div class="t j" style="left:4188.0px;top:166.3px;width:371.0px;font-size:15.5px;letter-spacing:0.359px">tive effect. <i>J</i><sub>2</sub>/<i>J</i><sub>1</sub> ≈ 0.1 corresponds to the emergence of a</div><div class="t j" style="left:4188.0px;top:183.6px;width:371.0px;font-size:15.5px;letter-spacing:0.312px">finite magnetic moment in the entangled-units formalism</div><div class="t j" style="left:4188.0px;top:201.0px;width:371.0px;font-size:15.5px;letter-spacing:0.450px">and the onset of incommenensurate order; as expected,</div><div class="t j" style="left:4188.0px;top:218.4px;width:371.0px;font-size:15.5px;letter-spacing:0.414px">the strongest quantum fluctuations outside of the singlet</div><div class="t j" style="left:4188.0px;top:235.8px;width:371.0px;font-size:15.5px;letter-spacing:0.450px">region of the phase diagram occur in this incommensu-</div><div class="t j" style="left:4188.0px;top:253.2px;width:371.0px;font-size:15.5px;letter-spacing:0.450px">rate phase, with a correspondingly large suppression of</div><div class="t j" style="left:4188.0px;top:270.5px;width:371.0px;font-size:15.5px;letter-spacing:0.450px">the ordered moment. A clear kink appears in <i>δS</i> near</div><div class="t j" style="left:4188.0px;top:287.9px;width:371.0px;font-size:15.5px;letter-spacing:0.450px"><i>J</i><sub>2</sub>/<i>J</i><sub>1</sub> ≈ 0.25, corresponding to the crossover from in-</div><div class="t j" style="left:4188.0px;top:305.3px;width:371.0px;font-size:15.5px;letter-spacing:0.450px">commensurate to commensurate (<b>k</b><sub>0</sub> = 0) magnetic or-</div><div class="t j" style="left:4188.0px;top:322.7px;width:371.0px;font-size:15.5px;letter-spacing:0.450px">der. Given the close agreement between the LSWT and</div><div class="t j" style="left:4188.0px;top:340.1px;width:371.0px;font-size:15.5px;letter-spacing:0.450px">GLSWT spectra outside the singlet phase (larger <i>J</i><sub>2</sub>/<i>J</i><sub>1</sub>),</div><div class="t j" style="left:4188.0px;top:357.4px;width:371.0px;font-size:15.5px;letter-spacing:0.268px">the LSWT values of <i>δS</i> serve as a useful estimate for mo-</div><div class="t" style="left:4188.0px;top:374.8px;width:371.0px;font-size:15.5px;letter-spacing:0.450px">ment reduction in the full quantum system.</div><div class="t j" style="left:4188.0px;top:569.2px;width:371.0px;font-size:14.0px;letter-spacing:0.406px">FIG. 5. (Color online) LSWT zero-point spin correction <i>δS</i></div><div class="t j" style="left:4188.0px;top:585.0px;width:371.0px;font-size:14.0px;letter-spacing:0.406px">for the 6H-perovskite dimer lattice as a function of <i>J</i><sub>2</sub>, with</div><div class="t" style="left:4188.0px;top:600.9px;width:371.0px;font-size:14.0px;letter-spacing:0.406px">fixed <i>J</i><sub>1</sub> = 1, <i>J</i><sub>3</sub> = 0.05, and <i>J</i><sub>4</sub> = 0.</div><div class="t j" style="left:4188.0px;top:641.7px;width:371.0px;font-size:15.5px;letter-spacing:0.450px;text-indent:15.5px">To summarize, LSWT calculations on the 6H-</div><div class="t j" style="left:4188.0px;top:659.0px;width:371.0px;font-size:15.5px;letter-spacing:0.450px">perovskite dimer lattice reveal complementary insights</div><div class="t j" style="left:4188.0px;top:676.4px;width:371.0px;font-size:15.5px;letter-spacing:0.450px">from traditional LSWT and GLSWT entangled-unit ap-</div><div class="t j" style="left:4188.0px;top:693.8px;width:371.0px;font-size:15.5px;letter-spacing:0.335px">proaches. The entangled-unit formalism captures the sta-</div><div class="t j" style="left:4188.0px;top:711.2px;width:371.0px;font-size:15.5px;letter-spacing:0.450px">bilization of a gapped singlet phase in the weakly inter-</div><div class="t j" style="left:4188.0px;top:728.6px;width:371.0px;font-size:15.5px;letter-spacing:0.271px">acting limit, while LSWT model effectively describes the</div><div class="t j" style="left:4188.0px;top:745.9px;width:371.0px;font-size:15.5px;letter-spacing:0.352px">ordered regime and its excitations. Both methods exhibit</div><div class="t j" style="left:4188.0px;top:763.3px;width:371.0px;font-size:15.5px;letter-spacing:0.450px">similar spectra once dipolar order emerges, supporting</div><div class="t j" style="left:4188.0px;top:780.7px;width:371.0px;font-size:15.5px;letter-spacing:0.450px">the use of LSWT as a reliable low-energy theory when</div><div class="t j" style="left:4188.0px;top:798.1px;width:371.0px;font-size:15.5px;letter-spacing:0.450px">well outside of the singlet dome. Additionally, LSWT</div><div class="t j" style="left:4188.0px;top:815.5px;width:371.0px;font-size:15.5px;letter-spacing:0.450px">corrections to the ordered moment and zero-point ener-</div><div class="t j" style="left:4188.0px;top:832.8px;width:371.0px;font-size:15.5px;letter-spacing:0.400px">gies highlight the role of quantum fluctuations in select-</div><div class="t" style="left:4188.0px;top:850.2px;width:371.0px;font-size:15.5px;letter-spacing:0.450px">ing ordering vectors and suppressing magnetic order.</div><div class="t j" style="left:4188.0px;top:991.6px;width:371.0px;font-size:15.5px;letter-spacing:0.450px;text-indent:15.5px">Having established the phase behavior of the anti-</div><div class="t j" style="left:4188.0px;top:1008.9px;width:371.0px;font-size:15.5px;letter-spacing:0.450px">ferromagnetically coupled 6H-perovskite dimer lattice</div><div class="t j" style="left:4188.0px;top:1026.3px;width:371.0px;font-size:15.5px;letter-spacing:0.450px">through model Hamiltonian analysis, we now turn to</div><div class="t j" style="left:4188.0px;top:1043.7px;width:371.0px;font-size:15.5px;letter-spacing:0.341px">first-principles calculations to connect this framework to</div><div class="t j" style="left:4188.0px;top:1061.1px;width:371.0px;font-size:15.5px;letter-spacing:0.450px">Ba<sub>3</sub>Zn<sub>1−<i>x</i></sub>Ca<sub><i>x</i></sub>Ru<sub>2</sub>O<sub>9</sub>. To this end, we employ DFT cal-</div><div class="t j" style="left:4188.0px;top:1078.5px;width:371.0px;font-size:15.5px;letter-spacing:0.392px">culations for select systems to extract exchange parame-</div>
</body></html>
